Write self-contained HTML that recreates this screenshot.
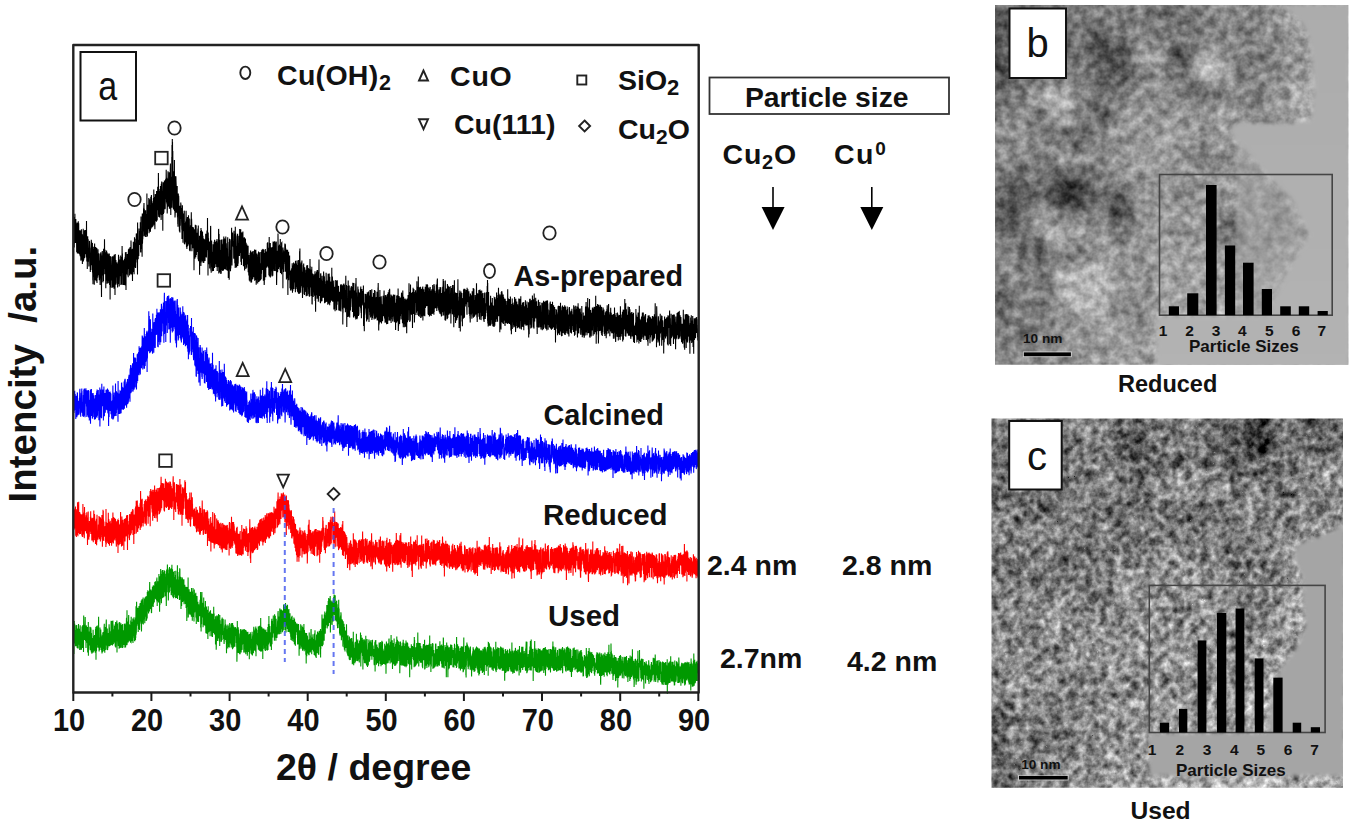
<!DOCTYPE html>
<html><head><meta charset="utf-8">
<style>
html,body{margin:0;padding:0;background:#fff;width:1356px;height:828px;overflow:hidden}
svg{display:block}
text{font-family:"Liberation Sans",sans-serif;font-weight:bold;fill:#111}
.reg{font-weight:normal}
</style></head>
<body>
<svg width="1356" height="828" viewBox="0 0 1356 828">
<rect width="1356" height="828" fill="#fff"/>
<!-- curves -->
<g><polyline fill="none" stroke="#000000" stroke-width="1.1" stroke-linejoin="miter" points="73.8,230.5 73.9,247.2 74.0,217.1 74.2,247.4 74.3,223.7 74.4,228.0 74.5,243.3 74.7,227.8 74.8,233.2 74.9,213.8 75.0,241.1 75.2,233.2 75.3,225.6 75.4,242.9 75.5,224.9 75.7,230.7 75.8,219.0 75.9,229.2 76.0,222.0 76.2,224.4 76.3,242.8 76.4,225.5 76.5,233.4 76.7,252.2 76.8,251.7 76.9,243.2 77.0,236.6 77.2,227.1 77.3,223.1 77.4,253.5 77.5,236.9 77.7,222.4 77.8,241.6 77.9,247.6 78.0,241.9 78.2,253.5 78.3,221.3 78.4,239.8 78.5,237.6 78.7,223.3 78.8,245.1 78.9,253.3 79.0,244.1 79.2,232.2 79.3,254.1 79.4,242.3 79.5,242.8 79.7,252.2 79.8,230.3 79.9,255.5 80.0,250.9 80.2,255.1 80.3,233.6 80.4,256.5 80.5,234.3 80.7,230.6 80.8,259.4 80.9,259.9 81.0,260.7 81.2,246.0 81.3,238.9 81.4,229.2 81.5,252.8 81.7,255.6 81.8,259.8 81.9,239.5 82.0,237.0 82.2,252.5 82.3,258.5 82.4,264.1 82.5,234.2 82.7,246.2 82.8,261.2 82.9,243.7 83.0,249.7 83.2,228.8 83.3,252.5 83.4,261.4 83.5,257.9 83.7,260.0 83.8,251.8 83.9,236.6 84.0,255.8 84.2,235.5 84.3,258.2 84.4,230.3 84.5,258.3 84.7,234.3 84.8,242.2 84.9,240.3 85.0,254.2 85.2,235.7 85.3,243.9 85.4,229.9 85.5,239.5 85.7,245.5 85.8,234.2 85.9,253.6 86.0,244.7 86.2,257.4 86.3,255.0 86.4,247.1 86.5,221.1 86.7,254.8 86.8,261.5 86.9,244.7 87.0,252.2 87.2,239.8 87.3,269.0 87.4,242.0 87.5,242.7 87.7,236.3 87.8,243.2 87.9,261.8 88.0,259.7 88.2,239.3 88.3,248.5 88.4,250.4 88.5,259.5 88.7,252.1 88.8,257.1 88.9,266.4 89.0,262.5 89.2,249.7 89.3,252.8 89.4,250.1 89.5,240.9 89.7,244.3 89.8,247.3 89.9,248.4 90.0,248.4 90.2,257.9 90.3,272.1 90.4,265.0 90.5,265.6 90.7,264.4 90.8,258.5 90.9,270.0 91.0,261.7 91.2,254.9 91.3,239.7 91.4,254.4 91.5,244.5 91.6,241.7 91.8,255.2 91.9,265.3 92.0,247.8 92.1,265.0 92.3,256.4 92.4,243.1 92.5,272.6 92.6,252.7 92.8,280.2 92.9,269.2 93.0,284.3 93.1,265.9 93.3,246.7 93.4,254.4 93.5,249.0 93.6,271.2 93.8,255.5 93.9,276.8 94.0,264.6 94.1,267.5 94.3,284.7 94.4,254.4 94.5,257.9 94.6,243.6 94.8,251.6 94.9,280.0 95.0,272.0 95.1,258.1 95.3,268.4 95.4,259.3 95.5,259.5 95.6,264.1 95.8,246.9 95.9,264.1 96.0,281.2 96.1,257.0 96.3,273.6 96.4,262.8 96.5,254.6 96.6,279.5 96.8,248.0 96.9,258.3 97.0,283.1 97.1,257.0 97.3,277.9 97.4,269.3 97.5,276.5 97.6,270.4 97.8,260.9 97.9,275.2 98.0,249.2 98.1,264.2 98.3,261.7 98.4,265.5 98.5,253.3 98.6,256.8 98.8,269.0 98.9,263.0 99.0,277.5 99.1,271.0 99.3,280.3 99.4,275.9 99.5,271.4 99.6,260.5 99.8,278.2 99.9,259.5 100.0,253.4 100.1,284.9 100.3,270.1 100.4,278.4 100.5,269.8 100.6,272.8 100.8,252.3 100.9,257.7 101.0,274.9 101.1,271.2 101.3,256.5 101.4,284.4 101.5,296.9 101.6,268.5 101.8,255.4 101.9,275.4 102.0,259.7 102.1,254.5 102.3,251.1 102.4,255.5 102.5,255.9 102.6,267.8 102.8,264.6 102.9,282.3 103.0,282.0 103.1,276.3 103.3,271.8 103.4,277.7 103.5,281.0 103.6,248.7 103.8,252.0 103.9,260.5 104.0,251.1 104.1,268.9 104.3,257.0 104.4,257.2 104.5,239.2 104.6,251.6 104.8,274.2 104.9,271.2 105.0,269.8 105.1,249.8 105.3,263.8 105.4,272.9 105.5,254.5 105.6,262.7 105.8,288.2 105.9,252.3 106.0,257.1 106.1,264.1 106.3,265.9 106.4,280.7 106.5,260.9 106.6,250.6 106.8,278.8 106.9,252.1 107.0,253.2 107.1,283.7 107.3,276.4 107.4,261.9 107.5,254.8 107.6,263.8 107.8,262.2 107.9,281.0 108.0,265.2 108.1,253.5 108.3,283.2 108.4,272.7 108.5,255.2 108.6,255.3 108.8,267.8 108.9,254.9 109.0,273.9 109.1,273.6 109.3,253.4 109.4,280.7 109.5,280.2 109.6,284.9 109.7,276.5 109.9,277.5 110.0,259.2 110.1,299.4 110.2,256.1 110.4,287.6 110.5,276.6 110.6,287.2 110.7,266.4 110.9,280.6 111.0,256.7 111.1,260.2 111.2,264.1 111.4,273.6 111.5,273.9 111.6,271.8 111.7,269.2 111.9,274.5 112.0,288.0 112.1,270.3 112.2,283.5 112.4,256.3 112.5,267.8 112.6,273.8 112.7,275.9 112.9,263.0 113.0,268.2 113.1,287.3 113.2,276.9 113.4,274.8 113.5,256.7 113.6,256.3 113.7,261.9 113.9,259.4 114.0,288.8 114.1,254.8 114.2,267.5 114.4,256.9 114.5,277.1 114.6,256.6 114.7,257.4 114.9,257.9 115.0,295.0 115.1,275.2 115.2,254.1 115.4,264.6 115.5,265.2 115.6,284.1 115.7,281.4 115.9,260.0 116.0,283.7 116.1,284.6 116.2,261.9 116.4,277.6 116.5,262.7 116.6,264.3 116.7,273.1 116.9,274.1 117.0,272.6 117.1,274.7 117.2,263.4 117.4,283.0 117.5,265.6 117.6,287.6 117.7,273.8 117.9,266.4 118.0,261.8 118.1,272.6 118.2,268.7 118.4,277.2 118.5,254.8 118.6,256.6 118.7,284.1 118.9,256.8 119.0,283.6 119.1,282.9 119.2,286.6 119.4,277.3 119.5,259.5 119.6,269.1 119.7,268.8 119.9,275.2 120.0,266.2 120.1,276.2 120.2,259.5 120.4,264.4 120.5,270.8 120.6,266.5 120.7,255.6 120.9,284.9 121.0,275.1 121.1,279.8 121.2,263.1 121.4,283.5 121.5,278.7 121.6,284.4 121.7,257.0 121.9,266.8 122.0,263.5 122.1,246.1 122.2,258.8 122.4,253.6 122.5,266.8 122.6,272.5 122.7,263.7 122.9,284.9 123.0,264.6 123.1,261.0 123.2,279.1 123.4,267.0 123.5,260.3 123.6,260.9 123.7,284.2 123.9,284.7 124.0,273.7 124.1,260.8 124.2,276.1 124.4,258.7 124.5,262.4 124.6,270.2 124.7,265.2 124.9,263.4 125.0,285.3 125.1,257.0 125.2,272.5 125.4,252.2 125.5,254.0 125.6,258.1 125.7,285.6 125.9,276.1 126.0,290.1 126.1,251.9 126.2,274.1 126.4,265.5 126.5,264.5 126.6,274.6 126.7,260.3 126.9,267.4 127.0,258.2 127.1,262.6 127.2,267.5 127.3,253.9 127.5,257.9 127.6,262.7 127.7,264.3 127.8,275.6 128.0,269.7 128.1,266.6 128.2,277.2 128.3,253.0 128.5,249.3 128.6,259.3 128.7,249.8 128.8,264.4 129.0,264.7 129.1,248.6 129.2,269.1 129.3,263.1 129.5,258.1 129.6,275.4 129.7,273.0 129.8,250.1 130.0,247.9 130.1,274.4 130.2,247.1 130.3,268.3 130.5,252.3 130.6,253.8 130.7,260.6 130.8,273.7 131.0,240.6 131.1,246.2 131.2,266.0 131.3,254.2 131.5,250.3 131.6,274.4 131.7,249.3 131.8,265.3 132.0,274.2 132.1,266.8 132.2,264.8 132.3,265.2 132.5,280.9 132.6,248.8 132.7,261.5 132.8,267.7 133.0,270.6 133.1,271.2 133.2,271.0 133.3,241.8 133.5,251.7 133.6,254.4 133.7,270.0 133.8,252.7 134.0,247.0 134.1,274.2 134.2,247.5 134.3,265.1 134.5,237.3 134.6,242.4 134.7,247.4 134.8,255.2 135.0,248.8 135.1,267.4 135.2,242.7 135.3,255.3 135.5,262.9 135.6,268.1 135.7,265.9 135.8,238.8 136.0,262.4 136.1,257.9 136.2,248.3 136.3,233.6 136.5,238.5 136.6,259.4 136.7,234.8 136.8,242.8 137.0,240.3 137.1,257.9 137.2,243.4 137.3,233.0 137.5,274.5 137.6,222.5 137.7,254.8 137.8,239.8 138.0,253.0 138.1,246.9 138.2,259.2 138.3,253.0 138.5,240.5 138.6,242.8 138.7,241.8 138.8,256.0 139.0,228.4 139.1,238.4 139.2,242.0 139.3,237.8 139.5,243.2 139.6,239.0 139.7,235.3 139.8,244.9 140.0,231.1 140.1,240.9 140.2,244.9 140.3,222.2 140.5,229.0 140.6,251.6 140.7,251.9 140.8,252.4 141.0,216.4 141.1,245.3 141.2,248.9 141.3,247.2 141.5,239.8 141.6,237.9 141.7,239.1 141.8,233.2 142.0,240.8 142.1,256.7 142.2,218.8 142.3,213.4 142.5,243.7 142.6,237.5 142.7,215.3 142.8,239.3 143.0,219.1 143.1,231.4 143.2,220.5 143.3,214.7 143.5,212.9 143.6,208.6 143.7,208.3 143.8,207.8 144.0,203.0 144.1,236.3 144.2,223.9 144.3,208.8 144.5,223.6 144.6,224.0 144.7,221.9 144.8,210.6 145.0,219.1 145.1,235.5 145.2,216.6 145.3,221.0 145.4,237.1 145.6,210.2 145.7,228.8 145.8,219.4 145.9,230.8 146.1,214.2 146.2,221.0 146.3,214.1 146.4,233.0 146.6,234.7 146.7,223.6 146.8,236.9 146.9,193.6 147.1,230.7 147.2,233.0 147.3,208.9 147.4,236.3 147.6,213.1 147.7,217.1 147.8,204.7 147.9,229.3 148.1,210.4 148.2,223.9 148.3,205.6 148.4,210.6 148.6,211.7 148.7,205.9 148.8,198.0 148.9,226.3 149.1,233.2 149.2,205.1 149.3,202.5 149.4,209.6 149.6,199.3 149.7,221.2 149.8,210.2 149.9,217.6 150.1,230.9 150.2,229.1 150.3,231.3 150.4,231.8 150.6,218.3 150.7,214.9 150.8,196.7 150.9,199.2 151.1,215.5 151.2,228.4 151.3,211.9 151.4,195.1 151.6,203.2 151.7,224.5 151.8,201.0 151.9,202.6 152.1,205.9 152.2,218.5 152.3,227.3 152.4,203.2 152.6,218.0 152.7,215.3 152.8,211.9 152.9,217.1 153.1,226.2 153.2,202.8 153.3,213.7 153.4,197.9 153.6,214.1 153.7,224.8 153.8,189.4 153.9,212.1 154.1,204.8 154.2,215.7 154.3,207.2 154.4,196.9 154.6,212.6 154.7,223.0 154.8,226.2 154.9,229.2 155.1,204.9 155.2,199.9 155.3,193.9 155.4,206.2 155.6,220.3 155.7,197.3 155.8,221.0 155.9,215.0 156.1,194.5 156.2,210.9 156.3,217.9 156.4,221.8 156.6,191.1 156.7,216.6 156.8,214.4 156.9,193.1 157.1,194.7 157.2,220.4 157.3,196.7 157.4,193.5 157.6,210.2 157.7,186.8 157.8,200.4 157.9,195.3 158.1,202.4 158.2,204.6 158.3,205.9 158.4,173.1 158.6,215.4 158.7,213.3 158.8,217.1 158.9,197.8 159.1,209.0 159.2,197.1 159.3,191.0 159.4,205.8 159.6,217.4 159.7,211.8 159.8,191.3 159.9,189.0 160.1,210.6 160.2,208.0 160.3,214.3 160.4,186.0 160.6,214.4 160.7,197.4 160.8,191.2 160.9,194.0 161.1,219.9 161.2,218.4 161.3,183.8 161.4,193.1 161.6,209.1 161.7,182.0 161.8,182.0 161.9,182.3 162.1,215.0 162.2,193.7 162.3,193.1 162.4,211.9 162.6,192.9 162.7,209.5 162.8,230.8 162.9,191.6 163.0,195.0 163.2,186.1 163.3,182.2 163.4,213.8 163.5,213.5 163.7,197.0 163.8,205.9 163.9,212.7 164.0,193.6 164.2,206.2 164.3,207.7 164.4,180.4 164.5,182.6 164.7,206.9 164.8,204.8 164.9,183.8 165.0,209.2 165.2,207.9 165.3,188.9 165.4,188.9 165.5,179.4 165.7,192.6 165.8,178.8 165.9,195.8 166.0,198.8 166.2,169.8 166.3,175.9 166.4,197.6 166.5,202.5 166.7,177.7 166.8,195.5 166.9,204.2 167.0,178.8 167.2,213.6 167.3,209.6 167.4,198.9 167.5,205.1 167.7,180.7 167.8,196.4 167.9,206.8 168.0,171.2 168.2,202.4 168.3,178.9 168.4,201.6 168.5,195.2 168.7,201.6 168.8,185.5 168.9,187.5 169.0,206.6 169.2,172.2 169.3,175.7 169.4,208.7 169.5,206.3 169.7,175.4 169.8,208.8 169.9,180.2 170.0,205.4 170.2,205.9 170.3,170.3 170.4,163.6 170.5,182.5 170.7,206.8 170.8,215.0 170.9,184.8 171.0,203.7 171.2,181.5 171.3,183.1 171.4,176.7 171.5,207.7 171.7,201.4 171.8,157.0 171.9,179.7 172.0,145.0 172.2,185.1 172.3,139.0 172.4,186.3 172.5,142.0 172.7,200.4 172.8,151.0 172.9,207.7 173.0,196.9 173.2,172.6 173.3,203.8 173.4,209.4 173.5,204.2 173.7,171.3 173.8,190.1 173.9,195.0 174.0,207.2 174.2,192.1 174.3,175.5 174.4,159.9 174.5,211.1 174.7,192.9 174.8,176.1 174.9,207.8 175.0,217.5 175.2,214.0 175.3,176.2 175.4,193.8 175.5,188.3 175.7,181.9 175.8,207.4 175.9,176.3 176.0,181.1 176.2,185.5 176.3,212.7 176.4,205.5 176.5,190.8 176.7,210.4 176.8,188.9 176.9,210.9 177.0,210.9 177.2,186.1 177.3,206.7 177.4,215.8 177.5,217.8 177.7,216.4 177.8,224.1 177.9,219.7 178.0,226.8 178.2,207.7 178.3,193.4 178.4,199.8 178.5,204.6 178.7,195.7 178.8,198.9 178.9,215.4 179.0,205.7 179.2,207.5 179.3,225.8 179.4,230.7 179.5,231.5 179.7,212.9 179.8,226.5 179.9,232.5 180.0,205.8 180.2,208.1 180.3,225.8 180.4,211.4 180.5,208.9 180.7,215.9 180.8,202.6 180.9,219.1 181.0,204.2 181.1,212.0 181.3,211.1 181.4,215.6 181.5,207.9 181.6,221.3 181.8,229.8 181.9,216.4 182.0,239.1 182.1,236.6 182.3,215.5 182.4,205.3 182.5,233.4 182.6,213.3 182.8,216.9 182.9,226.5 183.0,242.8 183.1,216.1 183.3,222.8 183.4,229.0 183.5,231.3 183.6,213.5 183.8,228.4 183.9,226.6 184.0,231.2 184.1,210.7 184.3,211.4 184.4,244.0 184.5,238.4 184.6,238.8 184.8,243.1 184.9,244.4 185.0,223.0 185.1,237.0 185.3,233.0 185.4,230.1 185.5,234.9 185.6,221.5 185.8,242.4 185.9,225.3 186.0,215.8 186.1,210.8 186.3,234.9 186.4,219.6 186.5,247.3 186.6,218.7 186.8,223.5 186.9,249.0 187.0,231.6 187.1,246.9 187.3,241.8 187.4,216.9 187.5,220.7 187.6,227.3 187.8,246.0 187.9,225.5 188.0,230.5 188.1,231.2 188.3,225.4 188.4,242.8 188.5,215.3 188.6,221.8 188.8,244.4 188.9,236.6 189.0,232.7 189.1,227.4 189.3,218.4 189.4,230.7 189.5,250.6 189.6,235.9 189.8,235.2 189.9,250.8 190.0,246.9 190.1,251.2 190.3,249.5 190.4,238.8 190.5,225.3 190.6,237.4 190.8,227.0 190.9,244.4 191.0,219.3 191.1,231.6 191.3,212.3 191.4,231.6 191.5,237.3 191.6,218.7 191.8,225.9 191.9,251.2 192.0,240.3 192.1,229.7 192.3,235.7 192.4,245.6 192.5,246.4 192.6,248.3 192.8,228.5 192.9,227.0 193.0,242.3 193.1,238.5 193.3,240.2 193.4,227.5 193.5,231.7 193.6,248.2 193.8,233.8 193.9,248.9 194.0,270.2 194.1,256.6 194.3,229.2 194.4,239.4 194.5,256.0 194.6,231.4 194.8,230.5 194.9,258.8 195.0,255.9 195.1,242.1 195.3,224.7 195.4,245.0 195.5,231.9 195.6,230.6 195.8,257.3 195.9,245.7 196.0,239.3 196.1,225.2 196.3,236.7 196.4,255.0 196.5,234.3 196.6,235.1 196.8,245.7 196.9,232.7 197.0,244.1 197.1,252.0 197.3,234.3 197.4,241.2 197.5,245.2 197.6,237.4 197.8,232.4 197.9,228.5 198.0,245.3 198.1,259.2 198.3,225.5 198.4,256.9 198.5,260.7 198.6,245.4 198.7,261.3 198.9,251.8 199.0,246.2 199.1,243.4 199.2,243.8 199.4,252.0 199.5,235.8 199.6,274.7 199.7,245.8 199.9,252.8 200.0,262.8 200.1,237.0 200.2,243.5 200.4,238.9 200.5,230.9 200.6,252.0 200.7,252.4 200.9,266.1 201.0,228.0 201.1,244.0 201.2,262.6 201.4,230.1 201.5,240.6 201.6,257.1 201.7,235.3 201.9,242.6 202.0,260.4 202.1,241.7 202.2,237.9 202.4,261.5 202.5,231.5 202.6,259.9 202.7,239.9 202.9,235.7 203.0,245.8 203.1,245.4 203.2,262.9 203.4,254.9 203.5,244.0 203.6,247.5 203.7,238.5 203.9,262.7 204.0,240.7 204.1,258.9 204.2,250.4 204.4,259.8 204.5,239.2 204.6,241.5 204.7,239.7 204.9,256.5 205.0,261.1 205.1,256.5 205.2,243.0 205.4,256.9 205.5,253.4 205.6,245.9 205.7,233.8 205.9,236.0 206.0,253.2 206.1,234.9 206.2,248.3 206.4,257.4 206.5,252.2 206.6,250.8 206.7,238.1 206.9,233.3 207.0,230.4 207.1,231.1 207.2,238.0 207.4,250.1 207.5,218.0 207.6,237.6 207.7,241.4 207.9,247.3 208.0,275.4 208.1,254.8 208.2,232.6 208.4,248.8 208.5,238.3 208.6,262.8 208.7,264.1 208.9,252.3 209.0,259.1 209.1,257.5 209.2,262.5 209.4,243.1 209.5,241.6 209.6,260.6 209.7,268.6 209.9,242.3 210.0,254.9 210.1,254.2 210.2,248.3 210.4,262.2 210.5,240.0 210.6,225.9 210.7,226.7 210.9,270.5 211.0,260.9 211.1,262.0 211.2,272.7 211.4,244.7 211.5,258.5 211.6,240.6 211.7,242.6 211.9,262.0 212.0,266.8 212.1,259.8 212.2,257.7 212.4,265.3 212.5,271.2 212.6,270.0 212.7,265.7 212.9,251.8 213.0,263.8 213.1,244.3 213.2,268.5 213.4,245.7 213.5,270.9 213.6,246.1 213.7,244.6 213.9,247.0 214.0,252.3 214.1,241.8 214.2,244.0 214.4,266.4 214.5,268.0 214.6,239.8 214.7,250.2 214.9,249.4 215.0,264.2 215.1,258.1 215.2,249.0 215.4,262.9 215.5,256.3 215.6,242.1 215.7,263.3 215.9,251.6 216.0,267.0 216.1,259.2 216.2,240.8 216.4,262.9 216.5,256.8 216.6,255.6 216.7,251.4 216.8,260.4 217.0,238.9 217.1,255.1 217.2,271.0 217.3,244.7 217.5,242.5 217.6,252.6 217.7,256.8 217.8,251.8 218.0,255.8 218.1,262.9 218.2,267.3 218.3,240.6 218.5,252.7 218.6,228.9 218.7,230.8 218.8,273.5 219.0,262.4 219.1,234.0 219.2,255.5 219.3,244.6 219.5,241.6 219.6,263.9 219.7,272.6 219.8,267.8 220.0,239.8 220.1,240.3 220.2,257.4 220.3,259.4 220.5,260.5 220.6,270.1 220.7,270.8 220.8,273.9 221.0,250.1 221.1,254.8 221.2,273.6 221.3,262.8 221.5,239.4 221.6,270.0 221.7,259.3 221.8,243.8 222.0,249.2 222.1,257.4 222.2,259.9 222.3,251.0 222.5,263.0 222.6,255.2 222.7,271.0 222.8,266.5 223.0,241.0 223.1,239.2 223.2,266.3 223.3,257.3 223.5,270.6 223.6,251.0 223.7,241.6 223.8,236.5 224.0,262.9 224.1,238.1 224.2,258.4 224.3,255.5 224.5,261.9 224.6,269.3 224.7,243.8 224.8,252.7 225.0,262.5 225.1,242.7 225.2,238.8 225.3,240.6 225.5,269.4 225.6,264.3 225.7,243.0 225.8,236.4 226.0,259.0 226.1,247.6 226.2,244.3 226.3,243.3 226.5,253.3 226.6,248.6 226.7,270.3 226.8,256.8 227.0,268.9 227.1,269.8 227.2,269.0 227.3,254.4 227.5,257.6 227.6,255.8 227.7,237.2 227.8,270.9 228.0,242.1 228.1,256.7 228.2,261.5 228.3,277.9 228.5,256.6 228.6,260.2 228.7,267.1 228.8,260.6 229.0,261.5 229.1,268.5 229.2,279.8 229.3,256.5 229.5,238.7 229.6,243.3 229.7,238.9 229.8,269.4 230.0,249.9 230.1,256.8 230.2,266.5 230.3,262.8 230.5,271.3 230.6,255.3 230.7,262.8 230.8,268.6 231.0,240.6 231.1,253.5 231.2,239.3 231.3,256.0 231.5,246.7 231.6,227.8 231.7,251.6 231.8,240.0 232.0,265.5 232.1,248.7 232.2,233.5 232.3,242.2 232.5,246.0 232.6,232.6 232.7,236.4 232.8,241.8 233.0,243.1 233.1,246.5 233.2,241.2 233.3,241.9 233.5,247.0 233.6,242.9 233.7,257.4 233.8,258.6 234.0,230.7 234.1,236.1 234.2,234.0 234.3,243.3 234.4,243.5 234.6,258.0 234.7,257.5 234.8,263.3 234.9,256.2 235.1,253.1 235.2,267.9 235.3,226.7 235.4,246.1 235.6,243.2 235.7,233.4 235.8,266.8 235.9,259.9 236.1,246.2 236.2,264.5 236.3,260.4 236.4,249.5 236.6,267.4 236.7,265.0 236.8,248.6 236.9,247.8 237.1,237.5 237.2,235.6 237.3,244.7 237.4,239.4 237.6,233.8 237.7,258.0 237.8,266.1 237.9,255.9 238.1,263.7 238.2,262.2 238.3,253.8 238.4,249.1 238.6,242.9 238.7,247.8 238.8,241.3 238.9,235.7 239.1,247.4 239.2,253.4 239.3,250.6 239.4,256.1 239.6,241.4 239.7,229.1 239.8,236.8 239.9,239.6 240.1,249.2 240.2,243.2 240.3,253.0 240.4,237.3 240.6,246.2 240.7,229.3 240.8,254.2 240.9,260.7 241.1,260.5 241.2,261.1 241.3,236.5 241.4,265.1 241.6,249.6 241.7,236.4 241.8,233.1 241.9,232.4 242.1,253.1 242.2,252.9 242.3,258.8 242.4,254.3 242.6,249.4 242.7,236.8 242.8,257.6 242.9,231.5 243.1,255.4 243.2,237.8 243.3,237.9 243.4,265.1 243.6,266.1 243.7,259.0 243.8,241.6 243.9,250.6 244.1,246.5 244.2,238.7 244.3,243.3 244.4,237.2 244.6,270.4 244.7,244.3 244.8,250.1 244.9,245.4 245.1,260.3 245.2,257.5 245.3,265.1 245.4,238.5 245.6,245.7 245.7,260.2 245.8,259.7 245.9,268.9 246.1,242.8 246.2,253.5 246.3,255.0 246.4,259.2 246.6,253.8 246.7,267.7 246.8,245.6 246.9,244.4 247.1,253.7 247.2,246.0 247.3,257.1 247.4,264.0 247.6,246.7 247.7,260.3 247.8,263.9 247.9,264.5 248.1,245.8 248.2,272.3 248.3,270.7 248.4,255.9 248.6,262.3 248.7,271.9 248.8,275.5 248.9,254.9 249.1,273.6 249.2,261.5 249.3,280.4 249.4,277.9 249.6,259.7 249.7,259.9 249.8,264.5 249.9,281.4 250.1,252.7 250.2,267.2 250.3,270.8 250.4,273.4 250.6,250.5 250.7,269.4 250.8,264.3 250.9,260.4 251.1,282.8 251.2,252.3 251.3,273.7 251.4,255.9 251.6,282.2 251.7,266.5 251.8,264.9 251.9,257.7 252.1,267.8 252.2,279.5 252.3,251.6 252.4,272.3 252.5,254.2 252.7,257.0 252.8,279.2 252.9,251.6 253.0,274.9 253.2,251.1 253.3,267.0 253.4,271.0 253.5,254.2 253.7,277.3 253.8,256.8 253.9,265.7 254.0,257.4 254.2,275.9 254.3,257.8 254.4,258.2 254.5,249.4 254.7,280.7 254.8,250.1 254.9,260.0 255.0,271.8 255.2,260.7 255.3,270.1 255.4,261.9 255.5,280.1 255.7,254.6 255.8,249.7 255.9,252.5 256.0,267.5 256.2,284.7 256.3,278.4 256.4,282.7 256.5,263.1 256.7,278.0 256.8,263.2 256.9,261.9 257.0,253.5 257.2,279.4 257.3,260.5 257.4,271.4 257.5,266.7 257.7,283.6 257.8,257.3 257.9,267.7 258.0,276.0 258.2,254.8 258.3,277.0 258.4,267.6 258.5,251.4 258.7,281.9 258.8,262.2 258.9,264.4 259.0,275.2 259.2,281.6 259.3,256.1 259.4,252.2 259.5,273.7 259.7,271.3 259.8,263.2 259.9,270.3 260.0,280.8 260.2,277.2 260.3,267.6 260.4,279.7 260.5,279.9 260.7,275.0 260.8,252.0 260.9,267.8 261.0,269.5 261.2,279.2 261.3,266.4 261.4,269.9 261.5,273.7 261.7,251.4 261.8,250.5 261.9,249.7 262.0,252.5 262.2,257.8 262.3,250.5 262.4,269.9 262.5,269.1 262.7,264.9 262.8,249.1 262.9,267.2 263.0,253.2 263.2,248.9 263.3,276.8 263.4,280.8 263.5,251.0 263.7,271.7 263.8,250.1 263.9,268.7 264.0,270.0 264.2,285.0 264.3,282.7 264.4,269.2 264.5,253.1 264.7,280.1 264.8,257.5 264.9,265.8 265.0,261.8 265.2,274.8 265.3,249.0 265.4,258.8 265.5,261.2 265.7,266.4 265.8,277.2 265.9,255.4 266.0,256.7 266.2,268.1 266.3,251.4 266.4,261.8 266.5,254.9 266.7,265.4 266.8,263.7 266.9,267.2 267.0,257.9 267.2,250.8 267.3,242.9 267.4,263.6 267.5,250.1 267.7,242.2 267.8,255.3 267.9,251.7 268.0,266.2 268.2,252.5 268.3,255.0 268.4,267.7 268.5,265.9 268.7,247.7 268.8,263.0 268.9,275.3 269.0,274.6 269.2,236.9 269.3,252.4 269.4,276.6 269.5,249.6 269.7,256.9 269.8,246.7 269.9,262.8 270.0,268.4 270.1,267.1 270.3,242.9 270.4,277.6 270.5,253.6 270.6,268.9 270.8,275.5 270.9,270.2 271.0,261.0 271.1,261.4 271.3,247.2 271.4,255.6 271.5,271.2 271.6,266.1 271.8,265.4 271.9,265.9 272.0,253.9 272.1,276.4 272.3,253.2 272.4,247.8 272.5,264.9 272.6,247.0 272.8,275.7 272.9,261.3 273.0,244.9 273.1,241.4 273.3,261.9 273.4,241.8 273.5,242.1 273.6,254.9 273.8,256.1 273.9,269.6 274.0,244.5 274.1,270.9 274.3,254.2 274.4,270.2 274.5,245.0 274.6,241.2 274.8,255.1 274.9,247.1 275.0,256.5 275.1,268.8 275.3,271.1 275.4,242.5 275.5,248.6 275.6,250.3 275.8,245.7 275.9,256.2 276.0,241.4 276.1,246.5 276.3,241.8 276.4,255.9 276.5,273.2 276.6,284.9 276.8,271.3 276.9,250.7 277.0,266.1 277.1,269.5 277.3,260.9 277.4,264.9 277.5,261.6 277.6,272.2 277.8,266.6 277.9,253.5 278.0,233.6 278.1,243.7 278.3,256.3 278.4,246.0 278.5,246.0 278.6,269.1 278.8,262.4 278.9,256.5 279.0,267.3 279.1,255.8 279.3,251.0 279.4,261.5 279.5,258.7 279.6,244.4 279.8,248.4 279.9,257.2 280.0,245.0 280.1,270.2 280.3,239.1 280.4,269.1 280.5,273.1 280.6,260.2 280.8,246.0 280.9,267.7 281.0,254.8 281.1,264.8 281.3,251.1 281.4,247.7 281.5,274.3 281.6,243.0 281.8,242.7 281.9,268.9 282.0,268.8 282.1,252.4 282.3,254.9 282.4,266.3 282.5,263.3 282.6,265.1 282.8,257.6 282.9,288.2 283.0,247.6 283.1,264.9 283.3,249.8 283.4,254.4 283.5,253.1 283.6,271.9 283.8,263.2 283.9,254.4 284.0,261.7 284.1,259.1 284.3,262.0 284.4,251.2 284.5,256.1 284.6,259.1 284.8,245.8 284.9,243.5 285.0,264.1 285.1,250.5 285.3,271.8 285.4,244.3 285.5,251.5 285.6,266.1 285.8,248.6 285.9,259.0 286.0,254.9 286.1,254.1 286.3,253.1 286.4,279.6 286.5,256.6 286.6,249.8 286.8,278.2 286.9,251.9 287.0,272.6 287.1,270.1 287.3,272.6 287.4,274.9 287.5,254.4 287.6,249.7 287.7,263.9 287.9,295.0 288.0,257.9 288.1,278.4 288.2,254.2 288.4,268.2 288.5,269.6 288.6,251.8 288.7,280.3 288.9,264.8 289.0,268.6 289.1,258.6 289.2,267.2 289.4,269.4 289.5,274.9 289.6,255.4 289.7,269.4 289.9,271.8 290.0,288.2 290.1,275.9 290.2,279.3 290.4,270.9 290.5,273.0 290.6,290.1 290.7,270.5 290.9,290.8 291.0,277.5 291.1,288.3 291.2,276.6 291.4,285.2 291.5,285.3 291.6,270.2 291.7,268.3 291.9,289.5 292.0,268.4 292.1,284.2 292.2,263.3 292.4,274.1 292.5,292.8 292.6,266.9 292.7,265.6 292.9,290.8 293.0,280.7 293.1,273.7 293.2,277.5 293.4,287.0 293.5,281.3 293.6,262.5 293.7,265.5 293.9,289.1 294.0,277.7 294.1,279.0 294.2,264.4 294.4,263.6 294.5,266.4 294.6,270.3 294.7,278.4 294.9,272.1 295.0,282.6 295.1,274.2 295.2,277.1 295.4,292.2 295.5,260.8 295.6,281.3 295.7,284.7 295.9,265.5 296.0,288.9 296.1,263.5 296.2,287.0 296.4,265.8 296.5,273.8 296.6,272.7 296.7,278.8 296.9,281.0 297.0,260.5 297.1,287.2 297.2,277.3 297.4,290.8 297.5,265.1 297.6,274.6 297.7,292.2 297.9,281.2 298.0,276.9 298.1,275.7 298.2,291.0 298.4,259.9 298.5,293.7 298.6,275.9 298.7,287.9 298.9,276.3 299.0,288.0 299.1,263.0 299.2,274.2 299.4,286.0 299.5,293.7 299.6,251.2 299.7,261.9 299.9,248.4 300.0,281.4 300.1,264.3 300.2,266.2 300.4,276.2 300.5,264.6 300.6,290.3 300.7,292.8 300.9,284.6 301.0,287.7 301.1,270.2 301.2,262.6 301.4,283.9 301.5,286.2 301.6,283.0 301.7,265.4 301.9,260.4 302.0,278.6 302.1,264.9 302.2,270.0 302.4,276.4 302.5,297.9 302.6,292.4 302.7,271.7 302.9,280.1 303.0,294.3 303.1,284.2 303.2,274.7 303.4,287.4 303.5,268.5 303.6,265.6 303.7,263.5 303.9,285.1 304.0,284.9 304.1,285.4 304.2,285.6 304.4,282.6 304.5,294.9 304.6,278.6 304.7,267.2 304.9,271.5 305.0,277.0 305.1,283.9 305.2,275.3 305.4,277.9 305.5,273.1 305.6,287.9 305.7,291.9 305.8,274.7 306.0,290.4 306.1,269.8 306.2,296.3 306.3,275.3 306.5,285.7 306.6,283.7 306.7,266.0 306.8,283.2 307.0,264.9 307.1,279.8 307.2,281.6 307.3,295.8 307.5,269.7 307.6,265.2 307.7,284.9 307.8,274.2 308.0,282.4 308.1,272.4 308.2,287.2 308.3,268.1 308.5,281.3 308.6,290.1 308.7,294.2 308.8,275.1 309.0,282.6 309.1,296.3 309.2,268.7 309.3,292.2 309.5,288.8 309.6,296.7 309.7,280.5 309.8,279.4 310.0,258.9 310.1,276.2 310.2,265.9 310.3,283.1 310.5,277.1 310.6,281.0 310.7,287.6 310.8,277.3 311.0,269.5 311.1,292.2 311.2,296.1 311.3,272.2 311.5,285.1 311.6,277.3 311.7,288.4 311.8,266.8 312.0,304.1 312.1,294.2 312.2,304.4 312.3,287.5 312.5,277.2 312.6,273.4 312.7,295.2 312.8,292.3 313.0,286.6 313.1,288.3 313.2,296.9 313.3,279.3 313.5,284.6 313.6,275.9 313.7,283.6 313.8,274.2 314.0,280.2 314.1,290.3 314.2,278.0 314.3,290.8 314.5,295.7 314.6,290.1 314.7,284.7 314.8,282.1 315.0,271.3 315.1,294.7 315.2,301.1 315.3,277.0 315.5,292.3 315.6,311.8 315.7,296.2 315.8,291.9 316.0,275.5 316.1,273.4 316.2,280.2 316.3,275.1 316.5,289.1 316.6,271.8 316.7,291.6 316.8,295.3 317.0,270.3 317.1,298.7 317.2,296.5 317.3,270.4 317.5,287.3 317.6,269.9 317.7,285.0 317.8,271.8 318.0,288.4 318.1,271.7 318.2,272.2 318.3,301.8 318.5,296.5 318.6,292.0 318.7,295.9 318.8,276.8 319.0,259.4 319.1,280.6 319.2,295.4 319.3,295.4 319.5,294.2 319.6,284.2 319.7,287.4 319.8,295.3 320.0,290.3 320.1,278.1 320.2,286.6 320.3,302.2 320.5,303.2 320.6,273.7 320.7,275.2 320.8,273.2 321.0,288.2 321.1,301.4 321.2,288.6 321.3,282.5 321.5,300.9 321.6,279.5 321.7,289.8 321.8,301.0 322.0,300.6 322.1,275.8 322.2,281.6 322.3,285.0 322.5,297.2 322.6,294.3 322.7,289.3 322.8,283.9 323.0,280.9 323.1,290.7 323.2,298.1 323.3,283.0 323.4,280.7 323.6,271.6 323.7,274.9 323.8,275.6 323.9,285.7 324.1,297.2 324.2,284.8 324.3,276.2 324.4,277.0 324.6,303.2 324.7,292.1 324.8,281.3 324.9,299.6 325.1,303.1 325.2,289.7 325.3,286.6 325.4,284.5 325.6,284.1 325.7,300.4 325.8,295.3 325.9,302.0 326.1,272.8 326.2,276.1 326.3,289.2 326.4,291.2 326.6,286.1 326.7,289.0 326.8,301.8 326.9,290.6 327.1,280.6 327.2,288.6 327.3,282.0 327.4,293.1 327.6,291.7 327.7,295.8 327.8,304.7 327.9,289.0 328.1,273.8 328.2,289.1 328.3,289.6 328.4,299.1 328.6,303.8 328.7,278.4 328.8,302.6 328.9,279.0 329.1,292.9 329.2,273.6 329.3,301.6 329.4,287.3 329.6,280.9 329.7,305.2 329.8,276.8 329.9,285.7 330.1,289.7 330.2,283.1 330.3,286.4 330.4,302.6 330.6,281.4 330.7,293.5 330.8,282.2 330.9,295.9 331.1,283.9 331.2,286.3 331.3,293.5 331.4,284.6 331.6,300.7 331.7,284.2 331.8,267.8 331.9,300.4 332.1,281.7 332.2,294.8 332.3,280.0 332.4,276.6 332.6,288.5 332.7,301.7 332.8,298.9 332.9,296.1 333.1,284.7 333.2,288.6 333.3,301.5 333.4,295.1 333.6,289.6 333.7,281.3 333.8,280.6 333.9,309.6 334.1,292.9 334.2,308.6 334.3,287.2 334.4,298.7 334.6,287.7 334.7,308.4 334.8,286.7 334.9,297.4 335.1,311.3 335.2,303.6 335.3,297.8 335.4,291.6 335.6,297.1 335.7,279.9 335.8,284.1 335.9,289.1 336.1,281.5 336.2,287.8 336.3,293.9 336.4,308.3 336.6,310.3 336.7,280.8 336.8,295.2 336.9,302.6 337.1,304.8 337.2,285.3 337.3,280.2 337.4,288.2 337.6,290.2 337.7,286.0 337.8,287.0 337.9,301.5 338.1,287.0 338.2,285.8 338.3,288.5 338.4,294.5 338.6,286.1 338.7,295.8 338.8,310.3 338.9,306.6 339.1,304.3 339.2,310.7 339.3,310.1 339.4,298.1 339.6,302.7 339.7,291.8 339.8,298.0 339.9,310.7 340.1,297.3 340.2,294.6 340.3,302.5 340.4,296.4 340.6,284.4 340.7,293.8 340.8,286.0 340.9,311.6 341.1,306.1 341.2,296.3 341.3,284.3 341.4,285.7 341.5,290.7 341.7,299.3 341.8,285.6 341.9,294.0 342.0,288.1 342.2,285.5 342.3,286.1 342.4,286.0 342.5,309.3 342.7,287.9 342.8,324.4 342.9,309.1 343.0,313.3 343.2,305.8 343.3,284.2 343.4,286.2 343.5,286.5 343.7,284.9 343.8,297.4 343.9,283.5 344.0,307.7 344.2,295.1 344.3,288.1 344.4,284.8 344.5,300.4 344.7,307.3 344.8,301.1 344.9,289.9 345.0,308.5 345.2,299.2 345.3,301.6 345.4,312.3 345.5,304.9 345.7,286.8 345.8,275.7 345.9,292.8 346.0,309.2 346.2,302.0 346.3,301.4 346.4,288.5 346.5,284.9 346.7,316.0 346.8,327.1 346.9,286.1 347.0,299.4 347.2,315.1 347.3,302.3 347.4,317.0 347.5,308.1 347.7,311.5 347.8,311.5 347.9,315.6 348.0,316.4 348.2,280.6 348.3,308.0 348.4,301.5 348.5,316.8 348.7,304.2 348.8,298.0 348.9,286.1 349.0,308.7 349.2,285.5 349.3,306.2 349.4,293.7 349.5,307.1 349.7,317.4 349.8,296.5 349.9,303.3 350.0,303.3 350.2,290.6 350.3,309.3 350.4,308.2 350.5,310.4 350.7,292.5 350.8,287.6 350.9,298.2 351.0,289.2 351.2,294.4 351.3,286.0 351.4,298.5 351.5,297.2 351.7,296.1 351.8,298.1 351.9,287.0 352.0,299.8 352.2,307.0 352.3,296.4 352.4,304.3 352.5,312.0 352.7,303.1 352.8,282.8 352.9,311.2 353.0,304.3 353.2,289.1 353.3,301.6 353.4,287.6 353.5,317.5 353.7,288.1 353.8,293.4 353.9,283.1 354.0,314.7 354.2,316.3 354.3,310.5 354.4,314.7 354.5,295.5 354.7,316.2 354.8,290.5 354.9,297.3 355.0,315.2 355.2,309.8 355.3,317.7 355.4,315.0 355.5,294.4 355.7,283.5 355.8,319.6 355.9,310.4 356.0,278.1 356.2,290.3 356.3,318.4 356.4,305.3 356.5,292.4 356.7,305.9 356.8,316.8 356.9,304.7 357.0,319.1 357.2,316.8 357.3,302.7 357.4,317.7 357.5,311.0 357.7,294.2 357.8,289.0 357.9,286.5 358.0,302.2 358.2,309.6 358.3,289.2 358.4,291.4 358.5,316.1 358.7,310.6 358.8,294.9 358.9,314.8 359.0,299.7 359.1,292.4 359.3,295.3 359.4,293.0 359.5,306.7 359.6,296.4 359.8,303.0 359.9,304.5 360.0,300.9 360.1,299.4 360.3,296.4 360.4,292.8 360.5,288.6 360.6,308.3 360.8,286.6 360.9,310.0 361.0,310.9 361.1,312.9 361.3,307.9 361.4,318.3 361.5,300.2 361.6,303.0 361.8,297.8 361.9,289.1 362.0,303.2 362.1,305.4 362.3,304.5 362.4,290.9 362.5,295.1 362.6,298.9 362.8,303.5 362.9,297.0 363.0,302.3 363.1,299.9 363.3,294.2 363.4,285.6 363.5,310.4 363.6,326.1 363.8,310.3 363.9,310.7 364.0,302.6 364.1,316.8 364.3,331.3 364.4,317.3 364.5,305.9 364.6,314.6 364.8,312.1 364.9,303.6 365.0,293.8 365.1,298.3 365.3,305.0 365.4,306.1 365.5,297.8 365.6,299.3 365.8,301.4 365.9,308.6 366.0,293.9 366.1,304.1 366.3,313.0 366.4,317.9 366.5,307.7 366.6,321.6 366.8,314.8 366.9,316.5 367.0,295.5 367.1,307.4 367.3,292.3 367.4,312.6 367.5,301.6 367.6,319.4 367.8,295.3 367.9,293.5 368.0,303.7 368.1,296.1 368.3,308.6 368.4,304.8 368.5,291.5 368.6,298.5 368.8,295.5 368.9,296.3 369.0,322.1 369.1,309.0 369.3,315.2 369.4,302.5 369.5,295.9 369.6,300.7 369.8,312.1 369.9,302.9 370.0,289.9 370.1,307.3 370.3,305.7 370.4,311.0 370.5,290.0 370.6,317.4 370.8,303.6 370.9,300.2 371.0,297.8 371.1,315.6 371.3,296.7 371.4,297.7 371.5,316.5 371.6,302.9 371.8,289.3 371.9,320.1 372.0,311.6 372.1,297.8 372.3,297.1 372.4,296.7 372.5,318.3 372.6,302.7 372.8,315.8 372.9,312.5 373.0,312.3 373.1,312.0 373.3,297.0 373.4,313.6 373.5,303.0 373.6,293.0 373.8,295.6 373.9,304.6 374.0,303.2 374.1,319.5 374.3,307.9 374.4,308.1 374.5,290.1 374.6,290.7 374.8,298.4 374.9,303.1 375.0,318.6 375.1,290.8 375.3,312.3 375.4,309.2 375.5,297.3 375.6,318.8 375.8,301.8 375.9,316.4 376.0,298.5 376.1,308.0 376.3,314.7 376.4,317.5 376.5,301.5 376.6,296.9 376.8,311.0 376.9,310.7 377.0,291.8 377.1,309.6 377.2,320.5 377.4,298.4 377.5,310.6 377.6,319.9 377.7,303.1 377.9,317.1 378.0,287.4 378.1,292.8 378.2,283.0 378.4,299.4 378.5,320.7 378.6,311.1 378.7,330.5 378.9,304.5 379.0,301.2 379.1,324.5 379.2,321.0 379.4,320.3 379.5,296.9 379.6,305.8 379.7,307.9 379.9,290.1 380.0,322.4 380.1,308.8 380.2,318.8 380.4,313.1 380.5,307.5 380.6,297.6 380.7,322.1 380.9,310.2 381.0,297.2 381.1,310.1 381.2,296.3 381.4,305.0 381.5,323.4 381.6,305.7 381.7,305.3 381.9,304.3 382.0,312.7 382.1,310.3 382.2,306.5 382.4,321.3 382.5,309.0 382.6,320.7 382.7,306.8 382.9,305.0 383.0,299.3 383.1,295.8 383.2,311.8 383.4,304.9 383.5,298.1 383.6,310.2 383.7,316.2 383.9,313.4 384.0,294.0 384.1,290.5 384.2,314.8 384.4,306.0 384.5,307.4 384.6,318.6 384.7,298.4 384.9,298.9 385.0,317.9 385.1,322.8 385.2,298.8 385.4,295.4 385.5,319.5 385.6,311.6 385.7,301.3 385.9,294.9 386.0,310.9 386.1,298.2 386.2,321.9 386.4,322.0 386.5,316.5 386.6,324.2 386.7,302.5 386.9,296.4 387.0,313.0 387.1,300.1 387.2,314.3 387.4,294.3 387.5,302.7 387.6,312.5 387.7,324.1 387.9,293.9 388.0,305.3 388.1,320.8 388.2,292.2 388.4,304.8 388.5,313.9 388.6,305.2 388.7,316.8 388.9,302.4 389.0,299.1 389.1,290.1 389.2,304.8 389.4,320.2 389.5,318.0 389.6,288.8 389.7,289.8 389.9,320.8 390.0,316.0 390.1,300.2 390.2,297.4 390.4,312.3 390.5,299.4 390.6,300.9 390.7,311.0 390.9,317.2 391.0,294.5 391.1,322.9 391.2,295.4 391.4,319.2 391.5,307.1 391.6,315.5 391.7,295.5 391.9,317.1 392.0,299.3 392.1,309.6 392.2,297.0 392.4,306.5 392.5,314.4 392.6,296.2 392.7,321.4 392.9,317.9 393.0,313.5 393.1,315.2 393.2,300.5 393.4,294.5 393.5,302.1 393.6,296.1 393.7,302.7 393.9,316.6 394.0,297.8 394.1,294.8 394.2,318.3 394.4,322.3 394.5,305.8 394.6,299.7 394.7,321.0 394.8,294.7 395.0,304.0 395.1,318.6 395.2,316.3 395.3,317.2 395.5,308.3 395.6,330.0 395.7,302.7 395.8,320.5 396.0,318.0 396.1,322.9 396.2,317.3 396.3,316.1 396.5,299.0 396.6,311.1 396.7,295.5 396.8,322.3 397.0,318.5 397.1,310.2 397.2,319.7 397.3,320.9 397.5,304.7 397.6,314.8 397.7,297.6 397.8,295.0 398.0,318.1 398.1,288.6 398.2,306.4 398.3,330.9 398.5,323.5 398.6,318.2 398.7,325.5 398.8,319.1 399.0,301.2 399.1,295.9 399.2,301.1 399.3,311.9 399.5,303.5 399.6,324.1 399.7,310.1 399.8,310.5 400.0,315.9 400.1,308.5 400.2,297.6 400.3,298.3 400.5,306.3 400.6,299.9 400.7,298.4 400.8,303.5 401.0,317.3 401.1,319.4 401.2,300.3 401.3,298.4 401.5,293.4 401.6,292.7 401.7,304.3 401.8,299.0 402.0,309.1 402.1,297.5 402.2,313.6 402.3,311.7 402.5,323.3 402.6,320.4 402.7,298.7 402.8,290.5 403.0,307.1 403.1,297.0 403.2,313.5 403.3,327.2 403.5,301.0 403.6,296.7 403.7,303.0 403.8,310.4 404.0,305.2 404.1,318.9 404.2,305.3 404.3,324.2 404.5,300.8 404.6,301.5 404.7,327.3 404.8,298.7 405.0,320.2 405.1,298.6 405.2,300.8 405.3,315.5 405.5,321.7 405.6,314.8 405.7,326.7 405.8,326.2 406.0,299.4 406.1,309.3 406.2,309.2 406.3,300.0 406.5,314.8 406.6,321.4 406.7,333.2 406.8,318.5 407.0,301.5 407.1,311.1 407.2,298.6 407.3,317.1 407.5,322.3 407.6,308.4 407.7,308.9 407.8,315.8 408.0,320.6 408.1,294.9 408.2,315.9 408.3,320.3 408.5,298.3 408.6,300.9 408.7,306.4 408.8,310.3 409.0,283.2 409.1,309.4 409.2,303.4 409.3,304.4 409.5,300.8 409.6,311.6 409.7,320.6 409.8,322.0 410.0,302.7 410.1,291.9 410.2,310.6 410.3,320.8 410.5,284.4 410.6,312.1 410.7,302.1 410.8,292.7 411.0,304.7 411.1,310.8 411.2,312.9 411.3,310.8 411.5,314.7 411.6,293.1 411.7,305.9 411.8,303.7 412.0,305.1 412.1,303.9 412.2,308.2 412.3,292.1 412.5,328.0 412.6,302.4 412.7,307.1 412.8,301.7 412.9,304.5 413.1,287.8 413.2,313.7 413.3,313.5 413.4,292.3 413.6,307.3 413.7,304.0 413.8,289.0 413.9,290.0 414.1,313.1 414.2,309.9 414.3,292.1 414.4,322.5 414.6,315.5 414.7,303.7 414.8,306.2 414.9,308.6 415.1,303.9 415.2,315.1 415.3,295.2 415.4,294.2 415.6,290.3 415.7,301.3 415.8,297.5 415.9,303.1 416.1,292.6 416.2,302.4 416.3,302.9 416.4,296.8 416.6,312.7 416.7,303.1 416.8,305.9 416.9,281.3 417.1,314.9 417.2,307.4 417.3,286.8 417.4,307.3 417.6,296.3 417.7,294.4 417.8,305.9 417.9,292.1 418.1,310.0 418.2,311.3 418.3,276.5 418.4,291.2 418.6,316.1 418.7,287.3 418.8,312.0 418.9,310.4 419.1,309.0 419.2,287.5 419.3,316.7 419.4,293.1 419.6,314.6 419.7,302.6 419.8,297.0 419.9,292.2 420.1,286.9 420.2,294.1 420.3,290.3 420.4,286.8 420.6,307.9 420.7,318.0 420.8,303.1 420.9,312.9 421.1,317.7 421.2,289.0 421.3,300.1 421.4,299.9 421.6,294.3 421.7,309.3 421.8,304.0 421.9,291.5 422.1,316.5 422.2,289.8 422.3,287.5 422.4,310.2 422.6,299.5 422.7,306.8 422.8,286.5 422.9,320.6 423.1,294.6 423.2,296.0 423.3,302.3 423.4,295.5 423.6,292.6 423.7,315.8 423.8,289.2 423.9,301.1 424.1,292.0 424.2,310.9 424.3,304.6 424.4,304.5 424.6,298.4 424.7,299.1 424.8,316.3 424.9,297.8 425.1,305.2 425.2,286.7 425.3,300.7 425.4,308.1 425.6,298.7 425.7,307.1 425.8,304.9 425.9,286.9 426.1,298.8 426.2,284.3 426.3,286.2 426.4,305.1 426.6,290.4 426.7,284.9 426.8,298.5 426.9,306.0 427.1,292.5 427.2,289.7 427.3,291.1 427.4,284.5 427.6,285.2 427.7,299.0 427.8,291.1 427.9,298.1 428.1,314.0 428.2,310.6 428.3,311.5 428.4,315.0 428.6,306.6 428.7,299.3 428.8,287.6 428.9,308.9 429.1,289.1 429.2,295.5 429.3,294.9 429.4,316.4 429.6,314.2 429.7,294.4 429.8,298.3 429.9,301.7 430.1,287.8 430.2,286.9 430.3,304.8 430.4,302.6 430.5,306.8 430.7,314.9 430.8,290.8 430.9,315.4 431.0,293.0 431.2,316.1 431.3,291.1 431.4,298.9 431.5,309.7 431.7,292.2 431.8,289.3 431.9,294.1 432.0,296.2 432.2,313.9 432.3,293.1 432.4,306.9 432.5,311.8 432.7,284.9 432.8,293.2 432.9,313.5 433.0,302.8 433.2,289.3 433.3,299.6 433.4,296.4 433.5,310.4 433.7,308.9 433.8,293.4 433.9,314.7 434.0,284.1 434.2,312.0 434.3,285.4 434.4,300.1 434.5,295.6 434.7,308.6 434.8,297.3 434.9,290.7 435.0,304.6 435.2,293.7 435.3,295.1 435.4,307.7 435.5,292.7 435.7,298.4 435.8,307.5 435.9,308.1 436.0,303.5 436.2,304.5 436.3,284.6 436.4,299.4 436.5,301.2 436.7,286.6 436.8,311.1 436.9,304.4 437.0,286.0 437.2,279.7 437.3,286.5 437.4,278.6 437.5,302.8 437.7,287.1 437.8,297.5 437.9,293.8 438.0,305.9 438.2,308.1 438.3,305.9 438.4,304.7 438.5,303.6 438.7,310.6 438.8,302.1 438.9,292.9 439.0,289.6 439.2,305.6 439.3,312.3 439.4,309.5 439.5,309.2 439.7,311.5 439.8,288.8 439.9,313.8 440.0,287.1 440.2,304.3 440.3,299.5 440.4,290.2 440.5,304.5 440.7,289.5 440.8,287.3 440.9,308.7 441.0,314.5 441.2,299.8 441.3,311.6 441.4,316.4 441.5,309.1 441.7,299.0 441.8,316.0 441.9,293.4 442.0,293.1 442.2,307.2 442.3,312.3 442.4,294.0 442.5,295.9 442.7,286.7 442.8,289.0 442.9,296.8 443.0,289.3 443.2,279.0 443.3,311.6 443.4,315.5 443.5,291.4 443.7,280.9 443.8,287.8 443.9,301.2 444.0,291.6 444.2,306.3 444.3,310.0 444.4,311.4 444.5,291.7 444.7,314.3 444.8,315.7 444.9,297.4 445.0,320.2 445.2,299.6 445.3,280.5 445.4,293.8 445.5,319.9 445.7,320.6 445.8,314.0 445.9,298.2 446.0,294.5 446.2,314.8 446.3,314.8 446.4,310.6 446.5,288.5 446.7,290.8 446.8,306.3 446.9,288.8 447.0,314.0 447.2,319.0 447.3,318.8 447.4,283.9 447.5,287.9 447.7,290.2 447.8,318.0 447.9,303.6 448.0,289.5 448.2,285.7 448.3,289.1 448.4,313.6 448.5,294.6 448.6,308.8 448.8,314.8 448.9,295.7 449.0,314.1 449.1,312.3 449.3,287.4 449.4,287.4 449.5,312.3 449.6,310.1 449.8,309.5 449.9,304.3 450.0,313.6 450.1,296.1 450.3,308.9 450.4,307.4 450.5,296.4 450.6,291.7 450.8,286.0 450.9,323.4 451.0,308.9 451.1,306.4 451.3,290.5 451.4,309.0 451.5,288.9 451.6,303.2 451.8,288.0 451.9,297.5 452.0,302.7 452.1,306.3 452.3,312.9 452.4,314.3 452.5,308.0 452.6,285.0 452.8,296.2 452.9,307.4 453.0,312.1 453.1,284.9 453.3,297.3 453.4,314.8 453.5,314.8 453.6,313.5 453.8,327.3 453.9,295.7 454.0,315.6 454.1,315.5 454.3,317.1 454.4,280.3 454.5,309.3 454.6,294.7 454.8,309.7 454.9,295.5 455.0,314.4 455.1,306.9 455.3,296.6 455.4,292.4 455.5,323.0 455.6,292.8 455.8,317.6 455.9,300.0 456.0,306.5 456.1,293.0 456.3,317.3 456.4,320.4 456.5,305.0 456.6,319.1 456.8,319.8 456.9,310.3 457.0,293.0 457.1,309.7 457.3,294.2 457.4,317.3 457.5,317.2 457.6,294.1 457.8,299.7 457.9,279.2 458.0,296.1 458.1,315.6 458.3,304.7 458.4,309.3 458.5,303.1 458.6,314.6 458.8,314.2 458.9,314.7 459.0,300.5 459.1,327.9 459.3,296.8 459.4,318.1 459.5,293.0 459.6,300.8 459.8,290.5 459.9,310.7 460.0,320.7 460.1,307.0 460.3,331.4 460.4,301.3 460.5,311.4 460.6,295.2 460.8,306.9 460.9,301.0 461.0,291.6 461.1,315.4 461.3,299.5 461.4,295.9 461.5,311.3 461.6,304.2 461.8,300.4 461.9,293.1 462.0,321.6 462.1,308.8 462.3,303.8 462.4,326.2 462.5,303.9 462.6,314.6 462.8,316.9 462.9,298.5 463.0,318.7 463.1,298.0 463.3,308.8 463.4,318.5 463.5,310.4 463.6,289.4 463.8,307.5 463.9,314.9 464.0,288.7 464.1,293.3 464.3,299.9 464.4,299.0 464.5,317.8 464.6,288.7 464.8,291.4 464.9,305.9 465.0,288.9 465.1,305.0 465.3,305.3 465.4,302.5 465.5,298.2 465.6,299.6 465.8,296.3 465.9,296.8 466.0,295.5 466.1,294.1 466.2,289.9 466.4,302.5 466.5,304.1 466.6,302.3 466.7,301.3 466.9,311.3 467.0,314.8 467.1,287.7 467.2,299.1 467.4,301.5 467.5,289.9 467.6,297.9 467.7,301.0 467.9,289.2 468.0,302.3 468.1,292.1 468.2,302.3 468.4,296.0 468.5,293.3 468.6,292.4 468.7,307.3 468.9,291.2 469.0,304.2 469.1,293.6 469.2,314.1 469.4,313.0 469.5,297.2 469.6,304.1 469.7,315.7 469.9,296.6 470.0,318.6 470.1,313.7 470.2,322.6 470.4,311.5 470.5,293.4 470.6,305.0 470.7,313.7 470.9,306.4 471.0,303.0 471.1,298.8 471.2,312.7 471.4,295.2 471.5,314.4 471.6,298.6 471.7,307.9 471.9,318.7 472.0,307.8 472.1,316.5 472.2,291.2 472.4,304.6 472.5,309.1 472.6,293.1 472.7,310.2 472.9,309.0 473.0,302.6 473.1,313.4 473.2,288.0 473.4,317.8 473.5,291.0 473.6,312.9 473.7,293.3 473.9,288.8 474.0,307.8 474.1,306.4 474.2,312.8 474.4,316.7 474.5,304.2 474.6,306.2 474.7,308.4 474.9,300.3 475.0,315.5 475.1,314.3 475.2,295.0 475.4,312.2 475.5,296.9 475.6,299.2 475.7,308.6 475.9,304.3 476.0,308.8 476.1,297.8 476.2,314.6 476.4,293.8 476.5,283.2 476.6,296.9 476.7,306.4 476.9,317.6 477.0,301.1 477.1,293.0 477.2,321.9 477.4,312.1 477.5,299.3 477.6,297.5 477.7,295.0 477.9,293.7 478.0,313.2 478.1,293.8 478.2,311.9 478.4,303.0 478.5,310.2 478.6,301.8 478.7,293.7 478.9,290.0 479.0,316.7 479.1,316.4 479.2,294.0 479.4,298.6 479.5,304.3 479.6,319.6 479.7,301.2 479.9,307.3 480.0,289.5 480.1,291.1 480.2,312.7 480.4,305.4 480.5,290.9 480.6,311.9 480.7,295.2 480.9,317.5 481.0,320.1 481.1,318.8 481.2,294.2 481.4,307.3 481.5,316.4 481.6,308.3 481.7,290.5 481.9,296.7 482.0,309.9 482.1,300.6 482.2,293.8 482.4,306.8 482.5,316.1 482.6,310.7 482.7,297.5 482.9,295.4 483.0,292.9 483.1,298.3 483.2,308.5 483.4,318.9 483.5,298.4 483.6,313.8 483.7,320.4 483.9,301.8 484.0,314.9 484.1,321.9 484.2,297.9 484.3,307.7 484.5,318.2 484.6,294.5 484.7,292.5 484.8,310.5 485.0,309.1 485.1,319.1 485.2,311.1 485.3,319.1 485.5,306.8 485.6,310.2 485.7,316.6 485.8,303.5 486.0,303.4 486.1,313.0 486.2,292.7 486.3,305.7 486.5,295.9 486.6,306.2 486.7,292.0 486.8,293.4 487.0,298.0 487.1,302.0 487.2,286.0 487.3,310.6 487.5,280.0 487.6,320.7 487.7,283.0 487.8,323.6 488.0,292.0 488.1,295.6 488.2,326.5 488.3,299.5 488.5,309.2 488.6,291.9 488.7,303.3 488.8,311.2 489.0,323.0 489.1,308.5 489.2,315.1 489.3,325.6 489.5,309.5 489.6,305.5 489.7,310.6 489.8,320.6 490.0,317.2 490.1,325.9 490.2,306.0 490.3,325.1 490.5,307.4 490.6,295.7 490.7,315.8 490.8,325.2 491.0,302.9 491.1,324.0 491.2,322.1 491.3,305.5 491.5,320.3 491.6,305.7 491.7,315.4 491.8,311.4 492.0,302.1 492.1,309.2 492.2,308.3 492.3,298.1 492.5,323.7 492.6,305.1 492.7,306.0 492.8,326.2 493.0,308.5 493.1,308.5 493.2,322.8 493.3,307.0 493.5,326.4 493.6,311.2 493.7,308.1 493.8,306.2 494.0,305.9 494.1,327.0 494.2,311.4 494.3,297.9 494.5,298.2 494.6,320.4 494.7,324.0 494.8,325.8 495.0,297.3 495.1,302.9 495.2,321.0 495.3,320.6 495.5,320.4 495.6,299.4 495.7,318.0 495.8,317.0 496.0,322.0 496.1,307.1 496.2,313.4 496.3,298.9 496.5,316.0 496.6,292.6 496.7,319.2 496.8,313.2 497.0,301.6 497.1,297.9 497.2,306.4 497.3,314.9 497.5,320.8 497.6,321.8 497.7,308.3 497.8,300.6 498.0,295.0 498.1,314.2 498.2,310.0 498.3,298.0 498.5,287.8 498.6,303.5 498.7,316.2 498.8,293.6 499.0,297.0 499.1,296.7 499.2,306.2 499.3,301.3 499.5,309.7 499.6,306.2 499.7,301.6 499.8,332.3 500.0,308.9 500.1,294.6 500.2,302.6 500.3,309.8 500.5,310.3 500.6,305.2 500.7,296.5 500.8,316.9 501.0,329.6 501.1,310.9 501.2,318.1 501.3,292.1 501.5,294.5 501.6,314.0 501.7,294.1 501.8,291.1 501.9,322.0 502.1,292.6 502.2,318.5 502.3,322.4 502.4,303.8 502.6,311.2 502.7,295.2 502.8,323.3 502.9,320.2 503.1,301.2 503.2,294.4 503.3,316.7 503.4,323.9 503.6,297.0 503.7,320.8 503.8,319.9 503.9,299.4 504.1,298.6 504.2,299.3 504.3,301.9 504.4,306.5 504.6,299.9 504.7,303.6 504.8,311.7 504.9,325.8 505.1,325.4 505.2,298.7 505.3,322.4 505.4,301.8 505.6,300.8 505.7,322.4 505.8,312.6 505.9,316.6 506.1,323.1 506.2,319.0 506.3,318.7 506.4,305.6 506.6,305.0 506.7,310.9 506.8,307.3 506.9,301.1 507.1,318.2 507.2,319.6 507.3,324.1 507.4,315.8 507.6,311.4 507.7,289.2 507.8,307.8 507.9,321.1 508.1,318.2 508.2,298.2 508.3,313.7 508.4,323.1 508.6,321.5 508.7,306.7 508.8,320.8 508.9,321.3 509.1,314.2 509.2,322.2 509.3,299.1 509.4,324.0 509.6,321.1 509.7,307.1 509.8,319.5 509.9,310.1 510.1,319.2 510.2,304.5 510.3,314.9 510.4,296.4 510.6,325.2 510.7,316.8 510.8,322.9 510.9,330.5 511.1,315.8 511.2,322.9 511.3,326.0 511.4,334.2 511.6,304.0 511.7,318.5 511.8,310.1 511.9,326.5 512.1,312.8 512.2,298.6 512.3,329.1 512.4,319.1 512.6,306.4 512.7,304.4 512.8,317.0 512.9,303.4 513.1,307.7 513.2,307.9 513.3,320.6 513.4,318.8 513.6,325.2 513.7,305.0 513.8,327.6 513.9,313.3 514.1,307.7 514.2,326.0 514.3,301.9 514.4,326.7 514.6,297.1 514.7,301.5 514.8,313.5 514.9,305.1 515.1,319.6 515.2,315.3 515.3,304.6 515.4,311.0 515.6,331.9 515.7,325.5 515.8,298.7 515.9,307.2 516.1,325.9 516.2,313.7 516.3,314.7 516.4,318.1 516.6,319.7 516.7,307.9 516.8,301.6 516.9,317.5 517.1,312.8 517.2,317.3 517.3,328.2 517.4,316.0 517.6,304.3 517.7,308.7 517.8,325.7 517.9,306.3 518.1,307.6 518.2,327.6 518.3,313.0 518.4,319.4 518.6,327.2 518.7,324.7 518.8,298.4 518.9,313.4 519.1,319.1 519.2,301.9 519.3,303.2 519.4,321.9 519.5,320.7 519.7,328.4 519.8,299.3 519.9,299.1 520.0,328.7 520.2,319.8 520.3,300.7 520.4,318.6 520.5,318.1 520.7,319.5 520.8,296.2 520.9,321.0 521.0,315.6 521.2,310.1 521.3,304.7 521.4,329.5 521.5,312.7 521.7,307.4 521.8,319.4 521.9,320.3 522.0,317.9 522.2,326.9 522.3,318.5 522.4,311.6 522.5,302.6 522.7,303.6 522.8,315.4 522.9,308.2 523.0,304.5 523.2,326.2 523.3,314.4 523.4,323.1 523.5,327.0 523.7,302.0 523.8,330.3 523.9,317.7 524.0,310.6 524.2,315.5 524.3,307.3 524.4,310.7 524.5,319.3 524.7,306.2 524.8,314.2 524.9,308.9 525.0,324.4 525.2,307.4 525.3,322.7 525.4,300.2 525.5,313.4 525.7,314.4 525.8,312.2 525.9,315.6 526.0,325.7 526.2,315.5 526.3,324.7 526.4,321.8 526.5,305.0 526.7,308.1 526.8,303.7 526.9,323.0 527.0,301.6 527.2,325.3 527.3,315.8 527.4,311.9 527.5,316.0 527.7,315.2 527.8,317.7 527.9,315.3 528.0,307.8 528.2,326.4 528.3,317.6 528.4,329.4 528.5,302.3 528.7,337.5 528.8,317.8 528.9,319.5 529.0,327.7 529.2,334.2 529.3,304.1 529.4,316.0 529.5,307.5 529.7,298.7 529.8,307.3 529.9,319.7 530.0,319.5 530.2,298.8 530.3,308.2 530.4,324.8 530.5,318.4 530.7,317.3 530.8,328.4 530.9,308.2 531.0,300.5 531.2,317.3 531.3,317.9 531.4,315.0 531.5,327.7 531.7,319.1 531.8,299.9 531.9,318.1 532.0,299.9 532.2,315.6 532.3,313.5 532.4,295.6 532.5,304.0 532.7,310.9 532.8,307.9 532.9,302.0 533.0,317.2 533.2,327.4 533.3,299.2 533.4,322.0 533.5,309.0 533.7,306.4 533.8,322.7 533.9,327.0 534.0,328.6 534.2,293.4 534.3,301.7 534.4,298.2 534.5,321.1 534.7,321.6 534.8,302.4 534.9,315.5 535.0,317.7 535.2,309.5 535.3,302.8 535.4,308.1 535.5,306.3 535.7,297.7 535.8,306.1 535.9,305.2 536.0,318.5 536.2,317.3 536.3,318.5 536.4,306.6 536.5,316.1 536.7,301.3 536.8,321.4 536.9,327.0 537.0,321.6 537.2,334.0 537.3,315.7 537.4,321.7 537.5,312.5 537.6,306.1 537.8,322.4 537.9,314.4 538.0,327.2 538.1,316.7 538.3,315.2 538.4,299.8 538.5,305.6 538.6,321.2 538.8,312.5 538.9,327.8 539.0,318.2 539.1,307.3 539.3,306.8 539.4,308.3 539.5,306.0 539.6,315.8 539.8,301.9 539.9,317.3 540.0,312.7 540.1,326.7 540.3,327.1 540.4,308.6 540.5,305.3 540.6,312.5 540.8,315.1 540.9,321.5 541.0,329.6 541.1,327.2 541.3,311.7 541.4,316.5 541.5,317.5 541.6,326.8 541.8,302.8 541.9,324.9 542.0,307.7 542.1,303.0 542.3,330.2 542.4,310.6 542.5,323.2 542.6,311.3 542.8,309.1 542.9,317.1 543.0,307.5 543.1,307.9 543.3,302.0 543.4,322.7 543.5,329.2 543.6,300.8 543.8,309.6 543.9,327.7 544.0,319.4 544.1,304.7 544.3,308.2 544.4,307.2 544.5,301.7 544.6,304.6 544.8,304.5 544.9,316.2 545.0,324.4 545.1,316.5 545.3,320.7 545.4,327.7 545.5,324.5 545.6,303.2 545.8,300.9 545.9,328.9 546.0,308.0 546.1,326.7 546.3,305.3 546.4,327.1 546.5,313.5 546.6,300.7 546.8,330.5 546.9,303.4 547.0,300.6 547.1,324.7 547.3,310.0 547.4,300.9 547.5,300.4 547.6,312.7 547.8,303.4 547.9,311.1 548.0,321.5 548.1,329.8 548.3,309.4 548.4,318.2 548.5,322.2 548.6,325.1 548.8,315.7 548.9,325.0 549.0,314.8 549.1,323.5 549.3,320.2 549.4,314.9 549.5,327.5 549.6,310.2 549.8,311.7 549.9,315.5 550.0,302.5 550.1,319.0 550.3,301.4 550.4,327.6 550.5,311.5 550.6,328.4 550.8,305.5 550.9,323.2 551.0,319.2 551.1,318.7 551.3,329.3 551.4,303.9 551.5,329.8 551.6,310.0 551.8,309.3 551.9,322.7 552.0,314.3 552.1,305.7 552.3,318.8 552.4,328.7 552.5,301.8 552.6,314.0 552.8,307.1 552.9,323.5 553.0,325.9 553.1,305.8 553.3,327.6 553.4,311.0 553.5,324.6 553.6,305.3 553.8,315.9 553.9,321.4 554.0,316.6 554.1,322.6 554.3,325.3 554.4,330.1 554.5,321.5 554.6,306.9 554.8,325.4 554.9,314.8 555.0,323.5 555.1,323.3 555.2,329.6 555.4,320.5 555.5,342.6 555.6,315.1 555.7,322.0 555.9,320.6 556.0,309.1 556.1,328.8 556.2,321.4 556.4,321.5 556.5,310.1 556.6,319.2 556.7,312.4 556.9,314.6 557.0,315.0 557.1,323.3 557.2,316.2 557.4,332.6 557.5,328.1 557.6,335.3 557.7,323.9 557.9,318.3 558.0,317.2 558.1,306.2 558.2,326.9 558.4,314.9 558.5,305.8 558.6,333.4 558.7,312.5 558.9,308.0 559.0,328.0 559.1,329.0 559.2,329.1 559.4,324.2 559.5,306.0 559.6,321.7 559.7,335.0 559.9,319.3 560.0,314.4 560.1,322.5 560.2,324.9 560.4,314.5 560.5,302.8 560.6,331.4 560.7,306.1 560.9,308.5 561.0,320.9 561.1,307.2 561.2,311.4 561.4,332.3 561.5,336.2 561.6,331.3 561.7,310.3 561.9,330.0 562.0,323.1 562.1,335.9 562.2,313.8 562.4,332.9 562.5,305.5 562.6,311.8 562.7,332.9 562.9,320.7 563.0,311.3 563.1,326.5 563.2,314.7 563.4,323.1 563.5,317.7 563.6,307.4 563.7,306.9 563.9,333.2 564.0,331.8 564.1,319.1 564.2,312.4 564.4,309.1 564.5,334.6 564.6,321.7 564.7,305.2 564.9,324.3 565.0,328.3 565.1,314.2 565.2,335.1 565.4,306.6 565.5,308.1 565.6,323.3 565.7,318.9 565.9,315.9 566.0,326.0 566.1,333.1 566.2,330.9 566.4,326.7 566.5,313.2 566.6,313.6 566.7,309.7 566.9,331.3 567.0,325.1 567.1,322.1 567.2,306.5 567.4,330.6 567.5,308.9 567.6,320.3 567.7,333.6 567.9,315.8 568.0,319.1 568.1,334.3 568.2,314.4 568.4,319.4 568.5,317.3 568.6,318.3 568.7,319.2 568.9,336.6 569.0,331.0 569.1,307.6 569.2,325.3 569.4,306.9 569.5,309.1 569.6,324.8 569.7,326.1 569.9,312.3 570.0,319.6 570.1,318.3 570.2,329.0 570.4,320.2 570.5,319.2 570.6,332.8 570.7,327.9 570.9,310.7 571.0,323.9 571.1,314.1 571.2,315.4 571.4,325.9 571.5,333.6 571.6,317.8 571.7,322.7 571.9,308.8 572.0,330.1 572.1,311.4 572.2,318.2 572.4,314.2 572.5,321.6 572.6,314.6 572.7,319.6 572.9,318.6 573.0,323.8 573.1,326.0 573.2,321.0 573.3,327.4 573.5,332.1 573.6,318.5 573.7,305.3 573.8,327.9 574.0,318.4 574.1,328.3 574.2,330.5 574.3,306.6 574.5,335.8 574.6,327.1 574.7,318.2 574.8,318.2 575.0,319.1 575.1,334.8 575.2,311.8 575.3,309.4 575.5,328.1 575.6,330.3 575.7,305.8 575.8,323.3 576.0,330.8 576.1,326.5 576.2,308.9 576.3,309.5 576.5,318.0 576.6,315.8 576.7,309.4 576.8,320.2 577.0,310.0 577.1,306.5 577.2,319.2 577.3,333.0 577.5,337.4 577.6,310.1 577.7,319.7 577.8,333.1 578.0,317.8 578.1,303.3 578.2,321.6 578.3,313.8 578.5,307.4 578.6,323.3 578.7,317.3 578.8,333.4 579.0,315.8 579.1,308.8 579.2,314.1 579.3,318.9 579.5,313.2 579.6,317.4 579.7,326.2 579.8,328.1 580.0,322.9 580.1,319.6 580.2,308.4 580.3,325.6 580.5,312.2 580.6,328.0 580.7,334.7 580.8,331.8 581.0,314.1 581.1,320.0 581.2,319.5 581.3,329.6 581.5,318.9 581.6,317.0 581.7,324.3 581.8,305.9 582.0,332.4 582.1,335.1 582.2,333.1 582.3,337.2 582.5,324.5 582.6,319.7 582.7,328.8 582.8,333.8 583.0,329.1 583.1,325.1 583.2,312.4 583.3,329.7 583.5,335.4 583.6,321.7 583.7,334.3 583.8,325.8 584.0,315.7 584.1,337.7 584.2,330.4 584.3,337.6 584.5,326.1 584.6,330.1 584.7,315.6 584.8,323.3 585.0,318.7 585.1,327.9 585.2,335.6 585.3,323.6 585.5,306.5 585.6,315.9 585.7,322.6 585.8,330.2 586.0,323.7 586.1,302.1 586.2,324.2 586.3,332.4 586.5,321.3 586.6,331.2 586.7,321.7 586.8,307.1 587.0,335.2 587.1,306.6 587.2,313.8 587.3,325.3 587.5,330.4 587.6,312.0 587.7,298.0 587.8,327.2 588.0,308.4 588.1,319.4 588.2,333.2 588.3,319.7 588.5,332.6 588.6,312.6 588.7,333.1 588.8,327.8 589.0,307.3 589.1,309.8 589.2,329.3 589.3,332.5 589.5,299.0 589.6,315.1 589.7,336.9 589.8,333.1 590.0,337.7 590.1,312.6 590.2,322.8 590.3,310.2 590.5,328.1 590.6,319.8 590.7,309.9 590.8,312.0 590.9,335.2 591.1,334.1 591.2,336.5 591.3,334.6 591.4,323.4 591.6,322.8 591.7,324.9 591.8,330.3 591.9,312.7 592.1,320.2 592.2,318.6 592.3,330.5 592.4,307.6 592.6,325.7 592.7,308.7 592.8,322.5 592.9,312.6 593.1,335.7 593.2,309.7 593.3,315.4 593.4,311.9 593.6,313.4 593.7,326.2 593.8,307.5 593.9,324.3 594.1,321.3 594.2,306.7 594.3,334.3 594.4,320.1 594.6,306.9 594.7,321.8 594.8,316.9 594.9,308.3 595.1,328.9 595.2,332.2 595.3,326.4 595.4,318.9 595.6,330.2 595.7,295.8 595.8,311.4 595.9,322.5 596.1,310.5 596.2,343.7 596.3,319.3 596.4,329.5 596.6,334.4 596.7,306.0 596.8,326.8 596.9,306.0 597.1,320.5 597.2,314.9 597.3,318.6 597.4,326.6 597.6,304.0 597.7,323.2 597.8,330.6 597.9,331.0 598.1,319.3 598.2,323.5 598.3,308.5 598.4,343.5 598.6,333.7 598.7,304.8 598.8,331.6 598.9,312.0 599.1,320.1 599.2,311.1 599.3,306.7 599.4,330.5 599.6,323.4 599.7,331.0 599.8,323.6 599.9,326.4 600.1,308.0 600.2,304.8 600.3,307.3 600.4,330.7 600.6,305.8 600.7,307.8 600.8,308.1 600.9,307.0 601.1,315.2 601.2,323.5 601.3,333.3 601.4,310.5 601.6,306.9 601.7,334.9 601.8,309.8 601.9,328.1 602.1,334.0 602.2,318.2 602.3,335.9 602.4,315.4 602.6,311.0 602.7,332.3 602.8,326.2 602.9,315.5 603.1,307.5 603.2,315.5 603.3,325.6 603.4,324.1 603.6,315.2 603.7,319.7 603.8,317.4 603.9,309.5 604.1,326.9 604.2,323.9 604.3,334.0 604.4,332.2 604.6,320.0 604.7,331.2 604.8,326.9 604.9,335.9 605.1,314.9 605.2,317.2 605.3,322.8 605.4,312.2 605.6,325.8 605.7,320.1 605.8,330.6 605.9,332.6 606.1,311.0 606.2,338.3 606.3,331.8 606.4,330.9 606.6,315.2 606.7,315.4 606.8,334.3 606.9,308.9 607.1,311.0 607.2,305.2 607.3,314.3 607.4,322.8 607.6,323.0 607.7,318.9 607.8,330.9 607.9,312.6 608.1,329.3 608.2,318.8 608.3,333.6 608.4,310.6 608.6,304.0 608.7,315.8 608.8,312.0 608.9,314.9 609.0,317.2 609.2,329.2 609.3,326.7 609.4,329.4 609.5,322.3 609.7,314.4 609.8,336.3 609.9,334.7 610.0,324.8 610.2,312.2 610.3,315.3 610.4,323.5 610.5,320.3 610.7,307.7 610.8,315.9 610.9,324.1 611.0,331.6 611.2,312.9 611.3,314.4 611.4,320.3 611.5,316.5 611.7,333.2 611.8,324.9 611.9,314.9 612.0,323.4 612.2,324.6 612.3,317.1 612.4,327.4 612.5,332.9 612.7,316.1 612.8,318.9 612.9,314.6 613.0,319.9 613.2,334.1 613.3,333.2 613.4,338.8 613.5,322.6 613.7,313.9 613.8,316.2 613.9,326.9 614.0,314.7 614.2,332.8 614.3,320.7 614.4,326.1 614.5,307.5 614.7,323.1 614.8,337.4 614.9,313.1 615.0,338.7 615.2,314.8 615.3,315.8 615.4,318.0 615.5,338.2 615.7,341.9 615.8,317.0 615.9,328.7 616.0,330.2 616.2,318.1 616.3,334.2 616.4,326.1 616.5,319.5 616.7,319.5 616.8,331.0 616.9,313.1 617.0,336.7 617.2,336.3 617.3,328.5 617.4,312.6 617.5,333.0 617.7,323.2 617.8,313.8 617.9,321.2 618.0,323.7 618.2,315.4 618.3,340.5 618.4,324.6 618.5,336.3 618.7,329.8 618.8,323.2 618.9,327.2 619.0,327.0 619.2,323.1 619.3,315.0 619.4,337.0 619.5,326.8 619.7,326.8 619.8,325.1 619.9,324.1 620.0,339.2 620.2,339.3 620.3,333.6 620.4,306.3 620.5,322.7 620.7,331.8 620.8,327.5 620.9,335.3 621.0,319.2 621.2,336.5 621.3,319.5 621.4,324.2 621.5,317.8 621.7,332.2 621.8,314.5 621.9,333.9 622.0,330.6 622.2,315.3 622.3,332.5 622.4,311.7 622.5,322.5 622.7,341.5 622.8,317.2 622.9,327.8 623.0,324.3 623.2,309.4 623.3,322.2 623.4,339.7 623.5,311.0 623.7,314.7 623.8,310.0 623.9,325.6 624.0,317.5 624.2,310.8 624.3,312.2 624.4,311.7 624.5,329.6 624.7,312.9 624.8,299.1 624.9,324.1 625.0,318.0 625.2,336.0 625.3,332.2 625.4,318.7 625.5,304.1 625.7,304.0 625.8,336.1 625.9,336.7 626.0,329.5 626.2,311.9 626.3,325.0 626.4,309.2 626.5,319.7 626.6,329.5 626.8,331.2 626.9,317.2 627.0,314.7 627.1,328.0 627.3,333.6 627.4,331.0 627.5,326.7 627.6,317.0 627.8,315.5 627.9,328.6 628.0,325.8 628.1,306.4 628.3,321.4 628.4,335.7 628.5,315.0 628.6,335.4 628.8,330.9 628.9,323.2 629.0,311.5 629.1,321.6 629.3,335.8 629.4,307.0 629.5,317.9 629.6,317.9 629.8,332.0 629.9,309.2 630.0,315.4 630.1,335.6 630.3,331.3 630.4,316.9 630.5,332.2 630.6,336.7 630.8,338.4 630.9,338.8 631.0,325.5 631.1,312.7 631.3,325.3 631.4,314.5 631.5,326.2 631.6,312.3 631.8,331.4 631.9,312.1 632.0,318.8 632.1,336.5 632.3,313.8 632.4,317.0 632.5,322.0 632.6,321.5 632.8,335.8 632.9,313.7 633.0,324.3 633.1,336.2 633.3,335.6 633.4,339.5 633.5,312.7 633.6,342.1 633.8,324.4 633.9,339.7 634.0,342.3 634.1,325.6 634.3,328.1 634.4,326.7 634.5,342.9 634.6,327.8 634.8,333.0 634.9,325.7 635.0,334.7 635.1,334.0 635.3,334.9 635.4,330.2 635.5,327.0 635.6,322.4 635.8,329.4 635.9,308.9 636.0,331.4 636.1,314.6 636.3,316.0 636.4,335.3 636.5,335.4 636.6,316.7 636.8,336.0 636.9,341.5 637.0,341.4 637.1,329.6 637.3,316.9 637.4,336.1 637.5,328.0 637.6,339.7 637.8,328.5 637.9,318.5 638.0,315.5 638.1,312.6 638.3,338.8 638.4,339.7 638.5,314.5 638.6,332.3 638.8,320.6 638.9,343.6 639.0,340.9 639.1,325.3 639.3,305.7 639.4,339.1 639.5,320.4 639.6,339.0 639.8,341.0 639.9,318.8 640.0,324.3 640.1,335.3 640.3,319.8 640.4,333.5 640.5,325.6 640.6,342.0 640.8,338.8 640.9,341.5 641.0,330.4 641.1,335.7 641.3,320.6 641.4,334.3 641.5,316.4 641.6,321.6 641.8,333.1 641.9,339.0 642.0,318.0 642.1,320.5 642.3,315.1 642.4,312.6 642.5,320.3 642.6,325.5 642.8,313.1 642.9,315.9 643.0,332.1 643.1,337.4 643.3,312.5 643.4,334.2 643.5,320.4 643.6,323.6 643.8,340.0 643.9,321.8 644.0,317.0 644.1,336.2 644.3,317.7 644.4,330.0 644.5,329.6 644.6,316.2 644.7,335.5 644.9,331.1 645.0,314.7 645.1,334.3 645.2,323.3 645.4,322.7 645.5,335.0 645.6,313.9 645.7,336.3 645.9,330.6 646.0,334.7 646.1,336.6 646.2,339.5 646.4,339.5 646.5,322.3 646.6,330.7 646.7,330.0 646.9,336.1 647.0,338.9 647.1,325.4 647.2,331.0 647.4,332.8 647.5,318.6 647.6,341.4 647.7,331.6 647.9,318.3 648.0,345.8 648.1,315.5 648.2,323.4 648.4,319.1 648.5,339.1 648.6,337.4 648.7,322.7 648.9,331.4 649.0,322.5 649.1,315.2 649.2,326.0 649.4,334.8 649.5,332.2 649.6,331.4 649.7,327.3 649.9,338.1 650.0,343.2 650.1,316.7 650.2,317.6 650.4,335.5 650.5,337.4 650.6,328.8 650.7,317.8 650.9,323.7 651.0,327.7 651.1,333.2 651.2,324.2 651.4,328.5 651.5,335.3 651.6,333.7 651.7,320.6 651.9,318.9 652.0,329.9 652.1,338.3 652.2,341.7 652.4,316.1 652.5,334.7 652.6,320.4 652.7,320.5 652.9,328.6 653.0,340.7 653.1,321.4 653.2,316.4 653.4,322.4 653.5,322.2 653.6,339.8 653.7,333.0 653.9,334.9 654.0,326.2 654.1,329.9 654.2,335.6 654.4,314.3 654.5,338.6 654.6,334.9 654.7,314.4 654.9,334.1 655.0,323.9 655.1,315.2 655.2,303.3 655.4,333.8 655.5,331.5 655.6,322.1 655.7,316.4 655.9,318.7 656.0,324.7 656.1,321.0 656.2,324.0 656.4,321.8 656.5,347.2 656.6,327.3 656.7,306.3 656.9,315.5 657.0,336.3 657.1,335.8 657.2,331.8 657.4,325.6 657.5,339.6 657.6,333.6 657.7,326.3 657.9,339.5 658.0,342.5 658.1,332.6 658.2,322.6 658.4,316.3 658.5,322.0 658.6,340.7 658.7,329.5 658.9,322.1 659.0,337.4 659.1,324.9 659.2,333.2 659.4,342.0 659.5,345.8 659.6,334.0 659.7,320.5 659.9,337.5 660.0,323.0 660.1,333.1 660.2,313.7 660.4,324.7 660.5,333.6 660.6,318.8 660.7,328.2 660.9,329.5 661.0,332.3 661.1,329.0 661.2,325.5 661.4,321.8 661.5,328.6 661.6,315.4 661.7,345.8 661.9,339.3 662.0,316.0 662.1,327.2 662.2,339.4 662.3,337.0 662.5,320.5 662.6,325.8 662.7,322.3 662.8,320.2 663.0,322.7 663.1,340.1 663.2,338.5 663.3,330.0 663.5,330.3 663.6,327.1 663.7,353.5 663.8,337.7 664.0,326.9 664.1,336.9 664.2,342.3 664.3,334.0 664.5,336.5 664.6,316.4 664.7,321.3 664.8,323.5 665.0,325.1 665.1,336.5 665.2,318.9 665.3,321.0 665.5,327.9 665.6,338.6 665.7,327.2 665.8,337.0 666.0,323.5 666.1,325.5 666.2,327.7 666.3,318.2 666.5,323.3 666.6,323.3 666.7,330.6 666.8,317.3 667.0,336.2 667.1,335.9 667.2,333.8 667.3,322.5 667.5,344.6 667.6,323.8 667.7,323.7 667.8,318.9 668.0,315.2 668.1,333.5 668.2,345.6 668.3,321.2 668.5,325.7 668.6,328.0 668.7,322.6 668.8,322.5 669.0,317.5 669.1,321.0 669.2,315.7 669.3,326.7 669.5,320.6 669.6,310.4 669.7,344.2 669.8,330.3 670.0,328.1 670.1,343.4 670.2,333.0 670.3,332.8 670.5,323.8 670.6,342.1 670.7,345.9 670.8,318.3 671.0,326.0 671.1,313.8 671.2,320.9 671.3,337.6 671.5,337.3 671.6,334.6 671.7,325.3 671.8,334.8 672.0,333.8 672.1,336.7 672.2,326.9 672.3,333.7 672.5,315.1 672.6,316.5 672.7,320.3 672.8,316.4 673.0,328.6 673.1,335.5 673.2,314.4 673.3,331.1 673.5,344.1 673.6,328.6 673.7,335.3 673.8,339.6 674.0,326.3 674.1,315.8 674.2,320.1 674.3,314.4 674.5,321.6 674.6,338.8 674.7,332.4 674.8,336.7 675.0,337.3 675.1,333.2 675.2,322.3 675.3,325.4 675.5,322.5 675.6,349.2 675.7,334.2 675.8,316.6 676.0,334.8 676.1,331.8 676.2,339.2 676.3,324.2 676.5,338.1 676.6,336.6 676.7,327.3 676.8,332.9 677.0,323.5 677.1,313.1 677.2,329.8 677.3,321.3 677.5,335.3 677.6,312.4 677.7,315.5 677.8,320.2 678.0,324.7 678.1,334.2 678.2,339.3 678.3,325.5 678.5,311.8 678.6,331.6 678.7,315.8 678.8,316.0 679.0,320.2 679.1,338.7 679.2,312.0 679.3,311.9 679.5,337.5 679.6,334.7 679.7,337.5 679.8,333.2 680.0,336.4 680.1,315.2 680.2,329.8 680.3,323.3 680.4,328.9 680.6,322.5 680.7,319.8 680.8,319.0 680.9,317.1 681.1,325.4 681.2,339.2 681.3,331.8 681.4,323.7 681.6,342.3 681.7,326.3 681.8,328.9 681.9,339.3 682.1,328.3 682.2,323.7 682.3,328.3 682.4,332.8 682.6,343.8 682.7,339.1 682.8,343.3 682.9,331.7 683.1,330.5 683.2,328.4 683.3,309.7 683.4,340.6 683.6,318.6 683.7,324.2 683.8,321.9 683.9,332.0 684.1,332.9 684.2,347.6 684.3,319.6 684.4,321.0 684.6,323.7 684.7,349.7 684.8,336.9 684.9,340.2 685.1,332.5 685.2,314.3 685.3,326.4 685.4,326.5 685.6,339.1 685.7,321.8 685.8,333.7 685.9,335.8 686.1,327.5 686.2,347.9 686.3,315.7 686.4,314.0 686.6,341.4 686.7,329.2 686.8,320.4 686.9,336.6 687.1,314.2 687.2,341.0 687.3,317.9 687.4,342.6 687.6,321.9 687.7,340.5 687.8,314.6 687.9,317.9 688.1,314.8 688.2,322.3 688.3,336.5 688.4,318.6 688.6,318.0 688.7,335.5 688.8,331.0 688.9,316.0 689.1,322.9 689.2,337.0 689.3,330.8 689.4,342.7 689.6,337.6 689.7,336.6 689.8,338.7 689.9,353.7 690.1,324.9 690.2,338.7 690.3,323.2 690.4,327.7 690.6,333.0 690.7,317.6 690.8,335.2 690.9,326.1 691.1,340.6 691.2,328.9 691.3,315.2 691.4,336.9 691.6,335.1 691.7,342.9 691.8,338.8 691.9,331.5 692.1,338.0 692.2,320.4 692.3,341.8 692.4,337.6 692.6,329.5 692.7,315.9 692.8,327.1 692.9,325.3 693.1,347.1 693.2,344.3 693.3,324.0 693.4,342.6 693.6,335.0 693.7,353.7 693.8,334.7 693.9,330.9 694.1,322.5 694.2,318.2 694.3,319.1 694.4,340.1 694.6,328.3 694.7,331.0 694.8,336.1 694.9,320.2 695.1,321.4 695.2,337.3 695.3,323.2 695.4,318.5 695.6,338.2 695.7,323.1 695.8,317.8 695.9,333.0 696.1,321.9 696.2,318.5 696.3,321.9 696.4,333.1 696.6,323.1 696.7,316.9 696.8,329.2 696.9,323.2 697.1,319.2 697.2,329.7 697.3,325.0 697.4,331.8 697.6,337.1 697.7,328.6 697.8,340.4"/><polyline fill="none" stroke="#0000ff" stroke-width="1.1" stroke-linejoin="miter" points="73.8,396.4 73.9,397.6 74.0,413.1 74.2,391.5 74.3,406.8 74.4,410.7 74.5,394.7 74.7,390.8 74.8,397.5 74.9,409.1 75.0,406.3 75.2,394.1 75.3,402.7 75.4,409.9 75.5,402.6 75.7,408.9 75.8,419.0 75.9,410.5 76.0,401.8 76.2,395.7 76.3,400.4 76.4,405.3 76.5,416.6 76.7,413.1 76.8,399.3 76.9,417.3 77.0,403.7 77.2,410.2 77.3,392.6 77.4,392.4 77.5,395.2 77.7,415.4 77.8,409.2 77.9,414.1 78.0,407.9 78.2,400.7 78.3,403.9 78.4,406.1 78.5,414.0 78.7,401.2 78.8,414.7 78.9,406.3 79.0,412.7 79.2,402.7 79.3,408.5 79.4,397.9 79.5,403.3 79.7,394.1 79.8,390.6 79.9,388.8 80.0,408.6 80.2,401.2 80.3,414.4 80.4,412.6 80.5,399.1 80.7,416.7 80.8,405.4 80.9,410.6 81.0,399.9 81.2,393.6 81.3,392.9 81.4,393.3 81.5,405.9 81.7,391.3 81.8,388.5 81.9,412.8 82.0,391.0 82.2,401.5 82.3,402.6 82.4,406.6 82.5,403.1 82.7,416.1 82.8,410.5 82.9,405.3 83.0,406.6 83.2,403.3 83.3,417.0 83.4,394.9 83.5,408.7 83.7,404.7 83.8,389.4 83.9,397.0 84.0,415.8 84.2,411.6 84.3,388.5 84.4,397.0 84.5,388.4 84.7,412.8 84.8,391.4 84.9,389.8 85.0,417.3 85.2,401.3 85.3,397.5 85.4,389.5 85.5,399.7 85.7,399.0 85.8,403.7 85.9,388.3 86.0,392.5 86.2,394.4 86.3,401.3 86.4,397.2 86.5,406.5 86.7,396.8 86.8,415.4 86.9,417.0 87.0,390.2 87.2,394.7 87.3,405.3 87.4,411.5 87.5,390.5 87.7,394.1 87.8,402.2 87.9,408.5 88.0,415.5 88.2,414.4 88.3,412.2 88.4,390.1 88.5,417.6 88.7,406.8 88.8,391.0 88.9,396.0 89.0,406.8 89.2,399.8 89.3,420.6 89.4,412.2 89.5,412.7 89.7,404.4 89.8,411.7 89.9,400.2 90.0,417.2 90.2,406.2 90.3,417.0 90.4,389.5 90.5,423.8 90.7,405.0 90.8,409.7 90.9,394.2 91.0,404.9 91.2,397.3 91.3,391.9 91.4,389.0 91.5,416.0 91.6,409.1 91.8,395.4 91.9,397.0 92.0,403.3 92.1,414.0 92.3,393.2 92.4,418.6 92.5,418.0 92.6,397.3 92.8,409.2 92.9,400.9 93.0,411.0 93.1,392.9 93.3,404.4 93.4,407.9 93.5,409.1 93.6,411.2 93.8,417.1 93.9,397.8 94.0,395.2 94.1,402.3 94.3,407.6 94.4,419.3 94.5,411.9 94.6,412.7 94.8,419.7 94.9,398.7 95.0,398.5 95.1,403.3 95.3,399.5 95.4,410.0 95.5,418.9 95.6,395.0 95.8,405.8 95.9,410.4 96.0,404.8 96.1,417.2 96.3,411.9 96.4,416.1 96.5,393.0 96.6,395.4 96.8,391.4 96.9,414.0 97.0,417.8 97.1,389.5 97.3,412.5 97.4,410.6 97.5,415.8 97.6,396.8 97.8,410.0 97.9,395.8 98.0,390.9 98.1,410.8 98.3,389.9 98.4,409.5 98.5,397.1 98.6,403.2 98.8,415.3 98.9,420.2 99.0,402.8 99.1,399.5 99.3,394.6 99.4,403.1 99.5,394.5 99.6,412.9 99.8,387.5 99.9,426.5 100.0,418.1 100.1,399.5 100.3,409.2 100.4,411.0 100.5,397.1 100.6,389.5 100.8,415.7 100.9,417.5 101.0,394.1 101.1,393.5 101.3,401.8 101.4,406.6 101.5,418.2 101.6,417.4 101.8,383.8 101.9,395.9 102.0,406.3 102.1,401.4 102.3,395.2 102.4,390.2 102.5,393.3 102.6,398.9 102.8,390.8 102.9,392.6 103.0,389.4 103.1,406.6 103.3,402.7 103.4,420.5 103.5,403.8 103.6,400.8 103.8,407.8 103.9,386.4 104.0,398.7 104.1,407.4 104.3,394.8 104.4,416.2 104.5,406.7 104.6,393.0 104.8,395.9 104.9,393.0 105.0,393.6 105.1,397.4 105.3,412.7 105.4,401.8 105.5,396.4 105.6,400.6 105.8,396.0 105.9,409.8 106.0,389.7 106.1,396.5 106.3,397.4 106.4,393.2 106.5,409.7 106.6,393.1 106.8,396.6 106.9,389.4 107.0,410.2 107.1,398.5 107.3,407.3 107.4,394.2 107.5,388.5 107.6,397.5 107.8,411.1 107.9,413.0 108.0,398.5 108.1,413.4 108.3,389.7 108.4,403.9 108.5,396.1 108.6,425.9 108.8,395.2 108.9,415.3 109.0,397.7 109.1,417.0 109.3,392.1 109.4,401.7 109.5,402.2 109.6,410.2 109.7,399.4 109.9,403.9 110.0,391.4 110.1,398.7 110.2,411.1 110.4,392.7 110.5,403.4 110.6,396.8 110.7,394.8 110.9,393.6 111.0,414.3 111.1,410.6 111.2,401.6 111.4,402.0 111.5,412.2 111.6,408.5 111.7,417.9 111.9,418.1 112.0,405.2 112.1,410.5 112.2,407.1 112.4,400.2 112.5,404.5 112.6,412.5 112.7,407.5 112.9,385.6 113.0,405.6 113.1,419.5 113.2,414.2 113.4,394.9 113.5,415.3 113.6,418.4 113.7,415.3 113.9,401.2 114.0,401.9 114.1,398.1 114.2,392.5 114.4,404.9 114.5,416.2 114.6,413.7 114.7,410.5 114.9,416.0 115.0,410.3 115.1,397.3 115.2,414.6 115.4,401.5 115.5,383.6 115.6,400.1 115.7,393.0 115.9,412.0 116.0,393.3 116.1,416.0 116.2,402.2 116.4,413.1 116.5,391.2 116.6,405.8 116.7,409.7 116.9,393.2 117.0,407.4 117.1,393.4 117.2,398.1 117.4,399.9 117.5,407.4 117.6,392.6 117.7,394.2 117.9,412.0 118.0,421.7 118.1,380.9 118.2,396.7 118.4,408.9 118.5,402.0 118.6,397.2 118.7,414.0 118.9,393.6 119.0,411.6 119.1,405.8 119.2,406.4 119.4,407.3 119.5,409.1 119.6,412.9 119.7,413.9 119.9,393.6 120.0,390.5 120.1,412.4 120.2,391.2 120.4,391.5 120.5,408.9 120.6,413.6 120.7,409.6 120.9,399.5 121.0,394.9 121.1,413.3 121.2,405.4 121.4,401.9 121.5,382.9 121.6,388.3 121.7,382.5 121.9,409.5 122.0,388.9 122.1,386.7 122.2,399.0 122.4,387.2 122.5,397.5 122.6,409.6 122.7,406.7 122.9,387.6 123.0,407.9 123.1,391.9 123.2,395.5 123.4,389.2 123.5,409.7 123.6,388.3 123.7,401.3 123.9,397.6 124.0,399.6 124.1,381.5 124.2,394.7 124.4,408.8 124.5,395.4 124.6,384.1 124.7,379.6 124.9,388.2 125.0,401.1 125.1,378.8 125.2,379.6 125.4,398.5 125.5,405.6 125.6,392.0 125.7,397.8 125.9,386.5 126.0,387.1 126.1,393.5 126.2,385.6 126.4,392.9 126.5,383.5 126.6,407.7 126.7,399.1 126.9,381.8 127.0,384.8 127.1,404.6 127.2,390.2 127.3,386.6 127.5,379.0 127.6,399.2 127.7,395.7 127.8,403.9 128.0,382.6 128.1,400.6 128.2,402.6 128.3,402.2 128.5,399.3 128.6,389.3 128.7,376.4 128.8,394.8 129.0,374.8 129.1,376.3 129.2,386.0 129.3,376.4 129.5,386.4 129.6,398.6 129.7,376.6 129.8,395.9 130.0,401.8 130.1,370.9 130.2,368.4 130.3,391.3 130.5,391.6 130.6,365.1 130.7,393.3 130.8,379.0 131.0,373.1 131.1,382.9 131.2,385.6 131.3,392.5 131.5,386.6 131.6,367.7 131.7,383.2 131.8,375.5 132.0,386.9 132.1,365.4 132.2,384.8 132.3,388.9 132.5,364.4 132.6,363.3 132.7,391.4 132.8,391.2 133.0,367.6 133.1,391.5 133.2,374.5 133.3,377.8 133.5,376.0 133.6,352.9 133.7,388.8 133.8,379.5 134.0,389.7 134.1,379.3 134.2,388.9 134.3,375.2 134.5,373.5 134.6,376.4 134.7,357.5 134.8,382.3 135.0,361.3 135.1,387.6 135.2,357.6 135.3,379.3 135.5,381.1 135.6,373.3 135.7,358.3 135.8,381.8 136.0,365.3 136.1,363.9 136.2,377.1 136.3,386.2 136.5,389.5 136.6,367.8 136.7,375.5 136.8,361.9 137.0,383.3 137.1,372.2 137.2,354.2 137.3,356.5 137.5,355.7 137.6,365.9 137.7,380.9 137.8,353.5 138.0,354.4 138.1,356.1 138.2,367.9 138.3,362.6 138.5,361.8 138.6,352.0 138.7,374.7 138.8,362.5 139.0,375.3 139.1,346.3 139.2,360.5 139.3,357.0 139.5,372.7 139.6,367.2 139.7,360.9 139.8,348.1 140.0,365.7 140.1,372.6 140.2,368.2 140.3,374.4 140.5,361.1 140.6,351.1 140.7,347.6 140.8,367.3 141.0,367.5 141.1,361.1 141.2,366.0 141.3,355.4 141.5,367.9 141.6,362.3 141.7,346.3 141.8,358.2 142.0,360.4 142.1,344.4 142.2,335.4 142.3,365.2 142.5,341.9 142.6,344.4 142.7,336.6 142.8,369.4 143.0,342.4 143.1,365.5 143.2,354.0 143.3,337.8 143.5,343.1 143.6,344.6 143.7,362.4 143.8,348.2 144.0,340.0 144.1,368.4 144.2,352.9 144.3,328.1 144.5,368.8 144.6,358.0 144.7,349.4 144.8,338.6 145.0,357.9 145.1,336.3 145.2,366.1 145.3,359.1 145.4,357.4 145.6,359.1 145.7,362.1 145.8,347.6 145.9,359.5 146.1,333.9 146.2,354.6 146.3,356.0 146.4,336.2 146.6,332.2 146.7,360.7 146.8,359.3 146.9,330.7 147.1,372.0 147.2,332.3 147.3,332.7 147.4,358.4 147.6,348.4 147.7,351.4 147.8,333.7 147.9,351.2 148.1,346.9 148.2,334.8 148.3,339.9 148.4,330.5 148.6,342.7 148.7,327.6 148.8,311.2 148.9,351.3 149.1,343.8 149.2,341.5 149.3,316.1 149.4,349.0 149.6,341.4 149.7,353.2 149.8,352.5 149.9,352.3 150.1,337.6 150.2,346.1 150.3,321.5 150.4,319.3 150.6,346.5 150.7,342.2 150.8,352.3 150.9,328.6 151.1,335.6 151.2,346.4 151.3,339.8 151.4,348.7 151.6,332.0 151.7,348.6 151.8,349.3 151.9,350.8 152.1,332.2 152.2,351.1 152.3,328.9 152.4,339.5 152.6,353.7 152.7,341.3 152.8,313.4 152.9,330.6 153.1,336.2 153.2,335.2 153.3,342.0 153.4,336.7 153.6,328.3 153.7,323.3 153.8,352.8 153.9,338.8 154.1,322.0 154.2,327.8 154.3,339.2 154.4,323.6 154.6,347.8 154.7,334.3 154.8,339.3 154.9,338.4 155.1,319.3 155.2,347.9 155.3,344.4 155.4,317.9 155.6,333.6 155.7,331.8 155.8,323.4 155.9,325.7 156.1,321.1 156.2,335.0 156.3,327.2 156.4,314.8 156.6,319.4 156.7,316.5 156.8,334.4 156.9,308.7 157.1,325.4 157.2,331.2 157.3,334.2 157.4,318.6 157.6,312.4 157.7,346.7 157.8,317.2 157.9,319.3 158.1,336.7 158.2,347.3 158.3,314.5 158.4,324.9 158.6,342.0 158.7,312.6 158.8,318.6 158.9,332.2 159.1,340.2 159.2,312.3 159.3,324.0 159.4,330.4 159.6,328.4 159.7,327.7 159.8,344.8 159.9,344.2 160.1,314.3 160.2,315.8 160.3,321.0 160.4,309.2 160.6,310.7 160.7,326.3 160.8,342.2 160.9,315.4 161.1,311.5 161.2,327.2 161.3,314.8 161.4,303.7 161.6,306.5 161.7,336.3 161.8,306.6 161.9,326.9 162.1,318.1 162.2,331.4 162.3,321.2 162.4,310.4 162.6,309.4 162.7,310.1 162.8,309.9 162.9,310.4 163.0,312.1 163.2,323.4 163.3,320.5 163.4,302.6 163.5,316.0 163.7,335.4 163.8,335.6 163.9,342.8 164.0,305.0 164.2,310.1 164.3,296.6 164.4,292.7 164.5,333.9 164.7,331.8 164.8,315.2 164.9,318.7 165.0,324.3 165.2,324.1 165.3,323.5 165.4,324.9 165.5,319.0 165.7,301.0 165.8,341.9 165.9,321.2 166.0,301.3 166.2,302.3 166.3,319.2 166.4,309.2 166.5,325.4 166.7,304.5 166.8,319.4 166.9,317.2 167.0,297.4 167.2,303.8 167.3,332.9 167.4,304.4 167.5,296.1 167.7,301.7 167.8,313.3 167.9,301.2 168.0,317.1 168.2,308.5 168.3,310.1 168.4,300.4 168.5,323.0 168.7,295.4 168.8,329.2 168.9,315.5 169.0,329.4 169.2,314.0 169.3,306.4 169.4,307.2 169.5,329.1 169.7,313.3 169.8,308.4 169.9,299.2 170.0,299.1 170.2,309.5 170.3,342.7 170.4,324.8 170.5,298.2 170.7,311.2 170.8,298.7 170.9,303.4 171.0,312.8 171.2,327.8 171.3,298.7 171.4,300.4 171.5,321.2 171.7,314.2 171.8,297.0 171.9,320.2 172.0,331.1 172.2,322.5 172.3,332.6 172.4,322.7 172.5,306.6 172.7,325.1 172.8,316.1 172.9,297.6 173.0,308.3 173.2,331.3 173.3,320.1 173.4,309.1 173.5,322.5 173.7,321.7 173.8,301.5 173.9,313.5 174.0,327.2 174.2,300.5 174.3,317.6 174.4,301.1 174.5,307.4 174.7,326.7 174.8,311.0 174.9,329.2 175.0,325.6 175.2,322.2 175.3,340.4 175.4,315.3 175.5,331.9 175.7,322.4 175.8,300.6 175.9,343.3 176.0,316.1 176.2,316.9 176.3,314.1 176.4,329.7 176.5,347.4 176.7,331.5 176.8,335.3 176.9,333.1 177.0,328.4 177.2,299.6 177.3,299.0 177.4,305.8 177.5,319.4 177.7,311.3 177.8,305.1 177.9,336.1 178.0,317.3 178.2,340.6 178.3,321.1 178.4,339.6 178.5,330.0 178.7,338.1 178.8,307.4 178.9,331.8 179.0,316.6 179.2,317.8 179.3,321.8 179.4,322.3 179.5,335.1 179.7,316.4 179.8,322.9 179.9,322.0 180.0,329.4 180.2,327.1 180.3,307.6 180.4,338.5 180.5,330.5 180.7,311.8 180.8,325.0 180.9,340.5 181.0,339.8 181.1,321.6 181.3,315.3 181.4,342.4 181.5,334.2 181.6,331.5 181.8,321.8 181.9,339.2 182.0,313.7 182.1,337.9 182.3,336.9 182.4,326.4 182.5,320.5 182.6,332.8 182.8,306.3 182.9,322.7 183.0,317.4 183.1,336.9 183.3,313.2 183.4,326.2 183.5,324.4 183.6,345.0 183.8,312.1 183.9,329.4 184.0,316.6 184.1,344.1 184.3,313.2 184.4,343.0 184.5,332.9 184.6,315.9 184.8,324.4 184.9,319.3 185.0,327.0 185.1,340.1 185.3,327.3 185.4,346.3 185.5,343.7 185.6,317.8 185.8,314.9 185.9,335.7 186.0,323.8 186.1,320.5 186.3,345.3 186.4,332.7 186.5,321.4 186.6,332.7 186.8,332.6 186.9,342.2 187.0,328.1 187.1,331.9 187.3,319.3 187.4,345.5 187.5,348.5 187.6,314.9 187.8,343.2 187.9,351.7 188.0,347.8 188.1,346.0 188.3,324.8 188.4,359.2 188.5,331.3 188.6,349.5 188.8,346.8 188.9,340.7 189.0,354.1 189.1,354.0 189.3,335.3 189.4,336.5 189.5,352.4 189.6,335.9 189.8,351.3 189.9,327.9 190.0,328.9 190.1,333.9 190.3,331.1 190.4,336.4 190.5,328.0 190.6,326.0 190.8,334.0 190.9,326.7 191.0,332.8 191.1,334.9 191.3,354.9 191.4,336.0 191.5,318.1 191.6,354.8 191.8,337.6 191.9,331.7 192.0,342.6 192.1,352.2 192.3,332.9 192.4,349.6 192.5,340.6 192.6,342.6 192.8,347.2 192.9,341.1 193.0,331.3 193.1,333.3 193.3,327.1 193.4,357.4 193.5,349.5 193.6,360.2 193.8,338.2 193.9,347.3 194.0,348.0 194.1,332.9 194.3,348.2 194.4,350.4 194.5,344.5 194.6,341.9 194.8,365.6 194.9,332.9 195.0,351.9 195.1,337.9 195.3,334.1 195.4,366.6 195.5,363.7 195.6,345.2 195.8,349.5 195.9,340.3 196.0,368.4 196.1,376.3 196.3,363.7 196.4,376.7 196.5,335.4 196.6,336.5 196.8,351.0 196.9,336.9 197.0,368.5 197.1,370.6 197.3,358.3 197.4,347.8 197.5,344.8 197.6,342.3 197.8,357.7 197.9,343.6 198.0,373.9 198.1,338.0 198.3,369.3 198.4,361.3 198.5,372.8 198.6,368.2 198.7,355.0 198.9,382.5 199.0,347.3 199.1,368.7 199.2,358.6 199.4,371.8 199.5,358.7 199.6,372.3 199.7,367.3 199.9,362.2 200.0,368.3 200.1,385.7 200.2,344.9 200.4,371.6 200.5,347.6 200.6,362.8 200.7,361.2 200.9,371.0 201.0,352.5 201.1,369.3 201.2,372.7 201.4,357.6 201.5,365.9 201.6,360.4 201.7,372.4 201.9,377.0 202.0,364.3 202.1,347.4 202.2,378.9 202.4,367.6 202.5,353.8 202.6,372.9 202.7,363.5 202.9,354.1 203.0,360.0 203.1,369.3 203.2,360.0 203.4,353.5 203.5,350.7 203.6,362.1 203.7,374.0 203.9,360.9 204.0,363.2 204.1,376.7 204.2,371.1 204.4,382.9 204.5,377.9 204.6,381.5 204.7,366.8 204.9,375.9 205.0,383.6 205.1,350.0 205.2,365.6 205.4,375.0 205.5,357.7 205.6,352.3 205.7,367.1 205.9,352.3 206.0,355.6 206.1,352.1 206.2,375.3 206.4,352.5 206.5,382.1 206.6,370.1 206.7,347.4 206.9,356.8 207.0,365.3 207.1,361.0 207.2,381.9 207.4,370.2 207.5,354.1 207.6,385.3 207.7,387.3 207.9,387.8 208.0,363.9 208.1,371.9 208.2,379.4 208.4,359.4 208.5,370.4 208.6,367.0 208.7,390.0 208.9,357.6 209.0,387.8 209.1,357.7 209.2,388.1 209.4,372.5 209.5,363.6 209.6,368.0 209.7,388.9 209.9,364.0 210.0,384.8 210.1,387.3 210.2,367.7 210.4,377.2 210.5,375.2 210.6,388.9 210.7,364.2 210.9,370.5 211.0,380.2 211.1,362.9 211.2,366.9 211.4,383.8 211.5,379.8 211.6,377.3 211.7,387.4 211.9,366.9 212.0,389.3 212.1,370.0 212.2,389.6 212.4,383.5 212.5,352.8 212.6,380.0 212.7,385.7 212.9,370.7 213.0,384.7 213.1,364.7 213.2,382.5 213.4,393.2 213.5,393.1 213.6,369.7 213.7,391.4 213.9,381.7 214.0,376.7 214.1,375.1 214.2,377.5 214.4,377.7 214.5,394.2 214.6,388.1 214.7,368.7 214.9,389.1 215.0,383.3 215.1,396.2 215.2,373.4 215.4,388.3 215.5,381.2 215.6,401.6 215.7,368.4 215.9,393.8 216.0,365.3 216.1,373.1 216.2,380.3 216.4,374.5 216.5,383.1 216.6,371.0 216.7,390.5 216.8,384.3 217.0,386.5 217.1,397.2 217.2,371.3 217.3,381.1 217.5,371.2 217.6,375.9 217.7,382.7 217.8,391.1 218.0,372.7 218.1,393.1 218.2,390.6 218.3,382.7 218.5,395.6 218.6,381.4 218.7,399.5 218.8,399.1 219.0,381.7 219.1,399.1 219.2,393.3 219.3,360.9 219.5,388.6 219.6,394.7 219.7,399.8 219.8,398.2 220.0,399.9 220.1,382.3 220.2,369.7 220.3,373.9 220.5,381.7 220.6,372.6 220.7,386.9 220.8,373.4 221.0,379.3 221.1,379.3 221.2,398.6 221.3,384.4 221.5,373.1 221.6,393.6 221.7,406.5 221.8,392.1 222.0,369.6 222.1,396.3 222.2,376.3 222.3,395.5 222.5,395.6 222.6,391.3 222.7,372.1 222.8,406.1 223.0,373.8 223.1,394.6 223.2,372.1 223.3,384.1 223.5,393.7 223.6,396.4 223.7,383.9 223.8,373.3 224.0,398.5 224.1,380.3 224.2,386.7 224.3,363.7 224.5,381.0 224.6,401.3 224.7,394.8 224.8,394.6 225.0,390.1 225.1,376.8 225.2,379.7 225.3,402.9 225.5,376.6 225.6,394.3 225.7,385.3 225.8,396.8 226.0,378.6 226.1,377.7 226.2,391.7 226.3,383.0 226.5,399.9 226.6,406.7 226.7,380.1 226.8,383.8 227.0,381.8 227.1,388.8 227.2,384.2 227.3,396.2 227.5,389.2 227.6,393.9 227.7,404.8 227.8,405.1 228.0,383.9 228.1,386.7 228.2,396.5 228.3,393.7 228.5,380.1 228.6,402.2 228.7,404.0 228.8,392.9 229.0,383.3 229.1,401.3 229.2,381.7 229.3,381.7 229.5,397.6 229.6,393.3 229.7,410.4 229.8,387.6 230.0,385.5 230.1,389.9 230.2,407.0 230.3,401.6 230.5,380.1 230.6,384.1 230.7,409.6 230.8,397.8 231.0,393.2 231.1,382.8 231.2,387.5 231.3,381.2 231.5,407.0 231.6,409.6 231.7,397.5 231.8,405.6 232.0,385.5 232.1,389.9 232.2,400.5 232.3,402.6 232.5,400.3 232.6,384.6 232.7,410.6 232.8,389.6 233.0,403.1 233.1,408.6 233.2,386.2 233.3,396.2 233.5,401.2 233.6,412.6 233.7,403.9 233.8,395.4 234.0,403.6 234.1,398.0 234.2,385.6 234.3,388.9 234.4,401.4 234.6,402.9 234.7,395.6 234.8,390.1 234.9,383.9 235.1,405.1 235.2,388.2 235.3,404.0 235.4,410.9 235.6,407.2 235.7,400.2 235.8,383.7 235.9,403.6 236.1,412.0 236.2,391.3 236.3,407.6 236.4,398.4 236.6,405.8 236.7,404.2 236.8,391.2 236.9,396.6 237.1,384.9 237.2,385.6 237.3,390.7 237.4,403.8 237.6,394.0 237.7,408.4 237.8,402.3 237.9,410.1 238.1,406.3 238.2,395.7 238.3,385.7 238.4,397.5 238.6,398.4 238.7,386.3 238.8,387.6 238.9,413.0 239.1,408.5 239.2,394.5 239.3,384.6 239.4,392.1 239.6,400.9 239.7,413.7 239.8,385.3 239.9,406.6 240.1,414.1 240.2,414.5 240.3,403.5 240.4,409.4 240.6,406.4 240.7,386.5 240.8,394.4 240.9,414.8 241.1,389.4 241.2,391.3 241.3,405.3 241.4,413.7 241.6,397.8 241.7,404.9 241.8,416.3 241.9,412.0 242.1,387.1 242.2,407.1 242.3,389.8 242.4,415.3 242.6,408.1 242.7,413.6 242.8,401.1 242.9,388.0 243.1,392.3 243.2,388.5 243.3,408.7 243.4,412.3 243.6,399.5 243.7,411.0 243.8,392.3 243.9,399.0 244.1,398.6 244.2,400.7 244.3,387.0 244.4,391.3 244.6,389.5 244.7,406.0 244.8,401.1 244.9,416.9 245.1,406.3 245.2,393.6 245.3,390.9 245.4,408.6 245.6,413.0 245.7,392.6 245.8,404.5 245.9,418.0 246.1,416.7 246.2,393.3 246.3,404.9 246.4,416.6 246.6,408.8 246.7,391.6 246.8,401.7 246.9,399.8 247.1,401.7 247.2,421.0 247.3,416.4 247.4,421.9 247.6,416.0 247.7,421.3 247.8,404.9 247.9,420.5 248.1,408.9 248.2,416.9 248.3,423.1 248.4,418.9 248.6,404.5 248.7,420.8 248.8,401.9 248.9,404.5 249.1,408.0 249.2,419.1 249.3,414.6 249.4,400.5 249.6,407.6 249.7,418.0 249.8,419.1 249.9,414.8 250.1,402.4 250.2,420.0 250.3,403.9 250.4,414.1 250.6,416.2 250.7,412.6 250.8,393.6 250.9,398.2 251.1,415.0 251.2,411.0 251.3,416.5 251.4,412.1 251.6,411.4 251.7,417.0 251.8,418.2 251.9,399.0 252.1,415.1 252.2,418.8 252.3,393.6 252.4,403.0 252.5,405.9 252.7,406.4 252.8,415.4 252.9,389.9 253.0,391.6 253.2,412.9 253.3,397.9 253.4,403.5 253.5,394.3 253.7,418.5 253.8,404.8 253.9,392.4 254.0,417.4 254.2,408.2 254.3,398.4 254.4,393.8 254.5,392.2 254.7,417.2 254.8,395.3 254.9,398.5 255.0,408.6 255.2,394.3 255.3,413.9 255.4,411.9 255.5,412.2 255.7,403.8 255.8,401.8 255.9,416.5 256.0,422.8 256.2,411.7 256.3,421.3 256.4,399.2 256.5,417.2 256.7,401.8 256.8,403.3 256.9,396.2 257.0,423.2 257.2,400.1 257.3,402.5 257.4,406.2 257.5,408.8 257.7,420.2 257.8,398.7 257.9,398.5 258.0,402.9 258.2,422.4 258.3,420.9 258.4,423.0 258.5,411.4 258.7,396.6 258.8,414.2 258.9,404.5 259.0,400.0 259.2,404.9 259.3,417.3 259.4,413.2 259.5,417.5 259.7,414.0 259.8,412.8 259.9,411.7 260.0,418.1 260.2,415.4 260.3,389.8 260.4,405.2 260.5,401.4 260.7,418.0 260.8,413.7 260.9,417.5 261.0,404.3 261.2,395.5 261.3,418.0 261.4,400.0 261.5,417.2 261.7,396.5 261.8,397.8 261.9,398.4 262.0,399.1 262.2,418.8 262.3,395.5 262.4,403.7 262.5,410.8 262.7,387.8 262.8,414.3 262.9,410.0 263.0,398.0 263.2,396.1 263.3,416.5 263.4,401.8 263.5,397.5 263.7,401.4 263.8,396.3 263.9,414.9 264.0,398.4 264.2,409.1 264.3,403.8 264.4,408.4 264.5,418.5 264.7,405.2 264.8,394.5 264.9,410.7 265.0,399.1 265.2,397.6 265.3,413.9 265.4,396.3 265.5,397.9 265.7,402.0 265.8,411.8 265.9,411.6 266.0,400.2 266.2,388.8 266.3,388.6 266.4,391.8 266.5,417.8 266.7,401.3 266.8,381.3 266.9,409.0 267.0,402.8 267.2,422.9 267.3,409.3 267.4,393.6 267.5,398.4 267.7,389.1 267.8,407.3 267.9,412.3 268.0,398.3 268.2,390.0 268.3,398.8 268.4,393.4 268.5,394.8 268.7,408.1 268.8,406.9 268.9,406.5 269.0,401.0 269.2,406.1 269.3,402.1 269.4,399.6 269.5,390.8 269.7,422.8 269.8,399.2 269.9,413.0 270.0,414.3 270.1,399.8 270.3,407.3 270.4,403.2 270.5,411.5 270.6,416.8 270.8,387.5 270.9,413.1 271.0,394.2 271.1,393.4 271.3,408.0 271.4,381.9 271.5,401.7 271.6,390.9 271.8,387.3 271.9,401.2 272.0,391.5 272.1,413.9 272.3,387.7 272.4,390.3 272.5,414.6 272.6,394.4 272.8,421.3 272.9,388.1 273.0,407.6 273.1,402.4 273.3,411.4 273.4,407.9 273.5,406.9 273.6,401.5 273.8,404.2 273.9,410.1 274.0,398.1 274.1,407.0 274.3,391.0 274.4,412.8 274.5,405.2 274.6,391.4 274.8,393.6 274.9,396.7 275.0,388.9 275.1,401.1 275.3,402.1 275.4,403.0 275.5,398.5 275.6,392.3 275.8,408.5 275.9,399.6 276.0,386.7 276.1,409.0 276.3,387.9 276.4,405.1 276.5,403.2 276.6,414.5 276.8,414.5 276.9,398.2 277.0,405.1 277.1,392.0 277.3,404.3 277.4,397.7 277.5,401.5 277.6,423.5 277.8,416.9 277.9,407.0 278.0,415.3 278.1,403.5 278.3,400.9 278.4,419.4 278.5,400.5 278.6,392.6 278.8,397.9 278.9,413.4 279.0,404.4 279.1,414.7 279.3,411.9 279.4,418.3 279.5,396.0 279.6,417.7 279.8,396.9 279.9,404.1 280.0,419.1 280.1,400.9 280.3,408.2 280.4,401.5 280.5,394.1 280.6,405.9 280.8,392.4 280.9,391.9 281.0,403.6 281.1,400.0 281.3,414.7 281.4,404.3 281.5,400.1 281.6,397.5 281.8,416.3 281.9,388.5 282.0,406.4 282.1,393.2 282.3,405.3 282.4,390.8 282.5,383.9 282.6,399.9 282.8,390.4 282.9,390.2 283.0,404.3 283.1,411.8 283.3,394.9 283.4,412.6 283.5,391.8 283.6,400.0 283.8,398.0 283.9,410.2 284.0,403.5 284.1,403.7 284.3,389.2 284.4,392.1 284.5,394.5 284.6,407.4 284.8,412.3 284.9,414.0 285.0,411.8 285.1,422.6 285.3,411.5 285.4,405.9 285.5,388.3 285.6,390.1 285.8,388.7 285.9,407.9 286.0,407.5 286.1,391.6 286.3,395.2 286.4,391.4 286.5,412.3 286.6,410.4 286.8,407.9 286.9,405.4 287.0,402.3 287.1,400.8 287.3,391.7 287.4,402.8 287.5,404.8 287.6,406.9 287.7,390.5 287.9,415.3 288.0,408.7 288.1,408.0 288.2,395.9 288.4,403.3 288.5,407.3 288.6,394.7 288.7,408.6 288.9,406.6 289.0,412.3 289.1,405.5 289.2,409.9 289.4,417.9 289.5,409.3 289.6,390.5 289.7,392.5 289.9,402.3 290.0,403.9 290.1,409.1 290.2,403.6 290.4,403.9 290.5,385.0 290.6,416.3 290.7,406.9 290.9,419.8 291.0,424.7 291.1,420.9 291.2,411.8 291.4,394.7 291.5,405.0 291.6,408.0 291.7,400.4 291.9,394.6 292.0,415.1 292.1,416.4 292.2,399.1 292.4,390.4 292.5,415.2 292.6,413.9 292.7,398.4 292.9,399.7 293.0,401.4 293.1,413.7 293.2,420.1 293.4,419.2 293.5,400.7 293.6,405.1 293.7,411.2 293.9,414.1 294.0,403.0 294.1,406.6 294.2,414.1 294.4,426.9 294.5,418.7 294.6,413.0 294.7,398.3 294.9,404.3 295.0,413.7 295.1,406.9 295.2,426.7 295.4,405.8 295.5,423.7 295.6,404.9 295.7,421.2 295.9,419.4 296.0,428.1 296.1,418.9 296.2,426.5 296.4,425.3 296.5,410.7 296.6,416.3 296.7,403.8 296.9,407.1 297.0,426.5 297.1,407.4 297.2,411.2 297.4,407.5 297.5,425.5 297.6,407.0 297.7,419.9 297.9,407.8 298.0,427.4 298.1,407.8 298.2,421.1 298.4,431.2 298.5,423.5 298.6,420.6 298.7,425.7 298.9,416.9 299.0,408.3 299.1,425.7 299.2,430.2 299.4,412.8 299.5,418.9 299.6,429.4 299.7,413.6 299.9,415.3 300.0,415.7 300.1,410.5 300.2,431.8 300.4,424.6 300.5,425.3 300.6,428.0 300.7,430.8 300.9,421.2 301.0,433.8 301.1,406.9 301.2,413.5 301.4,411.9 301.5,423.4 301.6,427.8 301.7,430.3 301.9,434.4 302.0,432.8 302.1,420.2 302.2,421.1 302.4,421.8 302.5,407.4 302.6,420.4 302.7,427.2 302.9,409.3 303.0,415.7 303.1,411.9 303.2,410.8 303.4,417.3 303.5,420.6 303.6,411.8 303.7,426.6 303.9,426.9 304.0,436.3 304.1,428.6 304.2,409.7 304.4,412.9 304.5,434.6 304.6,413.7 304.7,415.3 304.9,422.3 305.0,431.6 305.1,422.6 305.2,410.4 305.4,419.8 305.5,436.1 305.6,416.2 305.7,428.7 305.8,418.3 306.0,411.5 306.1,419.8 306.2,423.5 306.3,433.9 306.5,415.5 306.6,434.5 306.7,414.4 306.8,444.9 307.0,422.8 307.1,437.3 307.2,421.6 307.3,420.7 307.5,412.8 307.6,418.4 307.7,429.5 307.8,432.0 308.0,424.2 308.1,438.1 308.2,413.9 308.3,430.4 308.5,423.5 308.6,427.1 308.7,422.2 308.8,417.1 309.0,417.6 309.1,416.1 309.2,428.9 309.3,440.1 309.5,417.1 309.6,437.0 309.7,431.3 309.8,420.9 310.0,417.1 310.1,418.0 310.2,439.0 310.3,428.4 310.5,439.3 310.6,419.5 310.7,416.0 310.8,427.0 311.0,414.5 311.1,424.7 311.2,426.0 311.3,437.6 311.5,430.9 311.6,412.3 311.7,413.1 311.8,412.4 312.0,427.0 312.1,427.8 312.2,427.6 312.3,436.4 312.5,418.6 312.6,427.4 312.7,436.6 312.8,432.4 313.0,423.8 313.1,416.0 313.2,416.8 313.3,440.6 313.5,418.8 313.6,416.5 313.7,436.9 313.8,431.0 314.0,428.3 314.1,434.1 314.2,423.2 314.3,427.1 314.5,415.3 314.6,421.7 314.7,435.9 314.8,427.9 315.0,428.3 315.1,433.4 315.2,435.4 315.3,438.9 315.5,436.6 315.6,425.9 315.7,420.2 315.8,434.2 316.0,415.2 316.1,428.7 316.2,441.3 316.3,419.4 316.5,427.6 316.6,423.4 316.7,430.8 316.8,431.6 317.0,424.3 317.1,442.5 317.2,432.5 317.3,420.8 317.5,438.3 317.6,435.0 317.7,427.5 317.8,437.6 318.0,437.4 318.1,426.2 318.2,441.3 318.3,434.4 318.5,418.7 318.6,422.1 318.7,417.7 318.8,434.2 319.0,420.2 319.1,429.5 319.2,430.4 319.3,418.8 319.5,443.6 319.6,442.2 319.7,443.7 319.8,426.6 320.0,424.9 320.1,420.9 320.2,443.7 320.3,437.8 320.5,420.7 320.6,417.3 320.7,439.1 320.8,424.3 321.0,426.9 321.1,437.8 321.2,438.4 321.3,431.3 321.5,440.0 321.6,429.6 321.7,428.6 321.8,445.9 322.0,431.4 322.1,424.7 322.2,437.4 322.3,435.8 322.5,422.3 322.6,433.2 322.7,432.1 322.8,433.2 323.0,433.5 323.1,437.2 323.2,431.0 323.3,433.1 323.4,443.2 323.6,421.1 323.7,439.5 323.8,421.5 323.9,420.6 324.1,443.3 324.2,423.4 324.3,422.3 324.4,442.0 324.6,429.3 324.7,432.4 324.8,436.2 324.9,433.9 325.1,439.9 325.2,432.0 325.3,441.4 325.4,429.3 325.6,423.8 325.7,440.9 325.8,445.5 325.9,442.8 326.1,422.6 326.2,432.8 326.3,437.4 326.4,435.8 326.6,442.2 326.7,446.5 326.8,437.1 326.9,451.4 327.1,430.0 327.2,434.4 327.3,444.2 327.4,426.4 327.6,435.8 327.7,437.3 327.8,428.8 327.9,440.6 328.1,440.9 328.2,437.0 328.3,426.7 328.4,427.8 328.6,435.8 328.7,427.3 328.8,440.1 328.9,440.8 329.1,423.8 329.2,438.1 329.3,439.6 329.4,438.9 329.6,442.4 329.7,439.5 329.8,425.7 329.9,428.8 330.1,439.3 330.2,442.3 330.3,427.3 330.4,433.0 330.6,424.5 330.7,440.1 330.8,442.8 330.9,422.4 331.1,442.9 331.2,428.7 331.3,430.6 331.4,420.5 331.6,444.5 331.7,430.4 331.8,441.9 331.9,446.9 332.1,438.9 332.2,438.4 332.3,438.4 332.4,435.2 332.6,421.0 332.7,430.5 332.8,429.5 332.9,425.0 333.1,438.7 333.2,425.0 333.3,425.2 333.4,422.6 333.6,429.1 333.7,431.4 333.8,444.6 333.9,422.6 334.1,439.8 334.2,426.4 334.3,442.2 334.4,430.6 334.6,436.9 334.7,437.4 334.8,441.1 334.9,443.3 335.1,435.3 335.2,434.8 335.3,430.4 335.4,431.9 335.6,444.6 335.7,428.4 335.8,437.1 335.9,430.3 336.1,442.6 336.2,430.4 336.3,426.4 336.4,432.1 336.6,435.2 336.7,425.6 336.8,422.7 336.9,428.8 337.1,422.4 337.2,441.1 337.3,429.3 337.4,438.0 337.6,442.8 337.7,434.2 337.8,443.0 337.9,433.2 338.1,421.4 338.2,415.3 338.3,429.6 338.4,428.9 338.6,431.9 338.7,442.2 338.8,440.0 338.9,439.8 339.1,424.7 339.2,439.3 339.3,440.0 339.4,426.2 339.6,445.3 339.7,430.9 339.8,443.4 339.9,434.0 340.1,433.6 340.2,439.0 340.3,441.7 340.4,428.9 340.6,440.2 340.7,425.5 340.8,428.3 340.9,432.1 341.1,422.9 341.2,444.4 341.3,435.7 341.4,427.6 341.5,439.0 341.7,430.1 341.8,427.2 341.9,432.0 342.0,428.8 342.2,428.8 342.3,446.7 342.4,424.5 342.5,436.1 342.7,436.7 342.8,451.0 342.9,447.7 343.0,423.3 343.2,443.2 343.3,424.3 343.4,424.9 343.5,433.4 343.7,436.7 343.8,436.9 343.9,430.6 344.0,448.2 344.2,444.9 344.3,437.8 344.4,447.4 344.5,430.4 344.7,445.9 344.8,433.8 344.9,423.1 345.0,446.8 345.2,428.9 345.3,425.8 345.4,428.2 345.5,441.5 345.7,441.3 345.8,445.1 345.9,428.8 346.0,428.1 346.2,446.9 346.3,428.8 346.4,425.2 346.5,443.1 346.7,427.4 346.8,438.9 346.9,430.0 347.0,440.1 347.2,432.9 347.3,444.0 347.4,429.1 347.5,423.5 347.7,431.9 347.8,424.2 347.9,428.8 348.0,429.1 348.2,429.3 348.3,428.3 348.4,431.4 348.5,455.7 348.7,425.3 348.8,444.5 348.9,427.0 349.0,443.6 349.2,442.0 349.3,436.6 349.4,435.2 349.5,425.5 349.7,448.1 349.8,440.4 349.9,430.0 350.0,428.3 350.2,447.9 350.3,439.7 350.4,445.1 350.5,444.3 350.7,425.1 350.8,446.6 350.9,441.2 351.0,436.6 351.2,437.4 351.3,437.3 351.4,446.4 351.5,431.4 351.7,426.1 351.8,428.9 351.9,442.5 352.0,434.5 352.2,434.7 352.3,448.3 352.4,437.7 352.5,426.3 352.7,433.6 352.8,435.8 352.9,449.5 353.0,427.7 353.2,442.8 353.3,444.2 353.4,427.8 353.5,448.6 353.7,431.2 353.8,426.0 353.9,448.0 354.0,448.8 354.2,437.1 354.3,429.9 354.4,425.0 354.5,447.7 354.7,436.2 354.8,448.5 354.9,438.8 355.0,443.1 355.2,450.7 355.3,433.4 355.4,438.4 355.5,424.2 355.7,433.6 355.8,439.9 355.9,428.8 356.0,427.7 356.2,432.0 356.3,430.8 356.4,442.6 356.5,426.5 356.7,445.4 356.8,427.3 356.9,429.5 357.0,436.9 357.2,432.5 357.3,431.9 357.4,425.8 357.5,426.6 357.7,446.1 357.8,450.3 357.9,449.3 358.0,438.7 358.2,430.5 358.3,437.5 358.4,442.0 358.5,438.0 358.7,443.2 358.8,438.2 358.9,446.3 359.0,449.0 359.1,446.1 359.3,444.2 359.4,451.9 359.5,444.6 359.6,429.7 359.8,454.7 359.9,451.8 360.0,432.9 360.1,433.5 360.3,452.7 360.4,441.2 360.5,449.6 360.6,448.7 360.8,450.7 360.9,439.1 361.0,450.5 361.1,443.4 361.3,438.8 361.4,440.3 361.5,452.9 361.6,438.2 361.8,452.3 361.9,447.6 362.0,438.2 362.1,432.0 362.3,451.1 362.4,431.9 362.5,453.6 362.6,437.2 362.8,453.6 362.9,430.2 363.0,431.2 363.1,452.0 363.3,434.6 363.4,434.6 363.5,442.0 363.6,442.8 363.8,434.4 363.9,451.8 364.0,431.9 364.1,432.9 364.3,454.1 364.4,441.1 364.5,457.7 364.6,431.9 364.8,437.5 364.9,428.4 365.0,451.8 365.1,439.2 365.3,439.5 365.4,441.0 365.5,437.9 365.6,440.0 365.8,452.2 365.9,451.8 366.0,443.8 366.1,432.3 366.3,448.4 366.4,438.4 366.5,451.4 366.6,447.4 366.8,443.7 366.9,437.1 367.0,444.3 367.1,453.7 367.3,448.0 367.4,439.1 367.5,446.2 367.6,436.9 367.8,436.7 367.9,446.6 368.0,451.4 368.1,447.4 368.3,437.1 368.4,434.7 368.5,449.1 368.6,435.3 368.8,447.5 368.9,448.1 369.0,429.1 369.1,459.3 369.3,454.0 369.4,434.0 369.5,437.8 369.6,452.3 369.8,435.7 369.9,439.3 370.0,432.1 370.1,450.5 370.3,439.2 370.4,452.5 370.5,454.0 370.6,442.8 370.8,438.1 370.9,431.4 371.0,449.3 371.1,454.0 371.3,430.9 371.4,450.1 371.5,435.5 371.6,441.0 371.8,438.7 371.9,443.7 372.0,438.2 372.1,452.3 372.3,430.6 372.4,444.8 372.5,446.3 372.6,453.4 372.8,444.1 372.9,440.2 373.0,434.0 373.1,436.9 373.3,449.3 373.4,429.4 373.5,450.8 373.6,449.9 373.8,440.5 373.9,449.3 374.0,435.1 374.1,433.2 374.3,447.5 374.4,455.6 374.5,437.3 374.6,458.8 374.8,431.9 374.9,429.9 375.0,449.4 375.1,440.8 375.3,447.8 375.4,442.3 375.5,440.8 375.6,452.0 375.8,452.7 375.9,441.3 376.0,437.9 376.1,437.9 376.3,449.6 376.4,437.6 376.5,441.2 376.6,430.8 376.8,435.8 376.9,451.2 377.0,452.9 377.1,454.6 377.2,436.1 377.4,444.5 377.5,443.9 377.6,451.6 377.7,440.1 377.9,452.3 378.0,436.8 378.1,440.1 378.2,435.2 378.4,433.2 378.5,447.0 378.6,455.7 378.7,441.3 378.9,449.8 379.0,444.8 379.1,450.5 379.2,441.2 379.4,438.0 379.5,448.1 379.6,436.2 379.7,449.9 379.9,450.9 380.0,436.8 380.1,448.1 380.2,444.2 380.4,453.1 380.5,433.5 380.6,436.4 380.7,439.2 380.9,452.6 381.0,438.0 381.1,440.4 381.2,445.2 381.4,452.8 381.5,451.6 381.6,434.5 381.7,442.8 381.9,455.5 382.0,443.0 382.1,437.7 382.2,436.0 382.4,442.9 382.5,448.4 382.6,456.3 382.7,454.2 382.9,454.7 383.0,436.0 383.1,434.9 383.2,439.6 383.4,448.5 383.5,442.4 383.6,452.1 383.7,444.2 383.9,454.6 384.0,445.8 384.1,439.4 384.2,440.3 384.4,448.8 384.5,440.1 384.6,439.2 384.7,432.1 384.9,447.0 385.0,439.2 385.1,430.7 385.2,438.7 385.4,443.7 385.5,447.0 385.6,450.4 385.7,431.7 385.9,440.2 386.0,433.5 386.1,435.7 386.2,440.9 386.4,443.5 386.5,427.2 386.6,429.1 386.7,446.8 386.9,436.3 387.0,427.8 387.1,440.0 387.2,437.9 387.4,434.9 387.5,450.2 387.6,447.5 387.7,439.6 387.9,447.8 388.0,450.0 388.1,434.7 388.2,431.7 388.4,437.3 388.5,443.1 388.6,451.0 388.7,447.1 388.9,445.6 389.0,439.8 389.1,445.6 389.2,437.3 389.4,429.2 389.5,433.0 389.6,425.8 389.7,438.4 389.9,451.3 390.0,447.9 390.1,448.4 390.2,435.9 390.4,446.9 390.5,434.9 390.6,447.8 390.7,433.0 390.9,434.5 391.0,432.0 391.1,442.4 391.2,444.2 391.4,452.4 391.5,438.0 391.6,438.2 391.7,436.5 391.9,448.6 392.0,437.6 392.1,447.8 392.2,445.2 392.4,440.8 392.5,439.0 392.6,450.8 392.7,453.6 392.9,438.7 393.0,445.6 393.1,453.3 393.2,436.6 393.4,433.5 393.5,451.2 393.6,441.3 393.7,448.8 393.9,455.5 394.0,440.2 394.1,447.6 394.2,442.3 394.4,455.8 394.5,442.4 394.6,443.9 394.7,451.1 394.8,439.5 395.0,462.1 395.1,431.9 395.2,451.4 395.3,454.6 395.5,461.2 395.6,445.1 395.7,446.8 395.8,455.5 396.0,446.2 396.1,453.0 396.2,440.2 396.3,446.2 396.5,452.3 396.6,438.6 396.7,438.6 396.8,437.0 397.0,440.2 397.1,441.1 397.2,443.4 397.3,448.3 397.5,431.9 397.6,443.3 397.7,441.2 397.8,450.8 398.0,450.0 398.1,454.6 398.2,454.1 398.3,442.3 398.5,452.0 398.6,444.0 398.7,446.1 398.8,451.5 399.0,445.1 399.1,455.9 399.2,436.4 399.3,457.7 399.5,446.8 399.6,450.4 399.7,436.8 399.8,443.9 400.0,436.3 400.1,456.4 400.2,442.9 400.3,458.7 400.5,455.5 400.6,440.3 400.7,434.7 400.8,439.1 401.0,436.3 401.1,457.5 401.2,439.1 401.3,455.3 401.5,437.0 401.6,446.9 401.7,435.9 401.8,440.8 402.0,440.4 402.1,444.3 402.2,451.5 402.3,464.9 402.5,456.2 402.6,443.2 402.7,451.7 402.8,451.1 403.0,458.0 403.1,442.8 403.2,450.9 403.3,429.1 403.5,458.5 403.6,445.9 403.7,452.3 403.8,436.9 404.0,456.1 404.1,451.6 404.2,437.7 404.3,452.7 404.5,433.3 404.6,449.9 404.7,457.2 404.8,445.4 405.0,447.8 405.1,453.1 405.2,436.4 405.3,436.2 405.5,437.6 405.6,458.3 405.7,454.7 405.8,454.0 406.0,448.0 406.1,451.7 406.2,446.4 406.3,455.2 406.5,454.2 406.6,437.8 406.7,443.9 406.8,448.6 407.0,454.5 407.1,439.0 407.2,455.6 407.3,454.3 407.5,438.7 407.6,451.0 407.7,456.5 407.8,431.4 408.0,454.8 408.1,436.6 408.2,456.5 408.3,443.5 408.5,436.7 408.6,427.1 408.7,451.1 408.8,446.8 409.0,447.0 409.1,440.0 409.2,450.1 409.3,452.8 409.5,446.4 409.6,437.7 409.7,436.6 409.8,449.8 410.0,439.9 410.1,436.2 410.2,455.8 410.3,436.2 410.5,446.3 410.6,454.0 410.7,440.8 410.8,440.0 411.0,444.5 411.1,444.5 411.2,438.7 411.3,450.3 411.5,461.1 411.6,459.3 411.7,454.7 411.8,444.1 412.0,458.8 412.1,437.9 412.2,449.9 412.3,454.0 412.5,456.8 412.6,460.3 412.7,452.5 412.8,451.6 412.9,456.0 413.1,459.2 413.2,440.7 413.3,456.7 413.4,456.6 413.6,448.5 413.7,458.0 413.8,435.7 413.9,439.1 414.1,459.7 414.2,447.6 414.3,438.6 414.4,444.8 414.6,459.9 414.7,444.0 414.8,458.9 414.9,448.0 415.1,442.7 415.2,455.6 415.3,441.3 415.4,451.9 415.6,436.3 415.7,439.6 415.8,448.0 415.9,442.1 416.1,434.6 416.2,443.6 416.3,450.4 416.4,452.6 416.6,455.3 416.7,436.3 416.8,453.4 416.9,445.9 417.1,452.1 417.2,442.9 417.3,443.7 417.4,456.1 417.6,449.8 417.7,448.5 417.8,453.7 417.9,442.8 418.1,455.4 418.2,451.7 418.3,454.5 418.4,458.0 418.6,451.6 418.7,452.0 418.8,454.9 418.9,450.5 419.1,456.9 419.2,446.4 419.3,441.9 419.4,442.6 419.6,458.4 419.7,443.5 419.8,439.2 419.9,435.4 420.1,451.1 420.2,455.1 420.3,439.2 420.4,448.2 420.6,456.2 420.7,448.2 420.8,443.4 420.9,459.5 421.1,445.9 421.2,440.4 421.3,449.0 421.4,452.4 421.6,454.7 421.7,453.3 421.8,454.5 421.9,447.6 422.1,453.3 422.2,435.6 422.3,456.3 422.4,454.4 422.6,442.4 422.7,453.2 422.8,455.3 422.9,459.3 423.1,457.1 423.2,435.7 423.3,459.1 423.4,445.1 423.6,447.9 423.7,437.5 423.8,443.4 423.9,437.3 424.1,443.0 424.2,439.8 424.3,438.3 424.4,442.0 424.6,454.1 424.7,444.3 424.8,439.6 424.9,433.9 425.1,439.5 425.2,455.3 425.3,454.6 425.4,452.5 425.6,451.7 425.7,452.5 425.8,431.1 425.9,453.1 426.1,452.2 426.2,435.4 426.3,453.4 426.4,446.8 426.6,436.1 426.7,451.9 426.8,432.2 426.9,445.6 427.1,441.2 427.2,444.6 427.3,452.7 427.4,443.8 427.6,449.9 427.7,434.3 427.8,454.6 427.9,441.6 428.1,433.5 428.2,436.2 428.3,454.1 428.4,432.0 428.6,455.1 428.7,451.3 428.8,440.4 428.9,454.4 429.1,435.1 429.2,451.2 429.3,439.7 429.4,451.1 429.6,434.2 429.7,451.9 429.8,447.5 429.9,454.4 430.1,447.2 430.2,453.5 430.3,442.7 430.4,454.6 430.5,456.2 430.7,435.0 430.8,450.8 430.9,441.1 431.0,456.3 431.2,457.2 431.3,450.3 431.4,441.3 431.5,452.9 431.7,451.1 431.8,437.8 431.9,441.8 432.0,435.3 432.2,444.5 432.3,462.1 432.4,441.8 432.5,443.7 432.7,451.7 432.8,452.8 432.9,439.3 433.0,437.6 433.2,447.9 433.3,448.2 433.4,443.2 433.5,452.2 433.7,438.4 433.8,454.5 433.9,445.8 434.0,450.5 434.2,439.1 434.3,433.6 434.4,448.7 434.5,441.2 434.7,443.4 434.8,450.9 434.9,442.6 435.0,451.2 435.2,438.7 435.3,444.1 435.4,441.0 435.5,436.3 435.7,445.4 435.8,443.7 435.9,447.0 436.0,445.1 436.2,438.8 436.3,436.9 436.4,444.5 436.5,443.8 436.7,436.8 436.8,441.2 436.9,431.9 437.0,433.1 437.2,433.5 437.3,435.9 437.4,446.9 437.5,448.1 437.7,450.3 437.8,442.5 437.9,447.5 438.0,445.9 438.2,434.8 438.3,438.2 438.4,453.5 438.5,432.0 438.7,432.8 438.8,445.1 438.9,444.0 439.0,447.0 439.2,441.8 439.3,458.7 439.4,441.4 439.5,444.1 439.7,449.0 439.8,454.5 439.9,437.5 440.0,442.8 440.2,427.6 440.3,434.4 440.4,455.0 440.5,450.9 440.7,442.5 440.8,440.1 440.9,439.0 441.0,444.2 441.2,441.0 441.3,446.3 441.4,458.4 441.5,447.5 441.7,453.7 441.8,452.5 441.9,437.0 442.0,437.0 442.2,449.5 442.3,446.0 442.4,434.3 442.5,441.7 442.7,438.9 442.8,447.6 442.9,440.0 443.0,457.6 443.2,456.7 443.3,434.9 443.4,451.2 443.5,456.9 443.7,442.7 443.8,458.4 443.9,439.1 444.0,438.9 444.2,438.5 444.3,443.3 444.4,450.3 444.5,454.3 444.7,462.7 444.8,436.5 444.9,438.8 445.0,457.0 445.2,434.8 445.3,453.7 445.4,437.2 445.5,438.3 445.7,444.8 445.8,450.6 445.9,451.6 446.0,451.3 446.2,439.5 446.3,455.5 446.4,454.2 446.5,443.6 446.7,443.1 446.8,437.2 446.9,441.3 447.0,439.9 447.2,445.8 447.3,449.2 447.4,430.6 447.5,444.6 447.7,441.6 447.8,455.5 447.9,437.7 448.0,440.2 448.2,451.2 448.3,450.8 448.4,447.4 448.5,442.1 448.6,438.1 448.8,435.9 448.9,450.4 449.0,449.4 449.1,447.8 449.3,448.2 449.4,456.0 449.5,457.6 449.6,443.1 449.8,439.4 449.9,430.9 450.0,438.1 450.1,457.0 450.3,444.8 450.4,437.9 450.5,438.4 450.6,449.2 450.8,444.7 450.9,450.8 451.0,456.8 451.1,441.1 451.3,455.3 451.4,438.7 451.5,438.5 451.6,456.6 451.8,450.4 451.9,450.8 452.0,455.1 452.1,444.4 452.3,444.4 452.4,437.9 452.5,445.6 452.6,447.4 452.8,447.9 452.9,441.4 453.0,436.8 453.1,441.0 453.3,435.1 453.4,434.4 453.5,436.4 453.6,433.9 453.8,454.8 453.9,435.1 454.0,440.0 454.1,455.5 454.3,439.2 454.4,448.2 454.5,454.6 454.6,443.8 454.8,451.5 454.9,427.3 455.0,438.1 455.1,455.6 455.3,450.2 455.4,437.8 455.5,454.7 455.6,453.4 455.8,455.8 455.9,448.9 456.0,452.1 456.1,437.3 456.3,455.3 456.4,436.7 456.5,446.2 456.6,442.5 456.8,448.9 456.9,457.8 457.0,457.1 457.1,440.0 457.3,452.3 457.4,453.0 457.5,434.3 457.6,455.0 457.8,447.1 457.9,447.2 458.0,440.1 458.1,431.1 458.3,445.1 458.4,435.0 458.5,438.4 458.6,456.8 458.8,440.9 458.9,456.6 459.0,447.0 459.1,451.7 459.3,435.4 459.4,436.4 459.5,436.2 459.6,450.1 459.8,442.9 459.9,436.9 460.0,453.9 460.1,442.3 460.3,447.8 460.4,449.2 460.5,447.5 460.6,444.9 460.8,433.8 460.9,438.6 461.0,450.9 461.1,449.7 461.3,456.6 461.4,433.1 461.5,438.1 461.6,436.1 461.8,452.7 461.9,449.3 462.0,453.0 462.1,438.6 462.3,454.0 462.4,433.8 462.5,435.2 462.6,439.3 462.8,450.1 462.9,448.5 463.0,435.8 463.1,435.7 463.3,452.5 463.4,444.4 463.5,435.7 463.6,433.5 463.8,437.1 463.9,437.2 464.0,455.0 464.1,439.0 464.3,456.8 464.4,446.2 464.5,450.5 464.6,436.6 464.8,439.7 464.9,440.3 465.0,437.2 465.1,446.4 465.3,439.2 465.4,439.7 465.5,442.6 465.6,451.5 465.8,457.9 465.9,439.5 466.0,457.9 466.1,447.9 466.2,435.7 466.4,440.2 466.5,454.8 466.6,436.7 466.7,441.9 466.9,442.0 467.0,438.0 467.1,451.1 467.2,430.6 467.4,438.8 467.5,456.6 467.6,450.8 467.7,455.0 467.9,457.1 468.0,442.9 468.1,433.0 468.2,448.2 468.4,434.6 468.5,454.0 468.6,455.0 468.7,452.3 468.9,445.9 469.0,462.9 469.1,450.8 469.2,454.9 469.4,449.8 469.5,443.7 469.6,444.8 469.7,451.7 469.9,436.9 470.0,455.3 470.1,456.6 470.2,455.5 470.4,446.8 470.5,433.7 470.6,455.4 470.7,438.8 470.9,433.8 471.0,445.3 471.1,456.3 471.2,448.9 471.4,440.0 471.5,460.8 471.6,447.6 471.7,442.4 471.9,438.0 472.0,441.0 472.1,454.7 472.2,448.8 472.4,444.4 472.5,437.8 472.6,444.2 472.7,435.6 472.9,451.9 473.0,451.0 473.1,441.0 473.2,444.8 473.4,446.0 473.5,441.5 473.6,456.3 473.7,441.5 473.9,454.2 474.0,456.4 474.1,443.3 474.2,434.6 474.4,449.5 474.5,444.0 474.6,445.2 474.7,455.5 474.9,434.5 475.0,454.4 475.1,442.9 475.2,436.7 475.4,437.7 475.5,438.6 475.6,444.5 475.7,457.9 475.9,449.0 476.0,445.2 476.1,453.7 476.2,444.4 476.4,436.9 476.5,440.7 476.6,456.2 476.7,451.6 476.9,445.5 477.0,456.1 477.1,437.7 477.2,455.3 477.4,455.6 477.5,441.0 477.6,443.6 477.7,439.1 477.9,434.5 478.0,439.3 478.1,432.0 478.2,436.1 478.4,441.7 478.5,444.0 478.6,436.8 478.7,438.9 478.9,440.9 479.0,448.2 479.1,454.0 479.2,439.2 479.4,444.2 479.5,445.9 479.6,443.0 479.7,451.5 479.9,456.2 480.0,440.1 480.1,427.9 480.2,435.3 480.4,435.1 480.5,449.4 480.6,439.8 480.7,441.0 480.9,458.9 481.0,445.0 481.1,448.0 481.2,443.0 481.4,455.7 481.5,439.6 481.6,441.5 481.7,447.4 481.9,458.0 482.0,444.0 482.1,454.6 482.2,445.6 482.4,451.3 482.5,438.4 482.6,456.1 482.7,451.6 482.9,446.2 483.0,456.5 483.1,440.3 483.2,442.6 483.4,454.6 483.5,433.1 483.6,458.6 483.7,447.5 483.9,453.6 484.0,448.8 484.1,441.4 484.2,458.5 484.3,443.6 484.5,455.0 484.6,438.0 484.7,440.1 484.8,464.8 485.0,442.1 485.1,434.9 485.2,446.5 485.3,450.1 485.5,457.5 485.6,454.4 485.7,456.9 485.8,450.6 486.0,455.3 486.1,444.2 486.2,452.3 486.3,443.6 486.5,450.9 486.6,444.9 486.7,448.5 486.8,448.9 487.0,450.0 487.1,437.0 487.2,436.6 487.3,453.9 487.5,434.6 487.6,445.8 487.7,438.9 487.8,438.1 488.0,444.4 488.1,436.5 488.2,435.9 488.3,450.0 488.5,456.0 488.6,453.8 488.7,455.4 488.8,443.3 489.0,453.3 489.1,435.3 489.2,439.5 489.3,444.2 489.5,447.3 489.6,447.7 489.7,457.1 489.8,454.1 490.0,435.9 490.1,457.3 490.2,443.7 490.3,453.7 490.5,435.4 490.6,456.3 490.7,444.0 490.8,450.3 491.0,449.9 491.1,442.1 491.2,441.2 491.3,437.0 491.5,437.2 491.6,452.6 491.7,448.2 491.8,449.9 492.0,455.6 492.1,433.8 492.2,429.9 492.3,452.2 492.5,453.8 492.6,443.9 492.7,453.7 492.8,454.1 493.0,454.9 493.1,450.9 493.2,454.6 493.3,450.0 493.5,436.5 493.6,436.6 493.7,444.3 493.8,447.2 494.0,433.7 494.1,455.8 494.2,437.1 494.3,451.9 494.5,434.8 494.6,432.2 494.7,440.3 494.8,456.8 495.0,436.8 495.1,433.1 495.2,445.1 495.3,456.6 495.5,450.3 495.6,443.6 495.7,437.2 495.8,450.4 496.0,446.7 496.1,458.7 496.2,449.2 496.3,439.7 496.5,454.8 496.6,458.2 496.7,456.4 496.8,448.3 497.0,458.9 497.1,447.6 497.2,443.1 497.3,441.8 497.5,439.2 497.6,460.3 497.7,455.9 497.8,460.2 498.0,452.2 498.1,445.2 498.2,448.8 498.3,444.7 498.5,438.9 498.6,444.2 498.7,437.8 498.8,454.6 499.0,438.8 499.1,434.4 499.2,447.9 499.3,452.3 499.5,442.3 499.6,454.9 499.7,439.9 499.8,458.5 500.0,458.1 500.1,437.1 500.2,448.1 500.3,427.8 500.5,429.5 500.6,442.7 500.7,450.5 500.8,456.2 501.0,456.5 501.1,444.9 501.2,441.5 501.3,451.1 501.5,455.3 501.6,449.9 501.7,455.4 501.8,433.3 501.9,438.1 502.1,434.4 502.2,454.5 502.3,440.7 502.4,448.9 502.6,445.3 502.7,447.0 502.8,443.3 502.9,437.8 503.1,447.0 503.2,437.6 503.3,442.3 503.4,435.4 503.6,443.4 503.7,443.7 503.8,458.9 503.9,457.7 504.1,450.8 504.2,448.8 504.3,456.4 504.4,459.0 504.6,455.9 504.7,460.0 504.8,447.6 504.9,452.4 505.1,443.7 505.2,444.1 505.3,448.8 505.4,450.4 505.6,439.1 505.7,441.5 505.8,443.8 505.9,449.4 506.1,434.6 506.2,444.0 506.3,455.5 506.4,443.1 506.6,451.3 506.7,442.7 506.8,453.7 506.9,440.2 507.1,448.1 507.2,439.3 507.3,437.1 507.4,447.8 507.6,448.7 507.7,453.5 507.8,437.2 507.9,437.1 508.1,451.9 508.2,433.2 508.3,440.5 508.4,440.8 508.6,436.9 508.7,435.8 508.8,449.3 508.9,441.6 509.1,457.5 509.2,447.3 509.3,440.0 509.4,442.0 509.6,445.2 509.7,453.9 509.8,448.2 509.9,435.7 510.1,451.6 510.2,438.9 510.3,436.7 510.4,451.3 510.6,443.8 510.7,444.4 510.8,455.7 510.9,435.1 511.1,442.2 511.2,439.6 511.3,435.6 511.4,452.5 511.6,451.2 511.7,443.7 511.8,440.9 511.9,446.8 512.1,438.9 512.2,454.1 512.3,436.2 512.4,451.2 512.6,448.1 512.7,441.6 512.8,438.5 512.9,446.1 513.1,451.5 513.2,445.7 513.3,453.7 513.4,437.0 513.6,446.1 513.7,452.2 513.8,437.8 513.9,442.4 514.1,450.2 514.2,450.1 514.3,434.5 514.4,442.1 514.6,447.3 514.7,439.5 514.8,439.4 514.9,438.1 515.1,457.7 515.2,434.0 515.3,453.4 515.4,440.9 515.6,441.4 515.7,452.0 515.8,442.1 515.9,442.1 516.1,460.8 516.2,438.0 516.3,443.0 516.4,451.7 516.6,433.1 516.7,438.3 516.8,435.2 516.9,434.6 517.1,453.2 517.2,446.9 517.3,456.3 517.4,451.1 517.6,430.0 517.7,437.2 517.8,449.0 517.9,442.5 518.1,438.4 518.2,442.0 518.3,438.5 518.4,455.1 518.6,443.7 518.7,435.6 518.8,438.1 518.9,444.7 519.1,453.7 519.2,454.3 519.3,448.5 519.4,441.9 519.5,460.5 519.7,435.2 519.8,453.7 519.9,449.2 520.0,444.4 520.2,444.0 520.3,448.5 520.4,445.7 520.5,435.7 520.7,449.2 520.8,448.1 520.9,440.3 521.0,445.4 521.2,459.3 521.3,450.6 521.4,451.0 521.5,444.2 521.7,444.3 521.8,457.8 521.9,458.8 522.0,451.9 522.2,466.0 522.3,451.3 522.4,446.4 522.5,439.6 522.7,448.0 522.8,447.0 522.9,452.9 523.0,448.6 523.2,438.7 523.3,440.9 523.4,460.7 523.5,450.1 523.7,460.3 523.8,440.9 523.9,444.9 524.0,453.2 524.2,448.4 524.3,451.8 524.4,458.7 524.5,460.3 524.7,455.0 524.8,448.6 524.9,452.6 525.0,448.2 525.2,457.4 525.3,459.9 525.4,447.9 525.5,454.5 525.7,451.2 525.8,456.4 525.9,441.2 526.0,457.3 526.2,446.1 526.3,458.0 526.4,446.6 526.5,448.0 526.7,440.4 526.8,450.4 526.9,444.8 527.0,440.1 527.2,446.4 527.3,438.0 527.4,437.0 527.5,446.8 527.7,448.8 527.8,443.2 527.9,453.1 528.0,437.6 528.2,441.2 528.3,446.1 528.4,447.7 528.5,450.6 528.7,449.9 528.8,447.3 528.9,458.5 529.0,444.3 529.2,437.6 529.3,450.0 529.4,442.0 529.5,464.5 529.7,446.1 529.8,461.1 529.9,465.3 530.0,455.8 530.2,458.0 530.3,450.8 530.4,459.8 530.5,459.4 530.7,448.4 530.8,451.5 530.9,447.3 531.0,460.7 531.2,441.2 531.3,457.6 531.4,462.0 531.5,461.4 531.7,453.2 531.8,460.4 531.9,462.2 532.0,447.5 532.2,451.5 532.3,442.8 532.4,445.4 532.5,449.6 532.7,457.2 532.8,452.4 532.9,459.8 533.0,450.2 533.2,463.0 533.3,463.0 533.4,447.5 533.5,455.4 533.7,459.3 533.8,458.9 533.9,454.6 534.0,439.9 534.2,452.4 534.3,459.1 534.4,447.8 534.5,446.7 534.7,456.1 534.8,449.2 534.9,462.6 535.0,457.3 535.2,452.2 535.3,453.9 535.4,449.2 535.5,465.2 535.7,455.1 535.8,456.6 535.9,451.0 536.0,439.2 536.2,438.4 536.3,449.4 536.4,439.1 536.5,460.3 536.7,448.4 536.8,450.4 536.9,442.4 537.0,454.7 537.2,450.1 537.3,442.0 537.4,448.3 537.5,440.1 537.6,457.3 537.8,447.8 537.9,454.0 538.0,447.2 538.1,446.3 538.3,439.8 538.4,455.1 538.5,452.5 538.6,446.2 538.8,463.3 538.9,453.5 539.0,458.5 539.1,445.4 539.3,443.7 539.4,457.6 539.5,447.7 539.6,469.1 539.8,463.9 539.9,453.1 540.0,450.7 540.1,441.9 540.3,455.6 540.4,453.4 540.5,434.5 540.6,455.3 540.8,455.2 540.9,458.3 541.0,454.9 541.1,447.4 541.3,459.0 541.4,436.9 541.5,463.2 541.6,458.4 541.8,447.9 541.9,463.1 542.0,461.6 542.1,441.9 542.3,449.9 542.4,442.0 542.5,441.0 542.6,461.3 542.8,463.3 542.9,455.6 543.0,457.3 543.1,455.4 543.3,456.1 543.4,454.6 543.5,450.6 543.6,448.9 543.8,442.2 543.9,447.3 544.0,447.0 544.1,455.8 544.3,460.7 544.4,460.3 544.5,467.0 544.6,457.0 544.8,443.2 544.9,471.1 545.0,438.2 545.1,453.4 545.3,454.3 545.4,451.4 545.5,460.1 545.6,448.8 545.8,456.7 545.9,455.1 546.0,454.2 546.1,450.6 546.3,440.6 546.4,447.0 546.5,463.4 546.6,445.8 546.8,449.4 546.9,452.3 547.0,444.1 547.1,462.3 547.3,454.2 547.4,451.9 547.5,451.6 547.6,456.6 547.8,454.7 547.9,447.7 548.0,454.5 548.1,450.7 548.3,458.3 548.4,460.0 548.5,446.5 548.6,444.2 548.8,450.8 548.9,464.3 549.0,444.2 549.1,460.9 549.3,466.7 549.4,444.7 549.5,446.5 549.6,461.9 549.8,459.3 549.9,469.6 550.0,454.7 550.1,466.8 550.3,472.6 550.4,459.6 550.5,458.1 550.6,461.9 550.8,451.7 550.9,444.8 551.0,449.2 551.1,449.6 551.3,462.6 551.4,459.6 551.5,444.1 551.6,441.2 551.8,457.4 551.9,449.1 552.0,444.4 552.1,454.5 552.3,438.5 552.4,442.7 552.5,446.6 552.6,449.4 552.8,446.2 552.9,444.2 553.0,458.7 553.1,456.6 553.3,444.1 553.4,451.8 553.5,454.7 553.6,461.6 553.8,454.7 553.9,464.2 554.0,463.8 554.1,457.3 554.3,463.5 554.4,461.1 554.5,449.7 554.6,445.5 554.8,447.1 554.9,460.2 555.0,448.4 555.1,456.9 555.2,457.8 555.4,455.6 555.5,468.0 555.6,465.9 555.7,473.4 555.9,448.5 556.0,454.2 556.1,451.1 556.2,457.5 556.4,443.8 556.5,456.4 556.6,454.1 556.7,456.0 556.9,458.2 557.0,468.8 557.1,449.9 557.2,473.3 557.4,453.3 557.5,473.3 557.6,464.2 557.7,458.7 557.9,465.4 558.0,465.8 558.1,448.6 558.2,463.7 558.4,464.0 558.5,447.3 558.6,458.9 558.7,457.4 558.9,461.1 559.0,450.2 559.1,464.0 559.2,446.1 559.4,453.0 559.5,466.4 559.6,466.0 559.7,450.9 559.9,465.9 560.0,452.9 560.1,457.6 560.2,460.9 560.4,452.9 560.5,445.5 560.6,453.5 560.7,448.7 560.9,466.3 561.0,456.5 561.1,459.2 561.2,457.9 561.4,465.1 561.5,465.4 561.6,459.4 561.7,464.5 561.9,443.1 562.0,464.1 562.1,452.4 562.2,460.6 562.4,464.9 562.5,452.4 562.6,454.1 562.7,443.0 562.9,450.3 563.0,439.4 563.1,457.2 563.2,447.9 563.4,460.0 563.5,448.0 563.6,464.2 563.7,447.0 563.9,459.4 564.0,462.4 564.1,449.2 564.2,466.6 564.4,447.0 564.5,464.2 564.6,458.9 564.7,447.5 564.9,455.4 565.0,469.9 565.1,463.7 565.2,451.1 565.4,446.1 565.5,449.7 565.6,467.1 565.7,449.8 565.9,460.0 566.0,444.7 566.1,444.0 566.2,456.1 566.4,459.4 566.5,461.9 566.6,461.9 566.7,464.3 566.9,451.5 567.0,447.2 567.1,449.5 567.2,450.5 567.4,452.5 567.5,447.6 567.6,447.4 567.7,461.9 567.9,454.7 568.0,455.9 568.1,462.4 568.2,445.8 568.4,457.2 568.5,455.0 568.6,459.1 568.7,445.6 568.9,463.2 569.0,452.1 569.1,458.8 569.2,451.2 569.4,463.8 569.5,451.7 569.6,445.1 569.7,447.8 569.9,458.7 570.0,462.2 570.1,452.5 570.2,447.6 570.4,455.0 570.5,460.5 570.6,457.2 570.7,464.7 570.9,455.3 571.0,455.4 571.1,463.6 571.2,444.3 571.4,446.7 571.5,449.8 571.6,465.0 571.7,461.7 571.9,460.6 572.0,451.8 572.1,457.0 572.2,451.2 572.4,447.8 572.5,451.1 572.6,447.8 572.7,463.6 572.9,448.7 573.0,463.0 573.1,465.7 573.2,453.9 573.3,468.3 573.5,449.9 573.6,466.7 573.7,458.5 573.8,461.7 574.0,459.7 574.1,455.8 574.2,466.9 574.3,462.6 574.5,451.4 574.6,462.2 574.7,458.5 574.8,465.0 575.0,464.5 575.1,447.7 575.2,460.6 575.3,452.2 575.5,454.7 575.6,454.6 575.7,467.5 575.8,444.3 576.0,456.7 576.1,456.8 576.2,455.6 576.3,448.9 576.5,471.2 576.6,450.2 576.7,465.3 576.8,468.2 577.0,456.3 577.1,459.5 577.2,453.4 577.3,467.3 577.5,457.0 577.6,465.4 577.7,460.7 577.8,459.4 578.0,465.8 578.1,458.6 578.2,462.3 578.3,463.9 578.5,447.8 578.6,452.9 578.7,449.0 578.8,457.3 579.0,448.0 579.1,466.4 579.2,466.0 579.3,455.3 579.5,464.1 579.6,447.5 579.7,467.3 579.8,459.0 580.0,462.9 580.1,457.2 580.2,452.4 580.3,449.9 580.5,465.7 580.6,461.1 580.7,467.6 580.8,459.6 581.0,463.7 581.1,449.9 581.2,467.5 581.3,454.8 581.5,462.6 581.6,457.9 581.7,464.2 581.8,461.4 582.0,448.4 582.1,458.6 582.2,470.4 582.3,457.0 582.5,457.8 582.6,468.1 582.7,467.9 582.8,449.8 583.0,461.6 583.1,464.5 583.2,448.8 583.3,464.9 583.5,459.2 583.6,450.5 583.7,467.8 583.8,458.6 584.0,452.4 584.1,452.6 584.2,468.1 584.3,464.4 584.5,452.3 584.6,466.2 584.7,462.0 584.8,465.7 585.0,469.0 585.1,451.8 585.2,467.3 585.3,455.9 585.5,467.2 585.6,466.7 585.7,451.1 585.8,461.2 586.0,454.9 586.1,448.0 586.2,457.0 586.3,448.9 586.5,454.3 586.6,448.7 586.7,454.9 586.8,460.4 587.0,447.5 587.1,457.3 587.2,449.8 587.3,462.0 587.5,458.0 587.6,451.8 587.7,460.7 587.8,460.1 588.0,449.1 588.1,475.5 588.2,463.2 588.3,464.9 588.5,467.3 588.6,462.3 588.7,453.0 588.8,458.6 589.0,450.8 589.1,470.2 589.2,468.7 589.3,471.2 589.5,449.0 589.6,453.9 589.7,469.3 589.8,455.3 590.0,467.3 590.1,450.9 590.2,464.5 590.3,465.4 590.5,451.5 590.6,453.5 590.7,458.9 590.8,456.3 590.9,459.0 591.1,464.9 591.2,452.1 591.3,451.9 591.4,460.5 591.6,468.0 591.7,447.7 591.8,466.0 591.9,452.0 592.1,454.3 592.2,462.9 592.3,453.6 592.4,452.6 592.6,464.8 592.7,451.6 592.8,460.6 592.9,467.9 593.1,452.3 593.2,470.7 593.3,458.9 593.4,451.8 593.6,453.6 593.7,453.6 593.8,469.0 593.9,469.8 594.1,461.4 594.2,455.6 594.3,465.4 594.4,446.5 594.6,458.1 594.7,463.0 594.8,463.9 594.9,466.3 595.1,461.8 595.2,453.1 595.3,469.1 595.4,450.6 595.6,470.2 595.7,454.3 595.8,464.5 595.9,468.9 596.1,466.7 596.2,457.4 596.3,450.7 596.4,469.4 596.6,453.7 596.7,468.1 596.8,449.1 596.9,463.6 597.1,465.6 597.2,452.2 597.3,469.9 597.4,468.0 597.6,451.7 597.7,448.0 597.8,462.9 597.9,449.7 598.1,455.7 598.2,454.4 598.3,454.2 598.4,452.1 598.6,456.9 598.7,450.8 598.8,467.3 598.9,450.5 599.1,451.6 599.2,452.6 599.3,461.9 599.4,458.7 599.6,451.3 599.7,470.2 599.8,467.4 599.9,470.4 600.1,468.0 600.2,456.5 600.3,450.8 600.4,462.0 600.6,471.2 600.7,470.5 600.8,456.6 600.9,460.0 601.1,458.3 601.2,453.5 601.3,471.0 601.4,458.3 601.6,454.1 601.7,453.1 601.8,466.9 601.9,471.3 602.1,469.3 602.2,456.8 602.3,461.0 602.4,472.4 602.6,457.1 602.7,465.0 602.8,461.6 602.9,455.3 603.1,469.2 603.2,469.9 603.3,464.4 603.4,453.9 603.6,449.7 603.7,455.3 603.8,457.4 603.9,468.3 604.1,457.7 604.2,465.5 604.3,471.7 604.4,457.1 604.6,468.8 604.7,466.5 604.8,457.3 604.9,466.7 605.1,460.2 605.2,466.4 605.3,467.3 605.4,470.9 605.6,460.1 605.7,457.4 605.8,471.2 605.9,465.9 606.1,457.2 606.2,470.4 606.3,466.8 606.4,459.5 606.6,455.7 606.7,458.8 606.8,449.9 606.9,469.6 607.1,450.1 607.2,457.5 607.3,456.2 607.4,464.5 607.6,463.3 607.7,460.0 607.8,469.7 607.9,455.7 608.1,448.1 608.2,457.7 608.3,450.0 608.4,462.6 608.6,449.7 608.7,449.0 608.8,459.3 608.9,468.8 609.0,465.9 609.2,469.1 609.3,454.6 609.4,468.6 609.5,449.7 609.7,456.8 609.8,461.4 609.9,461.3 610.0,449.3 610.2,468.1 610.3,453.1 610.4,449.7 610.5,463.6 610.7,460.6 610.8,459.1 610.9,462.5 611.0,469.8 611.2,464.6 611.3,460.2 611.4,451.9 611.5,467.4 611.7,452.1 611.8,462.6 611.9,456.1 612.0,463.4 612.2,455.5 612.3,464.0 612.4,456.6 612.5,469.0 612.7,469.1 612.8,469.5 612.9,457.5 613.0,477.9 613.2,450.0 613.3,462.6 613.4,468.5 613.5,456.2 613.7,459.1 613.8,459.2 613.9,462.1 614.0,470.5 614.2,468.5 614.3,451.3 614.4,458.7 614.5,455.4 614.7,457.4 614.8,451.7 614.9,465.0 615.0,473.5 615.2,455.5 615.3,462.6 615.4,453.2 615.5,469.9 615.7,473.1 615.8,464.1 615.9,448.9 616.0,469.7 616.2,460.6 616.3,454.9 616.4,462.7 616.5,472.7 616.7,465.9 616.8,458.0 616.9,463.5 617.0,459.7 617.2,471.8 617.3,461.0 617.4,452.5 617.5,451.9 617.7,469.8 617.8,461.4 617.9,464.0 618.0,468.5 618.2,461.7 618.3,471.5 618.4,460.3 618.5,456.1 618.7,455.0 618.8,465.9 618.9,460.4 619.0,451.2 619.2,471.3 619.3,466.1 619.4,462.6 619.5,470.6 619.7,451.3 619.8,468.8 619.9,451.7 620.0,467.4 620.2,463.6 620.3,467.8 620.4,461.7 620.5,450.1 620.7,452.0 620.8,461.7 620.9,466.3 621.0,451.3 621.2,463.8 621.3,468.4 621.4,463.0 621.5,461.4 621.7,471.1 621.8,470.9 621.9,454.2 622.0,467.9 622.2,466.2 622.3,459.4 622.4,462.6 622.5,468.0 622.7,457.8 622.8,455.7 622.9,471.8 623.0,455.4 623.2,468.7 623.3,468.0 623.4,472.7 623.5,469.2 623.7,470.8 623.8,464.1 623.9,467.0 624.0,464.1 624.2,469.9 624.3,459.2 624.4,471.8 624.5,454.4 624.7,455.7 624.8,472.8 624.9,471.3 625.0,465.3 625.2,466.4 625.3,469.1 625.4,466.0 625.5,452.7 625.7,452.8 625.8,456.4 625.9,446.5 626.0,464.6 626.2,462.0 626.3,466.7 626.4,458.3 626.5,455.3 626.6,470.3 626.8,451.8 626.9,464.4 627.0,453.1 627.1,472.1 627.3,465.1 627.4,468.5 627.5,453.4 627.6,471.9 627.8,462.8 627.9,461.5 628.0,453.4 628.1,464.7 628.3,451.7 628.4,455.6 628.5,456.1 628.6,463.4 628.8,471.4 628.9,465.1 629.0,468.6 629.1,466.3 629.3,455.8 629.4,471.5 629.5,471.1 629.6,457.7 629.8,455.8 629.9,460.0 630.0,468.5 630.1,451.4 630.3,464.0 630.4,461.8 630.5,474.4 630.6,457.4 630.8,473.9 630.9,474.3 631.0,473.9 631.1,469.1 631.3,471.7 631.4,470.9 631.5,462.1 631.6,474.0 631.8,468.7 631.9,460.7 632.0,461.7 632.1,479.2 632.3,451.4 632.4,467.0 632.5,473.0 632.6,466.8 632.8,454.7 632.9,472.4 633.0,468.4 633.1,466.2 633.3,459.0 633.4,458.1 633.5,471.7 633.6,467.6 633.8,461.9 633.9,452.9 634.0,473.8 634.1,469.9 634.3,465.2 634.4,469.4 634.5,464.9 634.6,463.2 634.8,459.5 634.9,471.5 635.0,452.3 635.1,462.5 635.3,469.9 635.4,455.2 635.5,467.3 635.6,452.4 635.8,460.9 635.9,472.0 636.0,471.7 636.1,467.8 636.3,466.8 636.4,465.4 636.5,471.8 636.6,446.0 636.8,455.4 636.9,472.4 637.0,463.4 637.1,470.8 637.3,456.1 637.4,454.6 637.5,456.3 637.6,463.7 637.8,453.8 637.9,461.6 638.0,452.6 638.1,465.0 638.3,470.0 638.4,462.3 638.5,449.9 638.6,461.0 638.8,475.4 638.9,471.7 639.0,451.0 639.1,457.1 639.3,454.9 639.4,456.7 639.5,468.8 639.6,470.4 639.8,467.5 639.9,461.3 640.0,471.4 640.1,469.5 640.3,471.8 640.4,464.5 640.5,462.9 640.6,457.4 640.8,457.4 640.9,465.5 641.0,448.1 641.1,464.6 641.3,463.4 641.4,464.4 641.5,458.9 641.6,469.8 641.8,458.6 641.9,471.5 642.0,471.0 642.1,464.0 642.3,469.3 642.4,473.2 642.5,455.1 642.6,458.9 642.8,476.0 642.9,455.5 643.0,461.0 643.1,457.6 643.3,455.1 643.4,456.0 643.5,457.2 643.6,454.3 643.8,471.0 643.9,464.7 644.0,473.6 644.1,459.9 644.3,452.7 644.4,472.9 644.5,480.0 644.6,472.9 644.7,464.5 644.9,464.8 645.0,473.1 645.1,456.6 645.2,467.3 645.4,457.4 645.5,463.7 645.6,460.9 645.7,460.5 645.9,462.6 646.0,462.7 646.1,470.6 646.2,460.1 646.4,463.9 646.5,453.2 646.6,458.5 646.7,471.6 646.9,454.0 647.0,456.7 647.1,455.4 647.2,469.6 647.4,468.7 647.5,462.6 647.6,472.5 647.7,466.4 647.9,445.4 648.0,453.4 648.1,468.5 648.2,458.0 648.4,471.2 648.5,454.4 648.6,468.4 648.7,462.6 648.9,457.9 649.0,451.4 649.1,464.0 649.2,455.2 649.4,452.2 649.5,461.3 649.6,450.3 649.7,459.1 649.9,469.4 650.0,460.6 650.1,467.5 650.2,462.0 650.4,457.4 650.5,464.2 650.6,459.9 650.7,467.6 650.9,477.8 651.0,462.4 651.1,462.0 651.2,457.2 651.4,464.5 651.5,461.1 651.6,458.9 651.7,468.0 651.9,469.3 652.0,456.7 652.1,453.3 652.2,447.4 652.4,464.2 652.5,460.1 652.6,476.8 652.7,464.2 652.9,470.3 653.0,470.1 653.1,454.3 653.2,461.9 653.4,456.5 653.5,455.0 653.6,457.3 653.7,453.0 653.9,461.9 654.0,463.5 654.1,473.5 654.2,472.5 654.4,467.4 654.5,455.6 654.6,466.2 654.7,462.6 654.9,468.1 655.0,472.7 655.1,469.1 655.2,451.6 655.4,456.8 655.5,458.8 655.6,448.1 655.7,471.4 655.9,456.2 656.0,454.8 656.1,464.0 656.2,454.7 656.4,454.2 656.5,453.4 656.6,473.4 656.7,463.9 656.9,465.8 657.0,461.0 657.1,477.8 657.2,455.9 657.4,458.8 657.5,458.4 657.6,457.5 657.7,463.6 657.9,458.0 658.0,464.2 658.1,459.9 658.2,459.6 658.4,469.4 658.5,450.4 658.6,456.4 658.7,473.7 658.9,459.5 659.0,469.9 659.1,471.8 659.2,457.9 659.4,458.7 659.5,470.4 659.6,468.5 659.7,461.2 659.9,454.8 660.0,455.2 660.1,454.9 660.2,460.3 660.4,459.9 660.5,464.8 660.6,467.3 660.7,458.4 660.9,462.2 661.0,474.1 661.1,457.4 661.2,466.4 661.4,459.5 661.5,481.2 661.6,459.6 661.7,456.9 661.9,467.8 662.0,470.9 662.1,474.4 662.2,469.5 662.3,460.5 662.5,471.8 662.6,463.4 662.7,459.5 662.8,466.8 663.0,466.7 663.1,466.6 663.2,456.8 663.3,464.8 663.5,472.6 663.6,458.2 663.7,473.3 663.8,462.5 664.0,462.3 664.1,448.5 664.2,473.8 664.3,472.2 664.5,470.5 664.6,450.4 664.7,459.5 664.8,465.9 665.0,466.6 665.1,470.0 665.2,460.1 665.3,454.7 665.5,453.5 665.6,470.7 665.7,460.7 665.8,455.6 666.0,452.4 666.1,467.9 666.2,470.7 666.3,454.6 666.5,468.7 666.6,467.2 666.7,455.5 666.8,450.9 667.0,469.2 667.1,466.1 667.2,468.0 667.3,468.4 667.5,464.1 667.6,470.8 667.7,471.7 667.8,456.3 668.0,460.7 668.1,458.2 668.2,454.2 668.3,476.7 668.5,459.7 668.6,465.3 668.7,472.1 668.8,461.0 669.0,452.5 669.1,465.5 669.2,470.9 669.3,470.4 669.5,464.0 669.6,454.6 669.7,454.8 669.8,451.7 670.0,473.0 670.1,474.9 670.2,448.5 670.3,468.7 670.5,454.4 670.6,470.8 670.7,461.4 670.8,456.6 671.0,454.1 671.1,472.4 671.2,467.5 671.3,471.6 671.5,455.9 671.6,462.2 671.7,468.0 671.8,459.7 672.0,473.3 672.1,462.7 672.2,468.4 672.3,462.4 672.5,452.3 672.6,469.8 672.7,467.8 672.8,467.5 673.0,468.4 673.1,454.5 673.2,451.7 673.3,462.6 673.5,469.1 673.6,465.4 673.7,457.5 673.8,457.8 674.0,459.4 674.1,451.7 674.2,456.3 674.3,454.5 674.5,460.9 674.6,466.6 674.7,465.8 674.8,451.0 675.0,463.5 675.1,468.4 675.2,455.2 675.3,462.8 675.5,461.1 675.6,471.0 675.7,459.8 675.8,471.5 676.0,451.5 676.1,468.4 676.2,470.2 676.3,459.8 676.5,456.3 676.6,451.2 676.7,463.7 676.8,468.6 677.0,456.5 677.1,458.2 677.2,466.0 677.3,455.7 677.5,463.7 677.6,459.2 677.7,477.4 677.8,453.3 678.0,455.0 678.1,457.0 678.2,465.1 678.3,453.0 678.5,462.7 678.6,459.9 678.7,467.1 678.8,454.6 679.0,462.0 679.1,466.0 679.2,469.8 679.3,462.3 679.5,458.8 679.6,454.8 679.7,463.7 679.8,458.6 680.0,470.8 680.1,478.5 680.2,461.4 680.3,465.5 680.4,461.0 680.6,467.0 680.7,464.8 680.8,457.6 680.9,468.1 681.1,464.2 681.2,480.5 681.3,461.2 681.4,460.6 681.6,457.1 681.7,472.0 681.8,464.6 681.9,470.6 682.1,469.2 682.2,473.0 682.3,471.9 682.4,460.7 682.6,465.4 682.7,470.5 682.8,472.7 682.9,463.9 683.1,454.3 683.2,461.5 683.3,469.6 683.4,461.7 683.6,466.4 683.7,473.5 683.8,459.5 683.9,455.4 684.1,462.0 684.2,460.9 684.3,460.1 684.4,474.7 684.6,471.5 684.7,456.9 684.8,472.3 684.9,459.3 685.1,470.3 685.2,463.4 685.3,461.7 685.4,462.7 685.6,458.1 685.7,467.6 685.8,458.7 685.9,463.2 686.1,468.1 686.2,466.7 686.3,461.0 686.4,471.8 686.6,474.1 686.7,471.8 686.8,452.5 686.9,456.0 687.1,464.6 687.2,471.8 687.3,457.0 687.4,452.9 687.6,461.1 687.7,455.8 687.8,463.9 687.9,471.0 688.1,461.2 688.2,455.8 688.3,468.5 688.4,472.6 688.6,464.3 688.7,462.8 688.8,469.6 688.9,455.7 689.1,475.3 689.2,466.9 689.3,463.5 689.4,470.2 689.6,454.3 689.7,470.4 689.8,457.0 689.9,464.2 690.1,454.9 690.2,463.7 690.3,456.4 690.4,468.1 690.6,460.9 690.7,460.9 690.8,463.4 690.9,468.6 691.1,473.5 691.2,465.0 691.3,471.4 691.4,452.9 691.6,461.7 691.7,466.6 691.8,455.0 691.9,464.9 692.1,460.6 692.2,462.4 692.3,456.0 692.4,460.9 692.6,452.1 692.7,465.0 692.8,454.8 692.9,465.7 693.1,467.0 693.2,455.5 693.3,456.8 693.4,452.1 693.6,451.7 693.7,472.7 693.8,455.1 693.9,463.2 694.1,464.8 694.2,464.6 694.3,454.7 694.4,450.1 694.6,467.6 694.7,456.2 694.8,467.3 694.9,458.0 695.1,451.7 695.2,459.6 695.3,462.5 695.4,465.1 695.6,449.7 695.7,457.1 695.8,460.8 695.9,456.5 696.1,453.6 696.2,452.8 696.3,469.1 696.4,467.1 696.6,455.5 696.7,466.6 696.8,450.8 696.9,461.3 697.1,465.9 697.2,449.5 697.3,463.0 697.4,452.3 697.6,455.5 697.7,465.3 697.8,467.6"/><polyline fill="none" stroke="#ff0000" stroke-width="1.1" stroke-linejoin="miter" points="73.8,509.1 73.9,513.5 74.0,529.7 74.2,523.5 74.3,509.7 74.4,519.5 74.5,520.9 74.7,511.9 74.8,528.4 74.9,510.9 75.0,518.9 75.2,507.7 75.3,520.4 75.4,525.0 75.5,506.6 75.7,535.8 75.8,516.8 75.9,527.4 76.0,528.9 76.2,517.5 76.3,509.3 76.4,537.1 76.5,518.0 76.7,518.5 76.8,535.1 76.9,526.4 77.0,523.2 77.2,531.8 77.3,510.7 77.4,529.9 77.5,502.2 77.7,512.3 77.8,528.5 77.9,536.2 78.0,515.5 78.2,527.5 78.3,518.0 78.4,530.6 78.5,530.0 78.7,501.8 78.8,533.0 78.9,528.0 79.0,528.7 79.2,532.6 79.3,521.4 79.4,530.8 79.5,534.2 79.7,512.1 79.8,533.4 79.9,520.4 80.0,522.9 80.2,513.4 80.3,529.1 80.4,517.6 80.5,534.0 80.7,517.1 80.8,525.3 80.9,520.7 81.0,526.8 81.2,514.9 81.3,514.5 81.4,530.6 81.5,530.7 81.7,525.4 81.8,535.5 81.9,515.2 82.0,533.5 82.2,514.2 82.3,536.8 82.4,527.1 82.5,526.7 82.7,537.1 82.8,531.9 82.9,504.1 83.0,511.3 83.2,520.3 83.3,512.4 83.4,515.5 83.5,516.2 83.7,534.6 83.8,514.0 83.9,518.9 84.0,524.6 84.2,534.8 84.3,538.2 84.4,531.1 84.5,506.9 84.7,526.7 84.8,531.3 84.9,512.9 85.0,530.7 85.2,522.0 85.3,528.3 85.4,530.6 85.5,530.6 85.7,526.5 85.8,527.4 85.9,517.3 86.0,525.7 86.2,515.2 86.3,525.3 86.4,526.8 86.5,533.5 86.7,522.8 86.8,512.2 86.9,526.6 87.0,517.5 87.2,532.7 87.3,522.8 87.4,522.6 87.5,544.9 87.7,523.1 87.8,522.0 87.9,522.0 88.0,525.9 88.2,511.6 88.3,528.0 88.4,538.7 88.5,528.7 88.7,534.0 88.8,539.8 88.9,537.0 89.0,534.4 89.2,536.4 89.3,536.7 89.4,520.9 89.5,527.4 89.7,523.6 89.8,521.3 89.9,530.1 90.0,523.0 90.2,531.6 90.3,530.6 90.4,517.1 90.5,526.7 90.7,511.2 90.8,534.1 90.9,516.7 91.0,519.0 91.2,528.6 91.3,525.6 91.4,532.9 91.5,523.6 91.6,519.7 91.8,540.4 91.9,521.0 92.0,518.3 92.1,522.0 92.3,523.7 92.4,520.5 92.5,529.3 92.6,540.5 92.8,517.7 92.9,525.8 93.0,533.0 93.1,539.0 93.3,542.3 93.4,518.1 93.5,529.2 93.6,538.9 93.8,510.4 93.9,530.6 94.0,518.9 94.1,535.6 94.3,540.3 94.4,529.0 94.5,514.1 94.6,515.7 94.8,525.5 94.9,537.7 95.0,520.5 95.1,532.6 95.3,525.2 95.4,521.3 95.5,544.1 95.6,522.6 95.8,524.4 95.9,535.5 96.0,528.0 96.1,536.2 96.3,528.7 96.4,518.8 96.5,526.9 96.6,545.2 96.8,530.5 96.9,541.8 97.0,514.8 97.1,524.4 97.3,536.6 97.4,534.3 97.5,530.9 97.6,533.8 97.8,539.8 97.9,534.5 98.0,530.7 98.1,531.1 98.3,534.1 98.4,524.4 98.5,534.1 98.6,532.6 98.8,537.4 98.9,528.7 99.0,516.0 99.1,530.2 99.3,539.2 99.4,533.0 99.5,533.0 99.6,525.9 99.8,524.8 99.9,534.9 100.0,516.9 100.1,539.0 100.3,539.2 100.4,541.5 100.5,518.3 100.6,517.7 100.8,539.5 100.9,525.6 101.0,522.0 101.1,525.1 101.3,532.9 101.4,518.9 101.5,528.1 101.6,533.0 101.8,534.7 101.9,514.9 102.0,537.3 102.1,526.8 102.3,526.9 102.4,546.8 102.5,522.7 102.6,539.8 102.8,521.0 102.9,530.4 103.0,509.8 103.1,532.7 103.3,510.9 103.4,540.3 103.5,519.5 103.6,533.3 103.8,540.9 103.9,521.6 104.0,527.7 104.1,536.1 104.3,536.9 104.4,528.9 104.5,534.2 104.6,535.1 104.8,526.3 104.9,534.7 105.0,532.7 105.1,536.1 105.3,530.9 105.4,526.0 105.5,528.7 105.6,542.4 105.8,521.9 105.9,546.9 106.0,509.0 106.1,540.5 106.3,544.4 106.4,523.3 106.5,524.2 106.6,522.3 106.8,533.6 106.9,530.5 107.0,539.9 107.1,522.9 107.3,541.6 107.4,530.1 107.5,539.9 107.6,539.8 107.8,542.9 107.9,531.5 108.0,534.7 108.1,533.5 108.3,512.8 108.4,532.1 108.5,544.1 108.6,543.7 108.8,519.0 108.9,537.0 109.0,527.7 109.1,522.4 109.3,522.6 109.4,541.0 109.5,545.7 109.6,533.4 109.7,529.6 109.9,533.2 110.0,542.1 110.1,539.8 110.2,520.7 110.4,524.8 110.5,543.0 110.6,532.5 110.7,537.0 110.9,540.3 111.0,536.3 111.1,538.9 111.2,533.6 111.4,524.6 111.5,523.3 111.6,545.8 111.7,518.2 111.9,537.1 112.0,542.3 112.1,524.1 112.2,518.9 112.4,528.6 112.5,526.6 112.6,530.2 112.7,529.1 112.9,512.5 113.0,520.4 113.1,543.4 113.2,518.3 113.4,543.2 113.5,526.2 113.6,537.2 113.7,517.0 113.9,529.4 114.0,535.8 114.1,534.5 114.2,539.5 114.4,521.3 114.5,528.2 114.6,534.2 114.7,517.9 114.9,540.5 115.0,528.9 115.1,524.2 115.2,523.6 115.4,535.6 115.5,518.9 115.6,524.4 115.7,526.1 115.9,524.9 116.0,538.2 116.1,534.3 116.2,543.1 116.4,546.6 116.5,526.1 116.6,527.0 116.7,521.3 116.9,524.7 117.0,534.8 117.1,538.3 117.2,526.1 117.4,527.4 117.5,540.2 117.6,544.6 117.7,520.1 117.9,519.8 118.0,553.0 118.1,531.6 118.2,529.6 118.4,535.5 118.5,539.1 118.6,519.9 118.7,544.8 118.9,544.8 119.0,529.8 119.1,531.4 119.2,526.0 119.4,534.9 119.5,524.4 119.6,533.7 119.7,544.2 119.9,533.2 120.0,542.3 120.1,524.3 120.2,544.1 120.4,523.0 120.5,525.7 120.6,512.0 120.7,528.3 120.9,523.3 121.0,522.4 121.1,542.2 121.2,520.6 121.4,521.6 121.5,546.4 121.6,541.7 121.7,530.1 121.9,516.4 122.0,543.7 122.1,541.3 122.2,537.8 122.4,533.8 122.5,533.4 122.6,545.8 122.7,532.8 122.9,520.3 123.0,519.7 123.1,534.0 123.2,537.6 123.4,534.3 123.5,537.3 123.6,524.5 123.7,526.3 123.9,550.0 124.0,525.9 124.1,522.7 124.2,538.4 124.4,519.0 124.5,520.5 124.6,534.5 124.7,525.5 124.9,523.8 125.0,541.4 125.1,539.1 125.2,520.1 125.4,518.3 125.5,527.7 125.6,529.9 125.7,523.5 125.9,530.4 126.0,532.8 126.1,536.6 126.2,520.6 126.4,531.9 126.5,515.4 126.6,515.6 126.7,515.3 126.9,517.0 127.0,535.7 127.1,524.2 127.2,527.6 127.3,526.4 127.5,550.1 127.6,515.0 127.7,518.8 127.8,537.9 128.0,523.2 128.1,525.5 128.2,521.1 128.3,534.5 128.5,533.4 128.6,524.4 128.7,527.8 128.8,524.7 129.0,529.6 129.1,530.2 129.2,529.7 129.3,538.8 129.5,540.1 129.6,514.6 129.7,523.7 129.8,514.0 130.0,523.4 130.1,535.4 130.2,531.7 130.3,528.4 130.5,514.6 130.6,535.0 130.7,529.2 130.8,520.2 131.0,533.7 131.1,512.3 131.2,516.4 131.3,533.3 131.5,512.0 131.6,514.2 131.7,524.5 131.8,530.3 132.0,526.7 132.1,510.8 132.2,517.4 132.3,529.5 132.5,519.2 132.6,514.6 132.7,509.0 132.8,516.2 133.0,535.1 133.1,509.8 133.2,524.0 133.3,534.1 133.5,527.9 133.6,515.7 133.7,526.1 133.8,543.9 134.0,521.4 134.1,514.5 134.2,531.8 134.3,531.3 134.5,528.2 134.6,516.9 134.7,528.8 134.8,533.9 135.0,516.2 135.1,520.5 135.2,509.9 135.3,508.2 135.5,525.6 135.6,506.5 135.7,521.9 135.8,507.8 136.0,523.6 136.1,526.0 136.2,500.7 136.3,533.4 136.5,515.3 136.6,515.5 136.7,524.2 136.8,526.6 137.0,507.1 137.1,513.1 137.2,505.3 137.3,500.5 137.5,524.8 137.6,530.6 137.7,531.9 137.8,505.5 138.0,515.1 138.1,528.6 138.2,518.0 138.3,513.4 138.5,525.9 138.6,528.2 138.7,507.3 138.8,518.0 139.0,507.1 139.1,508.0 139.2,518.0 139.3,509.8 139.5,525.6 139.6,512.7 139.7,507.2 139.8,520.0 140.0,509.1 140.1,503.2 140.2,530.0 140.3,506.2 140.5,504.4 140.6,491.1 140.7,500.2 140.8,522.8 141.0,501.9 141.1,500.6 141.2,527.4 141.3,514.1 141.5,526.0 141.6,524.9 141.7,520.1 141.8,499.4 142.0,517.2 142.1,500.3 142.2,498.7 142.3,522.9 142.5,507.2 142.6,520.1 142.7,513.7 142.8,521.1 143.0,516.9 143.1,526.6 143.2,512.1 143.3,523.2 143.5,522.3 143.6,515.4 143.7,513.0 143.8,510.8 144.0,517.1 144.1,503.9 144.2,511.0 144.3,517.1 144.5,507.1 144.6,504.4 144.7,501.1 144.8,521.5 145.0,523.6 145.1,522.3 145.2,518.6 145.3,515.5 145.4,499.4 145.6,523.5 145.7,511.5 145.8,517.7 145.9,501.0 146.1,519.3 146.2,501.6 146.3,525.4 146.4,518.1 146.6,512.6 146.7,516.1 146.8,503.5 146.9,511.3 147.1,499.0 147.2,504.5 147.3,504.5 147.4,500.7 147.6,507.9 147.7,497.2 147.8,495.8 147.9,504.6 148.1,523.8 148.2,515.6 148.3,506.5 148.4,499.4 148.6,496.8 148.7,505.2 148.8,511.9 148.9,516.7 149.1,505.6 149.2,516.8 149.3,515.3 149.4,516.1 149.6,500.5 149.7,504.2 149.8,494.9 149.9,507.3 150.1,491.0 150.2,526.2 150.3,494.2 150.4,503.4 150.6,494.5 150.7,489.0 150.8,501.4 150.9,501.5 151.1,504.9 151.2,492.5 151.3,503.6 151.4,497.7 151.6,491.2 151.7,501.1 151.8,508.8 151.9,498.0 152.1,510.3 152.2,512.6 152.3,489.7 152.4,495.8 152.6,497.9 152.7,520.7 152.8,504.1 152.9,506.6 153.1,491.9 153.2,498.4 153.3,494.7 153.4,512.2 153.6,510.3 153.7,489.8 153.8,516.1 153.9,494.0 154.1,490.4 154.2,501.0 154.3,509.8 154.4,518.0 154.6,485.4 154.7,493.6 154.8,507.3 154.9,489.8 155.1,513.7 155.2,498.8 155.3,492.0 155.4,493.3 155.6,513.6 155.7,515.8 155.8,494.0 155.9,518.3 156.1,514.0 156.2,497.9 156.3,489.4 156.4,492.3 156.6,500.7 156.7,493.6 156.8,492.8 156.9,495.4 157.1,513.4 157.2,488.0 157.3,521.8 157.4,500.1 157.6,508.7 157.7,501.8 157.8,514.7 157.9,491.5 158.1,493.6 158.2,501.1 158.3,501.0 158.4,495.5 158.6,494.6 158.7,487.9 158.8,500.3 158.9,510.1 159.1,511.0 159.2,497.2 159.3,514.1 159.4,513.6 159.6,493.9 159.7,487.6 159.8,509.2 159.9,512.2 160.1,503.2 160.2,512.6 160.3,497.7 160.4,499.0 160.6,485.2 160.7,494.0 160.8,510.6 160.9,485.6 161.1,476.7 161.2,483.2 161.3,497.0 161.4,500.1 161.6,497.8 161.7,508.2 161.8,502.0 161.9,500.5 162.1,499.3 162.2,496.2 162.3,483.0 162.4,483.5 162.6,500.0 162.7,486.7 162.8,492.8 162.9,499.7 163.0,498.1 163.2,487.2 163.3,487.8 163.4,483.8 163.5,499.6 163.7,501.2 163.8,483.3 163.9,487.4 164.0,510.6 164.2,497.6 164.3,487.9 164.4,505.3 164.5,511.4 164.7,498.3 164.8,498.1 164.9,507.3 165.0,500.7 165.2,507.0 165.3,496.4 165.4,478.8 165.5,488.7 165.7,501.3 165.8,489.2 165.9,498.9 166.0,482.5 166.2,498.6 166.3,490.8 166.4,507.9 166.5,481.4 166.7,490.3 166.8,502.7 166.9,491.4 167.0,493.7 167.2,489.9 167.3,482.8 167.4,489.7 167.5,506.7 167.7,503.5 167.8,489.7 167.9,500.7 168.0,504.6 168.2,504.8 168.3,482.3 168.4,485.7 168.5,509.9 168.7,489.4 168.8,504.7 168.9,500.2 169.0,507.6 169.2,483.5 169.3,509.6 169.4,507.9 169.5,488.5 169.7,502.8 169.8,481.4 169.9,507.5 170.0,493.7 170.2,503.6 170.3,505.2 170.4,481.7 170.5,507.7 170.7,483.9 170.8,485.3 170.9,494.4 171.0,488.1 171.2,499.9 171.3,485.9 171.4,498.9 171.5,503.0 171.7,509.0 171.8,491.8 171.9,488.2 172.0,497.0 172.2,499.1 172.3,507.3 172.4,497.0 172.5,492.5 172.7,488.2 172.8,501.2 172.9,498.6 173.0,481.4 173.2,476.3 173.3,484.4 173.4,494.5 173.5,491.1 173.7,484.5 173.8,520.0 173.9,499.9 174.0,490.4 174.2,505.5 174.3,483.4 174.4,482.2 174.5,502.1 174.7,497.9 174.8,503.7 174.9,509.4 175.0,496.7 175.2,506.1 175.3,501.2 175.4,497.2 175.5,497.0 175.7,512.0 175.8,492.5 175.9,495.1 176.0,496.7 176.2,501.8 176.3,484.4 176.4,502.5 176.5,484.0 176.7,494.5 176.8,496.5 176.9,500.4 177.0,500.7 177.2,501.8 177.3,484.4 177.4,493.7 177.5,506.2 177.7,496.6 177.8,509.1 177.9,500.7 178.0,501.5 178.2,504.9 178.3,514.2 178.4,484.7 178.5,488.2 178.7,487.4 178.8,491.0 178.9,485.5 179.0,514.7 179.2,489.5 179.3,499.3 179.4,511.6 179.5,499.4 179.7,492.6 179.8,494.0 179.9,479.1 180.0,494.6 180.2,499.6 180.3,497.9 180.4,488.0 180.5,511.9 180.7,514.8 180.8,502.6 180.9,488.6 181.0,484.5 181.1,496.8 181.3,497.4 181.4,493.6 181.5,513.9 181.6,506.8 181.8,495.0 181.9,497.1 182.0,525.8 182.1,497.4 182.3,506.1 182.4,514.4 182.5,487.2 182.6,511.3 182.8,511.3 182.9,492.4 183.0,515.1 183.1,512.0 183.3,507.4 183.4,488.9 183.5,499.1 183.6,508.4 183.8,502.3 183.9,487.6 184.0,508.7 184.1,498.2 184.3,492.6 184.4,496.5 184.5,489.3 184.6,497.1 184.8,487.0 184.9,480.2 185.0,491.0 185.1,497.3 185.3,496.4 185.4,501.4 185.5,482.1 185.6,514.7 185.8,494.2 185.9,518.7 186.0,501.0 186.1,519.0 186.3,500.1 186.4,492.9 186.5,515.6 186.6,496.0 186.8,513.7 186.9,518.2 187.0,498.9 187.1,502.2 187.3,509.8 187.4,519.2 187.5,519.2 187.6,508.6 187.8,511.2 187.9,518.6 188.0,499.7 188.1,522.9 188.3,521.2 188.4,502.8 188.5,514.8 188.6,518.1 188.8,515.8 188.9,499.0 189.0,498.9 189.1,503.8 189.3,500.5 189.4,511.8 189.5,519.4 189.6,514.7 189.8,492.4 189.9,512.3 190.0,511.1 190.1,501.7 190.3,526.0 190.4,517.6 190.5,526.6 190.6,525.2 190.8,500.1 190.9,515.2 191.0,511.7 191.1,519.4 191.3,492.4 191.4,516.4 191.5,514.8 191.6,507.7 191.8,500.3 191.9,516.7 192.0,497.9 192.1,506.3 192.3,497.2 192.4,505.4 192.5,503.7 192.6,514.5 192.8,516.5 192.9,517.2 193.0,508.6 193.1,518.8 193.3,516.2 193.4,512.7 193.5,520.0 193.6,525.8 193.8,511.7 193.9,526.0 194.0,516.4 194.1,509.7 194.3,512.6 194.4,518.1 194.5,508.4 194.6,526.4 194.8,511.1 194.9,518.3 195.0,525.4 195.1,524.8 195.3,520.6 195.4,522.0 195.5,523.6 195.6,518.9 195.8,514.8 195.9,528.6 196.0,507.5 196.1,506.9 196.3,512.5 196.4,510.5 196.5,532.3 196.6,519.7 196.8,530.3 196.9,521.0 197.0,511.6 197.1,530.9 197.3,531.4 197.4,509.7 197.5,528.6 197.6,523.1 197.8,512.1 197.9,516.8 198.0,528.5 198.1,512.9 198.3,525.1 198.4,523.1 198.5,523.2 198.6,513.2 198.7,531.8 198.9,523.6 199.0,527.9 199.1,526.1 199.2,517.3 199.4,529.2 199.5,519.4 199.6,534.4 199.7,506.3 199.9,513.3 200.0,521.0 200.1,518.9 200.2,534.8 200.4,516.2 200.5,532.8 200.6,508.0 200.7,511.0 200.9,515.5 201.0,528.3 201.1,524.2 201.2,518.8 201.4,518.7 201.5,530.9 201.6,513.0 201.7,529.3 201.9,517.5 202.0,526.6 202.1,530.2 202.2,500.5 202.4,512.5 202.5,513.8 202.6,514.1 202.7,509.8 202.9,519.4 203.0,525.7 203.1,518.4 203.2,534.8 203.4,534.4 203.5,529.9 203.6,530.5 203.7,517.0 203.9,529.8 204.0,509.9 204.1,509.1 204.2,510.7 204.4,517.9 204.5,529.7 204.6,510.1 204.7,520.3 204.9,526.4 205.0,533.7 205.1,525.8 205.2,516.9 205.4,512.5 205.5,524.5 205.6,533.1 205.7,533.9 205.9,528.0 206.0,515.6 206.1,512.8 206.2,512.1 206.4,518.5 206.5,526.1 206.6,515.3 206.7,528.7 206.9,520.2 207.0,533.7 207.1,526.5 207.2,510.2 207.4,519.0 207.5,546.0 207.6,511.6 207.7,512.7 207.9,538.7 208.0,529.2 208.1,540.9 208.2,520.9 208.4,526.9 208.5,532.5 208.6,530.1 208.7,531.0 208.9,538.0 209.0,518.4 209.1,534.2 209.2,526.6 209.4,539.9 209.5,541.0 209.6,526.9 209.7,524.6 209.9,540.0 210.0,541.2 210.1,536.6 210.2,540.4 210.4,541.7 210.5,528.8 210.6,525.3 210.7,516.9 210.9,551.4 211.0,521.6 211.1,536.0 211.2,532.9 211.4,542.1 211.5,535.3 211.6,523.1 211.7,526.7 211.9,530.3 212.0,531.4 212.1,542.8 212.2,534.3 212.4,525.8 212.5,524.5 212.6,533.0 212.7,512.1 212.9,529.8 213.0,542.1 213.1,542.8 213.2,532.8 213.4,532.5 213.5,526.5 213.6,533.7 213.7,530.1 213.9,535.4 214.0,543.9 214.1,538.4 214.2,548.6 214.4,513.2 214.5,536.5 214.6,544.4 214.7,533.9 214.9,540.5 215.0,524.9 215.1,515.1 215.2,544.5 215.4,541.5 215.5,529.6 215.6,539.8 215.7,534.9 215.9,538.7 216.0,533.4 216.1,536.0 216.2,543.3 216.4,529.0 216.5,537.6 216.6,543.9 216.7,518.4 216.8,524.3 217.0,527.3 217.1,533.5 217.2,530.3 217.3,543.9 217.5,523.2 217.6,526.6 217.7,520.4 217.8,523.4 218.0,535.1 218.1,520.3 218.2,545.2 218.3,540.3 218.5,521.9 218.6,541.6 218.7,523.3 218.8,534.5 219.0,526.3 219.1,525.4 219.2,535.5 219.3,545.5 219.5,523.5 219.6,527.0 219.7,534.9 219.8,548.0 220.0,531.7 220.1,545.8 220.2,536.8 220.3,534.4 220.5,543.0 220.6,527.3 220.7,536.5 220.8,522.8 221.0,536.4 221.1,549.4 221.2,523.8 221.3,524.5 221.5,537.6 221.6,547.5 221.7,537.1 221.8,548.3 222.0,530.5 222.1,549.1 222.2,527.6 222.3,552.6 222.5,531.0 222.6,544.9 222.7,522.9 222.8,530.6 223.0,547.6 223.1,543.5 223.2,535.7 223.3,532.8 223.5,548.6 223.6,528.0 223.7,528.0 223.8,524.6 224.0,541.5 224.1,548.3 224.2,526.8 224.3,544.3 224.5,544.5 224.6,529.0 224.7,537.8 224.8,539.3 225.0,525.1 225.1,549.6 225.2,527.2 225.3,527.7 225.5,542.9 225.6,537.3 225.7,545.1 225.8,541.1 226.0,525.9 226.1,535.7 226.2,550.1 226.3,531.5 226.5,528.1 226.6,547.3 226.7,525.2 226.8,534.0 227.0,550.1 227.1,546.3 227.2,526.2 227.3,524.9 227.5,535.7 227.6,541.2 227.7,544.6 227.8,527.7 228.0,533.9 228.1,534.6 228.2,530.5 228.3,540.8 228.5,536.9 228.6,533.5 228.7,543.3 228.8,530.3 229.0,538.6 229.1,555.4 229.2,531.4 229.3,523.0 229.5,522.1 229.6,543.8 229.7,544.4 229.8,541.7 230.0,522.8 230.1,529.1 230.2,548.1 230.3,537.4 230.5,533.8 230.6,548.7 230.7,548.5 230.8,528.8 231.0,541.7 231.1,544.3 231.2,545.2 231.3,546.8 231.5,516.7 231.6,523.5 231.7,530.0 231.8,527.0 232.0,538.9 232.1,536.4 232.2,548.0 232.3,527.9 232.5,524.8 232.6,522.1 232.7,526.8 232.8,545.8 233.0,538.1 233.1,528.1 233.2,537.1 233.3,539.2 233.5,530.6 233.6,522.1 233.7,540.9 233.8,537.7 234.0,524.2 234.1,535.9 234.2,526.3 234.3,533.9 234.4,542.8 234.6,539.5 234.7,532.3 234.8,544.5 234.9,530.7 235.1,541.9 235.2,532.4 235.3,542.0 235.4,540.7 235.6,541.8 235.7,548.8 235.8,548.2 235.9,553.0 236.1,532.8 236.2,553.7 236.3,545.4 236.4,531.5 236.6,527.7 236.7,534.4 236.8,540.4 236.9,545.7 237.1,552.7 237.2,526.8 237.3,553.8 237.4,552.7 237.6,552.7 237.7,555.9 237.8,549.6 237.9,533.4 238.1,544.9 238.2,541.5 238.3,547.9 238.4,537.2 238.6,554.5 238.7,537.1 238.8,541.9 238.9,534.1 239.1,554.4 239.2,553.9 239.3,555.3 239.4,535.4 239.6,538.5 239.7,554.3 239.8,553.4 239.9,532.5 240.1,542.1 240.2,531.0 240.3,552.0 240.4,552.3 240.6,555.0 240.7,551.5 240.8,540.9 240.9,539.6 241.1,547.3 241.2,540.9 241.3,555.4 241.4,542.0 241.6,541.7 241.7,555.7 241.8,525.1 241.9,538.0 242.1,531.2 242.2,554.2 242.3,543.1 242.4,541.0 242.6,553.1 242.7,553.5 242.8,534.3 242.9,532.0 243.1,552.4 243.2,554.4 243.3,543.1 243.4,548.0 243.6,528.6 243.7,541.3 243.8,530.0 243.9,531.2 244.1,529.0 244.2,542.0 244.3,542.9 244.4,538.8 244.6,546.5 244.7,529.1 244.8,533.1 244.9,531.5 245.1,540.3 245.2,547.9 245.3,531.2 245.4,550.7 245.6,535.7 245.7,531.5 245.8,533.0 245.9,546.9 246.1,526.2 246.2,537.6 246.3,533.8 246.4,540.4 246.6,536.6 246.7,528.4 246.8,530.0 246.9,552.0 247.1,541.2 247.2,550.9 247.3,551.8 247.4,542.3 247.6,550.7 247.7,537.3 247.8,534.0 247.9,555.9 248.1,534.9 248.2,533.2 248.3,539.0 248.4,537.0 248.6,552.1 248.7,550.5 248.8,545.8 248.9,550.5 249.1,533.1 249.2,533.4 249.3,535.7 249.4,542.6 249.6,527.2 249.7,529.3 249.8,519.2 249.9,529.4 250.1,533.7 250.2,529.7 250.3,558.6 250.4,538.9 250.6,541.9 250.7,563.1 250.8,535.1 250.9,537.7 251.1,550.9 251.2,527.8 251.3,541.3 251.4,530.6 251.6,527.8 251.7,551.5 251.8,545.5 251.9,540.0 252.1,549.3 252.2,553.3 252.3,543.0 252.4,539.6 252.5,527.1 252.7,552.8 252.8,548.1 252.9,529.8 253.0,539.0 253.2,533.5 253.3,552.4 253.4,534.8 253.5,530.4 253.7,550.9 253.8,534.6 253.9,529.8 254.0,527.9 254.2,530.5 254.3,537.8 254.4,532.7 254.5,544.2 254.7,550.0 254.8,529.6 254.9,526.6 255.0,546.2 255.2,543.5 255.3,549.0 255.4,528.5 255.5,544.2 255.7,532.8 255.8,530.0 255.9,535.3 256.0,548.0 256.2,547.0 256.3,547.5 256.4,531.2 256.5,536.7 256.7,529.1 256.8,530.2 256.9,547.0 257.0,526.8 257.2,548.8 257.3,549.9 257.4,535.4 257.5,539.6 257.7,549.5 257.8,542.7 257.9,544.4 258.0,542.9 258.2,523.9 258.3,543.6 258.4,541.1 258.5,531.1 258.7,522.8 258.8,531.0 258.9,536.3 259.0,530.8 259.2,536.6 259.3,531.4 259.4,539.3 259.5,545.7 259.7,520.2 259.8,536.6 259.9,541.6 260.0,519.8 260.2,531.6 260.3,541.0 260.4,537.4 260.5,529.0 260.7,527.7 260.8,519.1 260.9,531.9 261.0,540.7 261.2,540.8 261.3,537.7 261.4,531.6 261.5,524.7 261.7,525.7 261.8,522.7 261.9,527.1 262.0,518.2 262.2,530.6 262.3,539.7 262.4,527.2 262.5,541.7 262.7,533.5 262.8,539.7 262.9,545.6 263.0,520.8 263.2,529.0 263.3,522.3 263.4,521.3 263.5,537.3 263.7,517.4 263.8,533.5 263.9,542.3 264.0,528.3 264.2,535.5 264.3,519.8 264.4,536.8 264.5,537.2 264.7,531.7 264.8,540.7 264.9,530.2 265.0,531.3 265.2,514.9 265.3,537.2 265.4,543.1 265.5,533.3 265.7,527.6 265.8,518.0 265.9,527.0 266.0,539.6 266.2,531.8 266.3,516.6 266.4,528.5 266.5,538.7 266.7,514.1 266.8,513.4 266.9,536.3 267.0,530.0 267.2,534.4 267.3,522.4 267.4,529.2 267.5,517.5 267.7,516.6 267.8,528.8 267.9,537.2 268.0,528.5 268.2,513.6 268.3,513.2 268.4,534.4 268.5,523.1 268.7,518.3 268.8,519.9 268.9,538.4 269.0,525.8 269.2,516.0 269.3,517.0 269.4,513.4 269.5,538.2 269.7,524.1 269.8,523.7 269.9,512.4 270.0,518.3 270.1,533.2 270.3,533.8 270.4,522.4 270.5,517.3 270.6,536.3 270.8,518.0 270.9,516.3 271.0,512.4 271.1,522.1 271.3,531.8 271.4,522.5 271.5,530.9 271.6,516.6 271.8,526.7 271.9,512.1 272.0,520.0 272.1,515.7 272.3,515.4 272.4,528.5 272.5,513.0 272.6,521.2 272.8,517.1 272.9,532.1 273.0,513.3 273.1,516.7 273.3,527.0 273.4,515.1 273.5,527.6 273.6,534.7 273.8,516.9 273.9,521.8 274.0,506.8 274.1,529.1 274.3,516.7 274.4,523.2 274.5,511.3 274.6,524.4 274.8,519.3 274.9,533.2 275.0,531.7 275.1,520.5 275.3,508.6 275.4,511.7 275.5,518.7 275.6,525.9 275.8,528.2 275.9,527.5 276.0,524.4 276.1,514.7 276.3,517.8 276.4,508.4 276.5,516.9 276.6,511.4 276.8,516.4 276.9,501.2 277.0,502.7 277.1,518.9 277.3,512.1 277.4,505.9 277.5,527.5 277.6,499.6 277.8,526.3 277.9,523.4 278.0,498.6 278.1,492.6 278.3,519.2 278.4,504.5 278.5,517.9 278.6,525.1 278.8,499.4 278.9,506.0 279.0,500.9 279.1,522.4 279.3,500.4 279.4,499.5 279.5,499.1 279.6,520.7 279.8,501.7 279.9,524.2 280.0,496.5 280.1,508.7 280.3,498.9 280.4,500.1 280.5,499.9 280.6,510.9 280.8,500.5 280.9,503.9 281.0,519.1 281.1,511.2 281.3,493.3 281.4,500.7 281.5,510.7 281.6,501.8 281.8,495.0 281.9,495.1 282.0,502.4 282.1,510.1 282.3,505.6 282.4,498.6 282.5,496.0 282.6,500.4 282.8,517.4 282.9,493.7 283.0,493.6 283.1,494.0 283.3,508.0 283.4,492.5 283.5,500.9 283.6,500.9 283.8,504.6 283.9,505.1 284.0,517.3 284.1,501.6 284.3,497.8 284.4,516.4 284.5,500.0 284.6,497.8 284.8,494.5 284.9,522.3 285.0,513.9 285.1,513.1 285.3,497.5 285.4,519.5 285.5,497.0 285.6,515.7 285.8,519.9 285.9,509.2 286.0,501.4 286.1,524.5 286.3,535.1 286.4,495.5 286.5,514.3 286.6,514.9 286.8,502.1 286.9,504.6 287.0,508.6 287.1,525.5 287.3,526.1 287.4,500.3 287.5,522.4 287.6,509.3 287.7,505.2 287.9,510.9 288.0,500.0 288.1,519.7 288.2,519.2 288.4,506.4 288.5,500.5 288.6,521.4 288.7,528.5 288.9,504.4 289.0,529.4 289.1,517.5 289.2,508.6 289.4,524.3 289.5,524.8 289.6,513.4 289.7,520.1 289.9,510.3 290.0,521.4 290.1,510.6 290.2,515.8 290.4,528.5 290.5,529.0 290.6,525.7 290.7,533.0 290.9,529.7 291.0,525.0 291.1,527.4 291.2,512.4 291.4,510.3 291.5,516.3 291.6,531.3 291.7,538.0 291.9,516.6 292.0,538.4 292.1,534.3 292.2,516.0 292.4,526.9 292.5,519.5 292.6,533.5 292.7,522.8 292.9,524.3 293.0,529.6 293.1,522.3 293.2,536.6 293.4,531.9 293.5,516.8 293.6,531.5 293.7,528.4 293.9,542.6 294.0,543.7 294.1,519.3 294.2,539.4 294.4,535.8 294.5,533.0 294.6,522.7 294.7,544.8 294.9,538.3 295.0,538.4 295.1,548.0 295.2,525.3 295.4,533.1 295.5,524.0 295.6,531.2 295.7,551.4 295.9,534.9 296.0,547.6 296.1,549.0 296.2,540.7 296.4,549.1 296.5,555.3 296.6,529.3 296.7,533.3 296.9,530.7 297.0,531.2 297.1,561.7 297.2,531.2 297.4,532.6 297.5,544.8 297.6,538.4 297.7,557.3 297.9,547.7 298.0,530.4 298.1,550.9 298.2,555.5 298.4,556.9 298.5,542.0 298.6,537.9 298.7,533.8 298.9,561.7 299.0,538.0 299.1,558.0 299.2,551.0 299.4,553.3 299.5,532.2 299.6,555.6 299.7,533.1 299.9,527.4 300.0,531.4 300.1,555.8 300.2,531.5 300.4,534.0 300.5,541.7 300.6,534.0 300.7,532.1 300.9,538.7 301.0,530.2 301.1,544.1 301.2,548.2 301.4,541.6 301.5,543.3 301.6,534.6 301.7,540.5 301.9,544.6 302.0,557.6 302.1,541.8 302.2,554.3 302.4,538.6 302.5,544.2 302.6,547.6 302.7,530.8 302.9,550.6 303.0,550.7 303.1,531.6 303.2,546.2 303.4,539.8 303.5,533.7 303.6,534.7 303.7,532.8 303.9,554.2 304.0,551.4 304.1,549.2 304.2,534.3 304.4,549.3 304.5,536.7 304.6,543.3 304.7,530.2 304.9,554.2 305.0,538.9 305.1,548.3 305.2,532.8 305.4,534.8 305.5,549.9 305.6,548.3 305.7,545.7 305.8,539.8 306.0,546.3 306.1,553.5 306.2,551.1 306.3,550.1 306.5,540.8 306.6,540.8 306.7,552.8 306.8,535.9 307.0,542.7 307.1,534.1 307.2,540.3 307.3,563.4 307.5,551.8 307.6,552.5 307.7,537.8 307.8,549.3 308.0,549.6 308.1,551.7 308.2,547.9 308.3,525.2 308.5,545.3 308.6,524.5 308.7,541.0 308.8,529.8 309.0,528.8 309.1,519.7 309.2,540.9 309.3,541.8 309.5,545.6 309.6,529.4 309.7,546.2 309.8,548.1 310.0,530.3 310.1,550.7 310.2,542.4 310.3,542.5 310.5,537.0 310.6,530.1 310.7,534.0 310.8,533.7 311.0,549.7 311.1,545.1 311.2,553.7 311.3,533.2 311.5,549.3 311.6,546.3 311.7,540.4 311.8,547.3 312.0,532.5 312.1,547.7 312.2,535.1 312.3,542.3 312.5,545.8 312.6,533.9 312.7,553.9 312.8,531.2 313.0,552.2 313.1,554.2 313.2,550.0 313.3,540.3 313.5,549.5 313.6,545.3 313.7,554.9 313.8,547.2 314.0,531.8 314.1,543.2 314.2,530.7 314.3,542.7 314.5,531.7 314.6,555.9 314.7,550.0 314.8,529.4 315.0,538.1 315.1,530.3 315.2,537.2 315.3,538.7 315.5,529.0 315.6,537.2 315.7,546.8 315.8,541.1 316.0,531.9 316.1,539.5 316.2,529.1 316.3,532.5 316.5,540.2 316.6,532.9 316.7,543.4 316.8,531.9 317.0,556.2 317.1,551.2 317.2,551.1 317.3,549.2 317.5,545.0 317.6,552.2 317.7,532.0 317.8,530.1 318.0,538.0 318.1,555.2 318.2,541.6 318.3,544.1 318.5,536.1 318.6,544.2 318.7,549.8 318.8,544.6 319.0,530.4 319.1,539.0 319.2,540.1 319.3,532.6 319.5,530.5 319.6,548.5 319.7,562.8 319.8,537.2 320.0,546.0 320.1,550.7 320.2,536.6 320.3,531.3 320.5,554.1 320.6,547.2 320.7,549.6 320.8,547.0 321.0,547.6 321.1,530.4 321.2,531.7 321.3,552.0 321.5,535.8 321.6,544.1 321.7,546.4 321.8,540.9 322.0,528.3 322.1,541.9 322.2,538.7 322.3,533.7 322.5,537.6 322.6,540.6 322.7,525.8 322.8,517.1 323.0,529.8 323.1,520.7 323.2,528.6 323.3,535.3 323.4,536.0 323.6,527.6 323.7,529.7 323.8,538.5 323.9,539.7 324.1,547.9 324.2,539.8 324.3,538.0 324.4,549.4 324.6,549.3 324.7,536.9 324.8,535.9 324.9,548.5 325.1,532.6 325.2,545.3 325.3,527.9 325.4,553.3 325.6,530.8 325.7,536.8 325.8,533.1 325.9,528.8 326.1,525.4 326.2,524.9 326.3,547.7 326.4,544.7 326.6,544.5 326.7,540.2 326.8,538.3 326.9,535.3 327.1,541.5 327.2,534.2 327.3,546.4 327.4,528.7 327.6,534.6 327.7,543.2 327.8,537.5 327.9,542.3 328.1,541.7 328.2,531.6 328.3,532.7 328.4,522.4 328.6,531.3 328.7,546.6 328.8,522.1 328.9,545.6 329.1,543.8 329.2,541.2 329.3,523.9 329.4,542.7 329.6,546.2 329.7,527.8 329.8,522.4 329.9,522.7 330.1,525.5 330.2,525.0 330.3,519.7 330.4,523.4 330.6,527.4 330.7,537.9 330.8,544.4 330.9,516.7 331.1,541.8 331.2,541.2 331.3,543.3 331.4,529.9 331.6,526.4 331.7,521.8 331.8,523.7 331.9,522.6 332.1,522.8 332.2,527.2 332.3,517.3 332.4,519.2 332.6,527.7 332.7,516.4 332.8,539.3 332.9,535.9 333.1,523.0 333.2,537.8 333.3,543.7 333.4,538.8 333.6,525.1 333.7,534.3 333.8,537.6 333.9,541.4 334.1,529.3 334.2,525.7 334.3,530.0 334.4,520.3 334.6,543.5 334.7,511.4 334.8,534.8 334.9,535.7 335.1,547.3 335.2,521.6 335.3,546.3 335.4,529.4 335.6,535.3 335.7,533.8 335.8,530.5 335.9,532.2 336.1,537.7 336.2,530.6 336.3,528.2 336.4,522.1 336.6,531.2 336.7,536.6 336.8,523.5 336.9,523.5 337.1,546.5 337.2,522.4 337.3,524.7 337.4,532.0 337.6,541.0 337.7,540.7 337.8,537.6 337.9,534.0 338.1,533.3 338.2,523.6 338.3,542.5 338.4,546.3 338.6,550.1 338.7,530.4 338.8,535.3 338.9,530.0 339.1,542.8 339.2,543.1 339.3,528.1 339.4,529.2 339.6,548.6 339.7,539.9 339.8,528.4 339.9,533.6 340.1,535.7 340.2,543.4 340.3,546.9 340.4,546.5 340.6,527.9 340.7,527.0 340.8,542.8 340.9,544.3 341.1,527.8 341.2,539.7 341.3,548.0 341.4,546.6 341.5,549.8 341.7,541.4 341.8,539.1 341.9,544.0 342.0,546.6 342.2,524.4 342.3,547.8 342.4,537.8 342.5,555.2 342.7,535.2 342.8,521.0 342.9,552.2 343.0,549.9 343.2,546.7 343.3,553.1 343.4,530.9 343.5,539.5 343.7,556.1 343.8,544.1 343.9,539.8 344.0,537.1 344.2,538.6 344.3,531.4 344.4,550.1 344.5,532.1 344.7,551.6 344.8,532.8 344.9,535.9 345.0,543.9 345.2,534.5 345.3,533.8 345.4,558.9 345.5,558.2 345.7,550.8 345.8,552.5 345.9,537.5 346.0,534.9 346.2,540.7 346.3,547.4 346.4,554.8 346.5,546.8 346.7,544.7 346.8,537.1 346.9,539.8 347.0,546.8 347.2,543.0 347.3,547.3 347.4,552.8 347.5,568.0 347.7,562.3 347.8,551.5 347.9,563.1 348.0,550.2 348.2,553.2 348.3,564.2 348.4,548.2 348.5,557.4 348.7,559.4 348.8,545.2 348.9,549.0 349.0,549.0 349.2,542.7 349.3,547.4 349.4,547.2 349.5,560.7 349.7,565.4 349.8,570.2 349.9,556.6 350.0,556.9 350.2,546.8 350.3,561.0 350.4,549.8 350.5,541.1 350.7,540.4 350.8,556.8 350.9,564.3 351.0,553.3 351.2,563.8 351.3,544.0 351.4,543.7 351.5,560.6 351.7,546.7 351.8,555.8 351.9,553.3 352.0,548.4 352.2,556.4 352.3,555.5 352.4,563.6 352.5,561.1 352.7,556.4 352.8,546.8 352.9,554.2 353.0,544.6 353.2,562.6 353.3,533.3 353.4,542.7 353.5,559.5 353.7,558.5 353.8,563.8 353.9,564.7 354.0,551.7 354.2,542.5 354.3,542.6 354.4,539.5 354.5,543.2 354.7,558.8 354.8,539.3 354.9,551.3 355.0,557.1 355.2,567.0 355.3,555.9 355.4,557.0 355.5,554.0 355.7,540.2 355.8,555.8 355.9,542.3 356.0,540.7 356.2,562.5 356.3,562.0 356.4,563.9 356.5,542.3 356.7,547.8 356.8,544.6 356.9,548.2 357.0,543.0 357.2,553.7 357.3,560.8 357.4,564.7 357.5,560.6 357.7,551.9 357.8,548.8 357.9,547.9 358.0,555.5 358.2,556.9 358.3,548.4 358.4,555.2 358.5,542.6 358.7,540.2 358.8,559.6 358.9,543.6 359.0,561.3 359.1,563.3 359.3,543.7 359.4,545.5 359.5,553.2 359.6,545.8 359.8,539.6 359.9,552.1 360.0,541.4 360.1,552.4 360.3,542.7 360.4,554.6 360.5,559.0 360.6,541.1 360.8,562.1 360.9,555.8 361.0,554.9 361.1,554.7 361.3,544.7 361.4,539.3 361.5,555.3 361.6,547.5 361.8,560.7 361.9,543.5 362.0,557.1 362.1,556.9 362.3,556.7 362.4,553.9 362.5,545.0 362.6,531.6 362.8,545.8 362.9,545.7 363.0,560.8 363.1,562.7 363.3,550.2 363.4,539.3 363.5,553.7 363.6,562.0 363.8,564.0 363.9,546.2 364.0,560.9 364.1,559.5 364.3,562.4 364.4,561.6 364.5,557.1 364.6,552.0 364.8,550.8 364.9,539.0 365.0,546.6 365.1,555.3 365.3,542.5 365.4,547.8 365.5,540.7 365.6,538.3 365.8,542.1 365.9,541.6 366.0,544.4 366.1,543.7 366.3,562.5 366.4,553.6 366.5,540.6 366.6,543.8 366.8,560.4 366.9,555.3 367.0,546.6 367.1,538.9 367.3,548.1 367.4,546.7 367.5,545.6 367.6,563.2 367.8,559.4 367.9,558.0 368.0,553.0 368.1,559.7 368.3,560.6 368.4,552.6 368.5,548.1 368.6,544.6 368.8,551.5 368.9,542.9 369.0,542.6 369.1,559.0 369.3,541.1 369.4,545.9 369.5,562.0 369.6,557.0 369.8,554.5 369.9,540.8 370.0,541.2 370.1,541.1 370.3,544.0 370.4,544.6 370.5,542.9 370.6,542.8 370.8,565.4 370.9,566.4 371.0,558.9 371.1,560.5 371.3,549.8 371.4,553.2 371.5,551.7 371.6,533.3 371.8,548.3 371.9,549.6 372.0,545.6 372.1,559.1 372.3,569.2 372.4,559.2 372.5,545.9 372.6,548.2 372.8,558.1 372.9,556.5 373.0,551.8 373.1,541.8 373.3,544.8 373.4,547.7 373.5,556.9 373.6,560.4 373.8,561.9 373.9,561.9 374.0,546.5 374.1,562.4 374.3,545.4 374.4,547.1 374.5,546.4 374.6,547.1 374.8,549.9 374.9,557.6 375.0,543.7 375.1,544.7 375.3,555.0 375.4,550.2 375.5,564.6 375.6,539.9 375.8,541.1 375.9,551.4 376.0,542.3 376.1,557.8 376.3,550.8 376.4,552.2 376.5,554.8 376.6,556.6 376.8,551.3 376.9,546.0 377.0,556.6 377.1,542.1 377.2,547.3 377.4,554.8 377.5,548.7 377.6,557.6 377.7,558.7 377.9,558.6 378.0,554.6 378.1,547.3 378.2,550.4 378.4,556.8 378.5,562.5 378.6,561.0 378.7,556.0 378.9,557.6 379.0,539.5 379.1,549.2 379.2,563.6 379.4,557.2 379.5,557.0 379.6,561.6 379.7,547.2 379.9,539.8 380.0,556.3 380.1,550.1 380.2,549.6 380.4,536.4 380.5,544.9 380.6,559.4 380.7,564.5 380.9,540.9 381.0,555.3 381.1,547.2 381.2,556.4 381.4,545.9 381.5,564.4 381.6,549.9 381.7,557.3 381.9,551.5 382.0,558.7 382.1,558.4 382.2,548.8 382.4,540.9 382.5,540.6 382.6,547.6 382.7,560.4 382.9,554.5 383.0,552.7 383.1,541.5 383.2,548.5 383.4,554.1 383.5,558.6 383.6,559.5 383.7,549.6 383.9,558.6 384.0,540.7 384.1,551.5 384.2,557.0 384.4,561.8 384.5,564.5 384.6,558.3 384.7,558.0 384.9,551.1 385.0,551.5 385.1,547.9 385.2,563.5 385.4,548.8 385.5,545.8 385.6,566.5 385.7,552.3 385.9,550.6 386.0,563.3 386.1,540.9 386.2,541.6 386.4,553.7 386.5,540.1 386.6,562.5 386.7,571.5 386.9,546.7 387.0,537.7 387.1,551.5 387.2,553.9 387.4,550.8 387.5,563.3 387.6,548.3 387.7,564.2 387.9,549.0 388.0,546.9 388.1,566.6 388.2,543.1 388.4,544.5 388.5,556.9 388.6,565.9 388.7,563.8 388.9,560.2 389.0,542.1 389.1,543.5 389.2,562.8 389.4,562.9 389.5,567.9 389.6,551.7 389.7,539.1 389.9,549.6 390.0,544.8 390.1,560.5 390.2,560.6 390.4,544.0 390.5,557.3 390.6,564.5 390.7,562.1 390.9,550.0 391.0,542.2 391.1,548.0 391.2,545.3 391.4,551.4 391.5,553.8 391.6,553.5 391.7,544.9 391.9,549.6 392.0,546.5 392.1,562.8 392.2,561.1 392.4,564.7 392.5,550.3 392.6,560.9 392.7,571.7 392.9,548.7 393.0,549.4 393.1,546.9 393.2,544.4 393.4,563.0 393.5,550.6 393.6,557.5 393.7,544.4 393.9,557.0 394.0,556.9 394.1,562.4 394.2,545.7 394.4,563.5 394.5,561.0 394.6,542.8 394.7,549.4 394.8,548.7 395.0,565.0 395.1,556.7 395.2,542.8 395.3,551.9 395.5,559.1 395.6,540.7 395.7,558.6 395.8,557.0 396.0,559.1 396.1,543.5 396.2,564.4 396.3,533.0 396.5,556.9 396.6,546.0 396.7,540.5 396.8,541.0 397.0,554.5 397.1,563.1 397.2,557.2 397.3,540.8 397.5,539.9 397.6,565.2 397.7,550.4 397.8,562.6 398.0,559.1 398.1,558.4 398.2,561.1 398.3,549.0 398.5,547.1 398.6,540.5 398.7,564.8 398.8,541.4 399.0,561.8 399.1,541.1 399.2,555.0 399.3,562.2 399.5,554.2 399.6,554.6 399.7,553.1 399.8,541.9 400.0,535.2 400.1,557.8 400.2,564.5 400.3,562.3 400.5,546.0 400.6,560.2 400.7,554.4 400.8,533.1 401.0,555.5 401.1,567.7 401.2,541.4 401.3,558.1 401.5,551.6 401.6,553.8 401.7,558.8 401.8,546.0 402.0,542.1 402.1,544.8 402.2,551.1 402.3,557.9 402.5,553.6 402.6,561.7 402.7,548.0 402.8,543.9 403.0,556.4 403.1,559.6 403.2,553.6 403.3,542.4 403.5,552.6 403.6,559.2 403.7,550.5 403.8,563.0 404.0,547.2 404.1,558.7 404.2,551.5 404.3,543.9 404.5,548.0 404.6,544.7 404.7,555.5 404.8,563.3 405.0,560.8 405.1,557.7 405.2,542.2 405.3,557.0 405.5,561.3 405.6,549.3 405.7,553.1 405.8,552.5 406.0,553.7 406.1,543.2 406.2,554.2 406.3,547.7 406.5,555.0 406.6,542.5 406.7,548.6 406.8,543.4 407.0,560.4 407.1,565.1 407.2,559.4 407.3,550.9 407.5,552.1 407.6,556.5 407.7,546.3 407.8,567.9 408.0,563.3 408.1,553.6 408.2,559.9 408.3,553.1 408.5,548.2 408.6,542.3 408.7,557.3 408.8,555.6 409.0,542.1 409.1,545.6 409.2,566.7 409.3,561.0 409.5,548.2 409.6,552.3 409.7,560.0 409.8,564.7 410.0,546.1 410.1,560.2 410.2,558.0 410.3,561.7 410.5,545.8 410.6,553.1 410.7,536.6 410.8,550.6 411.0,557.8 411.1,554.4 411.2,557.5 411.3,565.2 411.5,562.8 411.6,545.6 411.7,570.7 411.8,543.9 412.0,551.2 412.1,561.5 412.2,562.5 412.3,577.0 412.5,548.9 412.6,555.3 412.7,558.4 412.8,561.7 412.9,563.8 413.1,549.0 413.2,544.7 413.3,546.5 413.4,559.9 413.6,541.6 413.7,546.0 413.8,561.3 413.9,564.3 414.1,550.8 414.2,559.2 414.3,549.0 414.4,545.9 414.6,553.6 414.7,541.8 414.8,551.0 414.9,556.1 415.1,563.8 415.2,562.0 415.3,544.6 415.4,550.3 415.6,540.7 415.7,540.8 415.8,565.5 415.9,544.5 416.1,549.3 416.2,559.2 416.3,546.3 416.4,551.6 416.6,544.0 416.7,562.0 416.8,550.4 416.9,546.1 417.1,549.8 417.2,535.2 417.3,553.9 417.4,550.4 417.6,550.4 417.7,552.0 417.8,555.4 417.9,552.7 418.1,561.2 418.2,552.6 418.3,546.2 418.4,545.6 418.6,553.3 418.7,569.4 418.8,555.1 418.9,554.4 419.1,545.1 419.2,557.0 419.3,544.9 419.4,550.3 419.6,549.4 419.7,553.1 419.8,548.4 419.9,549.2 420.1,544.4 420.2,556.7 420.3,551.1 420.4,565.9 420.6,564.4 420.7,556.0 420.8,567.5 420.9,552.5 421.1,545.6 421.2,566.1 421.3,568.8 421.4,544.8 421.6,553.9 421.7,535.6 421.8,560.6 421.9,564.9 422.1,545.7 422.2,562.2 422.3,557.1 422.4,547.3 422.6,549.4 422.7,548.5 422.8,548.2 422.9,556.7 423.1,544.0 423.2,566.1 423.3,552.0 423.4,552.6 423.6,561.2 423.7,543.7 423.8,547.0 423.9,559.1 424.1,558.4 424.2,553.4 424.3,559.6 424.4,556.8 424.6,558.6 424.7,561.8 424.8,558.5 424.9,561.8 425.1,550.6 425.2,560.4 425.3,558.0 425.4,538.8 425.6,552.1 425.7,561.8 425.8,549.6 425.9,547.5 426.1,547.2 426.2,568.6 426.3,546.8 426.4,543.1 426.6,555.5 426.7,563.3 426.8,553.6 426.9,538.5 427.1,540.4 427.2,545.8 427.3,556.9 427.4,561.7 427.6,558.1 427.7,541.1 427.8,556.2 427.9,558.9 428.1,550.7 428.2,544.6 428.3,552.7 428.4,550.8 428.6,548.4 428.7,539.9 428.8,546.4 428.9,559.2 429.1,548.2 429.2,557.1 429.3,551.0 429.4,546.0 429.6,559.6 429.7,564.6 429.8,559.4 429.9,560.1 430.1,551.3 430.2,563.6 430.3,566.6 430.4,556.7 430.5,560.1 430.7,544.0 430.8,542.9 430.9,558.7 431.0,550.6 431.2,548.9 431.3,557.0 431.4,542.3 431.5,556.0 431.7,559.4 431.8,560.4 431.9,541.6 432.0,542.8 432.2,561.7 432.3,563.7 432.4,563.9 432.5,554.9 432.7,549.2 432.8,561.8 432.9,549.9 433.0,564.8 433.2,553.5 433.3,540.6 433.4,540.7 433.5,563.5 433.7,548.3 433.8,544.9 433.9,541.7 434.0,548.6 434.2,564.6 434.3,540.2 434.4,560.8 434.5,550.0 434.7,560.3 434.8,562.1 434.9,563.7 435.0,545.0 435.2,558.7 435.3,544.0 435.4,545.7 435.5,545.8 435.7,565.5 435.8,563.4 435.9,559.6 436.0,545.2 436.2,543.3 436.3,559.7 436.4,553.9 436.5,561.4 436.7,557.8 436.8,548.9 436.9,553.8 437.0,560.6 437.2,551.5 437.3,540.4 437.4,550.5 437.5,558.7 437.7,554.4 437.8,560.7 437.9,558.3 438.0,555.0 438.2,558.0 438.3,545.3 438.4,543.6 438.5,542.1 438.7,550.1 438.8,549.9 438.9,545.9 439.0,559.8 439.2,544.7 439.3,540.5 439.4,551.0 439.5,548.9 439.7,540.1 439.8,551.2 439.9,551.4 440.0,562.9 440.2,556.6 440.3,546.2 440.4,565.0 440.5,562.2 440.7,563.7 440.8,550.5 440.9,546.6 441.0,563.2 441.2,561.9 441.3,558.1 441.4,543.5 441.5,552.0 441.7,544.4 441.8,566.1 441.9,548.2 442.0,564.3 442.2,561.2 442.3,556.0 442.4,560.7 442.5,536.6 442.7,543.4 442.8,563.5 442.9,552.8 443.0,543.1 443.2,553.0 443.3,560.3 443.4,562.5 443.5,562.9 443.7,547.2 443.8,542.7 443.9,565.7 444.0,568.1 444.2,548.1 444.3,545.3 444.4,576.4 444.5,544.2 444.7,563.4 444.8,559.9 444.9,547.0 445.0,564.8 445.2,565.4 445.3,544.0 445.4,554.4 445.5,554.6 445.7,552.4 445.8,540.7 445.9,553.1 446.0,559.3 446.2,565.3 446.3,564.6 446.4,557.2 446.5,566.4 446.7,553.4 446.8,561.2 446.9,543.7 447.0,552.2 447.2,550.5 447.3,557.2 447.4,543.9 447.5,545.6 447.7,556.3 447.8,567.6 447.9,566.6 448.0,556.8 448.2,548.2 448.3,561.4 448.4,550.5 448.5,548.6 448.6,555.7 448.8,544.7 448.9,546.1 449.0,563.3 449.1,550.6 449.3,545.8 449.4,555.8 449.5,548.3 449.6,568.8 449.8,555.7 449.9,560.4 450.0,566.2 450.1,555.6 450.3,561.2 450.4,554.5 450.5,564.7 450.6,555.9 450.8,554.4 450.9,566.8 451.0,554.6 451.1,551.3 451.3,565.8 451.4,558.4 451.5,560.2 451.6,555.4 451.8,555.2 451.9,565.1 452.0,545.4 452.1,567.6 452.3,558.7 452.4,562.2 452.5,569.0 452.6,562.7 452.8,543.8 452.9,564.1 453.0,563.4 453.1,567.4 453.3,549.8 453.4,564.2 453.5,562.9 453.6,558.8 453.8,563.2 453.9,549.5 454.0,554.8 454.1,557.9 454.3,567.4 454.4,561.9 454.5,544.9 454.6,565.2 454.8,563.0 454.9,565.1 455.0,564.6 455.1,562.0 455.3,559.2 455.4,548.2 455.5,558.6 455.6,567.2 455.8,570.2 455.9,550.3 456.0,563.6 456.1,554.0 456.3,561.5 456.4,554.9 456.5,551.7 456.6,561.9 456.8,555.9 456.9,557.5 457.0,569.5 457.1,563.5 457.3,553.2 457.4,544.9 457.5,560.6 457.6,548.6 457.8,567.9 457.9,565.5 458.0,548.3 458.1,548.3 458.3,547.6 458.4,558.4 458.5,552.1 458.6,557.8 458.8,558.7 458.9,566.9 459.0,558.8 459.1,546.1 459.3,552.5 459.4,565.9 459.5,565.1 459.6,565.7 459.8,543.4 459.9,550.1 460.0,551.5 460.1,553.8 460.3,551.1 460.4,559.8 460.5,552.2 460.6,564.3 460.8,546.3 460.9,562.6 461.0,551.5 461.1,541.8 461.3,568.4 461.4,559.7 461.5,546.1 461.6,546.8 461.8,564.5 461.9,551.6 462.0,558.7 462.1,566.1 462.3,565.9 462.4,570.5 462.5,561.0 462.6,553.9 462.8,558.2 462.9,556.6 463.0,571.2 463.1,570.3 463.3,567.2 463.4,554.3 463.5,569.1 463.6,569.9 463.8,556.6 463.9,559.9 464.0,557.0 464.1,558.8 464.3,565.0 464.4,563.9 464.5,546.8 464.6,545.2 464.8,561.0 464.9,552.9 465.0,572.5 465.1,546.4 465.3,552.5 465.4,561.1 465.5,565.6 465.6,556.1 465.8,559.6 465.9,555.8 466.0,554.1 466.1,556.1 466.2,564.7 466.4,562.5 466.5,549.1 466.6,562.3 466.7,569.1 466.9,557.0 467.0,568.1 467.1,565.9 467.2,559.5 467.4,549.0 467.5,561.1 467.6,554.6 467.7,572.3 467.9,568.9 468.0,561.1 468.1,565.0 468.2,567.4 468.4,571.1 468.5,564.4 468.6,557.8 468.7,551.3 468.9,567.9 469.0,549.5 469.1,547.9 469.2,567.0 469.4,565.7 469.5,556.8 469.6,568.3 469.7,569.7 469.9,557.0 470.0,547.2 470.1,549.9 470.2,557.4 470.4,552.5 470.5,548.9 470.6,556.2 470.7,557.6 470.9,563.5 471.0,566.9 471.1,560.9 471.2,571.4 471.4,551.8 471.5,558.9 471.6,554.5 471.7,555.7 471.9,548.3 472.0,560.2 472.1,562.5 472.2,550.5 472.4,549.1 472.5,548.7 472.6,558.5 472.7,570.0 472.9,547.3 473.0,547.6 473.1,567.8 473.2,555.3 473.4,560.5 473.5,566.4 473.6,554.3 473.7,572.5 473.9,557.2 474.0,559.9 474.1,572.8 474.2,561.6 474.4,552.8 474.5,554.3 474.6,569.2 474.7,557.4 474.9,574.6 475.0,547.9 475.1,548.1 475.2,551.1 475.4,555.1 475.5,573.6 475.6,561.3 475.7,548.7 475.9,561.1 476.0,555.3 476.1,570.4 476.2,573.1 476.4,561.5 476.5,566.9 476.6,556.5 476.7,552.2 476.9,564.2 477.0,549.0 477.1,540.8 477.2,568.0 477.4,551.6 477.5,576.1 477.6,552.3 477.7,564.8 477.9,551.9 478.0,557.9 478.1,555.8 478.2,547.6 478.4,561.9 478.5,547.4 478.6,561.6 478.7,557.9 478.9,566.9 479.0,556.5 479.1,546.6 479.2,553.6 479.4,562.9 479.5,546.9 479.6,549.4 479.7,547.3 479.9,565.1 480.0,551.5 480.1,548.3 480.2,561.5 480.4,551.4 480.5,559.9 480.6,564.8 480.7,561.1 480.9,566.0 481.0,551.2 481.1,564.0 481.2,560.7 481.4,555.4 481.5,561.9 481.6,561.8 481.7,549.2 481.9,552.1 482.0,559.5 482.1,550.7 482.2,557.0 482.4,555.1 482.5,559.3 482.6,549.8 482.7,561.3 482.9,564.1 483.0,557.9 483.1,553.7 483.2,550.3 483.4,567.2 483.5,569.6 483.6,565.2 483.7,553.3 483.9,566.1 484.0,555.6 484.1,550.6 484.2,556.6 484.3,545.2 484.5,547.2 484.6,559.4 484.7,569.0 484.8,569.7 485.0,562.2 485.1,551.8 485.2,544.5 485.3,565.7 485.5,545.4 485.6,564.0 485.7,563.3 485.8,546.7 486.0,563.1 486.1,557.2 486.2,551.4 486.3,564.3 486.5,549.9 486.6,559.9 486.7,546.6 486.8,566.8 487.0,561.5 487.1,554.0 487.2,545.5 487.3,568.2 487.5,554.7 487.6,566.0 487.7,567.5 487.8,557.1 488.0,553.5 488.1,549.0 488.2,554.0 488.3,552.4 488.5,545.0 488.6,546.7 488.7,563.2 488.8,564.8 489.0,554.1 489.1,567.5 489.2,557.8 489.3,537.1 489.5,560.9 489.6,560.1 489.7,562.1 489.8,567.9 490.0,550.4 490.1,547.3 490.2,558.0 490.3,551.6 490.5,558.5 490.6,564.6 490.7,550.8 490.8,559.1 491.0,566.2 491.1,565.2 491.2,573.9 491.3,553.2 491.5,555.3 491.6,560.7 491.7,556.9 491.8,554.6 492.0,556.2 492.1,562.1 492.2,547.6 492.3,557.8 492.5,569.9 492.6,562.0 492.7,543.9 492.8,566.7 493.0,569.9 493.1,548.5 493.2,548.3 493.3,550.8 493.5,554.5 493.6,548.0 493.7,562.7 493.8,566.3 494.0,566.4 494.1,558.3 494.2,557.5 494.3,553.4 494.5,570.9 494.6,566.9 494.7,567.2 494.8,559.2 495.0,547.7 495.1,548.4 495.2,547.8 495.3,570.1 495.5,548.0 495.6,559.2 495.7,563.5 495.8,566.5 496.0,558.7 496.1,561.9 496.2,555.3 496.3,566.6 496.5,547.6 496.6,549.4 496.7,553.2 496.8,560.9 497.0,553.4 497.1,547.3 497.2,567.6 497.3,547.9 497.5,551.7 497.6,569.4 497.7,564.8 497.8,561.9 498.0,564.2 498.1,553.7 498.2,564.2 498.3,555.3 498.5,556.2 498.6,562.7 498.7,558.7 498.8,570.2 499.0,553.9 499.1,552.7 499.2,565.8 499.3,547.9 499.5,551.6 499.6,566.4 499.7,547.7 499.8,542.2 500.0,565.1 500.1,556.7 500.2,547.7 500.3,550.4 500.5,565.4 500.6,555.8 500.7,563.1 500.8,546.4 501.0,572.2 501.1,565.1 501.2,555.8 501.3,563.5 501.5,570.5 501.6,568.4 501.7,559.3 501.8,570.7 501.9,570.2 502.1,557.7 502.2,561.1 502.3,558.1 502.4,552.7 502.6,571.6 502.7,570.7 502.8,551.3 502.9,553.4 503.1,569.4 503.2,550.0 503.3,556.1 503.4,563.2 503.6,565.9 503.7,571.9 503.8,556.9 503.9,557.5 504.1,553.7 504.2,557.4 504.3,568.3 504.4,559.9 504.6,565.9 504.7,567.4 504.8,565.6 504.9,560.7 505.1,562.8 505.2,572.1 505.3,558.8 505.4,554.6 505.6,555.0 505.7,556.6 505.8,553.0 505.9,574.1 506.1,552.1 506.2,568.5 506.3,562.9 506.4,573.5 506.6,554.4 506.7,570.0 506.8,550.3 506.9,553.4 507.1,558.6 507.2,568.5 507.3,562.1 507.4,566.0 507.6,558.5 507.7,547.1 507.8,548.6 507.9,552.9 508.1,548.6 508.2,569.5 508.3,558.5 508.4,574.5 508.6,570.1 508.7,568.8 508.8,547.2 508.9,545.4 509.1,562.6 509.2,553.3 509.3,556.7 509.4,566.9 509.6,561.1 509.7,565.1 509.8,563.6 509.9,556.6 510.1,553.5 510.2,561.6 510.3,568.2 510.4,566.7 510.6,566.5 510.7,551.6 510.8,571.5 510.9,562.8 511.1,557.6 511.2,570.0 511.3,549.3 511.4,569.9 511.6,569.2 511.7,545.0 511.8,572.3 511.9,578.7 512.1,559.2 512.2,549.1 512.3,566.1 512.4,564.5 512.6,557.5 512.7,554.6 512.8,567.3 512.9,552.3 513.1,573.3 513.2,559.4 513.3,548.0 513.4,562.5 513.6,551.5 513.7,554.4 513.8,550.4 513.9,549.3 514.1,562.6 514.2,546.0 514.3,578.3 514.4,561.5 514.6,564.2 514.7,551.6 514.8,546.0 514.9,560.3 515.1,546.3 515.2,568.8 515.3,545.4 515.4,566.7 515.6,558.0 515.7,556.9 515.8,555.3 515.9,546.8 516.1,562.3 516.2,559.2 516.3,560.6 516.4,559.1 516.6,568.6 516.7,557.2 516.8,569.7 516.9,547.3 517.1,544.1 517.2,561.3 517.3,546.9 517.4,561.0 517.6,550.6 517.7,572.0 517.8,567.2 517.9,562.3 518.1,564.4 518.2,568.0 518.3,563.2 518.4,571.3 518.6,547.7 518.7,561.5 518.8,547.4 518.9,555.9 519.1,537.4 519.2,562.9 519.3,547.3 519.4,571.6 519.5,561.6 519.7,572.5 519.8,548.2 519.9,557.4 520.0,566.4 520.2,554.1 520.3,563.4 520.4,547.2 520.5,566.9 520.7,562.7 520.8,549.7 520.9,547.4 521.0,560.6 521.2,566.6 521.3,559.4 521.4,545.3 521.5,552.5 521.7,557.1 521.8,545.5 521.9,546.3 522.0,556.7 522.2,549.3 522.3,566.7 522.4,556.2 522.5,568.4 522.7,538.5 522.8,555.3 522.9,565.2 523.0,562.5 523.2,560.3 523.3,551.2 523.4,550.7 523.5,570.9 523.7,557.5 523.8,571.5 523.9,551.7 524.0,563.5 524.2,565.3 524.3,568.0 524.4,552.5 524.5,566.1 524.7,548.9 524.8,571.7 524.9,550.0 525.0,560.2 525.2,571.2 525.3,556.1 525.4,560.9 525.5,559.4 525.7,562.9 525.8,562.9 525.9,554.1 526.0,546.4 526.2,561.0 526.3,568.4 526.4,563.0 526.5,570.4 526.7,548.6 526.8,551.6 526.9,567.5 527.0,545.1 527.2,552.3 527.3,545.5 527.4,550.9 527.5,565.0 527.7,551.6 527.8,547.3 527.9,553.1 528.0,563.3 528.2,562.2 528.3,561.6 528.4,568.4 528.5,556.3 528.7,559.3 528.8,564.4 528.9,546.9 529.0,561.1 529.2,568.6 529.3,557.6 529.4,566.7 529.5,568.2 529.7,568.5 529.8,558.8 529.9,548.1 530.0,564.1 530.2,547.1 530.3,561.8 530.4,561.3 530.5,571.6 530.7,563.7 530.8,551.6 530.9,547.4 531.0,568.2 531.2,578.9 531.3,570.6 531.4,568.2 531.5,558.1 531.7,569.5 531.8,550.5 531.9,540.4 532.0,570.8 532.2,546.3 532.3,559.1 532.4,567.4 532.5,561.1 532.7,567.1 532.8,553.9 532.9,562.0 533.0,549.8 533.2,570.1 533.3,563.6 533.4,558.6 533.5,564.5 533.7,570.0 533.8,549.5 533.9,555.2 534.0,561.8 534.2,557.0 534.3,558.2 534.4,543.9 534.5,547.4 534.7,551.3 534.8,548.4 534.9,549.6 535.0,540.1 535.2,563.7 535.3,553.1 535.4,556.3 535.5,556.4 535.7,563.9 535.8,545.3 535.9,561.2 536.0,569.6 536.2,563.3 536.3,564.4 536.4,561.1 536.5,550.8 536.7,569.3 536.8,549.2 536.9,567.0 537.0,575.4 537.2,566.7 537.3,552.3 537.4,571.1 537.5,566.8 537.6,549.5 537.8,554.1 537.9,553.6 538.0,574.6 538.1,558.7 538.3,552.6 538.4,571.9 538.5,554.3 538.6,563.0 538.8,554.9 538.9,564.5 539.0,564.9 539.1,549.7 539.3,550.6 539.4,574.5 539.5,568.0 539.6,572.7 539.8,564.7 539.9,569.2 540.0,550.1 540.1,557.4 540.3,563.0 540.4,562.5 540.5,557.3 540.6,548.9 540.8,547.3 540.9,572.2 541.0,565.7 541.1,567.9 541.3,579.1 541.4,572.2 541.5,568.1 541.6,570.9 541.8,574.3 541.9,571.0 542.0,559.3 542.1,549.3 542.3,553.3 542.4,569.3 542.5,570.4 542.6,569.7 542.8,569.8 542.9,572.5 543.0,558.9 543.1,548.0 543.3,548.5 543.4,565.2 543.5,558.1 543.6,552.0 543.8,553.0 543.9,553.5 544.0,557.4 544.1,571.9 544.3,565.8 544.4,551.3 544.5,556.5 544.6,563.8 544.8,568.1 544.9,553.1 545.0,565.2 545.1,560.3 545.3,543.6 545.4,549.4 545.5,560.4 545.6,561.3 545.8,567.3 545.9,563.3 546.0,569.1 546.1,560.9 546.3,551.4 546.4,561.3 546.5,551.9 546.6,569.5 546.8,550.3 546.9,549.1 547.0,557.9 547.1,551.3 547.3,551.1 547.4,550.0 547.5,545.9 547.6,564.5 547.8,557.9 547.9,563.9 548.0,562.0 548.1,565.8 548.3,545.0 548.4,567.3 548.5,549.9 548.6,554.2 548.8,565.0 548.9,562.3 549.0,561.9 549.1,565.7 549.3,561.6 549.4,569.5 549.5,567.2 549.6,566.5 549.8,567.7 549.9,567.7 550.0,567.6 550.1,565.0 550.3,560.6 550.4,548.8 550.5,564.4 550.6,551.9 550.8,559.5 550.9,550.7 551.0,552.9 551.1,554.1 551.3,562.7 551.4,565.8 551.5,559.4 551.6,547.0 551.8,564.2 551.9,558.6 552.0,563.7 552.1,551.8 552.3,561.8 552.4,552.2 552.5,560.3 552.6,549.0 552.8,556.7 552.9,556.7 553.0,568.4 553.1,552.0 553.3,561.2 553.4,569.5 553.5,554.5 553.6,556.6 553.8,572.8 553.9,548.5 554.0,555.2 554.1,562.6 554.3,548.7 554.4,565.8 554.5,552.1 554.6,570.0 554.8,572.4 554.9,573.3 555.0,548.0 555.1,563.9 555.2,548.0 555.4,551.7 555.5,548.4 555.6,552.5 555.7,568.2 555.9,563.8 556.0,548.2 556.1,551.0 556.2,567.5 556.4,563.1 556.5,561.0 556.6,565.3 556.7,566.1 556.9,547.3 557.0,556.6 557.1,549.8 557.2,568.2 557.4,563.0 557.5,561.3 557.6,567.4 557.7,563.8 557.9,556.1 558.0,547.5 558.1,559.2 558.2,573.3 558.4,546.4 558.5,545.5 558.6,559.1 558.7,556.8 558.9,561.1 559.0,571.4 559.1,567.5 559.2,569.7 559.4,566.0 559.5,546.7 559.6,545.9 559.7,563.7 559.9,552.8 560.0,548.8 560.1,562.7 560.2,544.0 560.4,566.7 560.5,569.8 560.6,562.3 560.7,570.3 560.9,547.0 561.0,558.2 561.1,551.7 561.2,550.1 561.4,571.3 561.5,547.9 561.6,561.0 561.7,567.7 561.9,557.8 562.0,551.6 562.1,565.8 562.2,562.4 562.4,560.3 562.5,552.8 562.6,568.9 562.7,558.2 562.9,558.5 563.0,569.6 563.1,557.9 563.2,552.9 563.4,568.4 563.5,545.0 563.6,567.2 563.7,559.1 563.9,565.2 564.0,561.9 564.1,551.4 564.2,546.4 564.4,550.9 564.5,561.2 564.6,555.5 564.7,561.0 564.9,561.4 565.0,570.5 565.1,557.1 565.2,543.4 565.4,552.4 565.5,562.4 565.6,547.6 565.7,554.2 565.9,555.3 566.0,568.7 566.1,546.3 566.2,550.9 566.4,580.1 566.5,549.2 566.6,555.1 566.7,567.1 566.9,558.5 567.0,569.5 567.1,555.0 567.2,547.7 567.4,565.9 567.5,550.9 567.6,567.8 567.7,561.3 567.9,555.7 568.0,563.9 568.1,565.2 568.2,570.7 568.4,560.2 568.5,562.1 568.6,557.1 568.7,553.1 568.9,573.3 569.0,556.2 569.1,558.2 569.2,551.1 569.4,554.2 569.5,557.1 569.6,570.0 569.7,570.0 569.9,569.0 570.0,561.3 570.1,569.4 570.2,548.3 570.4,561.9 570.5,558.0 570.6,557.0 570.7,549.1 570.9,573.0 571.0,571.8 571.1,569.6 571.2,548.9 571.4,567.7 571.5,556.8 571.6,547.8 571.7,560.4 571.9,550.0 572.0,565.1 572.1,562.7 572.2,547.5 572.4,553.5 572.5,564.1 572.6,565.2 572.7,563.5 572.9,542.3 573.0,575.8 573.1,572.6 573.2,556.1 573.3,544.8 573.5,568.0 573.6,560.4 573.7,547.2 573.8,550.6 574.0,550.0 574.1,566.4 574.2,565.4 574.3,568.5 574.5,550.1 574.6,558.3 574.7,561.1 574.8,564.0 575.0,567.9 575.1,554.1 575.2,545.9 575.3,557.3 575.5,562.1 575.6,572.3 575.7,558.9 575.8,552.2 576.0,565.6 576.1,560.7 576.2,560.0 576.3,545.7 576.5,547.4 576.6,557.6 576.7,559.5 576.8,555.3 577.0,551.1 577.1,548.8 577.2,549.4 577.3,560.9 577.5,560.1 577.6,556.2 577.7,564.1 577.8,566.4 578.0,568.9 578.1,561.2 578.2,565.5 578.3,569.5 578.5,559.6 578.6,566.6 578.7,554.9 578.8,552.0 579.0,569.3 579.1,566.2 579.2,559.1 579.3,565.8 579.5,567.7 579.6,561.1 579.7,566.7 579.8,547.4 580.0,570.6 580.1,568.9 580.2,563.8 580.3,569.0 580.5,577.7 580.6,559.6 580.7,577.6 580.8,546.8 581.0,556.6 581.1,556.3 581.2,571.1 581.3,569.6 581.5,553.3 581.6,558.7 581.7,555.0 581.8,563.0 582.0,564.6 582.1,549.4 582.2,553.9 582.3,552.7 582.5,560.4 582.6,556.8 582.7,559.4 582.8,555.1 583.0,552.7 583.1,556.0 583.2,548.9 583.3,561.2 583.5,553.5 583.6,564.4 583.7,568.4 583.8,551.3 584.0,556.8 584.1,566.0 584.2,554.3 584.3,572.2 584.5,555.5 584.6,565.2 584.7,562.5 584.8,572.3 585.0,569.1 585.1,568.3 585.2,550.1 585.3,554.6 585.5,574.0 585.6,552.5 585.7,543.0 585.8,574.6 586.0,553.4 586.1,574.4 586.2,570.2 586.3,549.3 586.5,550.9 586.6,551.0 586.7,554.5 586.8,549.7 587.0,553.1 587.1,570.4 587.2,571.4 587.3,565.7 587.5,560.2 587.6,566.0 587.7,567.3 587.8,561.8 588.0,550.1 588.1,548.6 588.2,552.9 588.3,578.1 588.5,582.0 588.6,566.0 588.7,564.5 588.8,562.1 589.0,568.3 589.1,562.0 589.2,573.7 589.3,571.5 589.5,554.3 589.6,564.6 589.7,564.0 589.8,573.2 590.0,566.6 590.1,572.4 590.2,560.0 590.3,566.4 590.5,549.5 590.6,558.2 590.7,557.6 590.8,571.9 590.9,558.1 591.1,568.5 591.2,552.4 591.3,560.7 591.4,559.9 591.6,555.1 591.7,557.3 591.8,549.5 591.9,565.2 592.1,574.2 592.2,556.8 592.3,557.6 592.4,554.1 592.6,573.4 592.7,574.3 592.8,541.4 592.9,573.0 593.1,566.5 593.2,561.9 593.3,570.3 593.4,568.3 593.6,569.5 593.7,556.1 593.8,554.5 593.9,572.4 594.1,553.8 594.2,569.0 594.3,561.4 594.4,567.4 594.6,563.3 594.7,574.6 594.8,570.2 594.9,572.8 595.1,550.3 595.2,566.2 595.3,552.0 595.4,556.8 595.6,573.4 595.7,568.1 595.8,568.7 595.9,559.9 596.1,572.0 596.2,564.9 596.3,567.6 596.4,548.5 596.6,549.1 596.7,569.8 596.8,560.6 596.9,566.9 597.1,561.7 597.2,556.2 597.3,552.1 597.4,570.3 597.6,553.3 597.7,548.0 597.8,557.8 597.9,561.8 598.1,567.5 598.2,551.9 598.3,561.3 598.4,555.8 598.6,550.3 598.7,568.1 598.8,559.5 598.9,567.8 599.1,558.0 599.2,574.2 599.3,555.4 599.4,554.4 599.6,569.2 599.7,564.0 599.8,554.5 599.9,561.1 600.1,565.0 600.2,564.6 600.3,550.1 600.4,574.1 600.6,568.2 600.7,575.5 600.8,565.9 600.9,556.2 601.1,559.6 601.2,572.2 601.3,568.2 601.4,558.7 601.6,570.6 601.7,566.0 601.8,561.4 601.9,555.4 602.1,557.0 602.2,561.6 602.3,567.7 602.4,564.9 602.6,556.9 602.7,575.1 602.8,554.4 602.9,560.2 603.1,551.9 603.2,561.3 603.3,563.9 603.4,564.3 603.6,565.4 603.7,553.2 603.8,568.9 603.9,561.8 604.1,571.5 604.2,573.5 604.3,573.5 604.4,572.9 604.6,565.0 604.7,546.2 604.8,557.3 604.9,561.9 605.1,557.4 605.2,563.9 605.3,574.2 605.4,566.0 605.6,550.4 605.7,560.6 605.8,571.0 605.9,556.5 606.1,569.1 606.2,553.2 606.3,552.7 606.4,557.0 606.6,559.0 606.7,570.2 606.8,553.0 606.9,569.7 607.1,567.0 607.2,551.0 607.3,556.7 607.4,564.0 607.6,554.9 607.7,562.3 607.8,568.5 607.9,567.6 608.1,560.1 608.2,569.5 608.3,558.8 608.4,556.5 608.6,559.8 608.7,552.7 608.8,573.4 608.9,554.6 609.0,563.4 609.2,559.6 609.3,562.9 609.4,552.1 609.5,573.0 609.7,562.7 609.8,561.2 609.9,554.4 610.0,571.3 610.2,554.2 610.3,568.0 610.4,561.8 610.5,561.2 610.7,555.9 610.8,563.5 610.9,560.5 611.0,552.0 611.2,570.1 611.3,575.6 611.4,575.5 611.5,569.8 611.7,575.2 611.8,567.2 611.9,555.9 612.0,560.2 612.2,565.6 612.3,563.2 612.4,571.3 612.5,572.5 612.7,560.0 612.8,559.5 612.9,559.1 613.0,557.8 613.2,562.9 613.3,557.1 613.4,550.7 613.5,555.6 613.7,562.3 613.8,558.9 613.9,566.3 614.0,572.6 614.2,566.6 614.3,563.6 614.4,562.9 614.5,565.2 614.7,560.8 614.8,553.0 614.9,573.9 615.0,559.9 615.2,567.2 615.3,573.2 615.4,555.4 615.5,556.2 615.7,553.9 615.8,566.2 615.9,554.4 616.0,554.7 616.2,552.0 616.3,563.7 616.4,552.8 616.5,554.5 616.7,564.8 616.8,572.7 616.9,559.9 617.0,548.2 617.2,562.3 617.3,548.6 617.4,558.4 617.5,573.2 617.7,552.8 617.8,548.5 617.9,557.8 618.0,562.5 618.2,567.9 618.3,573.6 618.4,573.6 618.5,551.8 618.7,572.8 618.8,556.4 618.9,557.6 619.0,564.3 619.2,570.9 619.3,562.5 619.4,567.3 619.5,570.6 619.7,543.7 619.8,554.5 619.9,554.2 620.0,551.3 620.2,554.1 620.3,558.9 620.4,555.0 620.5,566.9 620.7,565.7 620.8,571.7 620.9,565.3 621.0,555.3 621.2,562.9 621.3,575.7 621.4,568.8 621.5,573.8 621.7,545.9 621.8,559.2 621.9,558.9 622.0,567.1 622.2,564.5 622.3,568.4 622.4,573.3 622.5,560.1 622.7,574.7 622.8,575.8 622.9,545.8 623.0,568.3 623.2,583.2 623.3,555.9 623.4,568.3 623.5,569.0 623.7,569.7 623.8,553.8 623.9,553.6 624.0,574.3 624.2,552.3 624.3,560.3 624.4,562.3 624.5,576.8 624.7,565.1 624.8,576.1 624.9,564.9 625.0,574.6 625.2,553.0 625.3,573.8 625.4,573.4 625.5,562.4 625.7,576.0 625.8,558.2 625.9,556.3 626.0,571.0 626.2,553.7 626.3,560.6 626.4,577.7 626.5,569.6 626.6,572.6 626.8,562.1 626.9,562.9 627.0,575.1 627.1,570.4 627.3,559.3 627.4,550.9 627.5,561.8 627.6,585.2 627.8,567.7 627.9,566.9 628.0,559.0 628.1,557.3 628.3,564.3 628.4,556.6 628.5,568.9 628.6,562.2 628.8,563.4 628.9,554.8 629.0,583.6 629.1,573.1 629.3,566.3 629.4,568.7 629.5,556.4 629.6,554.0 629.8,572.4 629.9,559.8 630.0,561.2 630.1,562.1 630.3,575.4 630.4,573.9 630.5,565.3 630.6,560.2 630.8,551.5 630.9,564.6 631.0,572.1 631.1,574.3 631.3,556.9 631.4,566.7 631.5,558.7 631.6,562.8 631.8,575.5 631.9,555.9 632.0,575.5 632.1,552.6 632.3,552.8 632.4,560.9 632.5,572.2 632.6,571.0 632.8,573.5 632.9,572.3 633.0,562.9 633.1,563.5 633.3,564.2 633.4,564.2 633.5,573.4 633.6,558.1 633.8,556.5 633.9,573.0 634.0,558.2 634.1,570.8 634.3,559.9 634.4,570.3 634.5,574.5 634.6,570.1 634.8,572.0 634.9,568.1 635.0,576.8 635.1,570.4 635.3,581.5 635.4,570.3 635.5,557.2 635.6,580.9 635.8,564.0 635.9,570.2 636.0,563.3 636.1,572.8 636.3,560.8 636.4,562.9 636.5,552.0 636.6,571.8 636.8,574.7 636.9,555.6 637.0,573.4 637.1,564.7 637.3,556.4 637.4,560.6 637.5,571.7 637.6,557.2 637.8,570.6 637.9,563.6 638.0,570.9 638.1,553.9 638.3,572.3 638.4,559.1 638.5,550.8 638.6,561.0 638.8,559.0 638.9,552.6 639.0,559.2 639.1,571.0 639.3,567.2 639.4,564.6 639.5,557.7 639.6,557.6 639.8,573.8 639.9,552.3 640.0,555.8 640.1,568.4 640.3,577.7 640.4,553.4 640.5,555.7 640.6,573.9 640.8,564.7 640.9,573.0 641.0,570.2 641.1,565.4 641.3,577.2 641.4,564.7 641.5,568.1 641.6,564.8 641.8,558.1 641.9,570.6 642.0,562.8 642.1,554.0 642.3,565.3 642.4,564.2 642.5,556.9 642.6,565.5 642.8,554.2 642.9,563.7 643.0,559.2 643.1,554.9 643.3,556.4 643.4,564.5 643.5,572.0 643.6,573.9 643.8,554.0 643.9,567.0 644.0,554.2 644.1,582.3 644.3,574.0 644.4,557.0 644.5,561.3 644.6,574.5 644.7,553.2 644.9,567.4 645.0,555.8 645.1,564.1 645.2,580.4 645.4,565.1 645.5,568.6 645.6,561.9 645.7,563.7 645.9,580.1 646.0,572.0 646.1,576.2 646.2,564.4 646.4,554.8 646.5,562.7 646.6,556.8 646.7,551.8 646.9,575.2 647.0,563.2 647.1,559.3 647.2,562.2 647.4,555.3 647.5,556.2 647.6,578.3 647.7,568.0 647.9,553.9 648.0,553.3 648.1,571.7 648.2,563.6 648.4,562.1 648.5,553.8 648.6,573.0 648.7,563.8 648.9,559.3 649.0,552.4 649.1,563.1 649.2,572.7 649.4,577.2 649.5,559.9 649.6,561.9 649.7,553.5 649.9,563.6 650.0,555.6 650.1,568.0 650.2,564.4 650.4,557.8 650.5,561.3 650.6,557.3 650.7,567.4 650.9,553.8 651.0,557.3 651.1,555.1 651.2,576.9 651.4,576.9 651.5,568.2 651.6,559.6 651.7,567.8 651.9,561.6 652.0,561.4 652.1,565.6 652.2,552.5 652.4,566.9 652.5,553.6 652.6,568.1 652.7,555.0 652.9,577.9 653.0,567.3 653.1,575.7 653.2,579.3 653.4,558.3 653.5,570.8 653.6,568.7 653.7,554.9 653.9,570.9 654.0,572.5 654.1,561.0 654.2,564.1 654.4,567.4 654.5,555.8 654.6,576.8 654.7,556.2 654.9,562.6 655.0,569.7 655.1,569.7 655.2,576.1 655.4,559.2 655.5,571.1 655.6,557.5 655.7,571.9 655.9,568.5 656.0,576.2 656.1,575.8 656.2,554.3 656.4,560.3 656.5,569.6 656.6,562.8 656.7,554.7 656.9,575.3 657.0,578.3 657.1,559.0 657.2,559.1 657.4,572.8 657.5,583.2 657.6,578.3 657.7,562.9 657.9,567.6 658.0,572.5 658.1,564.8 658.2,576.0 658.4,562.8 658.5,563.6 658.6,576.1 658.7,561.0 658.9,577.8 659.0,573.8 659.1,553.6 659.2,576.0 659.4,556.1 659.5,553.3 659.6,570.3 659.7,566.5 659.9,576.7 660.0,568.8 660.1,562.2 660.2,562.8 660.4,566.9 660.5,564.0 660.6,564.4 660.7,581.3 660.9,567.7 661.0,565.5 661.1,573.9 661.2,565.5 661.4,564.4 661.5,553.5 661.6,576.4 661.7,556.1 661.9,563.3 662.0,554.2 662.1,566.5 662.2,557.6 662.3,568.3 662.5,576.1 662.6,556.2 662.7,563.8 662.8,577.1 663.0,555.3 663.1,560.8 663.2,560.8 663.3,576.1 663.5,567.4 663.6,577.1 663.7,577.0 663.8,572.4 664.0,561.4 664.1,574.8 664.2,584.6 664.3,568.0 664.5,577.5 664.6,577.8 664.7,572.2 664.8,554.0 665.0,567.5 665.1,577.5 665.2,575.3 665.3,554.2 665.5,557.7 665.6,560.3 665.7,565.3 665.8,573.7 666.0,571.6 666.1,570.1 666.2,566.7 666.3,575.5 666.5,565.5 666.6,560.0 666.7,565.4 666.8,556.3 667.0,565.0 667.1,575.2 667.2,553.8 667.3,552.3 667.5,557.3 667.6,562.9 667.7,556.4 667.8,551.3 668.0,554.4 668.1,565.2 668.2,558.6 668.3,574.3 668.5,566.0 668.6,576.4 668.7,561.9 668.8,557.1 669.0,570.2 669.1,568.3 669.2,569.6 669.3,565.7 669.5,572.4 669.6,557.5 669.7,575.7 669.8,564.9 670.0,573.4 670.1,572.7 670.2,572.0 670.3,577.4 670.5,572.8 670.6,570.3 670.7,569.1 670.8,563.2 671.0,572.1 671.1,577.2 671.2,555.3 671.3,568.4 671.5,566.4 671.6,574.1 671.7,562.5 671.8,560.8 672.0,576.3 672.1,575.4 672.2,560.7 672.3,579.4 672.5,558.9 672.6,572.9 672.7,558.0 672.8,556.6 673.0,558.3 673.1,556.9 673.2,561.9 673.3,562.4 673.5,561.2 673.6,562.9 673.7,577.3 673.8,575.9 674.0,560.9 674.1,554.9 674.2,575.2 674.3,557.7 674.5,578.6 674.6,575.9 674.7,561.7 674.8,564.9 675.0,566.7 675.1,575.8 675.2,554.7 675.3,564.4 675.5,556.7 675.6,573.3 675.7,555.2 675.8,572.0 676.0,573.6 676.1,559.9 676.2,574.3 676.3,561.4 676.5,563.0 676.6,561.7 676.7,572.4 676.8,574.4 677.0,567.9 677.1,566.8 677.2,578.0 677.3,561.1 677.5,573.2 677.6,559.0 677.7,565.0 677.8,562.7 678.0,557.4 678.1,556.4 678.2,569.2 678.3,571.0 678.5,553.0 678.6,564.7 678.7,567.9 678.8,565.0 679.0,561.8 679.1,555.4 679.2,557.0 679.3,553.6 679.5,555.3 679.6,574.0 679.7,555.1 679.8,558.1 680.0,561.2 680.1,559.6 680.2,556.7 680.3,552.9 680.4,557.8 680.6,565.0 680.7,552.4 680.8,559.9 680.9,563.7 681.1,565.8 681.2,557.7 681.3,557.6 681.4,554.9 681.6,565.2 681.7,564.0 681.8,574.6 681.9,570.1 682.1,573.5 682.2,554.5 682.3,561.4 682.4,557.0 682.6,564.2 682.7,556.3 682.8,569.5 682.9,577.2 683.1,558.6 683.2,576.5 683.3,568.3 683.4,554.4 683.6,565.6 683.7,569.6 683.8,553.7 683.9,558.2 684.1,573.3 684.2,575.5 684.3,566.0 684.4,543.9 684.6,574.4 684.7,567.9 684.8,568.4 684.9,576.1 685.1,555.7 685.2,561.7 685.3,558.4 685.4,572.7 685.6,551.6 685.7,566.1 685.8,570.8 685.9,554.0 686.1,557.0 686.2,557.4 686.3,563.5 686.4,551.7 686.6,561.5 686.7,564.7 686.8,550.4 686.9,581.6 687.1,551.5 687.2,550.8 687.3,565.0 687.4,571.7 687.6,556.3 687.7,567.6 687.8,552.2 687.9,561.8 688.1,572.0 688.2,568.6 688.3,572.1 688.4,562.6 688.6,574.9 688.7,571.7 688.8,557.7 688.9,571.4 689.1,567.0 689.2,575.0 689.3,566.7 689.4,558.9 689.6,565.7 689.7,570.2 689.8,571.2 689.9,567.1 690.1,561.9 690.2,566.7 690.3,557.1 690.4,576.5 690.6,564.6 690.7,561.3 690.8,575.4 690.9,572.9 691.1,559.9 691.2,569.7 691.3,567.5 691.4,569.6 691.6,557.7 691.7,569.1 691.8,569.3 691.9,560.4 692.1,577.2 692.2,577.6 692.3,576.0 692.4,575.6 692.6,570.3 692.7,575.0 692.8,561.5 692.9,564.0 693.1,573.3 693.2,570.5 693.3,565.4 693.4,554.2 693.6,565.1 693.7,559.1 693.8,571.1 693.9,571.2 694.1,567.8 694.2,574.2 694.3,568.2 694.4,564.6 694.6,556.8 694.7,557.5 694.8,556.4 694.9,562.9 695.1,571.8 695.2,562.6 695.3,574.4 695.4,566.2 695.6,574.6 695.7,575.0 695.8,558.7 695.9,574.1 696.1,578.3 696.2,570.3 696.3,557.7 696.4,575.7 696.6,566.7 696.7,562.5 696.8,571.1 696.9,560.5 697.1,565.4 697.2,561.8 697.3,566.4 697.4,575.7 697.6,567.1 697.7,559.1 697.8,577.6"/><polyline fill="none" stroke="#009900" stroke-width="1.1" stroke-linejoin="miter" points="73.8,644.0 73.9,654.0 74.0,645.0 74.2,620.9 74.3,635.2 74.4,629.0 74.5,640.5 74.7,623.7 74.8,642.6 74.9,633.8 75.0,643.6 75.2,632.2 75.3,631.1 75.4,640.9 75.5,646.2 75.7,629.9 75.8,646.1 75.9,645.2 76.0,625.2 76.2,636.9 76.3,639.7 76.4,646.3 76.5,639.0 76.7,624.9 76.8,634.9 76.9,635.0 77.0,635.4 77.2,647.9 77.3,631.8 77.4,628.6 77.5,636.8 77.7,640.2 77.8,648.4 77.9,638.9 78.0,630.6 78.2,648.5 78.3,636.9 78.4,642.0 78.5,623.9 78.7,629.8 78.8,642.6 78.9,644.8 79.0,629.3 79.2,636.5 79.3,633.9 79.4,628.8 79.5,630.1 79.7,650.0 79.8,647.9 79.9,634.4 80.0,644.0 80.2,625.2 80.3,648.6 80.4,638.5 80.5,646.0 80.7,631.4 80.8,634.1 80.9,633.3 81.0,650.0 81.2,635.4 81.3,637.3 81.4,649.4 81.5,648.0 81.7,634.3 81.8,631.9 81.9,645.2 82.0,626.4 82.2,634.0 82.3,646.9 82.4,647.9 82.5,629.5 82.7,625.3 82.8,644.2 82.9,639.7 83.0,629.4 83.2,636.5 83.3,624.9 83.4,641.6 83.5,652.1 83.7,615.6 83.8,625.2 83.9,640.1 84.0,632.8 84.2,636.3 84.3,631.9 84.4,639.9 84.5,638.2 84.7,639.5 84.8,624.8 84.9,629.1 85.0,625.1 85.2,617.1 85.3,636.0 85.4,626.2 85.5,641.0 85.7,636.2 85.8,636.5 85.9,639.0 86.0,648.0 86.2,638.7 86.3,625.4 86.4,626.7 86.5,641.2 86.7,631.2 86.8,642.7 86.9,636.0 87.0,632.4 87.2,641.9 87.3,627.0 87.4,629.6 87.5,629.7 87.7,652.5 87.8,646.0 87.9,643.4 88.0,643.6 88.2,638.5 88.3,621.9 88.4,655.8 88.5,635.2 88.7,645.9 88.8,631.7 88.9,636.8 89.0,644.9 89.2,631.5 89.3,642.6 89.4,638.7 89.5,637.1 89.7,640.1 89.8,636.5 89.9,626.8 90.0,648.0 90.2,650.2 90.3,646.8 90.4,634.3 90.5,642.1 90.7,646.0 90.8,627.3 90.9,647.0 91.0,628.4 91.2,651.5 91.3,633.0 91.4,652.5 91.5,633.2 91.6,641.4 91.8,649.5 91.9,653.8 92.0,646.4 92.1,649.9 92.3,638.2 92.4,647.8 92.5,638.1 92.6,652.7 92.8,648.5 92.9,638.0 93.0,648.8 93.1,629.7 93.3,652.5 93.4,646.3 93.5,636.5 93.6,645.0 93.8,648.6 93.9,644.4 94.0,651.3 94.1,638.6 94.3,636.0 94.4,637.3 94.5,634.9 94.6,640.1 94.8,647.4 94.9,650.4 95.0,643.9 95.1,647.9 95.3,652.7 95.4,644.3 95.5,628.9 95.6,643.2 95.8,626.9 95.9,644.3 96.0,659.7 96.1,639.0 96.3,650.7 96.4,626.2 96.5,651.3 96.6,629.9 96.8,647.6 96.9,633.0 97.0,635.4 97.1,628.3 97.3,625.6 97.4,644.5 97.5,644.2 97.6,627.5 97.8,640.7 97.9,630.9 98.0,647.8 98.1,627.4 98.3,639.4 98.4,647.5 98.5,638.1 98.6,616.8 98.8,645.3 98.9,642.6 99.0,645.8 99.1,651.4 99.3,648.2 99.4,637.5 99.5,648.6 99.6,642.9 99.8,644.0 99.9,649.9 100.0,627.6 100.1,648.1 100.3,632.9 100.4,647.1 100.5,631.4 100.6,638.1 100.8,629.5 100.9,647.4 101.0,633.9 101.1,638.8 101.3,647.6 101.4,636.4 101.5,650.2 101.6,640.3 101.8,651.9 101.9,647.4 102.0,653.4 102.1,645.9 102.3,635.3 102.4,641.1 102.5,652.0 102.6,651.6 102.8,633.6 102.9,633.7 103.0,633.6 103.1,643.5 103.3,631.9 103.4,645.5 103.5,635.2 103.6,649.0 103.8,633.1 103.9,651.2 104.0,635.3 104.1,627.4 104.3,623.8 104.4,648.2 104.5,630.9 104.6,633.0 104.8,652.8 104.9,637.4 105.0,643.3 105.1,640.7 105.3,638.6 105.4,650.0 105.5,626.9 105.6,636.0 105.8,637.8 105.9,644.0 106.0,645.1 106.1,625.6 106.3,619.4 106.4,631.7 106.5,634.2 106.6,645.7 106.8,644.9 106.9,649.8 107.0,635.7 107.1,636.1 107.3,628.6 107.4,648.6 107.5,648.6 107.6,650.1 107.8,644.1 107.9,648.0 108.0,639.5 108.1,646.7 108.3,632.9 108.4,644.3 108.5,644.2 108.6,640.2 108.8,646.0 108.9,641.4 109.0,629.8 109.1,624.3 109.3,631.4 109.4,627.6 109.5,646.3 109.6,636.1 109.7,641.0 109.9,645.9 110.0,642.0 110.1,643.7 110.2,635.2 110.4,640.3 110.5,645.2 110.6,631.2 110.7,638.0 110.9,644.5 111.0,625.3 111.1,620.7 111.2,631.5 111.4,642.4 111.5,632.5 111.6,624.1 111.7,645.0 111.9,631.4 112.0,630.6 112.1,621.0 112.2,630.7 112.4,645.6 112.5,631.2 112.6,640.6 112.7,644.9 112.9,620.4 113.0,639.0 113.1,624.6 113.2,634.6 113.4,644.0 113.5,630.9 113.6,640.8 113.7,629.3 113.9,637.8 114.0,641.5 114.1,636.5 114.2,630.8 114.4,641.9 114.5,625.9 114.6,631.0 114.7,643.2 114.9,635.6 115.0,624.6 115.1,640.2 115.2,646.6 115.4,626.6 115.5,646.5 115.6,622.0 115.7,647.4 115.9,638.0 116.0,628.6 116.1,626.0 116.2,633.2 116.4,633.0 116.5,635.0 116.6,635.2 116.7,623.6 116.9,620.6 117.0,652.4 117.1,643.1 117.2,625.2 117.4,639.0 117.5,623.5 117.6,638.6 117.7,632.8 117.9,634.7 118.0,641.3 118.1,629.6 118.2,640.0 118.4,645.9 118.5,641.3 118.6,637.7 118.7,640.2 118.9,645.8 119.0,622.6 119.1,648.7 119.2,634.7 119.4,646.3 119.5,623.9 119.6,630.1 119.7,621.9 119.9,637.9 120.0,648.0 120.1,631.3 120.2,629.3 120.4,640.0 120.5,627.3 120.6,647.5 120.7,629.3 120.9,623.2 121.0,640.0 121.1,629.2 121.2,647.8 121.4,626.0 121.5,636.7 121.6,639.4 121.7,636.7 121.9,625.0 122.0,637.4 122.1,627.0 122.2,624.7 122.4,648.0 122.5,630.6 122.6,625.6 122.7,624.0 122.9,647.0 123.0,646.9 123.1,643.8 123.2,645.1 123.4,631.2 123.5,639.4 123.6,643.5 123.7,630.3 123.9,643.2 124.0,644.9 124.1,637.3 124.2,640.5 124.4,623.7 124.5,633.0 124.6,631.4 124.7,632.2 124.9,647.3 125.0,647.6 125.1,623.5 125.2,637.5 125.4,626.9 125.5,639.0 125.6,647.5 125.7,624.8 125.9,631.2 126.0,629.7 126.1,639.5 126.2,642.1 126.4,621.0 126.5,617.8 126.6,629.5 126.7,645.2 126.9,639.6 127.0,610.2 127.1,644.7 127.2,629.0 127.3,639.9 127.5,624.7 127.6,624.8 127.7,642.5 127.8,639.7 128.0,634.3 128.1,621.6 128.2,625.7 128.3,642.4 128.5,629.5 128.6,618.3 128.7,615.1 128.8,633.2 129.0,640.7 129.1,629.7 129.2,624.1 129.3,639.1 129.5,626.0 129.6,624.9 129.7,633.4 129.8,631.8 130.0,641.4 130.1,630.2 130.2,635.5 130.3,630.4 130.5,636.3 130.6,642.5 130.7,620.4 130.8,642.2 131.0,642.4 131.1,627.4 131.2,616.7 131.3,629.9 131.5,635.7 131.6,622.5 131.7,621.8 131.8,626.7 132.0,641.3 132.1,632.9 132.2,635.5 132.3,632.3 132.5,634.6 132.6,627.9 132.7,629.5 132.8,618.6 133.0,643.1 133.1,620.2 133.2,638.0 133.3,632.9 133.5,636.1 133.6,629.9 133.7,630.5 133.8,624.7 134.0,617.3 134.1,632.5 134.2,632.1 134.3,624.1 134.5,640.4 134.6,640.5 134.7,624.9 134.8,627.4 135.0,620.4 135.1,634.3 135.2,619.4 135.3,622.7 135.5,640.2 135.6,617.6 135.7,638.0 135.8,628.4 136.0,606.2 136.1,634.8 136.2,628.2 136.3,633.3 136.5,621.8 136.6,601.7 136.7,613.6 136.8,613.8 137.0,624.3 137.1,620.5 137.2,610.7 137.3,614.0 137.5,621.9 137.6,609.2 137.7,607.8 137.8,625.7 138.0,609.2 138.1,617.9 138.2,632.1 138.3,608.1 138.5,616.1 138.6,610.3 138.7,626.6 138.8,618.5 139.0,606.0 139.1,624.7 139.2,628.9 139.3,624.9 139.5,608.6 139.6,629.9 139.7,620.9 139.8,612.2 140.0,603.8 140.1,616.0 140.2,603.1 140.3,604.3 140.5,618.8 140.6,621.4 140.7,617.4 140.8,612.5 141.0,623.3 141.1,623.7 141.2,600.4 141.3,620.0 141.5,631.4 141.6,616.0 141.7,610.8 141.8,620.5 142.0,599.2 142.1,623.8 142.2,613.3 142.3,614.5 142.5,616.6 142.6,610.9 142.7,605.9 142.8,604.4 143.0,601.9 143.1,597.4 143.2,621.2 143.3,624.4 143.5,616.2 143.6,605.1 143.7,607.7 143.8,619.3 144.0,609.6 144.1,607.0 144.2,617.9 144.3,603.3 144.5,598.4 144.6,606.4 144.7,620.2 144.8,623.2 145.0,600.9 145.1,616.7 145.2,597.2 145.3,612.9 145.4,597.3 145.6,599.8 145.7,615.8 145.8,596.4 145.9,607.8 146.1,602.6 146.2,621.0 146.3,614.3 146.4,600.3 146.6,620.2 146.7,610.1 146.8,596.1 146.9,599.6 147.1,614.6 147.2,618.6 147.3,591.9 147.4,607.2 147.6,596.2 147.7,610.7 147.8,590.3 147.9,611.4 148.1,605.4 148.2,608.1 148.3,603.5 148.4,608.9 148.6,613.4 148.7,591.3 148.8,599.0 148.9,594.8 149.1,602.2 149.2,606.4 149.3,600.6 149.4,611.6 149.6,589.0 149.7,582.1 149.8,592.6 149.9,591.2 150.1,606.1 150.2,608.5 150.3,599.0 150.4,609.0 150.6,598.9 150.7,605.4 150.8,589.4 150.9,598.2 151.1,589.7 151.2,609.9 151.3,607.1 151.4,612.6 151.6,613.0 151.7,603.1 151.8,591.0 151.9,595.4 152.1,605.0 152.2,606.1 152.3,606.3 152.4,588.3 152.6,588.6 152.7,605.8 152.8,586.6 152.9,598.8 153.1,596.3 153.2,607.1 153.3,585.2 153.4,603.9 153.6,591.6 153.7,601.4 153.8,585.8 153.9,598.8 154.1,602.4 154.2,600.3 154.3,602.3 154.4,597.4 154.6,594.3 154.7,598.6 154.8,582.1 154.9,598.1 155.1,582.6 155.2,592.0 155.3,591.7 155.4,581.3 155.6,584.2 155.7,599.2 155.8,596.6 155.9,592.0 156.1,597.9 156.2,589.1 156.3,591.6 156.4,590.0 156.6,599.9 156.7,579.2 156.8,601.4 156.9,577.4 157.1,586.7 157.2,605.9 157.3,583.4 157.4,587.3 157.6,581.3 157.7,601.3 157.8,581.2 157.9,587.3 158.1,585.7 158.2,581.4 158.3,591.4 158.4,585.3 158.6,602.4 158.7,587.6 158.8,595.1 158.9,574.1 159.1,598.2 159.2,590.5 159.3,581.4 159.4,588.8 159.6,611.7 159.7,576.3 159.8,592.8 159.9,604.9 160.1,598.1 160.2,592.2 160.3,599.0 160.4,596.2 160.6,573.9 160.7,569.0 160.8,591.0 160.9,575.4 161.1,574.1 161.2,578.9 161.3,594.1 161.4,603.2 161.6,585.8 161.7,584.5 161.8,588.4 161.9,582.3 162.1,571.1 162.2,598.2 162.3,586.3 162.4,569.9 162.6,574.6 162.7,597.3 162.8,597.7 162.9,584.0 163.0,579.3 163.2,581.5 163.3,578.3 163.4,583.2 163.5,586.8 163.7,572.0 163.8,597.3 163.9,574.1 164.0,570.1 164.2,586.4 164.3,578.2 164.4,590.2 164.5,572.7 164.7,583.9 164.8,571.0 164.9,592.3 165.0,574.2 165.2,596.2 165.3,573.7 165.4,584.7 165.5,579.8 165.7,596.0 165.8,577.5 165.9,584.4 166.0,593.6 166.2,597.4 166.3,606.1 166.4,592.6 166.5,574.0 166.7,569.5 166.8,583.5 166.9,590.3 167.0,592.2 167.2,579.9 167.3,570.7 167.4,564.6 167.5,576.2 167.7,568.1 167.8,581.9 167.9,584.8 168.0,584.3 168.2,569.5 168.3,600.4 168.4,599.3 168.5,582.5 168.7,587.3 168.8,591.5 168.9,573.2 169.0,586.7 169.2,575.4 169.3,574.8 169.4,592.6 169.5,567.1 169.7,578.1 169.8,587.4 169.9,582.8 170.0,575.3 170.2,587.2 170.3,570.9 170.4,579.7 170.5,579.5 170.7,569.1 170.8,570.0 170.9,590.9 171.0,568.3 171.2,594.9 171.3,575.7 171.4,595.2 171.5,587.9 171.7,581.2 171.8,593.1 171.9,564.7 172.0,584.0 172.2,589.3 172.3,589.4 172.4,576.8 172.5,569.3 172.7,596.8 172.8,595.8 172.9,577.7 173.0,593.7 173.2,572.8 173.3,577.0 173.4,598.3 173.5,571.9 173.7,586.6 173.8,591.1 173.9,593.5 174.0,597.1 174.2,571.0 174.3,590.9 174.4,589.0 174.5,584.3 174.7,576.9 174.8,594.7 174.9,579.8 175.0,589.0 175.2,578.8 175.3,582.2 175.4,598.3 175.5,575.1 175.7,594.3 175.8,570.8 175.9,597.7 176.0,588.0 176.2,579.2 176.3,593.0 176.4,591.5 176.5,598.0 176.7,590.3 176.8,592.5 176.9,580.8 177.0,594.0 177.2,592.7 177.3,584.4 177.4,565.3 177.5,599.1 177.7,584.1 177.8,594.4 177.9,572.0 178.0,579.8 178.2,576.5 178.3,593.1 178.4,582.6 178.5,595.4 178.7,581.8 178.8,581.3 178.9,581.7 179.0,579.4 179.2,589.6 179.3,588.0 179.4,600.0 179.5,583.6 179.7,568.2 179.8,599.8 179.9,568.9 180.0,590.7 180.2,576.4 180.3,589.8 180.4,580.7 180.5,585.5 180.7,588.0 180.8,577.1 180.9,591.1 181.0,609.1 181.1,583.8 181.3,579.3 181.4,594.4 181.5,596.6 181.6,606.0 181.8,595.3 181.9,583.1 182.0,583.1 182.1,577.4 182.3,580.0 182.4,602.0 182.5,578.5 182.6,591.5 182.8,583.7 182.9,597.1 183.0,601.5 183.1,594.8 183.3,599.2 183.4,579.4 183.5,581.3 183.6,580.2 183.8,586.4 183.9,579.3 184.0,601.2 184.1,604.3 184.3,601.8 184.4,587.1 184.5,591.7 184.6,598.9 184.8,584.7 184.9,589.2 185.0,600.5 185.1,594.7 185.3,591.6 185.4,587.0 185.5,603.9 185.6,590.0 185.8,593.2 185.9,597.5 186.0,586.8 186.1,608.1 186.3,591.0 186.4,604.3 186.5,601.2 186.6,587.0 186.8,621.1 186.9,596.4 187.0,617.8 187.1,587.0 187.3,607.0 187.4,589.3 187.5,594.7 187.6,587.5 187.8,588.7 187.9,602.5 188.0,606.3 188.1,577.6 188.3,617.6 188.4,601.2 188.5,601.7 188.6,600.4 188.8,589.3 188.9,613.7 189.0,611.5 189.1,589.3 189.3,595.0 189.4,591.8 189.5,599.1 189.6,599.5 189.8,614.5 189.9,606.5 190.0,614.7 190.1,612.0 190.3,592.1 190.4,609.6 190.5,604.9 190.6,591.7 190.8,603.9 190.9,608.3 191.0,592.0 191.1,613.7 191.3,615.4 191.4,616.7 191.5,588.1 191.6,598.3 191.8,592.7 191.9,591.6 192.0,605.2 192.1,600.9 192.3,620.7 192.4,610.2 192.5,599.9 192.6,612.0 192.8,612.9 192.9,616.9 193.0,588.1 193.1,597.8 193.3,615.5 193.4,613.5 193.5,594.9 193.6,613.2 193.8,615.6 193.9,612.2 194.0,621.6 194.1,610.5 194.3,589.5 194.4,606.3 194.5,606.6 194.6,612.4 194.8,599.0 194.9,604.2 195.0,602.0 195.1,593.7 195.3,602.0 195.4,611.5 195.5,611.3 195.6,596.9 195.8,592.8 195.9,617.5 196.0,611.5 196.1,595.7 196.3,624.1 196.4,600.1 196.5,613.8 196.6,618.4 196.8,604.5 196.9,617.7 197.0,596.0 197.1,601.7 197.3,606.2 197.4,609.0 197.5,608.5 197.6,621.8 197.8,603.8 197.9,601.8 198.0,621.6 198.1,613.9 198.3,615.5 198.4,609.7 198.5,614.3 198.6,621.9 198.7,604.3 198.9,611.8 199.0,606.5 199.1,614.8 199.2,608.4 199.4,608.6 199.5,608.9 199.6,608.8 199.7,616.3 199.9,602.4 200.0,608.9 200.1,599.7 200.2,610.7 200.4,603.4 200.5,616.0 200.6,592.0 200.7,627.5 200.9,619.9 201.0,606.0 201.1,631.6 201.2,623.3 201.4,603.0 201.5,618.4 201.6,624.3 201.7,599.7 201.9,592.0 202.0,605.1 202.1,617.5 202.2,616.6 202.4,602.8 202.5,603.6 202.6,602.9 202.7,612.5 202.9,608.6 203.0,613.3 203.1,627.3 203.2,615.5 203.4,611.7 203.5,613.0 203.6,619.5 203.7,597.4 203.9,615.2 204.0,625.3 204.1,623.6 204.2,621.9 204.4,620.2 204.5,620.8 204.6,617.6 204.7,607.4 204.9,622.2 205.0,607.3 205.1,625.8 205.2,611.6 205.4,601.0 205.5,621.6 205.6,615.7 205.7,624.9 205.9,633.3 206.0,621.1 206.1,621.2 206.2,621.5 206.4,606.5 206.5,612.5 206.6,628.1 206.7,609.3 206.9,613.6 207.0,633.0 207.1,634.0 207.2,618.6 207.4,610.0 207.5,628.2 207.6,633.4 207.7,620.0 207.9,639.0 208.0,613.1 208.1,628.5 208.2,606.2 208.4,632.5 208.5,618.8 208.6,622.0 208.7,624.3 208.9,618.4 209.0,616.4 209.1,613.0 209.2,622.0 209.4,631.7 209.5,629.3 209.6,611.5 209.7,624.9 209.9,630.1 210.0,611.5 210.1,636.2 210.2,620.2 210.4,624.0 210.5,610.3 210.6,621.6 210.7,621.3 210.9,630.1 211.0,626.4 211.1,631.2 211.2,620.3 211.4,625.8 211.5,613.5 211.6,630.1 211.7,636.4 211.9,630.8 212.0,630.7 212.1,624.4 212.2,636.4 212.4,630.5 212.5,636.9 212.6,613.8 212.7,630.1 212.9,620.2 213.0,615.8 213.1,621.4 213.2,630.1 213.4,614.6 213.5,614.0 213.6,633.1 213.7,606.8 213.9,626.1 214.0,615.4 214.1,613.6 214.2,623.3 214.4,634.5 214.5,621.3 214.6,629.1 214.7,623.3 214.9,619.3 215.0,630.1 215.1,620.2 215.2,628.2 215.4,621.2 215.5,644.4 215.6,616.2 215.7,621.4 215.9,633.5 216.0,630.7 216.1,633.2 216.2,649.8 216.4,641.8 216.5,628.1 216.6,628.4 216.7,636.4 216.8,615.5 217.0,627.2 217.1,624.3 217.2,633.9 217.3,615.4 217.5,624.7 217.6,641.0 217.7,619.7 217.8,636.6 218.0,636.2 218.1,620.3 218.2,617.3 218.3,635.1 218.5,617.1 218.6,614.0 218.7,638.4 218.8,622.4 219.0,628.3 219.1,620.3 219.2,623.0 219.3,641.3 219.5,627.5 219.6,628.9 219.7,645.9 219.8,615.1 220.0,634.4 220.1,641.9 220.2,620.3 220.3,632.5 220.5,630.5 220.6,632.8 220.7,630.5 220.8,634.1 221.0,630.6 221.1,632.9 221.2,624.0 221.3,638.9 221.5,641.8 221.6,630.9 221.7,623.1 221.8,618.8 222.0,636.5 222.1,640.1 222.2,617.4 222.3,628.0 222.5,622.8 222.6,628.4 222.7,622.4 222.8,619.6 223.0,635.1 223.1,618.9 223.2,620.2 223.3,630.4 223.5,635.3 223.6,639.1 223.7,634.2 223.8,632.1 224.0,641.2 224.1,644.1 224.2,641.3 224.3,641.0 224.5,628.0 224.6,628.9 224.7,626.8 224.8,625.3 225.0,625.8 225.1,619.5 225.2,632.6 225.3,634.7 225.5,640.1 225.6,634.5 225.7,624.2 225.8,632.5 226.0,633.5 226.1,625.5 226.2,642.2 226.3,625.5 226.5,653.2 226.6,646.1 226.7,641.2 226.8,644.1 227.0,631.5 227.1,641.6 227.2,629.3 227.3,633.7 227.5,636.0 227.6,643.9 227.7,625.5 227.8,648.6 228.0,624.6 228.1,644.1 228.2,629.0 228.3,626.0 228.5,647.1 228.6,634.2 228.7,645.5 228.8,632.5 229.0,627.7 229.1,629.4 229.2,637.2 229.3,647.6 229.5,632.9 229.6,634.7 229.7,622.9 229.8,635.2 230.0,632.1 230.1,631.9 230.2,638.0 230.3,643.2 230.5,627.6 230.6,630.7 230.7,635.9 230.8,644.5 231.0,636.7 231.1,624.3 231.2,647.6 231.3,628.5 231.5,639.7 231.6,644.6 231.7,622.9 231.8,641.6 232.0,645.1 232.1,640.4 232.2,638.6 232.3,628.1 232.5,649.3 232.6,623.1 232.7,648.7 232.8,645.2 233.0,647.8 233.1,624.9 233.2,648.1 233.3,645.7 233.5,644.8 233.6,632.0 233.7,630.3 233.8,626.6 234.0,646.2 234.1,646.8 234.2,627.6 234.3,628.1 234.4,633.4 234.6,630.4 234.7,637.1 234.8,643.8 234.9,646.7 235.1,629.3 235.2,636.0 235.3,626.9 235.4,635.2 235.6,628.5 235.7,627.5 235.8,633.9 235.9,629.8 236.1,628.5 236.2,629.0 236.3,642.9 236.4,628.7 236.6,631.1 236.7,647.6 236.8,635.9 236.9,661.7 237.1,652.1 237.2,652.3 237.3,621.1 237.4,635.2 237.6,646.7 237.7,649.9 237.8,638.1 237.9,649.1 238.1,650.4 238.2,627.3 238.3,652.9 238.4,629.4 238.6,636.6 238.7,651.6 238.8,652.6 238.9,633.4 239.1,638.6 239.2,648.2 239.3,653.2 239.4,649.6 239.6,639.8 239.7,654.2 239.8,639.0 239.9,640.2 240.1,654.3 240.2,636.5 240.3,629.6 240.4,636.9 240.6,648.8 240.7,644.6 240.8,628.9 240.9,635.2 241.1,652.4 241.2,650.9 241.3,641.2 241.4,636.8 241.6,646.0 241.7,630.4 241.8,641.6 241.9,648.1 242.1,649.9 242.2,636.8 242.3,629.6 242.4,640.4 242.6,643.9 242.7,643.7 242.8,633.6 242.9,636.9 243.1,642.1 243.2,633.8 243.3,639.7 243.4,629.4 243.6,642.3 243.7,639.1 243.8,652.6 243.9,651.7 244.1,629.0 244.2,636.6 244.3,631.8 244.4,637.5 244.6,637.0 244.7,629.6 244.8,635.0 244.9,636.6 245.1,652.5 245.2,646.5 245.3,642.6 245.4,633.1 245.6,652.1 245.7,629.9 245.8,654.2 245.9,653.0 246.1,633.0 246.2,630.8 246.3,644.6 246.4,646.8 246.6,643.0 246.7,649.6 246.8,652.0 246.9,632.1 247.1,646.4 247.2,634.3 247.3,655.8 247.4,652.5 247.6,647.7 247.7,641.3 247.8,649.6 247.9,631.7 248.1,648.6 248.2,634.9 248.3,642.3 248.4,642.4 248.6,651.9 248.7,638.9 248.8,640.9 248.9,640.0 249.1,645.9 249.2,633.9 249.3,659.2 249.4,637.2 249.6,647.8 249.7,652.7 249.8,653.5 249.9,635.8 250.1,650.5 250.2,645.3 250.3,632.3 250.4,634.7 250.6,634.1 250.7,638.0 250.8,639.3 250.9,643.4 251.1,644.8 251.2,639.0 251.3,653.8 251.4,649.1 251.6,654.6 251.7,646.6 251.8,642.9 251.9,644.7 252.1,631.7 252.2,642.8 252.3,634.4 252.4,655.5 252.5,652.7 252.7,636.3 252.8,644.8 252.9,648.2 253.0,648.5 253.2,645.2 253.3,642.5 253.4,653.3 253.5,638.9 253.7,629.6 253.8,626.8 253.9,650.6 254.0,629.4 254.2,638.7 254.3,643.9 254.4,633.9 254.5,649.6 254.7,631.6 254.8,642.1 254.9,650.8 255.0,649.1 255.2,630.2 255.3,633.4 255.4,628.3 255.5,635.4 255.7,651.7 255.8,626.4 255.9,634.5 256.0,656.2 256.2,637.3 256.3,632.7 256.4,641.8 256.5,628.4 256.7,643.9 256.8,636.7 256.9,641.7 257.0,643.5 257.2,634.0 257.3,633.0 257.4,645.2 257.5,635.3 257.7,637.8 257.8,640.5 257.9,630.0 258.0,646.6 258.2,626.6 258.3,649.7 258.4,641.8 258.5,630.3 258.7,645.5 258.8,646.4 258.9,636.7 259.0,642.0 259.2,626.1 259.3,637.8 259.4,650.8 259.5,625.8 259.7,635.7 259.8,645.4 259.9,632.7 260.0,626.3 260.2,636.8 260.3,650.2 260.4,647.6 260.5,651.3 260.7,617.9 260.8,632.3 260.9,650.9 261.0,651.8 261.2,638.8 261.3,626.7 261.4,641.9 261.5,650.2 261.7,636.6 261.8,651.3 261.9,627.3 262.0,647.4 262.2,629.3 262.3,651.3 262.4,640.0 262.5,647.3 262.7,628.4 262.8,659.0 262.9,630.4 263.0,639.6 263.2,641.7 263.3,649.0 263.4,638.9 263.5,630.6 263.7,645.3 263.8,628.6 263.9,630.7 264.0,641.3 264.2,640.9 264.3,629.7 264.4,630.4 264.5,648.4 264.7,645.3 264.8,637.1 264.9,650.3 265.0,632.0 265.2,648.7 265.3,630.2 265.4,651.1 265.5,642.2 265.7,636.8 265.8,632.4 265.9,629.5 266.0,636.7 266.2,646.0 266.3,643.5 266.4,639.0 266.5,631.9 266.7,650.3 266.8,632.7 266.9,632.7 267.0,645.1 267.2,641.2 267.3,635.4 267.4,633.6 267.5,650.5 267.7,638.1 267.8,627.1 267.9,632.9 268.0,650.1 268.2,626.9 268.3,639.1 268.4,623.9 268.5,644.6 268.7,633.6 268.8,643.5 268.9,616.0 269.0,638.9 269.2,624.0 269.3,629.8 269.4,633.3 269.5,642.5 269.7,628.7 269.8,626.2 269.9,626.6 270.0,634.4 270.1,641.4 270.3,646.4 270.4,635.8 270.5,642.7 270.6,645.4 270.8,636.1 270.9,644.8 271.0,633.2 271.1,633.3 271.3,633.1 271.4,649.9 271.5,620.8 271.6,637.6 271.8,618.8 271.9,631.5 272.0,644.2 272.1,627.4 272.3,636.2 272.4,627.1 272.5,625.5 272.6,634.5 272.8,637.6 272.9,621.1 273.0,633.8 273.1,623.5 273.3,615.4 273.4,626.8 273.5,633.3 273.6,626.2 273.8,632.4 273.9,633.1 274.0,626.5 274.1,631.7 274.3,624.1 274.4,640.7 274.5,633.8 274.6,614.3 274.8,637.8 274.9,636.9 275.0,637.7 275.1,626.9 275.3,615.8 275.4,633.7 275.5,624.9 275.6,625.4 275.8,618.7 275.9,640.8 276.0,626.0 276.1,618.7 276.3,627.2 276.4,636.8 276.5,631.5 276.6,636.7 276.8,637.4 276.9,637.4 277.0,635.4 277.1,633.2 277.3,627.2 277.4,628.9 277.5,625.7 277.6,620.6 277.8,632.3 277.9,612.5 278.0,634.5 278.1,611.0 278.3,620.9 278.4,622.2 278.5,630.5 278.6,627.4 278.8,616.6 278.9,633.3 279.0,633.6 279.1,621.0 279.3,625.6 279.4,634.3 279.5,623.8 279.6,631.8 279.8,608.4 279.9,610.4 280.0,632.1 280.1,619.2 280.3,620.6 280.4,619.1 280.5,614.8 280.6,619.5 280.8,633.4 280.9,633.8 281.0,609.6 281.1,621.1 281.3,620.0 281.4,609.6 281.5,612.6 281.6,613.4 281.8,609.9 281.9,627.1 282.0,629.2 282.1,622.7 282.3,632.2 282.4,631.9 282.5,610.8 282.6,621.8 282.8,611.5 282.9,619.8 283.0,617.1 283.1,619.7 283.3,630.6 283.4,627.4 283.5,612.5 283.6,604.5 283.8,621.8 283.9,614.3 284.0,620.7 284.1,614.7 284.3,606.9 284.4,607.7 284.5,610.8 284.6,624.5 284.8,611.5 284.9,630.2 285.0,624.2 285.1,627.5 285.3,615.3 285.4,615.3 285.5,603.1 285.6,619.3 285.8,626.9 285.9,604.7 286.0,632.6 286.1,625.5 286.3,625.0 286.4,622.1 286.5,613.5 286.6,609.8 286.8,610.1 286.9,606.1 287.0,622.1 287.1,614.3 287.3,624.7 287.4,629.0 287.5,604.8 287.6,613.0 287.7,621.7 287.9,619.8 288.0,623.9 288.1,631.9 288.2,612.4 288.4,621.1 288.5,609.8 288.6,620.7 288.7,620.4 288.9,608.9 289.0,617.1 289.1,632.1 289.2,623.9 289.4,622.3 289.5,623.0 289.6,631.9 289.7,613.4 289.9,626.0 290.0,613.2 290.1,633.5 290.2,622.7 290.4,619.1 290.5,622.5 290.6,630.7 290.7,636.7 290.9,634.2 291.0,640.1 291.1,620.9 291.2,618.6 291.4,629.1 291.5,616.8 291.6,618.9 291.7,631.8 291.9,638.2 292.0,634.4 292.1,615.8 292.2,641.1 292.4,636.9 292.5,631.9 292.6,632.5 292.7,625.4 292.9,623.8 293.0,635.6 293.1,620.0 293.2,639.3 293.4,631.1 293.5,633.8 293.6,634.9 293.7,641.7 293.9,617.6 294.0,631.7 294.1,620.2 294.2,621.1 294.4,644.3 294.5,618.8 294.6,620.9 294.7,641.7 294.9,635.5 295.0,621.5 295.1,644.7 295.2,633.7 295.4,645.8 295.5,622.0 295.6,637.9 295.7,623.1 295.9,624.2 296.0,627.1 296.1,629.7 296.2,629.8 296.4,628.2 296.5,626.5 296.6,625.6 296.7,632.3 296.9,629.7 297.0,623.6 297.1,624.7 297.2,635.0 297.4,628.8 297.5,625.6 297.6,644.4 297.7,628.5 297.9,644.3 298.0,630.9 298.1,624.3 298.2,634.7 298.4,630.3 298.5,624.1 298.6,624.5 298.7,629.1 298.9,644.4 299.0,632.6 299.1,655.8 299.2,631.9 299.4,630.2 299.5,647.4 299.6,649.3 299.7,630.8 299.9,644.8 300.0,632.2 300.1,631.9 300.2,642.5 300.4,640.3 300.5,639.8 300.6,645.4 300.7,624.2 300.9,648.2 301.0,637.4 301.1,648.7 301.2,646.5 301.4,637.7 301.5,636.1 301.6,646.6 301.7,646.0 301.9,628.7 302.0,625.6 302.1,634.5 302.2,635.5 302.4,627.0 302.5,647.0 302.6,650.7 302.7,640.8 302.9,635.8 303.0,630.6 303.1,628.7 303.2,639.8 303.4,627.6 303.5,642.6 303.6,627.9 303.7,649.5 303.9,624.0 304.0,641.1 304.1,648.0 304.2,651.3 304.4,629.9 304.5,632.2 304.6,649.6 304.7,632.3 304.9,636.1 305.0,639.9 305.1,646.5 305.2,642.1 305.4,642.5 305.5,633.0 305.6,650.3 305.7,645.1 305.8,654.8 306.0,644.2 306.1,649.3 306.2,663.5 306.3,644.7 306.5,638.0 306.6,633.0 306.7,656.1 306.8,655.2 307.0,637.3 307.1,647.1 307.2,651.2 307.3,635.6 307.5,637.4 307.6,653.4 307.7,641.8 307.8,644.3 308.0,650.6 308.1,643.8 308.2,646.2 308.3,639.6 308.5,654.4 308.6,652.9 308.7,642.5 308.8,651.3 309.0,654.6 309.1,654.6 309.2,632.4 309.3,644.7 309.5,646.7 309.6,639.0 309.7,641.0 309.8,642.2 310.0,644.4 310.1,648.1 310.2,652.0 310.3,652.4 310.5,650.6 310.6,647.7 310.7,635.4 310.8,642.7 311.0,629.7 311.1,629.0 311.2,635.6 311.3,642.9 311.5,642.6 311.6,643.8 311.7,654.3 311.8,649.5 312.0,639.1 312.1,637.6 312.2,642.7 312.3,641.3 312.5,639.6 312.6,649.8 312.7,648.1 312.8,637.5 313.0,634.3 313.1,647.4 313.2,649.9 313.3,644.3 313.5,651.4 313.6,647.4 313.7,645.3 313.8,638.9 314.0,643.1 314.1,648.2 314.2,655.0 314.3,644.9 314.5,633.5 314.6,640.5 314.7,651.4 314.8,649.3 315.0,630.2 315.1,647.5 315.2,655.9 315.3,640.3 315.5,653.0 315.6,644.5 315.7,641.1 315.8,657.1 316.0,643.2 316.1,641.9 316.2,658.0 316.3,642.0 316.5,637.7 316.6,634.4 316.7,652.1 316.8,651.6 317.0,640.0 317.1,647.4 317.2,647.5 317.3,653.3 317.5,631.8 317.6,640.2 317.7,631.6 317.8,635.0 318.0,644.7 318.1,645.3 318.2,637.9 318.3,632.8 318.5,654.8 318.6,636.0 318.7,654.3 318.8,654.3 319.0,647.9 319.1,635.8 319.2,635.7 319.3,630.7 319.5,644.6 319.6,646.7 319.7,644.0 319.8,641.7 320.0,637.8 320.1,640.2 320.2,631.2 320.3,639.7 320.5,628.9 320.6,657.5 320.7,630.7 320.8,648.9 321.0,633.5 321.1,644.5 321.2,640.5 321.3,632.3 321.5,646.1 321.6,642.5 321.7,645.9 321.8,633.6 322.0,614.6 322.1,623.0 322.2,636.0 322.3,623.5 322.5,646.3 322.6,621.4 322.7,642.1 322.8,641.6 323.0,632.6 323.1,644.8 323.2,618.4 323.3,634.7 323.4,635.2 323.6,632.7 323.7,634.2 323.8,625.9 323.9,628.3 324.1,639.9 324.2,640.7 324.3,614.4 324.4,620.0 324.6,624.7 324.7,621.4 324.8,611.6 324.9,627.0 325.1,615.3 325.2,633.8 325.3,632.0 325.4,617.8 325.6,627.9 325.7,623.3 325.8,618.6 325.9,624.7 326.1,612.8 326.2,613.9 326.3,625.3 326.4,616.6 326.6,611.3 326.7,619.4 326.8,604.9 326.9,608.5 327.1,612.6 327.2,628.5 327.3,621.6 327.4,620.9 327.6,623.7 327.7,615.5 327.8,626.4 327.9,605.0 328.1,626.0 328.2,601.0 328.3,607.0 328.4,626.0 328.6,602.3 328.7,597.9 328.8,613.0 328.9,603.3 329.1,599.2 329.2,598.9 329.3,604.7 329.4,605.1 329.6,623.0 329.7,600.0 329.8,618.4 329.9,605.1 330.1,599.0 330.2,596.1 330.3,619.5 330.4,632.6 330.6,601.3 330.7,608.3 330.8,624.6 330.9,606.8 331.1,600.4 331.2,612.3 331.3,610.8 331.4,613.1 331.6,601.4 331.7,610.9 331.8,617.9 331.9,607.6 332.1,625.0 332.2,618.1 332.3,609.7 332.4,609.6 332.6,601.4 332.7,618.8 332.8,614.4 332.9,617.8 333.1,621.5 333.2,601.9 333.3,600.1 333.4,602.1 333.6,597.2 333.7,604.2 333.8,606.1 333.9,611.7 334.1,594.4 334.2,614.8 334.3,602.5 334.4,607.6 334.6,615.3 334.7,608.6 334.8,598.0 334.9,610.0 335.1,599.2 335.2,595.3 335.3,620.4 335.4,604.4 335.6,609.7 335.7,603.9 335.8,611.9 335.9,604.2 336.1,618.7 336.2,602.0 336.3,621.4 336.4,606.0 336.6,600.8 336.7,601.0 336.8,615.1 336.9,613.5 337.1,621.0 337.2,604.3 337.3,625.7 337.4,621.5 337.6,628.2 337.7,613.2 337.8,608.5 337.9,622.8 338.1,628.0 338.2,611.3 338.3,610.0 338.4,607.9 338.6,624.3 338.7,599.7 338.8,621.2 338.9,617.9 339.1,608.4 339.2,616.9 339.3,616.9 339.4,617.8 339.6,633.5 339.7,632.4 339.8,626.6 339.9,634.1 340.1,634.7 340.2,635.6 340.3,630.8 340.4,625.6 340.6,615.6 340.7,616.0 340.8,628.8 340.9,612.3 341.1,614.7 341.2,619.9 341.3,629.4 341.4,640.2 341.5,627.2 341.7,620.6 341.8,624.2 341.9,619.3 342.0,622.4 342.2,637.2 342.3,619.8 342.4,622.0 342.5,634.5 342.7,622.1 342.8,636.4 342.9,646.0 343.0,646.1 343.2,621.3 343.3,640.2 343.4,639.4 343.5,633.9 343.7,629.8 343.8,634.9 343.9,630.6 344.0,623.7 344.2,643.8 344.3,645.8 344.4,649.7 344.5,626.9 344.7,641.1 344.8,647.4 344.9,636.5 345.0,651.6 345.2,633.1 345.3,634.2 345.4,648.0 345.5,630.5 345.7,633.1 345.8,643.3 345.9,643.4 346.0,647.1 346.2,634.5 346.3,642.8 346.4,647.9 346.5,624.3 346.7,638.2 346.8,644.8 346.9,652.3 347.0,635.7 347.2,653.6 347.3,643.8 347.4,649.0 347.5,647.9 347.7,655.6 347.8,651.8 347.9,644.5 348.0,635.3 348.2,655.6 348.3,656.0 348.4,647.3 348.5,649.3 348.7,640.3 348.8,652.5 348.9,643.6 349.0,649.9 349.2,659.0 349.3,659.1 349.4,636.6 349.5,643.5 349.7,652.5 349.8,647.0 349.9,651.5 350.0,638.9 350.2,648.7 350.3,660.1 350.4,639.8 350.5,645.9 350.7,657.8 350.8,647.9 350.9,638.3 351.0,643.0 351.2,657.6 351.3,648.4 351.4,647.0 351.5,642.6 351.7,638.0 351.8,639.4 351.9,656.7 352.0,647.2 352.2,641.9 352.3,664.2 352.4,646.4 352.5,643.6 352.7,650.5 352.8,641.5 352.9,643.3 353.0,658.3 353.2,663.6 353.3,631.8 353.4,654.0 353.5,644.4 353.7,665.3 353.8,653.8 353.9,653.4 354.0,658.9 354.2,657.5 354.3,660.1 354.4,647.7 354.5,657.9 354.7,649.9 354.8,649.7 354.9,663.3 355.0,642.4 355.2,642.8 355.3,659.4 355.4,641.8 355.5,661.6 355.7,659.3 355.8,645.0 355.9,648.6 356.0,655.3 356.2,657.5 356.3,648.2 356.4,633.7 356.5,658.3 356.7,641.0 356.8,657.0 356.9,661.1 357.0,653.5 357.2,660.3 357.3,656.9 357.4,640.9 357.5,660.1 357.7,639.5 357.8,642.2 357.9,661.3 358.0,656.9 358.2,645.8 358.3,656.6 358.4,647.8 358.5,643.3 358.7,645.9 358.8,646.2 358.9,659.7 359.0,652.9 359.1,655.1 359.3,662.4 359.4,643.3 359.5,659.1 359.6,640.5 359.8,649.9 359.9,650.7 360.0,641.0 360.1,642.3 360.3,653.9 360.4,650.2 360.5,632.4 360.6,644.2 360.8,666.4 360.9,655.6 361.0,651.5 361.1,635.0 361.3,643.6 361.4,650.5 361.5,642.3 361.6,649.6 361.8,646.9 361.9,652.7 362.0,643.4 362.1,639.4 362.3,637.7 362.4,652.2 362.5,656.0 362.6,644.5 362.8,640.0 362.9,669.4 363.0,653.7 363.1,660.4 363.3,657.9 363.4,648.6 363.5,645.6 363.6,649.3 363.8,641.9 363.9,643.8 364.0,639.0 364.1,640.4 364.3,647.3 364.4,663.1 364.5,652.0 364.6,640.3 364.8,663.3 364.9,650.6 365.0,648.7 365.1,660.7 365.3,650.8 365.4,649.0 365.5,641.4 365.6,662.9 365.8,635.7 365.9,660.1 366.0,650.8 366.1,663.8 366.3,653.7 366.4,654.3 366.5,665.4 366.6,658.8 366.8,644.8 366.9,660.8 367.0,639.1 367.1,646.7 367.3,656.5 367.4,659.1 367.5,667.0 367.6,652.1 367.8,654.5 367.9,649.6 368.0,662.9 368.1,661.7 368.3,665.5 368.4,657.7 368.5,648.8 368.6,643.0 368.8,661.4 368.9,640.1 369.0,640.1 369.1,651.1 369.3,660.7 369.4,643.3 369.5,661.8 369.6,656.4 369.8,660.0 369.9,641.6 370.0,653.9 370.1,650.2 370.3,653.6 370.4,647.3 370.5,646.4 370.6,641.9 370.8,656.3 370.9,640.7 371.0,640.0 371.1,642.8 371.3,649.3 371.4,649.3 371.5,650.4 371.6,645.7 371.8,653.0 371.9,659.7 372.0,642.6 372.1,656.0 372.3,654.7 372.4,652.0 372.5,639.7 372.6,651.2 372.8,655.0 372.9,648.8 373.0,649.2 373.1,645.6 373.3,654.4 373.4,657.1 373.5,654.0 373.6,652.0 373.8,649.0 373.9,655.8 374.0,657.5 374.1,663.9 374.3,665.2 374.4,662.5 374.5,658.2 374.6,665.0 374.8,642.4 374.9,655.5 375.0,642.0 375.1,671.4 375.3,640.6 375.4,653.4 375.5,644.6 375.6,658.4 375.8,640.0 375.9,658.8 376.0,656.4 376.1,658.9 376.3,659.3 376.4,664.7 376.5,662.9 376.6,659.4 376.8,659.8 376.9,644.4 377.0,655.8 377.1,657.2 377.2,654.1 377.4,647.0 377.5,663.0 377.6,662.7 377.7,663.1 377.9,661.7 378.0,652.1 378.1,648.3 378.2,656.9 378.4,662.3 378.5,648.7 378.6,666.2 378.7,663.2 378.9,659.7 379.0,657.5 379.1,642.5 379.2,644.1 379.4,660.7 379.5,658.7 379.6,651.6 379.7,660.5 379.9,651.5 380.0,651.0 380.1,643.3 380.2,664.0 380.4,642.0 380.5,661.3 380.6,662.6 380.7,647.2 380.9,662.1 381.0,666.3 381.1,656.5 381.2,650.6 381.4,651.0 381.5,660.3 381.6,642.5 381.7,646.8 381.9,640.8 382.0,659.0 382.1,664.8 382.2,661.3 382.4,664.9 382.5,641.7 382.6,659.6 382.7,663.5 382.9,655.8 383.0,648.7 383.1,660.6 383.2,654.5 383.4,652.6 383.5,663.9 383.6,662.0 383.7,650.5 383.9,657.0 384.0,653.8 384.1,657.9 384.2,658.3 384.4,663.0 384.5,660.2 384.6,663.9 384.7,643.7 384.9,656.5 385.0,646.4 385.1,664.7 385.2,647.3 385.4,651.2 385.5,652.8 385.6,645.5 385.7,657.3 385.9,661.8 386.0,673.8 386.1,664.0 386.2,662.9 386.4,641.6 386.5,650.7 386.6,655.3 386.7,656.3 386.9,663.6 387.0,645.0 387.1,649.4 387.2,649.8 387.4,651.3 387.5,661.6 387.6,643.8 387.7,651.8 387.9,663.2 388.0,643.3 388.1,650.7 388.2,662.8 388.4,653.5 388.5,653.1 388.6,648.5 388.7,653.9 388.9,638.7 389.0,660.4 389.1,638.5 389.2,658.0 389.4,653.2 389.5,652.4 389.6,645.3 389.7,656.5 389.9,646.2 390.0,657.5 390.1,663.4 390.2,648.0 390.4,658.1 390.5,641.7 390.6,655.1 390.7,644.9 390.9,651.7 391.0,640.0 391.1,634.9 391.2,654.3 391.4,662.6 391.5,657.9 391.6,642.4 391.7,649.7 391.9,659.5 392.0,640.9 392.1,659.3 392.2,640.2 392.4,660.3 392.5,669.0 392.6,658.8 392.7,664.1 392.9,648.9 393.0,652.1 393.1,650.3 393.2,642.9 393.4,653.4 393.5,652.7 393.6,652.6 393.7,659.4 393.9,664.5 394.0,663.3 394.1,638.6 394.2,663.3 394.4,653.9 394.5,647.2 394.6,646.8 394.7,660.3 394.8,666.0 395.0,658.2 395.1,658.5 395.2,651.9 395.3,648.7 395.5,662.2 395.6,643.7 395.7,665.6 395.8,655.2 396.0,664.8 396.1,653.1 396.2,642.1 396.3,649.1 396.5,649.3 396.6,656.4 396.7,645.0 396.8,636.6 397.0,658.0 397.1,663.5 397.2,661.9 397.3,650.4 397.5,639.8 397.6,647.8 397.7,661.3 397.8,652.3 398.0,652.8 398.1,650.5 398.2,645.8 398.3,661.0 398.5,650.9 398.6,651.2 398.7,641.3 398.8,645.4 399.0,646.0 399.1,642.1 399.2,654.1 399.3,649.3 399.5,645.0 399.6,661.0 399.7,650.2 399.8,673.3 400.0,660.9 400.1,654.6 400.2,663.8 400.3,664.2 400.5,641.4 400.6,649.5 400.7,655.0 400.8,643.0 401.0,665.1 401.1,648.1 401.2,658.4 401.3,665.6 401.5,654.9 401.6,659.8 401.7,655.7 401.8,650.1 402.0,646.8 402.1,645.9 402.2,659.8 402.3,647.7 402.5,665.6 402.6,656.1 402.7,653.6 402.8,642.4 403.0,665.4 403.1,658.2 403.2,639.8 403.3,655.3 403.5,649.7 403.6,652.3 403.7,642.7 403.8,661.0 404.0,665.9 404.1,664.4 404.2,650.5 404.3,646.1 404.5,660.2 404.6,666.4 404.7,662.4 404.8,656.6 405.0,666.2 405.1,643.6 405.2,646.8 405.3,664.2 405.5,664.0 405.6,649.9 405.7,658.2 405.8,653.2 406.0,640.4 406.1,667.3 406.2,644.2 406.3,643.6 406.5,659.4 406.6,655.9 406.7,642.5 406.8,665.8 407.0,664.4 407.1,642.5 407.2,642.8 407.3,659.3 407.5,642.9 407.6,650.8 407.7,643.6 407.8,660.1 408.0,654.4 408.1,650.8 408.2,652.8 408.3,663.6 408.5,652.5 408.6,648.5 408.7,664.0 408.8,646.6 409.0,658.1 409.1,664.5 409.2,654.4 409.3,659.3 409.5,650.6 409.6,657.7 409.7,677.3 409.8,657.4 410.0,647.9 410.1,654.0 410.2,661.0 410.3,650.7 410.5,660.0 410.6,661.9 410.7,648.7 410.8,656.9 411.0,664.8 411.1,658.4 411.2,656.0 411.3,644.3 411.5,651.6 411.6,663.3 411.7,669.4 411.8,646.3 412.0,647.8 412.1,651.7 412.2,648.4 412.3,650.7 412.5,645.9 412.6,649.5 412.7,656.9 412.8,653.5 412.9,649.5 413.1,648.9 413.2,658.9 413.3,653.2 413.4,647.0 413.6,660.2 413.7,657.3 413.8,655.2 413.9,643.6 414.1,667.2 414.2,656.8 414.3,637.1 414.4,663.8 414.6,639.9 414.7,653.0 414.8,657.4 414.9,663.8 415.1,660.4 415.2,666.4 415.3,663.4 415.4,654.0 415.6,660.0 415.7,665.7 415.8,647.2 415.9,656.1 416.1,652.0 416.2,654.8 416.3,664.7 416.4,655.8 416.6,653.1 416.7,642.9 416.8,645.9 416.9,656.5 417.1,649.7 417.2,663.3 417.3,653.4 417.4,663.6 417.6,655.8 417.7,646.5 417.8,632.4 417.9,647.9 418.1,646.0 418.2,652.0 418.3,659.5 418.4,645.6 418.6,642.8 418.7,666.4 418.8,665.6 418.9,658.4 419.1,647.7 419.2,655.3 419.3,642.9 419.4,655.1 419.6,651.0 419.7,661.0 419.8,656.4 419.9,656.5 420.1,643.1 420.2,645.1 420.3,650.5 420.4,662.8 420.6,661.2 420.7,646.1 420.8,651.3 420.9,655.4 421.1,647.8 421.2,661.8 421.3,649.1 421.4,650.2 421.6,653.5 421.7,663.0 421.8,657.9 421.9,653.6 422.1,660.9 422.2,648.5 422.3,666.7 422.4,654.1 422.6,652.8 422.7,668.3 422.8,649.7 422.9,657.9 423.1,646.9 423.2,645.3 423.3,652.6 423.4,644.1 423.6,657.3 423.7,660.3 423.8,646.8 423.9,655.2 424.1,651.6 424.2,657.2 424.3,648.6 424.4,649.7 424.6,639.7 424.7,669.0 424.8,669.0 424.9,668.9 425.1,668.2 425.2,667.6 425.3,658.5 425.4,664.8 425.6,646.3 425.7,645.5 425.8,647.1 425.9,655.5 426.1,663.4 426.2,665.8 426.3,645.3 426.4,655.1 426.6,651.8 426.7,644.8 426.8,647.0 426.9,668.1 427.1,661.6 427.2,645.6 427.3,645.1 427.4,656.3 427.6,664.3 427.7,663.2 427.8,664.0 427.9,662.4 428.1,645.0 428.2,647.4 428.3,656.2 428.4,647.8 428.6,665.6 428.7,656.3 428.8,667.2 428.9,644.4 429.1,660.3 429.2,665.7 429.3,644.1 429.4,644.1 429.6,656.2 429.7,635.4 429.8,658.6 429.9,659.8 430.1,647.8 430.2,661.1 430.3,643.9 430.4,664.6 430.5,663.0 430.7,657.9 430.8,647.9 430.9,672.1 431.0,646.4 431.2,652.6 431.3,666.5 431.4,658.7 431.5,651.8 431.7,648.4 431.8,653.8 431.9,643.7 432.0,644.2 432.2,649.9 432.3,655.4 432.4,655.3 432.5,646.3 432.7,643.1 432.8,647.0 432.9,668.8 433.0,644.1 433.2,658.9 433.3,653.6 433.4,656.2 433.5,655.2 433.7,656.1 433.8,650.0 433.9,668.1 434.0,667.1 434.2,653.1 434.3,662.7 434.4,654.0 434.5,660.8 434.7,667.3 434.8,664.7 434.9,654.1 435.0,655.4 435.2,654.7 435.3,659.5 435.4,665.0 435.5,644.3 435.7,643.6 435.8,659.8 435.9,643.7 436.0,666.6 436.2,661.1 436.3,651.3 436.4,650.9 436.5,649.3 436.7,657.3 436.8,664.2 436.9,660.1 437.0,663.7 437.2,649.0 437.3,655.3 437.4,666.6 437.5,660.8 437.7,657.6 437.8,660.5 437.9,666.6 438.0,646.3 438.2,661.3 438.3,646.1 438.4,650.8 438.5,664.9 438.7,656.4 438.8,647.6 438.9,646.2 439.0,655.3 439.2,652.8 439.3,652.9 439.4,665.8 439.5,650.5 439.7,652.2 439.8,647.8 439.9,641.3 440.0,647.5 440.2,656.8 440.3,661.3 440.4,648.1 440.5,648.5 440.7,648.9 440.8,645.8 440.9,657.2 441.0,647.1 441.2,645.2 441.3,653.5 441.4,663.7 441.5,650.0 441.7,646.4 441.8,644.5 441.9,661.2 442.0,667.6 442.2,651.0 442.3,660.6 442.4,645.9 442.5,653.9 442.7,662.9 442.8,650.2 442.9,654.8 443.0,667.8 443.2,659.8 443.3,637.6 443.4,638.5 443.5,646.6 443.7,650.5 443.8,656.6 443.9,652.9 444.0,658.7 444.2,668.5 444.3,652.3 444.4,654.0 444.5,657.3 444.7,650.5 444.8,656.2 444.9,650.0 445.0,644.9 445.2,652.4 445.3,661.1 445.4,647.8 445.5,665.9 445.7,662.4 445.8,646.9 445.9,654.6 446.0,660.8 446.2,655.7 446.3,677.2 446.4,668.9 446.5,657.6 446.7,642.4 446.8,647.6 446.9,661.9 447.0,660.6 447.2,646.8 447.3,659.2 447.4,648.9 447.5,662.2 447.7,652.2 447.8,645.6 447.9,677.2 448.0,657.3 448.2,647.5 448.3,669.5 448.4,666.5 448.5,656.4 448.6,662.2 448.8,665.1 448.9,659.4 449.0,665.1 449.1,647.2 449.3,668.4 449.4,662.8 449.5,658.3 449.6,666.0 449.8,655.7 449.9,658.2 450.0,657.9 450.1,661.3 450.3,646.8 450.4,663.2 450.5,664.9 450.6,644.6 450.8,653.1 450.9,660.4 451.0,644.6 451.1,658.4 451.3,665.2 451.4,664.0 451.5,651.5 451.6,647.0 451.8,644.9 451.9,649.4 452.0,653.8 452.1,647.3 452.3,651.5 452.4,655.8 452.5,658.0 452.6,650.0 452.8,650.9 452.9,667.3 453.0,659.5 453.1,649.9 453.3,664.0 453.4,666.3 453.5,657.1 453.6,658.8 453.8,666.9 453.9,667.5 454.0,651.4 454.1,647.9 454.3,648.4 454.4,654.8 454.5,643.8 454.6,661.7 454.8,659.8 454.9,660.5 455.0,662.8 455.1,665.1 455.3,664.1 455.4,665.7 455.5,653.7 455.6,658.8 455.8,648.1 455.9,648.6 456.0,656.2 456.1,655.5 456.3,644.9 456.4,668.1 456.5,665.1 456.6,636.9 456.8,666.9 456.9,654.0 457.0,653.0 457.1,644.5 457.3,658.5 457.4,663.6 457.5,658.6 457.6,644.3 457.8,654.4 457.9,650.7 458.0,652.3 458.1,661.3 458.3,655.3 458.4,661.2 458.5,646.6 458.6,646.3 458.8,663.3 458.9,668.4 459.0,666.5 459.1,648.2 459.3,657.5 459.4,654.0 459.5,657.0 459.6,668.5 459.8,652.3 459.9,668.5 460.0,666.9 460.1,651.0 460.3,666.1 460.4,670.5 460.5,666.8 460.6,647.7 460.8,649.6 460.9,656.6 461.0,652.5 461.1,668.5 461.3,646.3 461.4,664.8 461.5,667.0 461.6,662.1 461.8,646.6 461.9,669.1 462.0,649.0 462.1,648.5 462.3,647.8 462.4,666.9 462.5,651.0 462.6,659.9 462.8,646.5 462.9,660.5 463.0,648.6 463.1,672.3 463.3,655.0 463.4,654.3 463.5,671.4 463.6,655.1 463.8,637.4 463.9,662.2 464.0,660.9 464.1,659.6 464.3,667.9 464.4,651.9 464.5,669.4 464.6,665.9 464.8,665.9 464.9,666.9 465.0,662.8 465.1,653.0 465.3,659.2 465.4,663.5 465.5,646.3 465.6,646.0 465.8,656.2 465.9,675.3 466.0,669.0 466.1,677.5 466.2,650.7 466.4,665.6 466.5,645.5 466.6,646.8 466.7,656.3 466.9,642.4 467.0,651.3 467.1,651.8 467.2,653.6 467.4,650.0 467.5,644.6 467.6,660.8 467.7,658.8 467.9,667.1 468.0,646.7 468.1,646.7 468.2,669.2 468.4,664.8 468.5,654.1 468.6,648.4 468.7,648.2 468.9,666.4 469.0,647.6 469.1,662.3 469.2,664.8 469.4,650.4 469.5,649.6 469.6,662.3 469.7,650.5 469.9,657.7 470.0,655.6 470.1,658.3 470.2,669.7 470.4,646.4 470.5,658.4 470.6,655.2 470.7,664.5 470.9,664.2 471.0,667.0 471.1,662.1 471.2,656.4 471.4,670.4 471.5,667.0 471.6,676.4 471.7,658.7 471.9,655.5 472.0,665.7 472.1,670.4 472.2,653.6 472.4,656.2 472.5,656.2 472.6,660.8 472.7,652.6 472.9,651.0 473.0,669.2 473.1,647.7 473.2,647.7 473.4,670.2 473.5,653.9 473.6,653.4 473.7,649.0 473.9,652.0 474.0,657.9 474.1,671.9 474.2,650.2 474.4,671.1 474.5,658.0 474.6,651.6 474.7,650.3 474.9,666.5 475.0,671.3 475.1,651.6 475.2,657.0 475.4,665.9 475.5,648.5 475.6,660.2 475.7,664.4 475.9,667.9 476.0,663.6 476.1,653.4 476.2,647.4 476.4,652.5 476.5,646.5 476.6,659.1 476.7,665.8 476.9,662.6 477.0,660.9 477.1,657.7 477.2,669.6 477.4,647.9 477.5,666.5 477.6,647.4 477.7,655.8 477.9,672.7 478.0,648.1 478.1,650.2 478.2,660.5 478.4,664.4 478.5,667.4 478.6,657.3 478.7,670.2 478.9,675.5 479.0,649.2 479.1,664.8 479.2,669.7 479.4,648.4 479.5,674.1 479.6,668.1 479.7,659.9 479.9,651.1 480.0,671.0 480.1,656.7 480.2,655.8 480.4,653.8 480.5,662.1 480.6,656.2 480.7,660.8 480.9,650.0 481.0,651.3 481.1,667.9 481.2,666.1 481.4,670.5 481.5,668.7 481.6,667.1 481.7,650.8 481.9,660.0 482.0,670.7 482.1,659.0 482.2,663.4 482.4,673.0 482.5,660.2 482.6,662.9 482.7,665.9 482.9,648.7 483.0,670.1 483.1,666.9 483.2,671.6 483.4,668.4 483.5,670.3 483.6,669.6 483.7,650.3 483.9,650.5 484.0,653.8 484.1,655.9 484.2,647.2 484.3,675.0 484.5,660.3 484.6,665.0 484.7,658.2 484.8,649.8 485.0,656.1 485.1,646.7 485.2,654.0 485.3,665.1 485.5,648.6 485.6,664.8 485.7,648.4 485.8,662.1 486.0,650.4 486.1,662.5 486.2,670.9 486.3,652.8 486.5,660.0 486.6,664.4 486.7,652.3 486.8,656.4 487.0,656.3 487.1,666.4 487.2,658.1 487.3,649.8 487.5,647.1 487.6,658.3 487.7,646.9 487.8,652.8 488.0,650.0 488.1,655.2 488.2,675.7 488.3,642.4 488.5,642.5 488.6,664.9 488.7,660.5 488.8,661.7 489.0,646.4 489.1,645.9 489.2,664.3 489.3,643.4 489.5,647.3 489.6,667.4 489.7,651.5 489.8,654.4 490.0,655.6 490.1,664.7 490.2,646.4 490.3,653.0 490.5,659.1 490.6,667.4 490.7,648.7 490.8,652.7 491.0,667.3 491.1,647.6 491.2,653.9 491.3,651.2 491.5,657.7 491.6,657.5 491.7,651.6 491.8,661.8 492.0,669.4 492.1,656.7 492.2,669.8 492.3,665.9 492.5,664.0 492.6,661.9 492.7,656.4 492.8,659.3 493.0,666.5 493.1,648.4 493.2,671.0 493.3,659.9 493.5,647.3 493.6,658.8 493.7,659.4 493.8,653.3 494.0,651.2 494.1,648.9 494.2,663.8 494.3,668.4 494.5,658.2 494.6,662.7 494.7,666.6 494.8,650.2 495.0,667.7 495.1,665.5 495.2,667.6 495.3,658.9 495.5,658.7 495.6,670.5 495.7,668.8 495.8,641.7 496.0,665.0 496.1,670.6 496.2,672.1 496.3,649.4 496.5,656.4 496.6,665.7 496.7,653.8 496.8,648.7 497.0,669.8 497.1,650.4 497.2,659.5 497.3,666.3 497.5,654.2 497.6,661.1 497.7,647.3 497.8,651.2 498.0,647.8 498.1,649.0 498.2,658.7 498.3,662.6 498.5,659.9 498.6,668.7 498.7,658.4 498.8,664.7 499.0,658.7 499.1,648.0 499.2,648.8 499.3,664.8 499.5,669.4 499.6,664.1 499.7,669.6 499.8,659.0 500.0,665.5 500.1,656.2 500.2,659.3 500.3,669.6 500.5,663.7 500.6,646.4 500.7,650.1 500.8,664.2 501.0,663.5 501.1,666.8 501.2,668.3 501.3,660.4 501.5,653.7 501.6,647.4 501.7,648.5 501.8,657.9 501.9,654.5 502.1,668.3 502.2,648.4 502.3,671.0 502.4,649.5 502.6,658.0 502.7,659.2 502.8,654.4 502.9,670.0 503.1,647.8 503.2,657.5 503.3,661.4 503.4,664.7 503.6,656.4 503.7,649.7 503.8,670.9 503.9,663.0 504.1,670.7 504.2,667.2 504.3,657.4 504.4,653.6 504.6,663.4 504.7,680.8 504.8,657.9 504.9,673.1 505.1,655.7 505.2,670.8 505.3,660.4 505.4,649.1 505.6,669.6 505.7,673.0 505.8,663.5 505.9,658.9 506.1,651.0 506.2,660.2 506.3,664.8 506.4,666.0 506.6,664.6 506.7,666.8 506.8,653.6 506.9,671.8 507.1,656.1 507.2,659.0 507.3,649.6 507.4,671.1 507.6,658.6 507.7,657.5 507.8,650.3 507.9,669.2 508.1,664.7 508.2,653.8 508.3,658.4 508.4,660.5 508.6,671.2 508.7,658.0 508.8,653.2 508.9,667.2 509.1,654.5 509.2,660.3 509.3,666.5 509.4,660.5 509.6,648.8 509.7,667.0 509.8,649.4 509.9,662.6 510.1,651.3 510.2,669.5 510.3,658.7 510.4,657.1 510.6,651.7 510.7,651.7 510.8,661.4 510.9,671.6 511.1,657.1 511.2,667.3 511.3,664.1 511.4,657.2 511.6,664.5 511.7,670.8 511.8,666.0 511.9,642.5 512.1,672.1 512.2,664.7 512.3,650.6 512.4,664.6 512.6,671.1 512.7,668.4 512.8,673.7 512.9,650.7 513.1,656.1 513.2,663.9 513.3,663.7 513.4,669.4 513.6,671.9 513.7,672.3 513.8,652.5 513.9,659.8 514.1,653.6 514.2,657.0 514.3,672.9 514.4,650.6 514.6,668.4 514.7,663.6 514.8,654.9 514.9,654.3 515.1,665.6 515.2,654.8 515.3,669.4 515.4,647.9 515.6,649.9 515.7,657.9 515.8,652.4 515.9,670.8 516.1,655.1 516.2,662.7 516.3,662.4 516.4,650.9 516.6,652.6 516.7,663.9 516.8,666.2 516.9,671.5 517.1,655.9 517.2,656.9 517.3,668.7 517.4,669.6 517.6,669.8 517.7,649.8 517.8,661.7 517.9,663.9 518.1,655.3 518.2,655.9 518.3,649.4 518.4,663.8 518.6,661.3 518.7,665.0 518.8,658.9 518.9,654.1 519.1,675.6 519.2,659.6 519.3,657.5 519.4,663.5 519.5,645.9 519.7,659.3 519.8,664.3 519.9,670.0 520.0,665.0 520.2,652.1 520.3,669.4 520.4,659.2 520.5,672.6 520.7,670.2 520.8,653.0 520.9,657.3 521.0,655.3 521.2,664.4 521.3,667.0 521.4,658.2 521.5,656.3 521.7,646.8 521.8,668.1 521.9,659.9 522.0,660.8 522.2,658.6 522.3,649.6 522.4,663.1 522.5,646.7 522.7,670.0 522.8,647.8 522.9,646.8 523.0,656.2 523.2,662.9 523.3,655.1 523.4,666.3 523.5,656.2 523.7,667.5 523.8,656.8 523.9,657.8 524.0,657.6 524.2,651.0 524.3,655.4 524.4,660.9 524.5,664.5 524.7,656.6 524.8,654.6 524.9,667.1 525.0,659.5 525.2,665.0 525.3,653.3 525.4,668.9 525.5,670.7 525.7,648.5 525.8,670.5 525.9,662.4 526.0,648.0 526.2,641.5 526.3,664.9 526.4,653.6 526.5,657.6 526.7,660.9 526.8,673.3 526.9,641.7 527.0,657.1 527.2,672.2 527.3,672.0 527.4,657.0 527.5,670.9 527.7,661.1 527.8,663.2 527.9,664.4 528.0,670.4 528.2,654.1 528.3,668.3 528.4,666.5 528.5,668.1 528.7,663.2 528.8,667.0 528.9,665.8 529.0,666.8 529.2,663.5 529.3,664.1 529.4,650.2 529.5,658.7 529.7,652.1 529.8,670.2 529.9,646.5 530.0,649.5 530.2,647.3 530.3,654.4 530.4,640.9 530.5,654.2 530.7,663.6 530.8,670.6 530.9,655.6 531.0,647.3 531.2,639.5 531.3,670.4 531.4,647.4 531.5,654.4 531.7,655.6 531.8,664.6 531.9,663.4 532.0,654.5 532.2,665.3 532.3,649.0 532.4,666.6 532.5,658.8 532.7,664.9 532.8,656.5 532.9,665.5 533.0,648.7 533.2,681.1 533.3,660.1 533.4,657.8 533.5,660.6 533.7,667.0 533.8,664.4 533.9,664.8 534.0,661.9 534.2,668.1 534.3,652.0 534.4,667.9 534.5,655.0 534.7,640.9 534.8,654.5 534.9,664.9 535.0,659.9 535.2,661.2 535.3,670.5 535.4,656.3 535.5,658.9 535.7,670.8 535.8,662.8 535.9,650.9 536.0,648.5 536.2,659.2 536.3,672.1 536.4,665.3 536.5,662.1 536.7,650.9 536.8,650.1 536.9,658.9 537.0,656.0 537.2,671.4 537.3,669.2 537.4,672.5 537.5,656.0 537.6,672.2 537.8,668.3 537.9,653.6 538.0,667.5 538.1,649.4 538.3,648.3 538.4,667.6 538.5,656.2 538.6,658.5 538.8,651.2 538.9,651.4 539.0,672.9 539.1,649.0 539.3,658.5 539.4,668.3 539.5,664.8 539.6,659.1 539.8,671.9 539.9,670.6 540.0,648.7 540.1,659.4 540.3,665.6 540.4,654.1 540.5,663.9 540.6,651.4 540.8,650.9 540.9,650.2 541.0,671.2 541.1,652.0 541.3,669.5 541.4,666.1 541.5,650.6 541.6,662.9 541.8,660.3 541.9,663.5 542.0,658.3 542.1,669.8 542.3,670.5 542.4,662.4 542.5,663.5 542.6,651.7 542.8,649.4 542.9,658.2 543.0,665.8 543.1,657.8 543.3,665.7 543.4,647.9 543.5,661.9 543.6,665.0 543.8,673.1 543.9,654.1 544.0,650.1 544.1,649.4 544.3,648.1 544.4,666.1 544.5,654.4 544.6,657.1 544.8,670.2 544.9,653.3 545.0,666.6 545.1,651.8 545.3,647.0 545.4,650.1 545.5,675.7 545.6,655.9 545.8,668.8 545.9,668.3 546.0,668.9 546.1,649.2 546.3,666.7 546.4,663.6 546.5,664.5 546.6,654.2 546.8,652.9 546.9,649.8 547.0,655.6 547.1,657.1 547.3,650.3 547.4,660.3 547.5,667.4 547.6,664.7 547.8,653.7 547.9,659.6 548.0,652.2 548.1,650.1 548.3,650.0 548.4,670.2 548.5,665.0 548.6,653.2 548.8,670.3 548.9,658.6 549.0,669.0 549.1,654.1 549.3,662.8 549.4,664.3 549.5,669.5 549.6,666.2 549.8,665.4 549.9,649.0 550.0,663.4 550.1,650.1 550.3,654.8 550.4,656.5 550.5,672.4 550.6,664.3 550.8,661.0 550.9,661.6 551.0,649.1 551.1,666.4 551.3,661.6 551.4,659.4 551.5,649.9 551.6,660.8 551.8,654.0 551.9,668.0 552.0,657.8 552.1,651.9 552.3,663.8 552.4,657.5 552.5,665.5 552.6,646.5 552.8,665.2 552.9,641.6 553.0,668.7 553.1,658.6 553.3,655.6 553.4,669.0 553.5,670.8 553.6,652.6 553.8,646.6 553.9,660.6 554.0,659.7 554.1,647.6 554.3,662.7 554.4,657.6 554.5,670.8 554.6,669.5 554.8,656.9 554.9,666.5 555.0,660.2 555.1,649.8 555.2,665.8 555.4,664.1 555.5,669.9 555.6,658.6 555.7,647.2 555.9,662.6 556.0,669.0 556.1,666.4 556.2,657.0 556.4,667.7 556.5,671.0 556.6,657.2 556.7,671.7 556.9,664.2 557.0,665.4 557.1,652.5 557.2,668.2 557.4,662.0 557.5,650.0 557.6,650.7 557.7,661.0 557.9,657.0 558.0,670.9 558.1,655.7 558.2,664.4 558.4,665.4 558.5,659.7 558.6,670.2 558.7,658.9 558.9,663.8 559.0,661.5 559.1,648.7 559.2,656.6 559.4,663.8 559.5,670.3 559.6,662.3 559.7,652.8 559.9,653.7 560.0,669.5 560.1,648.7 560.2,660.9 560.4,670.5 560.5,663.8 560.6,663.6 560.7,651.9 560.9,651.2 561.0,670.2 561.1,663.2 561.2,649.4 561.4,652.7 561.5,667.9 561.6,662.3 561.7,649.5 561.9,652.9 562.0,648.3 562.1,665.8 562.2,649.7 562.4,667.0 562.5,646.9 562.6,673.3 562.7,671.4 562.9,654.4 563.0,655.8 563.1,652.1 563.2,651.2 563.4,651.5 563.5,657.1 563.6,657.0 563.7,657.1 563.9,650.0 564.0,665.9 564.1,648.3 564.2,655.7 564.4,663.0 564.5,651.1 564.6,664.9 564.7,662.1 564.9,649.4 565.0,650.4 565.1,663.9 565.2,667.4 565.4,652.4 565.5,670.2 565.6,665.3 565.7,670.8 565.9,671.0 566.0,656.7 566.1,665.0 566.2,658.8 566.4,647.3 566.5,649.8 566.6,653.6 566.7,667.1 566.9,651.5 567.0,657.6 567.1,653.5 567.2,670.8 567.4,666.0 567.5,650.7 567.6,646.4 567.7,665.5 567.9,670.4 568.0,653.9 568.1,658.4 568.2,658.9 568.4,652.6 568.5,662.1 568.6,658.4 568.7,647.7 568.9,667.1 569.0,670.4 569.1,649.1 569.2,649.1 569.4,657.8 569.5,670.6 569.6,666.9 569.7,652.1 569.9,653.3 570.0,657.1 570.1,656.3 570.2,671.9 570.4,655.6 570.5,648.8 570.6,671.8 570.7,655.6 570.9,650.1 571.0,668.4 571.1,660.5 571.2,661.2 571.4,674.5 571.5,677.0 571.6,664.5 571.7,661.8 571.9,657.9 572.0,662.7 572.1,671.3 572.2,667.6 572.4,671.7 572.5,656.0 572.6,656.6 572.7,670.0 572.9,653.7 573.0,648.5 573.1,657.5 573.2,648.3 573.3,650.3 573.5,667.8 573.6,650.8 573.7,657.8 573.8,656.2 574.0,654.2 574.1,667.2 574.2,647.5 574.3,652.1 574.5,664.8 574.6,651.1 574.7,653.1 574.8,661.9 575.0,670.2 575.1,660.4 575.2,664.7 575.3,650.1 575.5,664.7 575.6,653.9 575.7,666.4 575.8,668.9 576.0,662.0 576.1,659.2 576.2,657.5 576.3,649.6 576.5,665.4 576.6,668.4 576.7,666.1 576.8,660.3 577.0,659.3 577.1,671.9 577.2,667.9 577.3,661.7 577.5,672.6 577.6,662.9 577.7,654.3 577.8,649.5 578.0,668.4 578.1,669.4 578.2,666.6 578.3,671.1 578.5,671.1 578.6,663.4 578.7,657.5 578.8,671.3 579.0,653.5 579.1,667.2 579.2,651.3 579.3,661.0 579.5,653.8 579.6,669.7 579.7,652.8 579.8,671.5 580.0,653.9 580.1,667.7 580.2,664.2 580.3,669.3 580.5,658.1 580.6,650.6 580.7,658.2 580.8,672.5 581.0,650.9 581.1,654.0 581.2,650.0 581.3,672.7 581.5,670.5 581.6,668.1 581.7,652.3 581.8,671.4 582.0,669.5 582.1,670.6 582.2,662.8 582.3,661.0 582.5,656.6 582.6,668.9 582.7,661.4 582.8,672.1 583.0,672.3 583.1,676.4 583.2,660.6 583.3,670.6 583.5,676.0 583.6,662.0 583.7,669.3 583.8,662.7 584.0,662.0 584.1,657.7 584.2,665.8 584.3,655.1 584.5,655.6 584.6,656.6 584.7,666.4 584.8,658.8 585.0,666.1 585.1,663.3 585.2,659.4 585.3,657.4 585.5,668.3 585.6,664.8 585.7,657.8 585.8,656.4 586.0,674.2 586.1,676.2 586.2,660.7 586.3,647.9 586.5,661.0 586.6,664.9 586.7,677.9 586.8,668.7 587.0,677.4 587.1,665.1 587.2,677.4 587.3,656.4 587.5,674.0 587.6,676.8 587.7,659.0 587.8,654.3 588.0,663.2 588.1,670.6 588.2,669.0 588.3,651.1 588.5,660.3 588.6,674.5 588.7,654.0 588.8,673.5 589.0,661.7 589.1,647.9 589.2,654.6 589.3,676.3 589.5,657.4 589.6,656.2 589.7,666.5 589.8,667.8 590.0,669.9 590.1,668.4 590.2,651.7 590.3,662.4 590.5,654.2 590.6,664.8 590.7,671.7 590.8,655.4 590.9,672.3 591.1,652.8 591.2,668.7 591.3,658.6 591.4,669.5 591.6,673.1 591.7,663.8 591.8,652.0 591.9,655.6 592.1,671.3 592.2,655.8 592.3,662.4 592.4,668.1 592.6,654.1 592.7,658.6 592.8,660.6 592.9,662.2 593.1,665.0 593.2,666.3 593.3,658.1 593.4,655.7 593.6,655.3 593.7,666.6 593.8,662.4 593.9,671.1 594.1,660.5 594.2,658.3 594.3,674.1 594.4,658.1 594.6,659.1 594.7,675.7 594.8,665.1 594.9,667.8 595.1,666.7 595.2,672.3 595.3,666.0 595.4,667.4 595.6,668.2 595.7,666.4 595.8,662.5 595.9,667.8 596.1,666.9 596.2,665.7 596.3,660.3 596.4,654.5 596.6,670.1 596.7,654.6 596.8,668.7 596.9,652.3 597.1,656.9 597.2,658.6 597.3,656.6 597.4,673.4 597.6,654.3 597.7,671.1 597.8,669.0 597.9,652.8 598.1,665.0 598.2,660.3 598.3,672.9 598.4,673.3 598.6,656.2 598.7,668.7 598.8,665.3 598.9,654.4 599.1,656.9 599.2,654.0 599.3,669.6 599.4,669.1 599.6,676.1 599.7,652.5 599.8,654.8 599.9,654.0 600.1,675.5 600.2,656.8 600.3,669.4 600.4,661.9 600.6,683.0 600.7,684.8 600.8,672.1 600.9,661.9 601.1,660.6 601.2,667.4 601.3,653.2 601.4,657.6 601.6,656.5 601.7,655.1 601.8,659.6 601.9,675.9 602.1,673.5 602.2,666.9 602.3,665.8 602.4,674.8 602.6,655.5 602.7,673.2 602.8,659.9 602.9,666.8 603.1,669.0 603.2,653.7 603.3,674.9 603.4,673.0 603.6,660.4 603.7,665.6 603.8,658.3 603.9,666.1 604.1,661.8 604.2,676.7 604.3,667.7 604.4,655.1 604.6,669.9 604.7,667.0 604.8,654.9 604.9,652.5 605.1,655.2 605.2,660.8 605.3,672.0 605.4,658.0 605.6,672.5 605.7,656.0 605.8,665.2 605.9,657.9 606.1,671.2 606.2,661.0 606.3,662.7 606.4,667.7 606.6,658.4 606.7,675.0 606.8,654.1 606.9,662.6 607.1,663.2 607.2,676.3 607.3,671.4 607.4,672.6 607.6,656.0 607.7,659.3 607.8,657.5 607.9,652.2 608.1,665.9 608.2,658.0 608.3,659.8 608.4,672.4 608.6,655.5 608.7,668.9 608.8,663.2 608.9,644.8 609.0,662.6 609.2,658.3 609.3,657.3 609.4,654.0 609.5,673.8 609.7,669.3 609.8,663.6 609.9,674.6 610.0,657.3 610.2,657.2 610.3,657.3 610.4,670.0 610.5,671.2 610.7,651.9 610.8,655.0 610.9,657.0 611.0,643.6 611.2,668.0 611.3,650.8 611.4,653.2 611.5,656.6 611.7,653.4 611.8,673.8 611.9,653.5 612.0,656.1 612.2,655.0 612.3,655.2 612.4,667.6 612.5,660.1 612.7,673.0 612.8,668.4 612.9,675.9 613.0,680.1 613.2,658.1 613.3,666.7 613.4,672.4 613.5,657.9 613.7,675.8 613.8,657.6 613.9,661.7 614.0,660.3 614.2,655.0 614.3,656.8 614.4,674.3 614.5,666.3 614.7,660.2 614.8,673.3 614.9,674.2 615.0,668.8 615.2,661.7 615.3,666.1 615.4,657.1 615.5,681.1 615.7,679.7 615.8,664.0 615.9,667.1 616.0,680.5 616.2,657.6 616.3,661.4 616.4,666.2 616.5,668.0 616.7,672.5 616.8,677.3 616.9,678.0 617.0,663.4 617.2,670.3 617.3,667.7 617.4,660.7 617.5,664.4 617.7,661.8 617.8,687.6 617.9,673.6 618.0,663.8 618.2,657.9 618.3,677.2 618.4,672.0 618.5,677.9 618.7,671.4 618.8,677.3 618.9,665.3 619.0,674.7 619.2,663.5 619.3,669.8 619.4,657.8 619.5,656.0 619.7,667.6 619.8,671.4 619.9,675.8 620.0,670.0 620.2,662.5 620.3,664.7 620.4,654.9 620.5,664.9 620.7,675.6 620.8,656.3 620.9,668.4 621.0,656.5 621.2,670.2 621.3,659.2 621.4,673.4 621.5,672.5 621.7,660.8 621.8,670.4 621.9,667.6 622.0,672.1 622.2,672.4 622.3,678.3 622.4,673.5 622.5,665.7 622.7,668.0 622.8,656.9 622.9,658.6 623.0,669.0 623.2,665.2 623.3,671.6 623.4,667.5 623.5,664.9 623.7,663.2 623.8,676.3 623.9,678.5 624.0,675.2 624.2,660.8 624.3,666.7 624.4,657.2 624.5,671.7 624.7,674.6 624.8,672.8 624.9,656.7 625.0,671.2 625.2,663.1 625.3,668.8 625.4,676.1 625.5,674.8 625.7,662.0 625.8,672.5 625.9,659.8 626.0,657.1 626.2,675.5 626.3,667.1 626.4,672.8 626.5,656.1 626.6,661.9 626.8,676.5 626.9,670.4 627.0,677.5 627.1,660.7 627.3,660.3 627.4,664.4 627.5,666.2 627.6,668.3 627.8,667.8 627.9,682.0 628.0,671.8 628.1,667.3 628.3,664.4 628.4,662.9 628.5,668.3 628.6,658.0 628.8,660.9 628.9,667.0 629.0,676.8 629.1,666.2 629.3,676.6 629.4,660.5 629.5,661.4 629.6,658.5 629.8,681.0 629.9,677.7 630.0,668.3 630.1,655.6 630.3,670.0 630.4,676.6 630.5,679.1 630.6,658.7 630.8,675.1 630.9,675.6 631.0,675.9 631.1,659.9 631.3,665.6 631.4,656.6 631.5,676.6 631.6,677.0 631.8,671.8 631.9,656.8 632.0,675.3 632.1,675.8 632.3,665.3 632.4,649.2 632.5,666.3 632.6,661.1 632.8,659.4 632.9,667.1 633.0,667.6 633.1,664.6 633.3,678.2 633.4,672.3 633.5,668.7 633.6,679.5 633.8,661.0 633.9,665.0 634.0,668.0 634.1,687.1 634.3,680.9 634.4,662.8 634.5,663.3 634.6,664.8 634.8,677.9 634.9,675.8 635.0,671.0 635.1,659.2 635.3,674.1 635.4,660.4 635.5,658.7 635.6,667.1 635.8,680.5 635.9,669.3 636.0,681.1 636.1,684.7 636.3,660.6 636.4,677.5 636.5,681.2 636.6,672.7 636.8,681.8 636.9,672.5 637.0,671.8 637.1,666.7 637.3,666.6 637.4,678.7 637.5,659.0 637.6,677.1 637.8,676.3 637.9,650.8 638.0,662.8 638.1,677.8 638.3,663.0 638.4,681.5 638.5,663.9 638.6,674.9 638.8,672.4 638.9,681.0 639.0,673.9 639.1,667.8 639.3,664.7 639.4,664.6 639.5,649.9 639.6,667.5 639.8,666.0 639.9,665.6 640.0,662.8 640.1,662.9 640.3,665.2 640.4,660.5 640.5,669.7 640.6,665.0 640.8,678.2 640.9,672.5 641.0,662.1 641.1,670.9 641.3,659.0 641.4,681.4 641.5,668.1 641.6,664.9 641.8,658.6 641.9,675.6 642.0,673.3 642.1,677.7 642.3,669.5 642.4,678.9 642.5,659.7 642.6,662.1 642.8,667.0 642.9,679.7 643.0,659.1 643.1,666.8 643.3,665.8 643.4,666.1 643.5,674.4 643.6,680.4 643.8,676.2 643.9,688.8 644.0,668.5 644.1,672.4 644.3,667.2 644.4,672.9 644.5,662.0 644.6,674.9 644.7,664.4 644.9,672.1 645.0,675.3 645.1,663.6 645.2,665.5 645.4,663.9 645.5,664.6 645.6,683.5 645.7,675.2 645.9,662.7 646.0,679.5 646.1,677.2 646.2,661.2 646.4,669.7 646.5,666.8 646.6,665.7 646.7,664.1 646.9,671.5 647.0,675.8 647.1,674.7 647.2,673.5 647.4,666.7 647.5,674.8 647.6,667.5 647.7,679.9 647.9,665.6 648.0,665.8 648.1,664.8 648.2,673.1 648.4,672.4 648.5,672.0 648.6,681.5 648.7,660.2 648.9,664.8 649.0,683.9 649.1,667.3 649.2,670.9 649.4,665.4 649.5,669.6 649.6,665.4 649.7,676.8 649.9,672.3 650.0,674.5 650.1,669.6 650.2,678.9 650.4,670.0 650.5,678.8 650.6,682.3 650.7,672.8 650.9,676.2 651.0,672.4 651.1,664.0 651.2,681.3 651.4,661.9 651.5,665.4 651.6,668.1 651.7,679.9 651.9,679.8 652.0,672.6 652.1,677.7 652.2,664.7 652.4,674.9 652.5,675.6 652.6,664.9 652.7,666.3 652.9,667.7 653.0,670.0 653.1,671.1 653.2,657.7 653.4,671.6 653.5,658.4 653.6,674.8 653.7,658.2 653.9,660.4 654.0,659.1 654.1,681.7 654.2,664.7 654.4,660.7 654.5,666.9 654.6,661.6 654.7,658.3 654.9,680.2 655.0,679.6 655.1,677.3 655.2,654.5 655.4,663.5 655.5,679.0 655.6,663.7 655.7,682.1 655.9,668.9 656.0,679.8 656.1,668.4 656.2,666.5 656.4,675.3 656.5,667.3 656.6,669.3 656.7,660.7 656.9,674.2 657.0,672.6 657.1,663.0 657.2,675.4 657.4,667.6 657.5,678.1 657.6,660.5 657.7,665.1 657.9,682.6 658.0,675.8 658.1,665.7 658.2,667.1 658.4,674.6 658.5,677.8 658.6,675.2 658.7,668.3 658.9,680.2 659.0,660.0 659.1,664.2 659.2,662.2 659.4,674.0 659.5,680.3 659.6,666.6 659.7,663.0 659.9,669.7 660.0,674.1 660.1,664.2 660.2,667.8 660.4,661.4 660.5,671.3 660.6,669.3 660.7,662.4 660.9,682.0 661.0,680.1 661.1,675.2 661.2,679.5 661.4,673.0 661.5,672.2 661.6,672.1 661.7,683.0 661.9,672.1 662.0,684.6 662.1,662.2 662.2,675.9 662.3,676.6 662.5,664.8 662.6,661.5 662.7,669.8 662.8,683.8 663.0,664.8 663.1,664.9 663.2,685.1 663.3,662.1 663.5,667.4 663.6,678.9 663.7,673.8 663.8,678.7 664.0,682.2 664.1,681.4 664.2,663.1 664.3,674.5 664.5,680.3 664.6,662.7 664.7,665.2 664.8,669.5 665.0,684.8 665.1,675.5 665.2,680.1 665.3,677.2 665.5,683.4 665.6,663.8 665.7,662.1 665.8,664.5 666.0,685.1 666.1,670.3 666.2,669.9 666.3,684.5 666.5,665.8 666.6,682.6 666.7,671.1 666.8,680.5 667.0,665.0 667.1,680.6 667.2,659.3 667.3,694.1 667.5,666.1 667.6,679.8 667.7,679.8 667.8,669.1 668.0,665.6 668.1,684.4 668.2,680.8 668.3,682.8 668.5,663.2 668.6,682.9 668.7,670.3 668.8,662.6 669.0,677.2 669.1,679.3 669.2,664.7 669.3,665.1 669.5,667.3 669.6,664.0 669.7,682.9 669.8,661.6 670.0,669.3 670.1,668.0 670.2,682.6 670.3,661.3 670.5,668.8 670.6,678.5 670.7,656.3 670.8,673.1 671.0,673.2 671.1,674.9 671.2,672.0 671.3,666.6 671.5,681.5 671.6,668.9 671.7,672.4 671.8,670.0 672.0,661.8 672.1,678.2 672.2,668.3 672.3,674.8 672.5,668.4 672.6,681.5 672.7,678.8 672.8,669.3 673.0,661.8 673.1,665.1 673.2,668.7 673.3,670.3 673.5,680.9 673.6,666.5 673.7,674.0 673.8,682.2 674.0,673.7 674.1,664.7 674.2,673.2 674.3,685.5 674.5,668.3 674.6,668.0 674.7,685.2 674.8,660.5 675.0,682.3 675.1,666.8 675.2,672.8 675.3,669.7 675.5,677.6 675.6,678.9 675.7,680.0 675.8,675.6 676.0,681.8 676.1,666.0 676.2,680.5 676.3,674.9 676.5,662.1 676.6,662.0 676.7,665.8 676.8,667.8 677.0,668.5 677.1,663.2 677.2,663.1 677.3,672.7 677.5,676.5 677.6,669.2 677.7,670.3 677.8,683.1 678.0,663.4 678.1,676.2 678.2,666.9 678.3,671.1 678.5,665.5 678.6,670.3 678.7,683.1 678.8,657.6 679.0,661.4 679.1,669.6 679.2,672.1 679.3,671.4 679.5,682.4 679.6,679.0 679.7,674.2 679.8,669.4 680.0,674.0 680.1,678.9 680.2,666.6 680.3,666.4 680.4,672.9 680.6,666.5 680.7,677.1 680.8,673.7 680.9,685.8 681.1,668.9 681.2,681.8 681.3,664.5 681.4,677.6 681.6,677.6 681.7,662.7 681.8,665.7 681.9,663.7 682.1,667.4 682.2,670.4 682.3,673.1 682.4,683.2 682.6,681.1 682.7,677.6 682.8,679.7 682.9,672.0 683.1,662.9 683.2,678.8 683.3,669.7 683.4,664.1 683.6,675.8 683.7,675.2 683.8,671.5 683.9,665.5 684.1,666.2 684.2,683.2 684.3,668.9 684.4,682.6 684.6,662.5 684.7,685.6 684.8,665.0 684.9,684.2 685.1,683.4 685.2,662.4 685.3,668.0 685.4,684.6 685.6,662.3 685.7,673.3 685.8,678.2 685.9,678.3 686.1,673.1 686.2,663.0 686.3,677.5 686.4,679.8 686.6,662.7 686.7,680.5 686.8,677.5 686.9,675.3 687.1,678.6 687.2,661.8 687.3,669.1 687.4,666.3 687.6,670.6 687.7,677.0 687.8,674.7 687.9,667.6 688.1,662.8 688.2,679.9 688.3,680.5 688.4,677.6 688.6,676.3 688.7,682.5 688.8,676.2 688.9,662.1 689.1,671.1 689.2,683.8 689.3,684.6 689.4,680.6 689.6,667.7 689.7,674.5 689.8,673.0 689.9,684.1 690.1,668.9 690.2,663.8 690.3,670.3 690.4,682.5 690.6,673.0 690.7,682.1 690.8,690.4 690.9,674.8 691.1,658.4 691.2,684.6 691.3,661.9 691.4,669.9 691.6,665.9 691.7,666.9 691.8,679.3 691.9,682.1 692.1,663.5 692.2,668.8 692.3,686.8 692.4,670.3 692.6,678.7 692.7,665.5 692.8,682.5 692.9,681.3 693.1,669.1 693.2,686.4 693.3,678.7 693.4,660.8 693.6,665.8 693.7,673.9 693.8,653.5 693.9,661.4 694.1,677.5 694.2,685.8 694.3,665.3 694.4,662.1 694.6,670.4 694.7,659.7 694.8,673.3 694.9,683.6 695.1,663.4 695.2,673.2 695.3,668.8 695.4,682.7 695.6,666.9 695.7,677.6 695.8,665.2 695.9,663.8 696.1,675.7 696.2,661.9 696.3,679.7 696.4,680.9 696.6,669.0 696.7,667.0 696.8,661.7 696.9,666.4 697.1,660.8 697.2,666.4 697.3,681.1 697.4,666.1 697.6,673.3 697.7,666.4 697.8,663.2"/></g>
<!-- dashed lines -->
<g stroke="#3f55ee" stroke-width="2" stroke-dasharray="5,4" opacity="0.8">
<line x1="284.8" y1="496" x2="284.8" y2="662"/>
<line x1="333.6" y1="508" x2="333.6" y2="674"/>
</g>
<!-- frame -->
<rect x="73.3" y="45" width="625.4" height="647.5" fill="none" stroke="#222" stroke-width="2.4" stroke-linejoin="round"/>
<g stroke="#1a1a1a" stroke-width="2"><line x1="73.3" y1="692.5" x2="73.3" y2="701.0"/><line x1="112.4" y1="692.5" x2="112.4" y2="696.5"/><line x1="151.4" y1="692.5" x2="151.4" y2="701.0"/><line x1="190.5" y1="692.5" x2="190.5" y2="696.5"/><line x1="229.6" y1="692.5" x2="229.6" y2="701.0"/><line x1="268.6" y1="692.5" x2="268.6" y2="696.5"/><line x1="307.7" y1="692.5" x2="307.7" y2="701.0"/><line x1="346.7" y1="692.5" x2="346.7" y2="696.5"/><line x1="385.8" y1="692.5" x2="385.8" y2="701.0"/><line x1="424.9" y1="692.5" x2="424.9" y2="696.5"/><line x1="463.9" y1="692.5" x2="463.9" y2="701.0"/><line x1="503.0" y1="692.5" x2="503.0" y2="696.5"/><line x1="542.0" y1="692.5" x2="542.0" y2="701.0"/><line x1="581.1" y1="692.5" x2="581.1" y2="696.5"/><line x1="620.2" y1="692.5" x2="620.2" y2="701.0"/><line x1="659.2" y1="692.5" x2="659.2" y2="696.5"/><line x1="698.3" y1="692.5" x2="698.3" y2="701.0"/></g>
<g font-size="30.5"><text transform="translate(69.0,731) scale(0.95,1)" text-anchor="middle">10</text><text transform="translate(147.1,731) scale(0.95,1)" text-anchor="middle">20</text><text transform="translate(225.2,731) scale(0.95,1)" text-anchor="middle">30</text><text transform="translate(303.4,731) scale(0.95,1)" text-anchor="middle">40</text><text transform="translate(381.5,731) scale(0.95,1)" text-anchor="middle">50</text><text transform="translate(459.6,731) scale(0.95,1)" text-anchor="middle">60</text><text transform="translate(537.8,731) scale(0.95,1)" text-anchor="middle">70</text><text transform="translate(615.9,731) scale(0.95,1)" text-anchor="middle">80</text><text transform="translate(694.0,731) scale(0.95,1)" text-anchor="middle">90</text></g>
<text x="276" y="780" font-size="37.5">2θ / degree</text>
<text transform="translate(35.5,502.5) rotate(-90)" font-size="38.5">Intencity&#160;&#160;/a.u.</text>
<!-- label a -->
<rect x="80.5" y="52" width="55.5" height="68.5" fill="#fff" stroke="#111" stroke-width="2"/>
<text transform="translate(98.3,100) scale(0.84,1)" font-size="40.5" class="reg">a</text>
<!-- markers -->
<g fill="none" stroke="#222" stroke-width="1.8"><ellipse cx="174.5" cy="128.0" rx="6.2" ry="6.7"/><rect x="155.2" y="151.8" width="12.5" height="12.5"/><ellipse cx="134.5" cy="199.5" rx="6.2" ry="6.7"/><polygon points="242.0,206.4 236.0,219.6 248.0,219.6"/><ellipse cx="282.5" cy="227.0" rx="6.2" ry="6.7"/><ellipse cx="326.5" cy="253.5" rx="6.2" ry="6.7"/><ellipse cx="379.5" cy="262.0" rx="6.2" ry="6.7"/><ellipse cx="549.5" cy="233.0" rx="6.2" ry="6.7"/><ellipse cx="489.5" cy="271" rx="5.5" ry="7"/><rect x="157.6" y="274.2" width="12.5" height="12.5"/><polygon points="242.7,362.9 236.7,376.1 248.7,376.1"/><polygon points="285.2,369.0 279.2,382.2 291.2,382.2"/><rect x="159.2" y="454.4" width="12.5" height="12.5"/><polygon points="283.2,487.3 277.4,474.7 288.9,474.7"/><polygon points="333.6,488.0 339.6,494.0 333.6,500.0 327.6,494.0"/></g>
<g fill="none" stroke="#222" stroke-width="1.9"><ellipse cx="245.3" cy="72.8" rx="5" ry="6.2"/><polygon points="423.5,70.5 419.0,80.5 428.0,80.5"/><rect x="577.3" y="75.5" width="9.0" height="9.0"/><polygon points="423.5,129.2 419.0,119.3 428.0,119.3"/><polygon points="584.6,120.5 590.1,126.0 584.6,131.5 579.1,126.0"/></g>
<!-- legend text -->
<g font-size="28.5">
<text x="277" y="84.8" letter-spacing="0.3">Cu(OH)<tspan font-size="21.5" dx="0.5" dy="5">2</tspan></text>
<text x="450" y="86" letter-spacing="0.8">CuO</text>
<text x="618" y="89.6">SiO<tspan font-size="22" dy="5">2</tspan></text>
<text x="454" y="133.9">Cu(111)</text>
<text x="618" y="139.2">Cu<tspan font-size="21" dy="5">2</tspan><tspan dy="-5">O</tspan></text>
<text x="513.5" y="285.9" font-size="28.8">As-prepared</text>
<text x="543.5" y="425.2" font-size="28.9">Calcined</text>
<text x="543" y="525" font-size="29.5">Reduced</text>
<text x="548" y="626.2" font-size="29.5">Used</text>
</g>
<!-- particle size panel -->
<rect x="709.5" y="77.5" width="239.5" height="36.5" fill="none" stroke="#333" stroke-width="1.8"/>
<g font-size="28.5">
<text x="745" y="107" font-size="28.3">Particle size</text>
<text x="722.5" y="164" letter-spacing="0.8">Cu<tspan font-size="20" dy="5">2</tspan><tspan dy="-5">O</tspan></text>
<text x="834" y="164" letter-spacing="1.4">Cu<tspan font-size="19" dx="0.5" dy="-9">0</tspan></text>
<text x="707" y="575.1">2.4 nm</text>
<text x="842" y="575.1">2.8 nm</text>
<text x="720" y="668.4">2.7nm</text>
<text x="847" y="670.5">4.2 nm</text>
</g>
<g stroke="#000" stroke-width="1.6"><line x1="773" y1="187" x2="773" y2="209"/><line x1="871.8" y1="187" x2="871.8" y2="209"/></g>
<polygon points="761.6,207 784.6,207 773,230" fill="#000"/>
<polygon points="860.3,207 883.3,207 871.8,230" fill="#000"/>
<!-- TEM b -->
<defs>
<clipPath id="clipB"><rect x="995" y="5" width="353.3" height="359.8"/></clipPath>
<clipPath id="clipC"><rect x="991.5" y="418.4" width="351.5" height="369.4"/></clipPath>
<filter id="fB" x="0" y="0" width="1" height="1" color-interpolation-filters="sRGB">
<feGaussianBlur in="SourceGraphic" stdDeviation="5" result="b"/>
<feTurbulence type="fractalNoise" baseFrequency="0.11" numOctaves="3" seed="5" result="t"/>
<feColorMatrix in="t" type="matrix" values="1 0 0 0 0 1 0 0 0 0 1 0 0 0 0 0 0 0 0 1" result="g"/>
<feTurbulence type="fractalNoise" baseFrequency="0.035" numOctaves="2" seed="11" result="t2"/>
<feColorMatrix in="t2" type="matrix" values="1 0 0 0 0 1 0 0 0 0 1 0 0 0 0 0 0 0 0 1" result="g2"/>
<feComposite in="b" in2="g" operator="arithmetic" k1="0" k2="1" k3="0.5" k4="-0.25" result="c1"/>
<feComposite in="c1" in2="g2" operator="arithmetic" k1="0" k2="1" k3="0.1" k4="-0.05"/>
</filter>
<filter id="fC" x="0" y="0" width="1" height="1" color-interpolation-filters="sRGB">
<feGaussianBlur in="SourceGraphic" stdDeviation="5" result="b"/>
<feTurbulence type="fractalNoise" baseFrequency="0.13" numOctaves="3" seed="9" result="t"/>
<feColorMatrix in="t" type="matrix" values="1 0 0 0 0 1 0 0 0 0 1 0 0 0 0 0 0 0 0 1" result="g"/>
<feTurbulence type="fractalNoise" baseFrequency="0.04" numOctaves="2" seed="13" result="t2"/>
<feColorMatrix in="t2" type="matrix" values="1 0 0 0 0 1 0 0 0 0 1 0 0 0 0 0 0 0 0 1" result="g2"/>
<feComposite in="b" in2="g" operator="arithmetic" k1="0" k2="1" k3="0.8" k4="-0.4" result="c1"/>
<feComposite in="c1" in2="g2" operator="arithmetic" k1="0" k2="1" k3="0.15" k4="-0.075" result="c2"/>
<feTurbulence type="turbulence" baseFrequency="0.07" numOctaves="2" seed="21" result="t3"/>
<feColorMatrix in="t3" type="matrix" values="-1 0 0 0 1 -1 0 0 0 1 -1 0 0 0 1 0 0 0 0 1" result="g3"/>
<feComposite in="c2" in2="g3" operator="arithmetic" k1="0" k2="1" k3="0.45" k4="-0.338"/>
</filter>
<linearGradient id="gV" x1="0" y1="0" x2="0" y2="1"><stop offset="0" stop-color="#acacac"/><stop offset="1" stop-color="#b3b3b3"/></linearGradient>
<filter id="fV" x="-0.1" y="-0.1" width="1.2" height="1.2"><feGaussianBlur stdDeviation="2"/></filter>
</defs><g clip-path="url(#clipB)"><g filter="url(#fB)"><rect x="955.7" y="-35.0" width="20.2" height="20.6" fill="#646464"/><rect x="975.4" y="-35.0" width="20.2" height="20.6" fill="#646464"/><rect x="995.0" y="-35.0" width="20.2" height="20.6" fill="#646464"/><rect x="1014.6" y="-35.0" width="20.2" height="20.6" fill="#737373"/><rect x="1034.3" y="-35.0" width="20.2" height="20.6" fill="#737373"/><rect x="1053.9" y="-35.0" width="20.2" height="20.6" fill="#737373"/><rect x="1073.5" y="-35.0" width="20.2" height="20.6" fill="#787878"/><rect x="1093.1" y="-35.0" width="20.2" height="20.6" fill="#7d7d7d"/><rect x="1112.8" y="-35.0" width="20.2" height="20.6" fill="#828282"/><rect x="1132.4" y="-35.0" width="20.2" height="20.6" fill="#7d7d7d"/><rect x="1152.0" y="-35.0" width="20.2" height="20.6" fill="#737373"/><rect x="1171.7" y="-35.0" width="20.2" height="20.6" fill="#737373"/><rect x="1191.3" y="-35.0" width="20.2" height="20.6" fill="#7d7d7d"/><rect x="1210.9" y="-35.0" width="20.2" height="20.6" fill="#878787"/><rect x="1230.5" y="-35.0" width="20.2" height="20.6" fill="#8c8c8c"/><rect x="1250.2" y="-35.0" width="20.2" height="20.6" fill="#828282"/><rect x="1269.8" y="-35.0" width="20.2" height="20.6" fill="#969696"/><rect x="1289.4" y="-35.0" width="20.2" height="20.6" fill="#a8a8a8"/><rect x="1309.0" y="-35.0" width="20.2" height="20.6" fill="#adadad"/><rect x="1328.7" y="-35.0" width="20.2" height="20.6" fill="#adadad"/><rect x="1348.3" y="-35.0" width="20.2" height="20.6" fill="#adadad"/><rect x="1367.9" y="-35.0" width="20.2" height="20.6" fill="#adadad"/><rect x="955.7" y="-15.0" width="20.2" height="20.6" fill="#646464"/><rect x="975.4" y="-15.0" width="20.2" height="20.6" fill="#646464"/><rect x="995.0" y="-15.0" width="20.2" height="20.6" fill="#646464"/><rect x="1014.6" y="-15.0" width="20.2" height="20.6" fill="#737373"/><rect x="1034.3" y="-15.0" width="20.2" height="20.6" fill="#737373"/><rect x="1053.9" y="-15.0" width="20.2" height="20.6" fill="#737373"/><rect x="1073.5" y="-15.0" width="20.2" height="20.6" fill="#787878"/><rect x="1093.1" y="-15.0" width="20.2" height="20.6" fill="#7d7d7d"/><rect x="1112.8" y="-15.0" width="20.2" height="20.6" fill="#828282"/><rect x="1132.4" y="-15.0" width="20.2" height="20.6" fill="#7d7d7d"/><rect x="1152.0" y="-15.0" width="20.2" height="20.6" fill="#737373"/><rect x="1171.7" y="-15.0" width="20.2" height="20.6" fill="#737373"/><rect x="1191.3" y="-15.0" width="20.2" height="20.6" fill="#7d7d7d"/><rect x="1210.9" y="-15.0" width="20.2" height="20.6" fill="#878787"/><rect x="1230.5" y="-15.0" width="20.2" height="20.6" fill="#8c8c8c"/><rect x="1250.2" y="-15.0" width="20.2" height="20.6" fill="#828282"/><rect x="1269.8" y="-15.0" width="20.2" height="20.6" fill="#969696"/><rect x="1289.4" y="-15.0" width="20.2" height="20.6" fill="#a8a8a8"/><rect x="1309.0" y="-15.0" width="20.2" height="20.6" fill="#adadad"/><rect x="1328.7" y="-15.0" width="20.2" height="20.6" fill="#adadad"/><rect x="1348.3" y="-15.0" width="20.2" height="20.6" fill="#adadad"/><rect x="1367.9" y="-15.0" width="20.2" height="20.6" fill="#adadad"/><rect x="955.7" y="5.0" width="20.2" height="20.6" fill="#646464"/><rect x="975.4" y="5.0" width="20.2" height="20.6" fill="#646464"/><rect x="995.0" y="5.0" width="20.2" height="20.6" fill="#646464"/><rect x="1014.6" y="5.0" width="20.2" height="20.6" fill="#737373"/><rect x="1034.3" y="5.0" width="20.2" height="20.6" fill="#737373"/><rect x="1053.9" y="5.0" width="20.2" height="20.6" fill="#737373"/><rect x="1073.5" y="5.0" width="20.2" height="20.6" fill="#787878"/><rect x="1093.1" y="5.0" width="20.2" height="20.6" fill="#7d7d7d"/><rect x="1112.8" y="5.0" width="20.2" height="20.6" fill="#828282"/><rect x="1132.4" y="5.0" width="20.2" height="20.6" fill="#7d7d7d"/><rect x="1152.0" y="5.0" width="20.2" height="20.6" fill="#737373"/><rect x="1171.7" y="5.0" width="20.2" height="20.6" fill="#737373"/><rect x="1191.3" y="5.0" width="20.2" height="20.6" fill="#7d7d7d"/><rect x="1210.9" y="5.0" width="20.2" height="20.6" fill="#878787"/><rect x="1230.5" y="5.0" width="20.2" height="20.6" fill="#8c8c8c"/><rect x="1250.2" y="5.0" width="20.2" height="20.6" fill="#828282"/><rect x="1269.8" y="5.0" width="20.2" height="20.6" fill="#969696"/><rect x="1289.4" y="5.0" width="20.2" height="20.6" fill="#a8a8a8"/><rect x="1309.0" y="5.0" width="20.2" height="20.6" fill="#adadad"/><rect x="1328.7" y="5.0" width="20.2" height="20.6" fill="#adadad"/><rect x="1348.3" y="5.0" width="20.2" height="20.6" fill="#adadad"/><rect x="1367.9" y="5.0" width="20.2" height="20.6" fill="#adadad"/><rect x="955.7" y="25.0" width="20.2" height="20.6" fill="#505050"/><rect x="975.4" y="25.0" width="20.2" height="20.6" fill="#505050"/><rect x="995.0" y="25.0" width="20.2" height="20.6" fill="#505050"/><rect x="1014.6" y="25.0" width="20.2" height="20.6" fill="#6e6e6e"/><rect x="1034.3" y="25.0" width="20.2" height="20.6" fill="#6e6e6e"/><rect x="1053.9" y="25.0" width="20.2" height="20.6" fill="#6e6e6e"/><rect x="1073.5" y="25.0" width="20.2" height="20.6" fill="#737373"/><rect x="1093.1" y="25.0" width="20.2" height="20.6" fill="#646464"/><rect x="1112.8" y="25.0" width="20.2" height="20.6" fill="#787878"/><rect x="1132.4" y="25.0" width="20.2" height="20.6" fill="#828282"/><rect x="1152.0" y="25.0" width="20.2" height="20.6" fill="#787878"/><rect x="1171.7" y="25.0" width="20.2" height="20.6" fill="#7d7d7d"/><rect x="1191.3" y="25.0" width="20.2" height="20.6" fill="#787878"/><rect x="1210.9" y="25.0" width="20.2" height="20.6" fill="#828282"/><rect x="1230.5" y="25.0" width="20.2" height="20.6" fill="#828282"/><rect x="1250.2" y="25.0" width="20.2" height="20.6" fill="#8c8c8c"/><rect x="1269.8" y="25.0" width="20.2" height="20.6" fill="#878787"/><rect x="1289.4" y="25.0" width="20.2" height="20.6" fill="#9b9b9b"/><rect x="1309.0" y="25.0" width="20.2" height="20.6" fill="#adadad"/><rect x="1328.7" y="25.0" width="20.2" height="20.6" fill="#adadad"/><rect x="1348.3" y="25.0" width="20.2" height="20.6" fill="#adadad"/><rect x="1367.9" y="25.0" width="20.2" height="20.6" fill="#adadad"/><rect x="955.7" y="45.0" width="20.2" height="20.6" fill="#5f5f5f"/><rect x="975.4" y="45.0" width="20.2" height="20.6" fill="#5f5f5f"/><rect x="995.0" y="45.0" width="20.2" height="20.6" fill="#5f5f5f"/><rect x="1014.6" y="45.0" width="20.2" height="20.6" fill="#6e6e6e"/><rect x="1034.3" y="45.0" width="20.2" height="20.6" fill="#6e6e6e"/><rect x="1053.9" y="45.0" width="20.2" height="20.6" fill="#6e6e6e"/><rect x="1073.5" y="45.0" width="20.2" height="20.6" fill="#828282"/><rect x="1093.1" y="45.0" width="20.2" height="20.6" fill="#4b4b4b"/><rect x="1112.8" y="45.0" width="20.2" height="20.6" fill="#555555"/><rect x="1132.4" y="45.0" width="20.2" height="20.6" fill="#969696"/><rect x="1152.0" y="45.0" width="20.2" height="20.6" fill="#9b9b9b"/><rect x="1171.7" y="45.0" width="20.2" height="20.6" fill="#505050"/><rect x="1191.3" y="45.0" width="20.2" height="20.6" fill="#8c8c8c"/><rect x="1210.9" y="45.0" width="20.2" height="20.6" fill="#8c8c8c"/><rect x="1230.5" y="45.0" width="20.2" height="20.6" fill="#878787"/><rect x="1250.2" y="45.0" width="20.2" height="20.6" fill="#787878"/><rect x="1269.8" y="45.0" width="20.2" height="20.6" fill="#8c8c8c"/><rect x="1289.4" y="45.0" width="20.2" height="20.6" fill="#969696"/><rect x="1309.0" y="45.0" width="20.2" height="20.6" fill="#adadad"/><rect x="1328.7" y="45.0" width="20.2" height="20.6" fill="#adadad"/><rect x="1348.3" y="45.0" width="20.2" height="20.6" fill="#adadad"/><rect x="1367.9" y="45.0" width="20.2" height="20.6" fill="#adadad"/><rect x="955.7" y="65.0" width="20.2" height="20.6" fill="#555555"/><rect x="975.4" y="65.0" width="20.2" height="20.6" fill="#555555"/><rect x="995.0" y="65.0" width="20.2" height="20.6" fill="#555555"/><rect x="1014.6" y="65.0" width="20.2" height="20.6" fill="#737373"/><rect x="1034.3" y="65.0" width="20.2" height="20.6" fill="#737373"/><rect x="1053.9" y="65.0" width="20.2" height="20.6" fill="#787878"/><rect x="1073.5" y="65.0" width="20.2" height="20.6" fill="#878787"/><rect x="1093.1" y="65.0" width="20.2" height="20.6" fill="#555555"/><rect x="1112.8" y="65.0" width="20.2" height="20.6" fill="#5f5f5f"/><rect x="1132.4" y="65.0" width="20.2" height="20.6" fill="#878787"/><rect x="1152.0" y="65.0" width="20.2" height="20.6" fill="#969696"/><rect x="1171.7" y="65.0" width="20.2" height="20.6" fill="#787878"/><rect x="1191.3" y="65.0" width="20.2" height="20.6" fill="#afafaf"/><rect x="1210.9" y="65.0" width="20.2" height="20.6" fill="#a5a5a5"/><rect x="1230.5" y="65.0" width="20.2" height="20.6" fill="#828282"/><rect x="1250.2" y="65.0" width="20.2" height="20.6" fill="#878787"/><rect x="1269.8" y="65.0" width="20.2" height="20.6" fill="#8c8c8c"/><rect x="1289.4" y="65.0" width="20.2" height="20.6" fill="#9b9b9b"/><rect x="1309.0" y="65.0" width="20.2" height="20.6" fill="#acacac"/><rect x="1328.7" y="65.0" width="20.2" height="20.6" fill="#adadad"/><rect x="1348.3" y="65.0" width="20.2" height="20.6" fill="#adadad"/><rect x="1367.9" y="65.0" width="20.2" height="20.6" fill="#adadad"/><rect x="955.7" y="85.0" width="20.2" height="20.6" fill="#6e6e6e"/><rect x="975.4" y="85.0" width="20.2" height="20.6" fill="#6e6e6e"/><rect x="995.0" y="85.0" width="20.2" height="20.6" fill="#6e6e6e"/><rect x="1014.6" y="85.0" width="20.2" height="20.6" fill="#828282"/><rect x="1034.3" y="85.0" width="20.2" height="20.6" fill="#969696"/><rect x="1053.9" y="85.0" width="20.2" height="20.6" fill="#aaaaaa"/><rect x="1073.5" y="85.0" width="20.2" height="20.6" fill="#828282"/><rect x="1093.1" y="85.0" width="20.2" height="20.6" fill="#6e6e6e"/><rect x="1112.8" y="85.0" width="20.2" height="20.6" fill="#828282"/><rect x="1132.4" y="85.0" width="20.2" height="20.6" fill="#8c8c8c"/><rect x="1152.0" y="85.0" width="20.2" height="20.6" fill="#8c8c8c"/><rect x="1171.7" y="85.0" width="20.2" height="20.6" fill="#828282"/><rect x="1191.3" y="85.0" width="20.2" height="20.6" fill="#878787"/><rect x="1210.9" y="85.0" width="20.2" height="20.6" fill="#787878"/><rect x="1230.5" y="85.0" width="20.2" height="20.6" fill="#919191"/><rect x="1250.2" y="85.0" width="20.2" height="20.6" fill="#8c8c8c"/><rect x="1269.8" y="85.0" width="20.2" height="20.6" fill="#919191"/><rect x="1289.4" y="85.0" width="20.2" height="20.6" fill="#a0a0a0"/><rect x="1309.0" y="85.0" width="20.2" height="20.6" fill="#acacac"/><rect x="1328.7" y="85.0" width="20.2" height="20.6" fill="#adadad"/><rect x="1348.3" y="85.0" width="20.2" height="20.6" fill="#adadad"/><rect x="1367.9" y="85.0" width="20.2" height="20.6" fill="#adadad"/><rect x="955.7" y="104.9" width="20.2" height="20.6" fill="#787878"/><rect x="975.4" y="104.9" width="20.2" height="20.6" fill="#787878"/><rect x="995.0" y="104.9" width="20.2" height="20.6" fill="#787878"/><rect x="1014.6" y="104.9" width="20.2" height="20.6" fill="#878787"/><rect x="1034.3" y="104.9" width="20.2" height="20.6" fill="#828282"/><rect x="1053.9" y="104.9" width="20.2" height="20.6" fill="#aaaaaa"/><rect x="1073.5" y="104.9" width="20.2" height="20.6" fill="#787878"/><rect x="1093.1" y="104.9" width="20.2" height="20.6" fill="#5f5f5f"/><rect x="1112.8" y="104.9" width="20.2" height="20.6" fill="#8c8c8c"/><rect x="1132.4" y="104.9" width="20.2" height="20.6" fill="#9b9b9b"/><rect x="1152.0" y="104.9" width="20.2" height="20.6" fill="#919191"/><rect x="1171.7" y="104.9" width="20.2" height="20.6" fill="#969696"/><rect x="1191.3" y="104.9" width="20.2" height="20.6" fill="#8c8c8c"/><rect x="1210.9" y="104.9" width="20.2" height="20.6" fill="#a0a0a0"/><rect x="1230.5" y="104.9" width="20.2" height="20.6" fill="#969696"/><rect x="1250.2" y="104.9" width="20.2" height="20.6" fill="#878787"/><rect x="1269.8" y="104.9" width="20.2" height="20.6" fill="#969696"/><rect x="1289.4" y="104.9" width="20.2" height="20.6" fill="#a0a0a0"/><rect x="1309.0" y="104.9" width="20.2" height="20.6" fill="#acacac"/><rect x="1328.7" y="104.9" width="20.2" height="20.6" fill="#adadad"/><rect x="1348.3" y="104.9" width="20.2" height="20.6" fill="#adadad"/><rect x="1367.9" y="104.9" width="20.2" height="20.6" fill="#adadad"/><rect x="955.7" y="124.9" width="20.2" height="20.6" fill="#8c8c8c"/><rect x="975.4" y="124.9" width="20.2" height="20.6" fill="#8c8c8c"/><rect x="995.0" y="124.9" width="20.2" height="20.6" fill="#8c8c8c"/><rect x="1014.6" y="124.9" width="20.2" height="20.6" fill="#969696"/><rect x="1034.3" y="124.9" width="20.2" height="20.6" fill="#828282"/><rect x="1053.9" y="124.9" width="20.2" height="20.6" fill="#737373"/><rect x="1073.5" y="124.9" width="20.2" height="20.6" fill="#696969"/><rect x="1093.1" y="124.9" width="20.2" height="20.6" fill="#8c8c8c"/><rect x="1112.8" y="124.9" width="20.2" height="20.6" fill="#969696"/><rect x="1132.4" y="124.9" width="20.2" height="20.6" fill="#919191"/><rect x="1152.0" y="124.9" width="20.2" height="20.6" fill="#a5a5a5"/><rect x="1171.7" y="124.9" width="20.2" height="20.6" fill="#a0a0a0"/><rect x="1191.3" y="124.9" width="20.2" height="20.6" fill="#969696"/><rect x="1210.9" y="124.9" width="20.2" height="20.6" fill="#969696"/><rect x="1230.5" y="124.9" width="20.2" height="20.6" fill="#a0a0a0"/><rect x="1250.2" y="124.9" width="20.2" height="20.6" fill="#acacac"/><rect x="1269.8" y="124.9" width="20.2" height="20.6" fill="#adadad"/><rect x="1289.4" y="124.9" width="20.2" height="20.6" fill="#adadad"/><rect x="1309.0" y="124.9" width="20.2" height="20.6" fill="#adadad"/><rect x="1328.7" y="124.9" width="20.2" height="20.6" fill="#adadad"/><rect x="1348.3" y="124.9" width="20.2" height="20.6" fill="#adadad"/><rect x="1367.9" y="124.9" width="20.2" height="20.6" fill="#adadad"/><rect x="955.7" y="144.9" width="20.2" height="20.6" fill="#919191"/><rect x="975.4" y="144.9" width="20.2" height="20.6" fill="#919191"/><rect x="995.0" y="144.9" width="20.2" height="20.6" fill="#919191"/><rect x="1014.6" y="144.9" width="20.2" height="20.6" fill="#878787"/><rect x="1034.3" y="144.9" width="20.2" height="20.6" fill="#787878"/><rect x="1053.9" y="144.9" width="20.2" height="20.6" fill="#969696"/><rect x="1073.5" y="144.9" width="20.2" height="20.6" fill="#969696"/><rect x="1093.1" y="144.9" width="20.2" height="20.6" fill="#919191"/><rect x="1112.8" y="144.9" width="20.2" height="20.6" fill="#8c8c8c"/><rect x="1132.4" y="144.9" width="20.2" height="20.6" fill="#969696"/><rect x="1152.0" y="144.9" width="20.2" height="20.6" fill="#9b9b9b"/><rect x="1171.7" y="144.9" width="20.2" height="20.6" fill="#969696"/><rect x="1191.3" y="144.9" width="20.2" height="20.6" fill="#787878"/><rect x="1210.9" y="144.9" width="20.2" height="20.6" fill="#878787"/><rect x="1230.5" y="144.9" width="20.2" height="20.6" fill="#9b9b9b"/><rect x="1250.2" y="144.9" width="20.2" height="20.6" fill="#a5a5a5"/><rect x="1269.8" y="144.9" width="20.2" height="20.6" fill="#acacac"/><rect x="1289.4" y="144.9" width="20.2" height="20.6" fill="#adadad"/><rect x="1309.0" y="144.9" width="20.2" height="20.6" fill="#adadad"/><rect x="1328.7" y="144.9" width="20.2" height="20.6" fill="#adadad"/><rect x="1348.3" y="144.9" width="20.2" height="20.6" fill="#adadad"/><rect x="1367.9" y="144.9" width="20.2" height="20.6" fill="#adadad"/><rect x="955.7" y="164.9" width="20.2" height="20.6" fill="#787878"/><rect x="975.4" y="164.9" width="20.2" height="20.6" fill="#787878"/><rect x="995.0" y="164.9" width="20.2" height="20.6" fill="#787878"/><rect x="1014.6" y="164.9" width="20.2" height="20.6" fill="#6e6e6e"/><rect x="1034.3" y="164.9" width="20.2" height="20.6" fill="#737373"/><rect x="1053.9" y="164.9" width="20.2" height="20.6" fill="#5a5a5a"/><rect x="1073.5" y="164.9" width="20.2" height="20.6" fill="#646464"/><rect x="1093.1" y="164.9" width="20.2" height="20.6" fill="#828282"/><rect x="1112.8" y="164.9" width="20.2" height="20.6" fill="#919191"/><rect x="1132.4" y="164.9" width="20.2" height="20.6" fill="#9b9b9b"/><rect x="1152.0" y="164.9" width="20.2" height="20.6" fill="#969696"/><rect x="1171.7" y="164.9" width="20.2" height="20.6" fill="#919191"/><rect x="1191.3" y="164.9" width="20.2" height="20.6" fill="#969696"/><rect x="1210.9" y="164.9" width="20.2" height="20.6" fill="#969696"/><rect x="1230.5" y="164.9" width="20.2" height="20.6" fill="#969696"/><rect x="1250.2" y="164.9" width="20.2" height="20.6" fill="#a0a0a0"/><rect x="1269.8" y="164.9" width="20.2" height="20.6" fill="#aaaaaa"/><rect x="1289.4" y="164.9" width="20.2" height="20.6" fill="#adadad"/><rect x="1309.0" y="164.9" width="20.2" height="20.6" fill="#adadad"/><rect x="1328.7" y="164.9" width="20.2" height="20.6" fill="#adadad"/><rect x="1348.3" y="164.9" width="20.2" height="20.6" fill="#adadad"/><rect x="1367.9" y="164.9" width="20.2" height="20.6" fill="#adadad"/><rect x="955.7" y="184.9" width="20.2" height="20.6" fill="#646464"/><rect x="975.4" y="184.9" width="20.2" height="20.6" fill="#646464"/><rect x="995.0" y="184.9" width="20.2" height="20.6" fill="#646464"/><rect x="1014.6" y="184.9" width="20.2" height="20.6" fill="#5f5f5f"/><rect x="1034.3" y="184.9" width="20.2" height="20.6" fill="#737373"/><rect x="1053.9" y="184.9" width="20.2" height="20.6" fill="#4b4b4b"/><rect x="1073.5" y="184.9" width="20.2" height="20.6" fill="#505050"/><rect x="1093.1" y="184.9" width="20.2" height="20.6" fill="#787878"/><rect x="1112.8" y="184.9" width="20.2" height="20.6" fill="#737373"/><rect x="1132.4" y="184.9" width="20.2" height="20.6" fill="#969696"/><rect x="1152.0" y="184.9" width="20.2" height="20.6" fill="#919191"/><rect x="1171.7" y="184.9" width="20.2" height="20.6" fill="#8c8c8c"/><rect x="1191.3" y="184.9" width="20.2" height="20.6" fill="#969696"/><rect x="1210.9" y="184.9" width="20.2" height="20.6" fill="#969696"/><rect x="1230.5" y="184.9" width="20.2" height="20.6" fill="#969696"/><rect x="1250.2" y="184.9" width="20.2" height="20.6" fill="#9b9b9b"/><rect x="1269.8" y="184.9" width="20.2" height="20.6" fill="#969696"/><rect x="1289.4" y="184.9" width="20.2" height="20.6" fill="#aaaaaa"/><rect x="1309.0" y="184.9" width="20.2" height="20.6" fill="#adadad"/><rect x="1328.7" y="184.9" width="20.2" height="20.6" fill="#adadad"/><rect x="1348.3" y="184.9" width="20.2" height="20.6" fill="#adadad"/><rect x="1367.9" y="184.9" width="20.2" height="20.6" fill="#adadad"/><rect x="955.7" y="204.9" width="20.2" height="20.6" fill="#696969"/><rect x="975.4" y="204.9" width="20.2" height="20.6" fill="#696969"/><rect x="995.0" y="204.9" width="20.2" height="20.6" fill="#696969"/><rect x="1014.6" y="204.9" width="20.2" height="20.6" fill="#737373"/><rect x="1034.3" y="204.9" width="20.2" height="20.6" fill="#9b9b9b"/><rect x="1053.9" y="204.9" width="20.2" height="20.6" fill="#787878"/><rect x="1073.5" y="204.9" width="20.2" height="20.6" fill="#646464"/><rect x="1093.1" y="204.9" width="20.2" height="20.6" fill="#828282"/><rect x="1112.8" y="204.9" width="20.2" height="20.6" fill="#5f5f5f"/><rect x="1132.4" y="204.9" width="20.2" height="20.6" fill="#969696"/><rect x="1152.0" y="204.9" width="20.2" height="20.6" fill="#919191"/><rect x="1171.7" y="204.9" width="20.2" height="20.6" fill="#969696"/><rect x="1191.3" y="204.9" width="20.2" height="20.6" fill="#969696"/><rect x="1210.9" y="204.9" width="20.2" height="20.6" fill="#969696"/><rect x="1230.5" y="204.9" width="20.2" height="20.6" fill="#969696"/><rect x="1250.2" y="204.9" width="20.2" height="20.6" fill="#969696"/><rect x="1269.8" y="204.9" width="20.2" height="20.6" fill="#878787"/><rect x="1289.4" y="204.9" width="20.2" height="20.6" fill="#a0a0a0"/><rect x="1309.0" y="204.9" width="20.2" height="20.6" fill="#adadad"/><rect x="1328.7" y="204.9" width="20.2" height="20.6" fill="#adadad"/><rect x="1348.3" y="204.9" width="20.2" height="20.6" fill="#adadad"/><rect x="1367.9" y="204.9" width="20.2" height="20.6" fill="#adadad"/><rect x="955.7" y="224.9" width="20.2" height="20.6" fill="#6e6e6e"/><rect x="975.4" y="224.9" width="20.2" height="20.6" fill="#6e6e6e"/><rect x="995.0" y="224.9" width="20.2" height="20.6" fill="#6e6e6e"/><rect x="1014.6" y="224.9" width="20.2" height="20.6" fill="#787878"/><rect x="1034.3" y="224.9" width="20.2" height="20.6" fill="#a5a5a5"/><rect x="1053.9" y="224.9" width="20.2" height="20.6" fill="#aaaaaa"/><rect x="1073.5" y="224.9" width="20.2" height="20.6" fill="#969696"/><rect x="1093.1" y="224.9" width="20.2" height="20.6" fill="#8c8c8c"/><rect x="1112.8" y="224.9" width="20.2" height="20.6" fill="#787878"/><rect x="1132.4" y="224.9" width="20.2" height="20.6" fill="#969696"/><rect x="1152.0" y="224.9" width="20.2" height="20.6" fill="#969696"/><rect x="1171.7" y="224.9" width="20.2" height="20.6" fill="#919191"/><rect x="1191.3" y="224.9" width="20.2" height="20.6" fill="#969696"/><rect x="1210.9" y="224.9" width="20.2" height="20.6" fill="#828282"/><rect x="1230.5" y="224.9" width="20.2" height="20.6" fill="#919191"/><rect x="1250.2" y="224.9" width="20.2" height="20.6" fill="#9b9b9b"/><rect x="1269.8" y="224.9" width="20.2" height="20.6" fill="#969696"/><rect x="1289.4" y="224.9" width="20.2" height="20.6" fill="#a0a0a0"/><rect x="1309.0" y="224.9" width="20.2" height="20.6" fill="#acacac"/><rect x="1328.7" y="224.9" width="20.2" height="20.6" fill="#adadad"/><rect x="1348.3" y="224.9" width="20.2" height="20.6" fill="#adadad"/><rect x="1367.9" y="224.9" width="20.2" height="20.6" fill="#adadad"/><rect x="955.7" y="244.9" width="20.2" height="20.6" fill="#8c8c8c"/><rect x="975.4" y="244.9" width="20.2" height="20.6" fill="#8c8c8c"/><rect x="995.0" y="244.9" width="20.2" height="20.6" fill="#8c8c8c"/><rect x="1014.6" y="244.9" width="20.2" height="20.6" fill="#787878"/><rect x="1034.3" y="244.9" width="20.2" height="20.6" fill="#696969"/><rect x="1053.9" y="244.9" width="20.2" height="20.6" fill="#828282"/><rect x="1073.5" y="244.9" width="20.2" height="20.6" fill="#7d7d7d"/><rect x="1093.1" y="244.9" width="20.2" height="20.6" fill="#a0a0a0"/><rect x="1112.8" y="244.9" width="20.2" height="20.6" fill="#969696"/><rect x="1132.4" y="244.9" width="20.2" height="20.6" fill="#919191"/><rect x="1152.0" y="244.9" width="20.2" height="20.6" fill="#a0a0a0"/><rect x="1171.7" y="244.9" width="20.2" height="20.6" fill="#a5a5a5"/><rect x="1191.3" y="244.9" width="20.2" height="20.6" fill="#a5a5a5"/><rect x="1210.9" y="244.9" width="20.2" height="20.6" fill="#a0a0a0"/><rect x="1230.5" y="244.9" width="20.2" height="20.6" fill="#969696"/><rect x="1250.2" y="244.9" width="20.2" height="20.6" fill="#9b9b9b"/><rect x="1269.8" y="244.9" width="20.2" height="20.6" fill="#a0a0a0"/><rect x="1289.4" y="244.9" width="20.2" height="20.6" fill="#aaaaaa"/><rect x="1309.0" y="244.9" width="20.2" height="20.6" fill="#adadad"/><rect x="1328.7" y="244.9" width="20.2" height="20.6" fill="#adadad"/><rect x="1348.3" y="244.9" width="20.2" height="20.6" fill="#adadad"/><rect x="1367.9" y="244.9" width="20.2" height="20.6" fill="#adadad"/><rect x="955.7" y="264.9" width="20.2" height="20.6" fill="#878787"/><rect x="975.4" y="264.9" width="20.2" height="20.6" fill="#878787"/><rect x="995.0" y="264.9" width="20.2" height="20.6" fill="#878787"/><rect x="1014.6" y="264.9" width="20.2" height="20.6" fill="#7d7d7d"/><rect x="1034.3" y="264.9" width="20.2" height="20.6" fill="#7d7d7d"/><rect x="1053.9" y="264.9" width="20.2" height="20.6" fill="#a5a5a5"/><rect x="1073.5" y="264.9" width="20.2" height="20.6" fill="#afafaf"/><rect x="1093.1" y="264.9" width="20.2" height="20.6" fill="#aaaaaa"/><rect x="1112.8" y="264.9" width="20.2" height="20.6" fill="#969696"/><rect x="1132.4" y="264.9" width="20.2" height="20.6" fill="#969696"/><rect x="1152.0" y="264.9" width="20.2" height="20.6" fill="#a0a0a0"/><rect x="1171.7" y="264.9" width="20.2" height="20.6" fill="#a5a5a5"/><rect x="1191.3" y="264.9" width="20.2" height="20.6" fill="#a0a0a0"/><rect x="1210.9" y="264.9" width="20.2" height="20.6" fill="#a0a0a0"/><rect x="1230.5" y="264.9" width="20.2" height="20.6" fill="#9b9b9b"/><rect x="1250.2" y="264.9" width="20.2" height="20.6" fill="#a0a0a0"/><rect x="1269.8" y="264.9" width="20.2" height="20.6" fill="#a5a5a5"/><rect x="1289.4" y="264.9" width="20.2" height="20.6" fill="#acacac"/><rect x="1309.0" y="264.9" width="20.2" height="20.6" fill="#adadad"/><rect x="1328.7" y="264.9" width="20.2" height="20.6" fill="#adadad"/><rect x="1348.3" y="264.9" width="20.2" height="20.6" fill="#adadad"/><rect x="1367.9" y="264.9" width="20.2" height="20.6" fill="#adadad"/><rect x="955.7" y="284.8" width="20.2" height="20.6" fill="#828282"/><rect x="975.4" y="284.8" width="20.2" height="20.6" fill="#828282"/><rect x="995.0" y="284.8" width="20.2" height="20.6" fill="#828282"/><rect x="1014.6" y="284.8" width="20.2" height="20.6" fill="#828282"/><rect x="1034.3" y="284.8" width="20.2" height="20.6" fill="#7d7d7d"/><rect x="1053.9" y="284.8" width="20.2" height="20.6" fill="#919191"/><rect x="1073.5" y="284.8" width="20.2" height="20.6" fill="#afafaf"/><rect x="1093.1" y="284.8" width="20.2" height="20.6" fill="#aaaaaa"/><rect x="1112.8" y="284.8" width="20.2" height="20.6" fill="#878787"/><rect x="1132.4" y="284.8" width="20.2" height="20.6" fill="#8c8c8c"/><rect x="1152.0" y="284.8" width="20.2" height="20.6" fill="#a0a0a0"/><rect x="1171.7" y="284.8" width="20.2" height="20.6" fill="#a0a0a0"/><rect x="1191.3" y="284.8" width="20.2" height="20.6" fill="#a5a5a5"/><rect x="1210.9" y="284.8" width="20.2" height="20.6" fill="#a5a5a5"/><rect x="1230.5" y="284.8" width="20.2" height="20.6" fill="#a0a0a0"/><rect x="1250.2" y="284.8" width="20.2" height="20.6" fill="#a5a5a5"/><rect x="1269.8" y="284.8" width="20.2" height="20.6" fill="#aaaaaa"/><rect x="1289.4" y="284.8" width="20.2" height="20.6" fill="#adadad"/><rect x="1309.0" y="284.8" width="20.2" height="20.6" fill="#adadad"/><rect x="1328.7" y="284.8" width="20.2" height="20.6" fill="#adadad"/><rect x="1348.3" y="284.8" width="20.2" height="20.6" fill="#adadad"/><rect x="1367.9" y="284.8" width="20.2" height="20.6" fill="#adadad"/><rect x="955.7" y="304.8" width="20.2" height="20.6" fill="#787878"/><rect x="975.4" y="304.8" width="20.2" height="20.6" fill="#787878"/><rect x="995.0" y="304.8" width="20.2" height="20.6" fill="#787878"/><rect x="1014.6" y="304.8" width="20.2" height="20.6" fill="#828282"/><rect x="1034.3" y="304.8" width="20.2" height="20.6" fill="#828282"/><rect x="1053.9" y="304.8" width="20.2" height="20.6" fill="#8c8c8c"/><rect x="1073.5" y="304.8" width="20.2" height="20.6" fill="#9b9b9b"/><rect x="1093.1" y="304.8" width="20.2" height="20.6" fill="#a0a0a0"/><rect x="1112.8" y="304.8" width="20.2" height="20.6" fill="#8c8c8c"/><rect x="1132.4" y="304.8" width="20.2" height="20.6" fill="#8c8c8c"/><rect x="1152.0" y="304.8" width="20.2" height="20.6" fill="#a0a0a0"/><rect x="1171.7" y="304.8" width="20.2" height="20.6" fill="#aaaaaa"/><rect x="1191.3" y="304.8" width="20.2" height="20.6" fill="#aaaaaa"/><rect x="1210.9" y="304.8" width="20.2" height="20.6" fill="#aaaaaa"/><rect x="1230.5" y="304.8" width="20.2" height="20.6" fill="#aaaaaa"/><rect x="1250.2" y="304.8" width="20.2" height="20.6" fill="#aaaaaa"/><rect x="1269.8" y="304.8" width="20.2" height="20.6" fill="#acacac"/><rect x="1289.4" y="304.8" width="20.2" height="20.6" fill="#adadad"/><rect x="1309.0" y="304.8" width="20.2" height="20.6" fill="#adadad"/><rect x="1328.7" y="304.8" width="20.2" height="20.6" fill="#adadad"/><rect x="1348.3" y="304.8" width="20.2" height="20.6" fill="#adadad"/><rect x="1367.9" y="304.8" width="20.2" height="20.6" fill="#adadad"/><rect x="955.7" y="324.8" width="20.2" height="20.6" fill="#828282"/><rect x="975.4" y="324.8" width="20.2" height="20.6" fill="#828282"/><rect x="995.0" y="324.8" width="20.2" height="20.6" fill="#828282"/><rect x="1014.6" y="324.8" width="20.2" height="20.6" fill="#6e6e6e"/><rect x="1034.3" y="324.8" width="20.2" height="20.6" fill="#828282"/><rect x="1053.9" y="324.8" width="20.2" height="20.6" fill="#878787"/><rect x="1073.5" y="324.8" width="20.2" height="20.6" fill="#969696"/><rect x="1093.1" y="324.8" width="20.2" height="20.6" fill="#a0a0a0"/><rect x="1112.8" y="324.8" width="20.2" height="20.6" fill="#969696"/><rect x="1132.4" y="324.8" width="20.2" height="20.6" fill="#919191"/><rect x="1152.0" y="324.8" width="20.2" height="20.6" fill="#aaaaaa"/><rect x="1171.7" y="324.8" width="20.2" height="20.6" fill="#acacac"/><rect x="1191.3" y="324.8" width="20.2" height="20.6" fill="#acacac"/><rect x="1210.9" y="324.8" width="20.2" height="20.6" fill="#acacac"/><rect x="1230.5" y="324.8" width="20.2" height="20.6" fill="#acacac"/><rect x="1250.2" y="324.8" width="20.2" height="20.6" fill="#acacac"/><rect x="1269.8" y="324.8" width="20.2" height="20.6" fill="#acacac"/><rect x="1289.4" y="324.8" width="20.2" height="20.6" fill="#adadad"/><rect x="1309.0" y="324.8" width="20.2" height="20.6" fill="#adadad"/><rect x="1328.7" y="324.8" width="20.2" height="20.6" fill="#adadad"/><rect x="1348.3" y="324.8" width="20.2" height="20.6" fill="#adadad"/><rect x="1367.9" y="324.8" width="20.2" height="20.6" fill="#adadad"/><rect x="955.7" y="344.8" width="20.2" height="20.6" fill="#878787"/><rect x="975.4" y="344.8" width="20.2" height="20.6" fill="#878787"/><rect x="995.0" y="344.8" width="20.2" height="20.6" fill="#878787"/><rect x="1014.6" y="344.8" width="20.2" height="20.6" fill="#8c8c8c"/><rect x="1034.3" y="344.8" width="20.2" height="20.6" fill="#8c8c8c"/><rect x="1053.9" y="344.8" width="20.2" height="20.6" fill="#8c8c8c"/><rect x="1073.5" y="344.8" width="20.2" height="20.6" fill="#969696"/><rect x="1093.1" y="344.8" width="20.2" height="20.6" fill="#9b9b9b"/><rect x="1112.8" y="344.8" width="20.2" height="20.6" fill="#a0a0a0"/><rect x="1132.4" y="344.8" width="20.2" height="20.6" fill="#9b9b9b"/><rect x="1152.0" y="344.8" width="20.2" height="20.6" fill="#acacac"/><rect x="1171.7" y="344.8" width="20.2" height="20.6" fill="#acacac"/><rect x="1191.3" y="344.8" width="20.2" height="20.6" fill="#acacac"/><rect x="1210.9" y="344.8" width="20.2" height="20.6" fill="#acacac"/><rect x="1230.5" y="344.8" width="20.2" height="20.6" fill="#acacac"/><rect x="1250.2" y="344.8" width="20.2" height="20.6" fill="#acacac"/><rect x="1269.8" y="344.8" width="20.2" height="20.6" fill="#acacac"/><rect x="1289.4" y="344.8" width="20.2" height="20.6" fill="#adadad"/><rect x="1309.0" y="344.8" width="20.2" height="20.6" fill="#adadad"/><rect x="1328.7" y="344.8" width="20.2" height="20.6" fill="#adadad"/><rect x="1348.3" y="344.8" width="20.2" height="20.6" fill="#adadad"/><rect x="1367.9" y="344.8" width="20.2" height="20.6" fill="#adadad"/><rect x="955.7" y="364.8" width="20.2" height="20.6" fill="#878787"/><rect x="975.4" y="364.8" width="20.2" height="20.6" fill="#878787"/><rect x="995.0" y="364.8" width="20.2" height="20.6" fill="#878787"/><rect x="1014.6" y="364.8" width="20.2" height="20.6" fill="#8c8c8c"/><rect x="1034.3" y="364.8" width="20.2" height="20.6" fill="#8c8c8c"/><rect x="1053.9" y="364.8" width="20.2" height="20.6" fill="#8c8c8c"/><rect x="1073.5" y="364.8" width="20.2" height="20.6" fill="#969696"/><rect x="1093.1" y="364.8" width="20.2" height="20.6" fill="#9b9b9b"/><rect x="1112.8" y="364.8" width="20.2" height="20.6" fill="#a0a0a0"/><rect x="1132.4" y="364.8" width="20.2" height="20.6" fill="#9b9b9b"/><rect x="1152.0" y="364.8" width="20.2" height="20.6" fill="#acacac"/><rect x="1171.7" y="364.8" width="20.2" height="20.6" fill="#acacac"/><rect x="1191.3" y="364.8" width="20.2" height="20.6" fill="#acacac"/><rect x="1210.9" y="364.8" width="20.2" height="20.6" fill="#acacac"/><rect x="1230.5" y="364.8" width="20.2" height="20.6" fill="#acacac"/><rect x="1250.2" y="364.8" width="20.2" height="20.6" fill="#acacac"/><rect x="1269.8" y="364.8" width="20.2" height="20.6" fill="#acacac"/><rect x="1289.4" y="364.8" width="20.2" height="20.6" fill="#adadad"/><rect x="1309.0" y="364.8" width="20.2" height="20.6" fill="#adadad"/><rect x="1328.7" y="364.8" width="20.2" height="20.6" fill="#adadad"/><rect x="1348.3" y="364.8" width="20.2" height="20.6" fill="#adadad"/><rect x="1367.9" y="364.8" width="20.2" height="20.6" fill="#adadad"/><rect x="955.7" y="384.8" width="20.2" height="20.6" fill="#878787"/><rect x="975.4" y="384.8" width="20.2" height="20.6" fill="#878787"/><rect x="995.0" y="384.8" width="20.2" height="20.6" fill="#878787"/><rect x="1014.6" y="384.8" width="20.2" height="20.6" fill="#8c8c8c"/><rect x="1034.3" y="384.8" width="20.2" height="20.6" fill="#8c8c8c"/><rect x="1053.9" y="384.8" width="20.2" height="20.6" fill="#8c8c8c"/><rect x="1073.5" y="384.8" width="20.2" height="20.6" fill="#969696"/><rect x="1093.1" y="384.8" width="20.2" height="20.6" fill="#9b9b9b"/><rect x="1112.8" y="384.8" width="20.2" height="20.6" fill="#a0a0a0"/><rect x="1132.4" y="384.8" width="20.2" height="20.6" fill="#9b9b9b"/><rect x="1152.0" y="384.8" width="20.2" height="20.6" fill="#acacac"/><rect x="1171.7" y="384.8" width="20.2" height="20.6" fill="#acacac"/><rect x="1191.3" y="384.8" width="20.2" height="20.6" fill="#acacac"/><rect x="1210.9" y="384.8" width="20.2" height="20.6" fill="#acacac"/><rect x="1230.5" y="384.8" width="20.2" height="20.6" fill="#acacac"/><rect x="1250.2" y="384.8" width="20.2" height="20.6" fill="#acacac"/><rect x="1269.8" y="384.8" width="20.2" height="20.6" fill="#acacac"/><rect x="1289.4" y="384.8" width="20.2" height="20.6" fill="#adadad"/><rect x="1309.0" y="384.8" width="20.2" height="20.6" fill="#adadad"/><rect x="1328.7" y="384.8" width="20.2" height="20.6" fill="#adadad"/><rect x="1348.3" y="384.8" width="20.2" height="20.6" fill="#adadad"/><rect x="1367.9" y="384.8" width="20.2" height="20.6" fill="#adadad"/><ellipse cx="1068" cy="193" rx="18" ry="16" fill="#373737"/><ellipse cx="1117" cy="206" rx="9" ry="11" fill="#414141"/><ellipse cx="1064" cy="164" rx="5" ry="5" fill="#c8c8c8"/><ellipse cx="1081" cy="222" rx="5" ry="6" fill="#c8c8c8"/><ellipse cx="1100" cy="52" rx="12" ry="16" fill="#464646"/><ellipse cx="1174" cy="55" rx="7" ry="8" fill="#373737"/><ellipse cx="1075" cy="148" rx="6" ry="6" fill="#464646"/><ellipse cx="1036" cy="246" rx="8" ry="8" fill="#505050"/><ellipse cx="1000" cy="45" rx="6" ry="30" fill="#4b4b4b"/><ellipse cx="1085" cy="290" rx="25" ry="25" fill="#b4b4b4"/><ellipse cx="1058" cy="100" rx="12" ry="15" fill="#afafaf"/><ellipse cx="1210" cy="65" rx="12" ry="12" fill="#b9b9b9"/><ellipse cx="1195" cy="88" rx="10" ry="10" fill="#5f5f5f"/><ellipse cx="1260" cy="95" rx="9" ry="9" fill="#6e6e6e"/><ellipse cx="1269" cy="55" rx="8" ry="8" fill="#696969"/><ellipse cx="1232" cy="232" rx="12" ry="14" fill="#646464"/><ellipse cx="1012" cy="205" rx="14" ry="28" fill="#5a5a5a"/><ellipse cx="1002" cy="300" rx="8" ry="25" fill="#646464"/><ellipse cx="1030" cy="330" rx="7" ry="8" fill="#5f5f5f"/><ellipse cx="1280" cy="215" rx="9" ry="8" fill="#737373"/></g><polygon points="1236,132 1250,155 1270,178 1292,200 1309,235 1300,250 1288,270 1278,290 1272,305 1270,316 1236,316" fill="#a2a2a2" opacity="0.5" filter="url(#fV)"/><polygon points="1282,5 1300,20 1308,35 1312,60 1314,90 1312,120 1290,124 1262,124 1240,122 1231,128 1231,134 1250,155 1270,178 1292,200 1309,235 1300,250 1288,270 1278,290 1272,305 1270,316 1157,316 1157,370 1350,370 1350,5" fill="url(#gV)" filter="url(#fV)"/></g>
<!-- TEM c -->
<g clip-path="url(#clipC)"><g filter="url(#fC)"><rect x="952.4" y="377.4" width="20.1" height="21.1" fill="#7d7d7d"/><rect x="972.0" y="377.4" width="20.1" height="21.1" fill="#7d7d7d"/><rect x="991.5" y="377.4" width="20.1" height="21.1" fill="#7d7d7d"/><rect x="1011.0" y="377.4" width="20.1" height="21.1" fill="#787878"/><rect x="1030.6" y="377.4" width="20.1" height="21.1" fill="#787878"/><rect x="1050.1" y="377.4" width="20.1" height="21.1" fill="#787878"/><rect x="1069.6" y="377.4" width="20.1" height="21.1" fill="#828282"/><rect x="1089.1" y="377.4" width="20.1" height="21.1" fill="#828282"/><rect x="1108.7" y="377.4" width="20.1" height="21.1" fill="#6e6e6e"/><rect x="1128.2" y="377.4" width="20.1" height="21.1" fill="#5f5f5f"/><rect x="1147.7" y="377.4" width="20.1" height="21.1" fill="#828282"/><rect x="1167.2" y="377.4" width="20.1" height="21.1" fill="#7d7d7d"/><rect x="1186.8" y="377.4" width="20.1" height="21.1" fill="#787878"/><rect x="1206.3" y="377.4" width="20.1" height="21.1" fill="#646464"/><rect x="1225.8" y="377.4" width="20.1" height="21.1" fill="#6e6e6e"/><rect x="1245.4" y="377.4" width="20.1" height="21.1" fill="#464646"/><rect x="1264.9" y="377.4" width="20.1" height="21.1" fill="#6e6e6e"/><rect x="1284.4" y="377.4" width="20.1" height="21.1" fill="#737373"/><rect x="1303.9" y="377.4" width="20.1" height="21.1" fill="#646464"/><rect x="1323.5" y="377.4" width="20.1" height="21.1" fill="#6e6e6e"/><rect x="1343.0" y="377.4" width="20.1" height="21.1" fill="#6e6e6e"/><rect x="1362.5" y="377.4" width="20.1" height="21.1" fill="#6e6e6e"/><rect x="952.4" y="397.9" width="20.1" height="21.1" fill="#7d7d7d"/><rect x="972.0" y="397.9" width="20.1" height="21.1" fill="#7d7d7d"/><rect x="991.5" y="397.9" width="20.1" height="21.1" fill="#7d7d7d"/><rect x="1011.0" y="397.9" width="20.1" height="21.1" fill="#787878"/><rect x="1030.6" y="397.9" width="20.1" height="21.1" fill="#787878"/><rect x="1050.1" y="397.9" width="20.1" height="21.1" fill="#787878"/><rect x="1069.6" y="397.9" width="20.1" height="21.1" fill="#828282"/><rect x="1089.1" y="397.9" width="20.1" height="21.1" fill="#828282"/><rect x="1108.7" y="397.9" width="20.1" height="21.1" fill="#6e6e6e"/><rect x="1128.2" y="397.9" width="20.1" height="21.1" fill="#5f5f5f"/><rect x="1147.7" y="397.9" width="20.1" height="21.1" fill="#828282"/><rect x="1167.2" y="397.9" width="20.1" height="21.1" fill="#7d7d7d"/><rect x="1186.8" y="397.9" width="20.1" height="21.1" fill="#787878"/><rect x="1206.3" y="397.9" width="20.1" height="21.1" fill="#646464"/><rect x="1225.8" y="397.9" width="20.1" height="21.1" fill="#6e6e6e"/><rect x="1245.4" y="397.9" width="20.1" height="21.1" fill="#464646"/><rect x="1264.9" y="397.9" width="20.1" height="21.1" fill="#6e6e6e"/><rect x="1284.4" y="397.9" width="20.1" height="21.1" fill="#737373"/><rect x="1303.9" y="397.9" width="20.1" height="21.1" fill="#646464"/><rect x="1323.5" y="397.9" width="20.1" height="21.1" fill="#6e6e6e"/><rect x="1343.0" y="397.9" width="20.1" height="21.1" fill="#6e6e6e"/><rect x="1362.5" y="397.9" width="20.1" height="21.1" fill="#6e6e6e"/><rect x="952.4" y="418.4" width="20.1" height="21.1" fill="#7d7d7d"/><rect x="972.0" y="418.4" width="20.1" height="21.1" fill="#7d7d7d"/><rect x="991.5" y="418.4" width="20.1" height="21.1" fill="#7d7d7d"/><rect x="1011.0" y="418.4" width="20.1" height="21.1" fill="#787878"/><rect x="1030.6" y="418.4" width="20.1" height="21.1" fill="#787878"/><rect x="1050.1" y="418.4" width="20.1" height="21.1" fill="#787878"/><rect x="1069.6" y="418.4" width="20.1" height="21.1" fill="#828282"/><rect x="1089.1" y="418.4" width="20.1" height="21.1" fill="#828282"/><rect x="1108.7" y="418.4" width="20.1" height="21.1" fill="#6e6e6e"/><rect x="1128.2" y="418.4" width="20.1" height="21.1" fill="#5f5f5f"/><rect x="1147.7" y="418.4" width="20.1" height="21.1" fill="#828282"/><rect x="1167.2" y="418.4" width="20.1" height="21.1" fill="#7d7d7d"/><rect x="1186.8" y="418.4" width="20.1" height="21.1" fill="#787878"/><rect x="1206.3" y="418.4" width="20.1" height="21.1" fill="#646464"/><rect x="1225.8" y="418.4" width="20.1" height="21.1" fill="#6e6e6e"/><rect x="1245.4" y="418.4" width="20.1" height="21.1" fill="#464646"/><rect x="1264.9" y="418.4" width="20.1" height="21.1" fill="#6e6e6e"/><rect x="1284.4" y="418.4" width="20.1" height="21.1" fill="#737373"/><rect x="1303.9" y="418.4" width="20.1" height="21.1" fill="#646464"/><rect x="1323.5" y="418.4" width="20.1" height="21.1" fill="#6e6e6e"/><rect x="1343.0" y="418.4" width="20.1" height="21.1" fill="#6e6e6e"/><rect x="1362.5" y="418.4" width="20.1" height="21.1" fill="#6e6e6e"/><rect x="952.4" y="438.9" width="20.1" height="21.1" fill="#737373"/><rect x="972.0" y="438.9" width="20.1" height="21.1" fill="#737373"/><rect x="991.5" y="438.9" width="20.1" height="21.1" fill="#737373"/><rect x="1011.0" y="438.9" width="20.1" height="21.1" fill="#787878"/><rect x="1030.6" y="438.9" width="20.1" height="21.1" fill="#787878"/><rect x="1050.1" y="438.9" width="20.1" height="21.1" fill="#787878"/><rect x="1069.6" y="438.9" width="20.1" height="21.1" fill="#7d7d7d"/><rect x="1089.1" y="438.9" width="20.1" height="21.1" fill="#828282"/><rect x="1108.7" y="438.9" width="20.1" height="21.1" fill="#6e6e6e"/><rect x="1128.2" y="438.9" width="20.1" height="21.1" fill="#5a5a5a"/><rect x="1147.7" y="438.9" width="20.1" height="21.1" fill="#787878"/><rect x="1167.2" y="438.9" width="20.1" height="21.1" fill="#787878"/><rect x="1186.8" y="438.9" width="20.1" height="21.1" fill="#7d7d7d"/><rect x="1206.3" y="438.9" width="20.1" height="21.1" fill="#5f5f5f"/><rect x="1225.8" y="438.9" width="20.1" height="21.1" fill="#5f5f5f"/><rect x="1245.4" y="438.9" width="20.1" height="21.1" fill="#464646"/><rect x="1264.9" y="438.9" width="20.1" height="21.1" fill="#787878"/><rect x="1284.4" y="438.9" width="20.1" height="21.1" fill="#787878"/><rect x="1303.9" y="438.9" width="20.1" height="21.1" fill="#737373"/><rect x="1323.5" y="438.9" width="20.1" height="21.1" fill="#828282"/><rect x="1343.0" y="438.9" width="20.1" height="21.1" fill="#828282"/><rect x="1362.5" y="438.9" width="20.1" height="21.1" fill="#828282"/><rect x="952.4" y="459.4" width="20.1" height="21.1" fill="#6e6e6e"/><rect x="972.0" y="459.4" width="20.1" height="21.1" fill="#6e6e6e"/><rect x="991.5" y="459.4" width="20.1" height="21.1" fill="#6e6e6e"/><rect x="1011.0" y="459.4" width="20.1" height="21.1" fill="#787878"/><rect x="1030.6" y="459.4" width="20.1" height="21.1" fill="#787878"/><rect x="1050.1" y="459.4" width="20.1" height="21.1" fill="#787878"/><rect x="1069.6" y="459.4" width="20.1" height="21.1" fill="#787878"/><rect x="1089.1" y="459.4" width="20.1" height="21.1" fill="#878787"/><rect x="1108.7" y="459.4" width="20.1" height="21.1" fill="#828282"/><rect x="1128.2" y="459.4" width="20.1" height="21.1" fill="#5f5f5f"/><rect x="1147.7" y="459.4" width="20.1" height="21.1" fill="#787878"/><rect x="1167.2" y="459.4" width="20.1" height="21.1" fill="#8c8c8c"/><rect x="1186.8" y="459.4" width="20.1" height="21.1" fill="#878787"/><rect x="1206.3" y="459.4" width="20.1" height="21.1" fill="#878787"/><rect x="1225.8" y="459.4" width="20.1" height="21.1" fill="#5a5a5a"/><rect x="1245.4" y="459.4" width="20.1" height="21.1" fill="#737373"/><rect x="1264.9" y="459.4" width="20.1" height="21.1" fill="#737373"/><rect x="1284.4" y="459.4" width="20.1" height="21.1" fill="#787878"/><rect x="1303.9" y="459.4" width="20.1" height="21.1" fill="#828282"/><rect x="1323.5" y="459.4" width="20.1" height="21.1" fill="#969696"/><rect x="1343.0" y="459.4" width="20.1" height="21.1" fill="#969696"/><rect x="1362.5" y="459.4" width="20.1" height="21.1" fill="#969696"/><rect x="952.4" y="480.0" width="20.1" height="21.1" fill="#696969"/><rect x="972.0" y="480.0" width="20.1" height="21.1" fill="#696969"/><rect x="991.5" y="480.0" width="20.1" height="21.1" fill="#696969"/><rect x="1011.0" y="480.0" width="20.1" height="21.1" fill="#737373"/><rect x="1030.6" y="480.0" width="20.1" height="21.1" fill="#737373"/><rect x="1050.1" y="480.0" width="20.1" height="21.1" fill="#737373"/><rect x="1069.6" y="480.0" width="20.1" height="21.1" fill="#7d7d7d"/><rect x="1089.1" y="480.0" width="20.1" height="21.1" fill="#828282"/><rect x="1108.7" y="480.0" width="20.1" height="21.1" fill="#8c8c8c"/><rect x="1128.2" y="480.0" width="20.1" height="21.1" fill="#5f5f5f"/><rect x="1147.7" y="480.0" width="20.1" height="21.1" fill="#878787"/><rect x="1167.2" y="480.0" width="20.1" height="21.1" fill="#8c8c8c"/><rect x="1186.8" y="480.0" width="20.1" height="21.1" fill="#969696"/><rect x="1206.3" y="480.0" width="20.1" height="21.1" fill="#8c8c8c"/><rect x="1225.8" y="480.0" width="20.1" height="21.1" fill="#7d7d7d"/><rect x="1245.4" y="480.0" width="20.1" height="21.1" fill="#7d7d7d"/><rect x="1264.9" y="480.0" width="20.1" height="21.1" fill="#787878"/><rect x="1284.4" y="480.0" width="20.1" height="21.1" fill="#7d7d7d"/><rect x="1303.9" y="480.0" width="20.1" height="21.1" fill="#828282"/><rect x="1323.5" y="480.0" width="20.1" height="21.1" fill="#8c8c8c"/><rect x="1343.0" y="480.0" width="20.1" height="21.1" fill="#8c8c8c"/><rect x="1362.5" y="480.0" width="20.1" height="21.1" fill="#8c8c8c"/><rect x="952.4" y="500.5" width="20.1" height="21.1" fill="#787878"/><rect x="972.0" y="500.5" width="20.1" height="21.1" fill="#787878"/><rect x="991.5" y="500.5" width="20.1" height="21.1" fill="#787878"/><rect x="1011.0" y="500.5" width="20.1" height="21.1" fill="#737373"/><rect x="1030.6" y="500.5" width="20.1" height="21.1" fill="#6e6e6e"/><rect x="1050.1" y="500.5" width="20.1" height="21.1" fill="#787878"/><rect x="1069.6" y="500.5" width="20.1" height="21.1" fill="#787878"/><rect x="1089.1" y="500.5" width="20.1" height="21.1" fill="#7d7d7d"/><rect x="1108.7" y="500.5" width="20.1" height="21.1" fill="#737373"/><rect x="1128.2" y="500.5" width="20.1" height="21.1" fill="#737373"/><rect x="1147.7" y="500.5" width="20.1" height="21.1" fill="#787878"/><rect x="1167.2" y="500.5" width="20.1" height="21.1" fill="#6e6e6e"/><rect x="1186.8" y="500.5" width="20.1" height="21.1" fill="#6e6e6e"/><rect x="1206.3" y="500.5" width="20.1" height="21.1" fill="#6e6e6e"/><rect x="1225.8" y="500.5" width="20.1" height="21.1" fill="#828282"/><rect x="1245.4" y="500.5" width="20.1" height="21.1" fill="#8c8c8c"/><rect x="1264.9" y="500.5" width="20.1" height="21.1" fill="#787878"/><rect x="1284.4" y="500.5" width="20.1" height="21.1" fill="#7d7d7d"/><rect x="1303.9" y="500.5" width="20.1" height="21.1" fill="#787878"/><rect x="1323.5" y="500.5" width="20.1" height="21.1" fill="#828282"/><rect x="1343.0" y="500.5" width="20.1" height="21.1" fill="#828282"/><rect x="1362.5" y="500.5" width="20.1" height="21.1" fill="#828282"/><rect x="952.4" y="521.0" width="20.1" height="21.1" fill="#7d7d7d"/><rect x="972.0" y="521.0" width="20.1" height="21.1" fill="#7d7d7d"/><rect x="991.5" y="521.0" width="20.1" height="21.1" fill="#7d7d7d"/><rect x="1011.0" y="521.0" width="20.1" height="21.1" fill="#828282"/><rect x="1030.6" y="521.0" width="20.1" height="21.1" fill="#828282"/><rect x="1050.1" y="521.0" width="20.1" height="21.1" fill="#7d7d7d"/><rect x="1069.6" y="521.0" width="20.1" height="21.1" fill="#787878"/><rect x="1089.1" y="521.0" width="20.1" height="21.1" fill="#787878"/><rect x="1108.7" y="521.0" width="20.1" height="21.1" fill="#787878"/><rect x="1128.2" y="521.0" width="20.1" height="21.1" fill="#787878"/><rect x="1147.7" y="521.0" width="20.1" height="21.1" fill="#737373"/><rect x="1167.2" y="521.0" width="20.1" height="21.1" fill="#787878"/><rect x="1186.8" y="521.0" width="20.1" height="21.1" fill="#737373"/><rect x="1206.3" y="521.0" width="20.1" height="21.1" fill="#787878"/><rect x="1225.8" y="521.0" width="20.1" height="21.1" fill="#7d7d7d"/><rect x="1245.4" y="521.0" width="20.1" height="21.1" fill="#828282"/><rect x="1264.9" y="521.0" width="20.1" height="21.1" fill="#787878"/><rect x="1284.4" y="521.0" width="20.1" height="21.1" fill="#828282"/><rect x="1303.9" y="521.0" width="20.1" height="21.1" fill="#8c8c8c"/><rect x="1323.5" y="521.0" width="20.1" height="21.1" fill="#969696"/><rect x="1343.0" y="521.0" width="20.1" height="21.1" fill="#969696"/><rect x="1362.5" y="521.0" width="20.1" height="21.1" fill="#969696"/><rect x="952.4" y="541.5" width="20.1" height="21.1" fill="#7d7d7d"/><rect x="972.0" y="541.5" width="20.1" height="21.1" fill="#7d7d7d"/><rect x="991.5" y="541.5" width="20.1" height="21.1" fill="#7d7d7d"/><rect x="1011.0" y="541.5" width="20.1" height="21.1" fill="#787878"/><rect x="1030.6" y="541.5" width="20.1" height="21.1" fill="#787878"/><rect x="1050.1" y="541.5" width="20.1" height="21.1" fill="#737373"/><rect x="1069.6" y="541.5" width="20.1" height="21.1" fill="#828282"/><rect x="1089.1" y="541.5" width="20.1" height="21.1" fill="#7d7d7d"/><rect x="1108.7" y="541.5" width="20.1" height="21.1" fill="#828282"/><rect x="1128.2" y="541.5" width="20.1" height="21.1" fill="#737373"/><rect x="1147.7" y="541.5" width="20.1" height="21.1" fill="#878787"/><rect x="1167.2" y="541.5" width="20.1" height="21.1" fill="#8c8c8c"/><rect x="1186.8" y="541.5" width="20.1" height="21.1" fill="#828282"/><rect x="1206.3" y="541.5" width="20.1" height="21.1" fill="#787878"/><rect x="1225.8" y="541.5" width="20.1" height="21.1" fill="#6e6e6e"/><rect x="1245.4" y="541.5" width="20.1" height="21.1" fill="#787878"/><rect x="1264.9" y="541.5" width="20.1" height="21.1" fill="#8c8c8c"/><rect x="1284.4" y="541.5" width="20.1" height="21.1" fill="#969696"/><rect x="1303.9" y="541.5" width="20.1" height="21.1" fill="#aaaaaa"/><rect x="1323.5" y="541.5" width="20.1" height="21.1" fill="#aaaaaa"/><rect x="1343.0" y="541.5" width="20.1" height="21.1" fill="#aaaaaa"/><rect x="1362.5" y="541.5" width="20.1" height="21.1" fill="#aaaaaa"/><rect x="952.4" y="562.1" width="20.1" height="21.1" fill="#787878"/><rect x="972.0" y="562.1" width="20.1" height="21.1" fill="#787878"/><rect x="991.5" y="562.1" width="20.1" height="21.1" fill="#787878"/><rect x="1011.0" y="562.1" width="20.1" height="21.1" fill="#737373"/><rect x="1030.6" y="562.1" width="20.1" height="21.1" fill="#6e6e6e"/><rect x="1050.1" y="562.1" width="20.1" height="21.1" fill="#646464"/><rect x="1069.6" y="562.1" width="20.1" height="21.1" fill="#828282"/><rect x="1089.1" y="562.1" width="20.1" height="21.1" fill="#7d7d7d"/><rect x="1108.7" y="562.1" width="20.1" height="21.1" fill="#919191"/><rect x="1128.2" y="562.1" width="20.1" height="21.1" fill="#8c8c8c"/><rect x="1147.7" y="562.1" width="20.1" height="21.1" fill="#8c8c8c"/><rect x="1167.2" y="562.1" width="20.1" height="21.1" fill="#919191"/><rect x="1186.8" y="562.1" width="20.1" height="21.1" fill="#919191"/><rect x="1206.3" y="562.1" width="20.1" height="21.1" fill="#8c8c8c"/><rect x="1225.8" y="562.1" width="20.1" height="21.1" fill="#787878"/><rect x="1245.4" y="562.1" width="20.1" height="21.1" fill="#828282"/><rect x="1264.9" y="562.1" width="20.1" height="21.1" fill="#828282"/><rect x="1284.4" y="562.1" width="20.1" height="21.1" fill="#9b9b9b"/><rect x="1303.9" y="562.1" width="20.1" height="21.1" fill="#aaaaaa"/><rect x="1323.5" y="562.1" width="20.1" height="21.1" fill="#aaaaaa"/><rect x="1343.0" y="562.1" width="20.1" height="21.1" fill="#aaaaaa"/><rect x="1362.5" y="562.1" width="20.1" height="21.1" fill="#aaaaaa"/><rect x="952.4" y="582.6" width="20.1" height="21.1" fill="#828282"/><rect x="972.0" y="582.6" width="20.1" height="21.1" fill="#828282"/><rect x="991.5" y="582.6" width="20.1" height="21.1" fill="#828282"/><rect x="1011.0" y="582.6" width="20.1" height="21.1" fill="#828282"/><rect x="1030.6" y="582.6" width="20.1" height="21.1" fill="#878787"/><rect x="1050.1" y="582.6" width="20.1" height="21.1" fill="#828282"/><rect x="1069.6" y="582.6" width="20.1" height="21.1" fill="#787878"/><rect x="1089.1" y="582.6" width="20.1" height="21.1" fill="#696969"/><rect x="1108.7" y="582.6" width="20.1" height="21.1" fill="#8c8c8c"/><rect x="1128.2" y="582.6" width="20.1" height="21.1" fill="#878787"/><rect x="1147.7" y="582.6" width="20.1" height="21.1" fill="#8c8c8c"/><rect x="1167.2" y="582.6" width="20.1" height="21.1" fill="#8c8c8c"/><rect x="1186.8" y="582.6" width="20.1" height="21.1" fill="#919191"/><rect x="1206.3" y="582.6" width="20.1" height="21.1" fill="#8c8c8c"/><rect x="1225.8" y="582.6" width="20.1" height="21.1" fill="#828282"/><rect x="1245.4" y="582.6" width="20.1" height="21.1" fill="#787878"/><rect x="1264.9" y="582.6" width="20.1" height="21.1" fill="#878787"/><rect x="1284.4" y="582.6" width="20.1" height="21.1" fill="#9b9b9b"/><rect x="1303.9" y="582.6" width="20.1" height="21.1" fill="#aaaaaa"/><rect x="1323.5" y="582.6" width="20.1" height="21.1" fill="#aaaaaa"/><rect x="1343.0" y="582.6" width="20.1" height="21.1" fill="#aaaaaa"/><rect x="1362.5" y="582.6" width="20.1" height="21.1" fill="#aaaaaa"/><rect x="952.4" y="603.1" width="20.1" height="21.1" fill="#878787"/><rect x="972.0" y="603.1" width="20.1" height="21.1" fill="#878787"/><rect x="991.5" y="603.1" width="20.1" height="21.1" fill="#878787"/><rect x="1011.0" y="603.1" width="20.1" height="21.1" fill="#8c8c8c"/><rect x="1030.6" y="603.1" width="20.1" height="21.1" fill="#8c8c8c"/><rect x="1050.1" y="603.1" width="20.1" height="21.1" fill="#8c8c8c"/><rect x="1069.6" y="603.1" width="20.1" height="21.1" fill="#878787"/><rect x="1089.1" y="603.1" width="20.1" height="21.1" fill="#828282"/><rect x="1108.7" y="603.1" width="20.1" height="21.1" fill="#919191"/><rect x="1128.2" y="603.1" width="20.1" height="21.1" fill="#8c8c8c"/><rect x="1147.7" y="603.1" width="20.1" height="21.1" fill="#969696"/><rect x="1167.2" y="603.1" width="20.1" height="21.1" fill="#828282"/><rect x="1186.8" y="603.1" width="20.1" height="21.1" fill="#919191"/><rect x="1206.3" y="603.1" width="20.1" height="21.1" fill="#8c8c8c"/><rect x="1225.8" y="603.1" width="20.1" height="21.1" fill="#8c8c8c"/><rect x="1245.4" y="603.1" width="20.1" height="21.1" fill="#878787"/><rect x="1264.9" y="603.1" width="20.1" height="21.1" fill="#919191"/><rect x="1284.4" y="603.1" width="20.1" height="21.1" fill="#a0a0a0"/><rect x="1303.9" y="603.1" width="20.1" height="21.1" fill="#aaaaaa"/><rect x="1323.5" y="603.1" width="20.1" height="21.1" fill="#aaaaaa"/><rect x="1343.0" y="603.1" width="20.1" height="21.1" fill="#aaaaaa"/><rect x="1362.5" y="603.1" width="20.1" height="21.1" fill="#aaaaaa"/><rect x="952.4" y="623.6" width="20.1" height="21.1" fill="#8c8c8c"/><rect x="972.0" y="623.6" width="20.1" height="21.1" fill="#8c8c8c"/><rect x="991.5" y="623.6" width="20.1" height="21.1" fill="#8c8c8c"/><rect x="1011.0" y="623.6" width="20.1" height="21.1" fill="#8c8c8c"/><rect x="1030.6" y="623.6" width="20.1" height="21.1" fill="#8c8c8c"/><rect x="1050.1" y="623.6" width="20.1" height="21.1" fill="#878787"/><rect x="1069.6" y="623.6" width="20.1" height="21.1" fill="#8c8c8c"/><rect x="1089.1" y="623.6" width="20.1" height="21.1" fill="#8c8c8c"/><rect x="1108.7" y="623.6" width="20.1" height="21.1" fill="#8c8c8c"/><rect x="1128.2" y="623.6" width="20.1" height="21.1" fill="#828282"/><rect x="1147.7" y="623.6" width="20.1" height="21.1" fill="#969696"/><rect x="1167.2" y="623.6" width="20.1" height="21.1" fill="#969696"/><rect x="1186.8" y="623.6" width="20.1" height="21.1" fill="#919191"/><rect x="1206.3" y="623.6" width="20.1" height="21.1" fill="#8c8c8c"/><rect x="1225.8" y="623.6" width="20.1" height="21.1" fill="#8c8c8c"/><rect x="1245.4" y="623.6" width="20.1" height="21.1" fill="#8c8c8c"/><rect x="1264.9" y="623.6" width="20.1" height="21.1" fill="#969696"/><rect x="1284.4" y="623.6" width="20.1" height="21.1" fill="#a0a0a0"/><rect x="1303.9" y="623.6" width="20.1" height="21.1" fill="#aaaaaa"/><rect x="1323.5" y="623.6" width="20.1" height="21.1" fill="#aaaaaa"/><rect x="1343.0" y="623.6" width="20.1" height="21.1" fill="#aaaaaa"/><rect x="1362.5" y="623.6" width="20.1" height="21.1" fill="#aaaaaa"/><rect x="952.4" y="644.1" width="20.1" height="21.1" fill="#8c8c8c"/><rect x="972.0" y="644.1" width="20.1" height="21.1" fill="#8c8c8c"/><rect x="991.5" y="644.1" width="20.1" height="21.1" fill="#8c8c8c"/><rect x="1011.0" y="644.1" width="20.1" height="21.1" fill="#8c8c8c"/><rect x="1030.6" y="644.1" width="20.1" height="21.1" fill="#878787"/><rect x="1050.1" y="644.1" width="20.1" height="21.1" fill="#8c8c8c"/><rect x="1069.6" y="644.1" width="20.1" height="21.1" fill="#919191"/><rect x="1089.1" y="644.1" width="20.1" height="21.1" fill="#8c8c8c"/><rect x="1108.7" y="644.1" width="20.1" height="21.1" fill="#8c8c8c"/><rect x="1128.2" y="644.1" width="20.1" height="21.1" fill="#8c8c8c"/><rect x="1147.7" y="644.1" width="20.1" height="21.1" fill="#969696"/><rect x="1167.2" y="644.1" width="20.1" height="21.1" fill="#919191"/><rect x="1186.8" y="644.1" width="20.1" height="21.1" fill="#969696"/><rect x="1206.3" y="644.1" width="20.1" height="21.1" fill="#919191"/><rect x="1225.8" y="644.1" width="20.1" height="21.1" fill="#8c8c8c"/><rect x="1245.4" y="644.1" width="20.1" height="21.1" fill="#919191"/><rect x="1264.9" y="644.1" width="20.1" height="21.1" fill="#969696"/><rect x="1284.4" y="644.1" width="20.1" height="21.1" fill="#a5a5a5"/><rect x="1303.9" y="644.1" width="20.1" height="21.1" fill="#aaaaaa"/><rect x="1323.5" y="644.1" width="20.1" height="21.1" fill="#aaaaaa"/><rect x="1343.0" y="644.1" width="20.1" height="21.1" fill="#aaaaaa"/><rect x="1362.5" y="644.1" width="20.1" height="21.1" fill="#aaaaaa"/><rect x="952.4" y="664.7" width="20.1" height="21.1" fill="#828282"/><rect x="972.0" y="664.7" width="20.1" height="21.1" fill="#828282"/><rect x="991.5" y="664.7" width="20.1" height="21.1" fill="#828282"/><rect x="1011.0" y="664.7" width="20.1" height="21.1" fill="#8c8c8c"/><rect x="1030.6" y="664.7" width="20.1" height="21.1" fill="#919191"/><rect x="1050.1" y="664.7" width="20.1" height="21.1" fill="#878787"/><rect x="1069.6" y="664.7" width="20.1" height="21.1" fill="#6e6e6e"/><rect x="1089.1" y="664.7" width="20.1" height="21.1" fill="#878787"/><rect x="1108.7" y="664.7" width="20.1" height="21.1" fill="#919191"/><rect x="1128.2" y="664.7" width="20.1" height="21.1" fill="#828282"/><rect x="1147.7" y="664.7" width="20.1" height="21.1" fill="#8c8c8c"/><rect x="1167.2" y="664.7" width="20.1" height="21.1" fill="#919191"/><rect x="1186.8" y="664.7" width="20.1" height="21.1" fill="#969696"/><rect x="1206.3" y="664.7" width="20.1" height="21.1" fill="#969696"/><rect x="1225.8" y="664.7" width="20.1" height="21.1" fill="#969696"/><rect x="1245.4" y="664.7" width="20.1" height="21.1" fill="#969696"/><rect x="1264.9" y="664.7" width="20.1" height="21.1" fill="#9b9b9b"/><rect x="1284.4" y="664.7" width="20.1" height="21.1" fill="#a5a5a5"/><rect x="1303.9" y="664.7" width="20.1" height="21.1" fill="#aaaaaa"/><rect x="1323.5" y="664.7" width="20.1" height="21.1" fill="#aaaaaa"/><rect x="1343.0" y="664.7" width="20.1" height="21.1" fill="#aaaaaa"/><rect x="1362.5" y="664.7" width="20.1" height="21.1" fill="#aaaaaa"/><rect x="952.4" y="685.2" width="20.1" height="21.1" fill="#7d7d7d"/><rect x="972.0" y="685.2" width="20.1" height="21.1" fill="#7d7d7d"/><rect x="991.5" y="685.2" width="20.1" height="21.1" fill="#7d7d7d"/><rect x="1011.0" y="685.2" width="20.1" height="21.1" fill="#878787"/><rect x="1030.6" y="685.2" width="20.1" height="21.1" fill="#8c8c8c"/><rect x="1050.1" y="685.2" width="20.1" height="21.1" fill="#828282"/><rect x="1069.6" y="685.2" width="20.1" height="21.1" fill="#787878"/><rect x="1089.1" y="685.2" width="20.1" height="21.1" fill="#878787"/><rect x="1108.7" y="685.2" width="20.1" height="21.1" fill="#919191"/><rect x="1128.2" y="685.2" width="20.1" height="21.1" fill="#8c8c8c"/><rect x="1147.7" y="685.2" width="20.1" height="21.1" fill="#969696"/><rect x="1167.2" y="685.2" width="20.1" height="21.1" fill="#969696"/><rect x="1186.8" y="685.2" width="20.1" height="21.1" fill="#969696"/><rect x="1206.3" y="685.2" width="20.1" height="21.1" fill="#969696"/><rect x="1225.8" y="685.2" width="20.1" height="21.1" fill="#969696"/><rect x="1245.4" y="685.2" width="20.1" height="21.1" fill="#9b9b9b"/><rect x="1264.9" y="685.2" width="20.1" height="21.1" fill="#a0a0a0"/><rect x="1284.4" y="685.2" width="20.1" height="21.1" fill="#a8a8a8"/><rect x="1303.9" y="685.2" width="20.1" height="21.1" fill="#aaaaaa"/><rect x="1323.5" y="685.2" width="20.1" height="21.1" fill="#aaaaaa"/><rect x="1343.0" y="685.2" width="20.1" height="21.1" fill="#aaaaaa"/><rect x="1362.5" y="685.2" width="20.1" height="21.1" fill="#aaaaaa"/><rect x="952.4" y="705.7" width="20.1" height="21.1" fill="#737373"/><rect x="972.0" y="705.7" width="20.1" height="21.1" fill="#737373"/><rect x="991.5" y="705.7" width="20.1" height="21.1" fill="#737373"/><rect x="1011.0" y="705.7" width="20.1" height="21.1" fill="#878787"/><rect x="1030.6" y="705.7" width="20.1" height="21.1" fill="#7d7d7d"/><rect x="1050.1" y="705.7" width="20.1" height="21.1" fill="#787878"/><rect x="1069.6" y="705.7" width="20.1" height="21.1" fill="#7d7d7d"/><rect x="1089.1" y="705.7" width="20.1" height="21.1" fill="#878787"/><rect x="1108.7" y="705.7" width="20.1" height="21.1" fill="#969696"/><rect x="1128.2" y="705.7" width="20.1" height="21.1" fill="#8c8c8c"/><rect x="1147.7" y="705.7" width="20.1" height="21.1" fill="#969696"/><rect x="1167.2" y="705.7" width="20.1" height="21.1" fill="#969696"/><rect x="1186.8" y="705.7" width="20.1" height="21.1" fill="#9b9b9b"/><rect x="1206.3" y="705.7" width="20.1" height="21.1" fill="#9b9b9b"/><rect x="1225.8" y="705.7" width="20.1" height="21.1" fill="#9b9b9b"/><rect x="1245.4" y="705.7" width="20.1" height="21.1" fill="#a0a0a0"/><rect x="1264.9" y="705.7" width="20.1" height="21.1" fill="#a5a5a5"/><rect x="1284.4" y="705.7" width="20.1" height="21.1" fill="#aaaaaa"/><rect x="1303.9" y="705.7" width="20.1" height="21.1" fill="#aaaaaa"/><rect x="1323.5" y="705.7" width="20.1" height="21.1" fill="#aaaaaa"/><rect x="1343.0" y="705.7" width="20.1" height="21.1" fill="#aaaaaa"/><rect x="1362.5" y="705.7" width="20.1" height="21.1" fill="#aaaaaa"/><rect x="952.4" y="726.2" width="20.1" height="21.1" fill="#787878"/><rect x="972.0" y="726.2" width="20.1" height="21.1" fill="#787878"/><rect x="991.5" y="726.2" width="20.1" height="21.1" fill="#787878"/><rect x="1011.0" y="726.2" width="20.1" height="21.1" fill="#828282"/><rect x="1030.6" y="726.2" width="20.1" height="21.1" fill="#7d7d7d"/><rect x="1050.1" y="726.2" width="20.1" height="21.1" fill="#828282"/><rect x="1069.6" y="726.2" width="20.1" height="21.1" fill="#878787"/><rect x="1089.1" y="726.2" width="20.1" height="21.1" fill="#8c8c8c"/><rect x="1108.7" y="726.2" width="20.1" height="21.1" fill="#919191"/><rect x="1128.2" y="726.2" width="20.1" height="21.1" fill="#8c8c8c"/><rect x="1147.7" y="726.2" width="20.1" height="21.1" fill="#a5a5a5"/><rect x="1167.2" y="726.2" width="20.1" height="21.1" fill="#aaaaaa"/><rect x="1186.8" y="726.2" width="20.1" height="21.1" fill="#aaaaaa"/><rect x="1206.3" y="726.2" width="20.1" height="21.1" fill="#aaaaaa"/><rect x="1225.8" y="726.2" width="20.1" height="21.1" fill="#aaaaaa"/><rect x="1245.4" y="726.2" width="20.1" height="21.1" fill="#aaaaaa"/><rect x="1264.9" y="726.2" width="20.1" height="21.1" fill="#aaaaaa"/><rect x="1284.4" y="726.2" width="20.1" height="21.1" fill="#aaaaaa"/><rect x="1303.9" y="726.2" width="20.1" height="21.1" fill="#aaaaaa"/><rect x="1323.5" y="726.2" width="20.1" height="21.1" fill="#aaaaaa"/><rect x="1343.0" y="726.2" width="20.1" height="21.1" fill="#aaaaaa"/><rect x="1362.5" y="726.2" width="20.1" height="21.1" fill="#aaaaaa"/><rect x="952.4" y="746.8" width="20.1" height="21.1" fill="#6e6e6e"/><rect x="972.0" y="746.8" width="20.1" height="21.1" fill="#6e6e6e"/><rect x="991.5" y="746.8" width="20.1" height="21.1" fill="#6e6e6e"/><rect x="1011.0" y="746.8" width="20.1" height="21.1" fill="#787878"/><rect x="1030.6" y="746.8" width="20.1" height="21.1" fill="#828282"/><rect x="1050.1" y="746.8" width="20.1" height="21.1" fill="#828282"/><rect x="1069.6" y="746.8" width="20.1" height="21.1" fill="#8c8c8c"/><rect x="1089.1" y="746.8" width="20.1" height="21.1" fill="#8c8c8c"/><rect x="1108.7" y="746.8" width="20.1" height="21.1" fill="#969696"/><rect x="1128.2" y="746.8" width="20.1" height="21.1" fill="#919191"/><rect x="1147.7" y="746.8" width="20.1" height="21.1" fill="#aaaaaa"/><rect x="1167.2" y="746.8" width="20.1" height="21.1" fill="#aaaaaa"/><rect x="1186.8" y="746.8" width="20.1" height="21.1" fill="#aaaaaa"/><rect x="1206.3" y="746.8" width="20.1" height="21.1" fill="#aaaaaa"/><rect x="1225.8" y="746.8" width="20.1" height="21.1" fill="#aaaaaa"/><rect x="1245.4" y="746.8" width="20.1" height="21.1" fill="#aaaaaa"/><rect x="1264.9" y="746.8" width="20.1" height="21.1" fill="#aaaaaa"/><rect x="1284.4" y="746.8" width="20.1" height="21.1" fill="#aaaaaa"/><rect x="1303.9" y="746.8" width="20.1" height="21.1" fill="#aaaaaa"/><rect x="1323.5" y="746.8" width="20.1" height="21.1" fill="#aaaaaa"/><rect x="1343.0" y="746.8" width="20.1" height="21.1" fill="#aaaaaa"/><rect x="1362.5" y="746.8" width="20.1" height="21.1" fill="#aaaaaa"/><rect x="952.4" y="767.3" width="20.1" height="21.1" fill="#6e6e6e"/><rect x="972.0" y="767.3" width="20.1" height="21.1" fill="#6e6e6e"/><rect x="991.5" y="767.3" width="20.1" height="21.1" fill="#6e6e6e"/><rect x="1011.0" y="767.3" width="20.1" height="21.1" fill="#787878"/><rect x="1030.6" y="767.3" width="20.1" height="21.1" fill="#7d7d7d"/><rect x="1050.1" y="767.3" width="20.1" height="21.1" fill="#7d7d7d"/><rect x="1069.6" y="767.3" width="20.1" height="21.1" fill="#878787"/><rect x="1089.1" y="767.3" width="20.1" height="21.1" fill="#8c8c8c"/><rect x="1108.7" y="767.3" width="20.1" height="21.1" fill="#969696"/><rect x="1128.2" y="767.3" width="20.1" height="21.1" fill="#8c8c8c"/><rect x="1147.7" y="767.3" width="20.1" height="21.1" fill="#a0a0a0"/><rect x="1167.2" y="767.3" width="20.1" height="21.1" fill="#a5a5a5"/><rect x="1186.8" y="767.3" width="20.1" height="21.1" fill="#a5a5a5"/><rect x="1206.3" y="767.3" width="20.1" height="21.1" fill="#a5a5a5"/><rect x="1225.8" y="767.3" width="20.1" height="21.1" fill="#a5a5a5"/><rect x="1245.4" y="767.3" width="20.1" height="21.1" fill="#a5a5a5"/><rect x="1264.9" y="767.3" width="20.1" height="21.1" fill="#a5a5a5"/><rect x="1284.4" y="767.3" width="20.1" height="21.1" fill="#a5a5a5"/><rect x="1303.9" y="767.3" width="20.1" height="21.1" fill="#a5a5a5"/><rect x="1323.5" y="767.3" width="20.1" height="21.1" fill="#a5a5a5"/><rect x="1343.0" y="767.3" width="20.1" height="21.1" fill="#a5a5a5"/><rect x="1362.5" y="767.3" width="20.1" height="21.1" fill="#a5a5a5"/><rect x="952.4" y="787.8" width="20.1" height="21.1" fill="#6e6e6e"/><rect x="972.0" y="787.8" width="20.1" height="21.1" fill="#6e6e6e"/><rect x="991.5" y="787.8" width="20.1" height="21.1" fill="#6e6e6e"/><rect x="1011.0" y="787.8" width="20.1" height="21.1" fill="#787878"/><rect x="1030.6" y="787.8" width="20.1" height="21.1" fill="#7d7d7d"/><rect x="1050.1" y="787.8" width="20.1" height="21.1" fill="#7d7d7d"/><rect x="1069.6" y="787.8" width="20.1" height="21.1" fill="#878787"/><rect x="1089.1" y="787.8" width="20.1" height="21.1" fill="#8c8c8c"/><rect x="1108.7" y="787.8" width="20.1" height="21.1" fill="#969696"/><rect x="1128.2" y="787.8" width="20.1" height="21.1" fill="#8c8c8c"/><rect x="1147.7" y="787.8" width="20.1" height="21.1" fill="#a0a0a0"/><rect x="1167.2" y="787.8" width="20.1" height="21.1" fill="#a5a5a5"/><rect x="1186.8" y="787.8" width="20.1" height="21.1" fill="#a5a5a5"/><rect x="1206.3" y="787.8" width="20.1" height="21.1" fill="#a5a5a5"/><rect x="1225.8" y="787.8" width="20.1" height="21.1" fill="#a5a5a5"/><rect x="1245.4" y="787.8" width="20.1" height="21.1" fill="#a5a5a5"/><rect x="1264.9" y="787.8" width="20.1" height="21.1" fill="#a5a5a5"/><rect x="1284.4" y="787.8" width="20.1" height="21.1" fill="#a5a5a5"/><rect x="1303.9" y="787.8" width="20.1" height="21.1" fill="#a5a5a5"/><rect x="1323.5" y="787.8" width="20.1" height="21.1" fill="#a5a5a5"/><rect x="1343.0" y="787.8" width="20.1" height="21.1" fill="#a5a5a5"/><rect x="1362.5" y="787.8" width="20.1" height="21.1" fill="#a5a5a5"/><rect x="952.4" y="808.3" width="20.1" height="21.1" fill="#6e6e6e"/><rect x="972.0" y="808.3" width="20.1" height="21.1" fill="#6e6e6e"/><rect x="991.5" y="808.3" width="20.1" height="21.1" fill="#6e6e6e"/><rect x="1011.0" y="808.3" width="20.1" height="21.1" fill="#787878"/><rect x="1030.6" y="808.3" width="20.1" height="21.1" fill="#7d7d7d"/><rect x="1050.1" y="808.3" width="20.1" height="21.1" fill="#7d7d7d"/><rect x="1069.6" y="808.3" width="20.1" height="21.1" fill="#878787"/><rect x="1089.1" y="808.3" width="20.1" height="21.1" fill="#8c8c8c"/><rect x="1108.7" y="808.3" width="20.1" height="21.1" fill="#969696"/><rect x="1128.2" y="808.3" width="20.1" height="21.1" fill="#8c8c8c"/><rect x="1147.7" y="808.3" width="20.1" height="21.1" fill="#a0a0a0"/><rect x="1167.2" y="808.3" width="20.1" height="21.1" fill="#a5a5a5"/><rect x="1186.8" y="808.3" width="20.1" height="21.1" fill="#a5a5a5"/><rect x="1206.3" y="808.3" width="20.1" height="21.1" fill="#a5a5a5"/><rect x="1225.8" y="808.3" width="20.1" height="21.1" fill="#a5a5a5"/><rect x="1245.4" y="808.3" width="20.1" height="21.1" fill="#a5a5a5"/><rect x="1264.9" y="808.3" width="20.1" height="21.1" fill="#a5a5a5"/><rect x="1284.4" y="808.3" width="20.1" height="21.1" fill="#a5a5a5"/><rect x="1303.9" y="808.3" width="20.1" height="21.1" fill="#a5a5a5"/><rect x="1323.5" y="808.3" width="20.1" height="21.1" fill="#a5a5a5"/><rect x="1343.0" y="808.3" width="20.1" height="21.1" fill="#a5a5a5"/><rect x="1362.5" y="808.3" width="20.1" height="21.1" fill="#a5a5a5"/><ellipse cx="1262" cy="446" rx="11" ry="12" fill="#282828"/><ellipse cx="1252" cy="428" rx="10" ry="9" fill="#3c3c3c"/><ellipse cx="1134" cy="455" rx="7" ry="24" fill="#4b4b4b"/><ellipse cx="1226" cy="456" rx="9" ry="10" fill="#4b4b4b"/><ellipse cx="1079" cy="680" rx="8" ry="8" fill="#505050"/><ellipse cx="1330" cy="445" rx="12" ry="15" fill="#5a5a5a"/><ellipse cx="1000" cy="740" rx="8" ry="40" fill="#5f5f5f"/></g><polygon points="1345,520 1333,531 1311,539 1298,544 1293,557 1302,575 1305,628 1296,648 1282,667 1272,690 1268,733 1149,733 1149,776 1345,776" fill="#a5a5a5" filter="url(#fV)"/></g><rect x="1159.5" y="174.5" width="172.7" height="140.7" fill="none" stroke="#454545" stroke-width="1.6"/><rect x="1168.8" y="306.3" width="10.2" height="8.9" fill="#000"/><rect x="1187.2" y="293.3" width="11.1" height="21.9" fill="#000"/><rect x="1206.0" y="185.0" width="10.6" height="130.2" fill="#000"/><rect x="1224.9" y="245.5" width="10.3" height="69.7" fill="#000"/><rect x="1243.0" y="262.7" width="10.6" height="52.5" fill="#000"/><rect x="1261.8" y="289.0" width="10.2" height="26.2" fill="#000"/><rect x="1280.2" y="306.3" width="10.6" height="8.9" fill="#000"/><rect x="1298.8" y="306.3" width="10.4" height="8.9" fill="#000"/><rect x="1317.6" y="311.0" width="10.2" height="4.2" fill="#000"/><text x="1163.0" y="335.7" text-anchor="middle" font-size="15.5">1</text><text x="1189.6" y="335.7" text-anchor="middle" font-size="15.5">2</text><text x="1216.0" y="335.7" text-anchor="middle" font-size="15.5">3</text><text x="1242.3" y="335.7" text-anchor="middle" font-size="15.5">4</text><text x="1269.4" y="335.7" text-anchor="middle" font-size="15.5">5</text><text x="1296.0" y="335.7" text-anchor="middle" font-size="15.5">6</text><text x="1321.9" y="335.7" text-anchor="middle" font-size="15.5">7</text><text x="1189.0" y="352.2" font-size="17">Particle Sizes</text><rect x="1149.3" y="585.4" width="175.8" height="147.1" fill="none" stroke="#454545" stroke-width="1.6"/><rect x="1159.9" y="722.7" width="9.3" height="9.8" fill="#000"/><rect x="1179.0" y="708.9" width="8.3" height="23.6" fill="#000"/><rect x="1197.6" y="640.4" width="8.8" height="92.1" fill="#000"/><rect x="1217.0" y="613.0" width="9.3" height="119.5" fill="#000"/><rect x="1235.6" y="608.5" width="8.8" height="124.0" fill="#000"/><rect x="1254.7" y="658.4" width="8.8" height="74.1" fill="#000"/><rect x="1273.3" y="677.6" width="9.3" height="54.9" fill="#000"/><rect x="1292.7" y="722.7" width="8.5" height="9.8" fill="#000"/><rect x="1310.8" y="727.2" width="9.2" height="5.3" fill="#000"/><text x="1152.0" y="754.6" text-anchor="middle" font-size="15.5">1</text><text x="1179.8" y="754.6" text-anchor="middle" font-size="15.5">2</text><text x="1207.0" y="754.6" text-anchor="middle" font-size="15.5">3</text><text x="1234.3" y="754.6" text-anchor="middle" font-size="15.5">4</text><text x="1260.8" y="754.6" text-anchor="middle" font-size="15.5">5</text><text x="1288.0" y="754.6" text-anchor="middle" font-size="15.5">6</text><text x="1314.5" y="754.6" text-anchor="middle" font-size="15.5">7</text><text x="1176.0" y="775.8" font-size="17">Particle Sizes</text><rect x="1009.5" y="8.5" width="56.5" height="69.5" fill="#fff" stroke="#111" stroke-width="2"/><text x="1026.5" y="56.7" font-size="40" class="reg">b</text><rect x="1009.2" y="421" width="52.5" height="68.5" fill="#fff" stroke="#111" stroke-width="2"/><text x="1027" y="469.8" font-size="40" class="reg">c</text><rect x="1022.9" y="351.4" width="49" height="5.8" fill="#eee" opacity="0.6"/><rect x="1023.9" y="352.4" width="47" height="3.8" fill="#000"/><text x="1023" y="343.3" font-size="13.6">10 nm</text><rect x="1018" y="774.9" width="50.7" height="5.6" fill="#eee" opacity="0.6"/><rect x="1019" y="775.9" width="48.7" height="3.6" fill="#000"/><text x="1021.2" y="768.6" font-size="13.6">10 nm</text>
<text x="1118" y="392.1" font-size="23.5">Reduced</text>
<text x="1130.5" y="818.7" font-size="24.6">Used</text>
</svg>
</body></html>
